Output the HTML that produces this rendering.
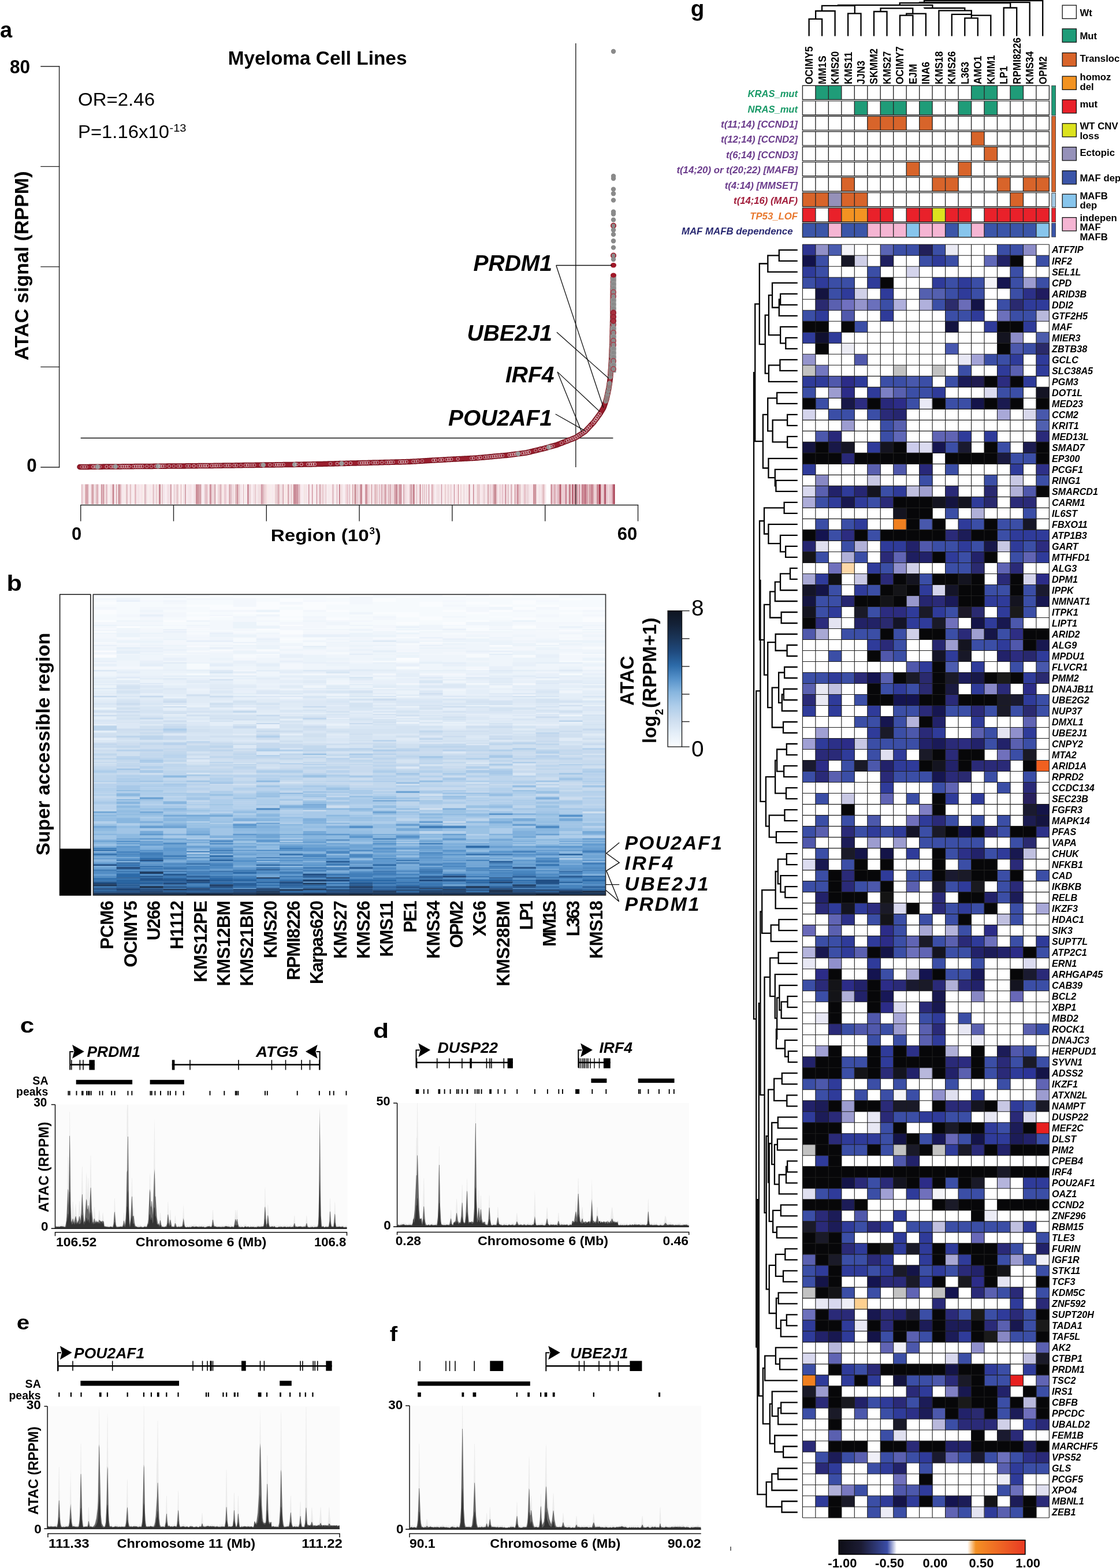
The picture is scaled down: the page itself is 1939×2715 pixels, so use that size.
<!DOCTYPE html>
<html><head><meta charset="utf-8"><title>Figure</title>
<style>html,body{margin:0;padding:0;background:#fff;}svg{display:block;}
text{font-family:"Liberation Sans",Arial,Helvetica,sans-serif;}</style></head>
<body><svg width="1939" height="2715" viewBox="0 0 1939 2715">
<rect width="1939" height="2715" fill="#fff"/>
<text x="0.0" y="64.5" font-size="38" font-weight="bold">a</text>
<text x="394.7" y="111.9" font-size="33" font-weight="bold" textLength="309.8" lengthAdjust="spacingAndGlyphs">Myeloma Cell Lines</text>
<line x1="102.6" y1="114.4" x2="102.6" y2="809.6" stroke="#222" stroke-width="1.4"/>
<line x1="70.3" y1="115.0" x2="103.3" y2="115.0" stroke="#222" stroke-width="1.4"/>
<line x1="70.3" y1="288.4" x2="103.3" y2="288.4" stroke="#222" stroke-width="1.4"/>
<line x1="70.3" y1="461.9" x2="103.3" y2="461.9" stroke="#222" stroke-width="1.4"/>
<line x1="70.3" y1="635.4" x2="103.3" y2="635.4" stroke="#222" stroke-width="1.4"/>
<line x1="70.3" y1="809.0" x2="103.3" y2="809.0" stroke="#222" stroke-width="1.4"/>
<text x="17.0" y="126.5" font-size="33" font-weight="bold" textLength="35.2" lengthAdjust="spacingAndGlyphs">80</text>
<text x="46.2" y="817.0" font-size="33" font-weight="bold" textLength="17.4" lengthAdjust="spacingAndGlyphs">0</text>
<text x="49.4" y="624.0" font-size="33.5" font-weight="bold" textLength="327.5" lengthAdjust="spacingAndGlyphs" transform="rotate(-90 49.4 624.0)">ATAC signal (RPPM)</text>
<text x="135.0" y="182.7" font-size="31" textLength="133.0" lengthAdjust="spacingAndGlyphs">OR=2.46</text>
<text x="135.0" y="238.9" font-size="31" textLength="158.0" lengthAdjust="spacingAndGlyphs">P=1.16x10</text>
<text x="293.5" y="227.5" font-size="19" textLength="29.0" lengthAdjust="spacingAndGlyphs">-13</text>
<line x1="139.7" y1="758.5" x2="1061.4" y2="758.5" stroke="#111" stroke-width="1.3"/>
<line x1="996.8" y1="75.0" x2="996.8" y2="809.0" stroke="#111" stroke-width="1.3"/>
<path fill="#f8e8ec" d="M140.0 838.5h1.0v34.5h-1.0zM170.0 838.5h2.5v34.5h-2.5zM186.0 838.5h1.5v34.5h-1.5zM190.5 838.5h1.0v34.5h-1.0zM193.0 838.5h1.0v34.5h-1.0zM200.0 838.5h1.0v34.5h-1.0zM202.0 838.5h1.5v34.5h-1.5zM212.5 838.5h2.5v34.5h-2.5zM220.5 838.5h1.5v34.5h-1.5zM222.0 838.5h3.0v34.5h-3.0zM241.0 838.5h2.5v34.5h-2.5zM259.0 838.5h3.0v34.5h-3.0zM287.5 838.5h3.0v34.5h-3.0zM303.5 838.5h1.5v34.5h-1.5zM316.5 838.5h1.5v34.5h-1.5zM324.0 838.5h2.0v34.5h-2.0zM331.0 838.5h2.5v34.5h-2.5zM392.0 838.5h3.0v34.5h-3.0zM395.0 838.5h1.0v34.5h-1.0zM405.0 838.5h2.0v34.5h-2.0zM426.5 838.5h1.5v34.5h-1.5zM434.5 838.5h1.5v34.5h-1.5zM440.5 838.5h1.0v34.5h-1.0zM464.5 838.5h3.0v34.5h-3.0zM470.5 838.5h3.0v34.5h-3.0zM486.5 838.5h1.0v34.5h-1.0zM491.0 838.5h1.0v34.5h-1.0zM500.5 838.5h3.0v34.5h-3.0zM519.5 838.5h3.0v34.5h-3.0zM531.0 838.5h3.0v34.5h-3.0zM536.5 838.5h1.0v34.5h-1.0zM537.5 838.5h2.5v34.5h-2.5zM570.5 838.5h1.0v34.5h-1.0zM572.5 838.5h2.5v34.5h-2.5zM581.5 838.5h1.0v34.5h-1.0zM592.5 838.5h1.0v34.5h-1.0zM628.0 838.5h1.0v34.5h-1.0zM629.0 838.5h3.0v34.5h-3.0zM658.5 838.5h1.0v34.5h-1.0zM669.5 838.5h2.0v34.5h-2.0zM722.0 838.5h1.0v34.5h-1.0zM746.0 838.5h1.0v34.5h-1.0zM773.0 838.5h1.5v34.5h-1.5zM787.0 838.5h3.0v34.5h-3.0zM805.5 838.5h1.0v34.5h-1.0zM820.5 838.5h1.0v34.5h-1.0zM830.5 838.5h2.0v34.5h-2.0zM832.5 838.5h2.0v34.5h-2.0zM859.5 838.5h1.5v34.5h-1.5zM862.0 838.5h3.0v34.5h-3.0zM871.5 838.5h2.5v34.5h-2.5zM878.5 838.5h1.0v34.5h-1.0zM917.0 838.5h3.0v34.5h-3.0zM920.0 838.5h3.0v34.5h-3.0zM936.5 838.5h1.0v34.5h-1.0zM943.0 838.5h2.5v34.5h-2.5z"/><path fill="#e4c0c8" d="M141.0 838.5h2.5v34.5h-2.5zM161.5 838.5h2.0v34.5h-2.0zM183.0 838.5h3.0v34.5h-3.0zM441.5 838.5h2.0v34.5h-2.0zM648.0 838.5h1.0v34.5h-1.0zM865.0 838.5h1.5v34.5h-1.5z"/><path fill="#f4e4e8" d="M143.5 838.5h2.5v34.5h-2.5zM156.0 838.5h1.0v34.5h-1.0zM210.0 838.5h2.5v34.5h-2.5zM239.0 838.5h2.0v34.5h-2.0zM255.5 838.5h1.0v34.5h-1.0zM282.5 838.5h3.0v34.5h-3.0zM291.5 838.5h2.0v34.5h-2.0zM326.0 838.5h3.0v34.5h-3.0zM375.5 838.5h2.5v34.5h-2.5zM415.0 838.5h3.0v34.5h-3.0zM444.5 838.5h2.0v34.5h-2.0zM446.5 838.5h1.5v34.5h-1.5zM528.5 838.5h2.5v34.5h-2.5zM560.0 838.5h3.0v34.5h-3.0zM568.5 838.5h2.0v34.5h-2.0zM578.5 838.5h2.0v34.5h-2.0zM584.0 838.5h3.0v34.5h-3.0zM644.0 838.5h3.0v34.5h-3.0zM647.0 838.5h1.0v34.5h-1.0zM654.0 838.5h2.5v34.5h-2.5zM657.5 838.5h1.0v34.5h-1.0zM723.0 838.5h2.5v34.5h-2.5zM754.5 838.5h3.0v34.5h-3.0zM760.5 838.5h1.5v34.5h-1.5zM784.0 838.5h2.0v34.5h-2.0zM801.5 838.5h1.0v34.5h-1.0zM803.5 838.5h2.0v34.5h-2.0zM806.5 838.5h1.5v34.5h-1.5zM808.0 838.5h1.0v34.5h-1.0zM821.5 838.5h2.0v34.5h-2.0zM838.5 838.5h1.0v34.5h-1.0zM841.5 838.5h2.5v34.5h-2.5zM886.5 838.5h1.0v34.5h-1.0zM904.0 838.5h2.5v34.5h-2.5zM910.5 838.5h1.0v34.5h-1.0zM915.5 838.5h1.5v34.5h-1.5zM931.5 838.5h2.5v34.5h-2.5zM934.0 838.5h2.5v34.5h-2.5z"/><path fill="#f8e8e8" d="M146.0 838.5h1.5v34.5h-1.5zM180.5 838.5h2.5v34.5h-2.5zM246.0 838.5h1.0v34.5h-1.0zM252.5 838.5h1.0v34.5h-1.0zM272.0 838.5h3.0v34.5h-3.0zM310.5 838.5h2.5v34.5h-2.5zM359.5 838.5h1.0v34.5h-1.0zM383.5 838.5h2.5v34.5h-2.5zM386.0 838.5h2.0v34.5h-2.0zM449.5 838.5h2.0v34.5h-2.0zM461.5 838.5h3.0v34.5h-3.0zM492.0 838.5h3.0v34.5h-3.0zM495.0 838.5h3.0v34.5h-3.0zM571.5 838.5h1.0v34.5h-1.0zM611.5 838.5h2.0v34.5h-2.0zM627.0 838.5h1.0v34.5h-1.0zM641.0 838.5h2.0v34.5h-2.0zM725.5 838.5h1.0v34.5h-1.0zM768.0 838.5h2.5v34.5h-2.5zM771.5 838.5h1.5v34.5h-1.5zM809.0 838.5h2.5v34.5h-2.5z"/><path fill="#d49ca4" d="M147.5 838.5h3.0v34.5h-3.0z"/><path fill="#d098a4" d="M150.5 838.5h2.0v34.5h-2.0zM251.5 838.5h1.0v34.5h-1.0zM354.5 838.5h1.0v34.5h-1.0zM490.0 838.5h1.0v34.5h-1.0zM741.5 838.5h2.0v34.5h-2.0zM763.5 838.5h2.0v34.5h-2.0z"/><path fill="#d098a0" d="M152.5 838.5h1.0v34.5h-1.0zM206.0 838.5h2.0v34.5h-2.0zM397.0 838.5h1.5v34.5h-1.5zM837.5 838.5h1.0v34.5h-1.0zM924.0 838.5h3.0v34.5h-3.0zM987.0 838.5h1.5v34.5h-1.5z"/><path fill="#f8ecf0" d="M153.5 838.5h2.5v34.5h-2.5zM157.0 838.5h1.0v34.5h-1.0zM197.5 838.5h2.5v34.5h-2.5zM228.0 838.5h2.0v34.5h-2.0zM236.0 838.5h1.5v34.5h-1.5zM254.5 838.5h1.0v34.5h-1.0zM267.5 838.5h2.0v34.5h-2.0zM281.5 838.5h1.0v34.5h-1.0zM285.5 838.5h2.0v34.5h-2.0zM297.0 838.5h1.5v34.5h-1.5zM299.5 838.5h1.0v34.5h-1.0zM308.5 838.5h1.0v34.5h-1.0zM319.0 838.5h1.0v34.5h-1.0zM322.0 838.5h2.0v34.5h-2.0zM333.5 838.5h2.0v34.5h-2.0zM348.5 838.5h3.0v34.5h-3.0zM351.5 838.5h2.0v34.5h-2.0zM418.0 838.5h3.0v34.5h-3.0zM425.0 838.5h1.5v34.5h-1.5zM431.0 838.5h1.5v34.5h-1.5zM436.0 838.5h3.0v34.5h-3.0zM522.5 838.5h3.0v34.5h-3.0zM544.5 838.5h2.5v34.5h-2.5zM551.0 838.5h1.5v34.5h-1.5zM565.5 838.5h2.0v34.5h-2.0zM577.5 838.5h1.0v34.5h-1.0zM593.5 838.5h1.0v34.5h-1.0zM594.5 838.5h1.0v34.5h-1.0zM595.5 838.5h2.5v34.5h-2.5zM603.0 838.5h1.5v34.5h-1.5zM695.5 838.5h1.5v34.5h-1.5zM697.0 838.5h1.0v34.5h-1.0zM700.5 838.5h1.0v34.5h-1.0zM728.5 838.5h1.5v34.5h-1.5zM736.5 838.5h1.5v34.5h-1.5zM739.0 838.5h2.5v34.5h-2.5zM743.5 838.5h2.5v34.5h-2.5zM751.5 838.5h3.0v34.5h-3.0zM762.0 838.5h1.5v34.5h-1.5zM765.5 838.5h2.5v34.5h-2.5zM782.0 838.5h2.0v34.5h-2.0zM813.5 838.5h1.5v34.5h-1.5zM816.5 838.5h2.5v34.5h-2.5zM880.5 838.5h3.0v34.5h-3.0zM887.5 838.5h1.0v34.5h-1.0zM888.5 838.5h1.0v34.5h-1.0z"/><path fill="#dcacb4" d="M158.0 838.5h1.5v34.5h-1.5zM738.0 838.5h1.0v34.5h-1.0zM747.0 838.5h2.0v34.5h-2.0zM959.0 838.5h2.0v34.5h-2.0z"/><path fill="#cc9098" d="M159.5 838.5h2.0v34.5h-2.0z"/><path fill="#f8ecec" d="M163.5 838.5h1.0v34.5h-1.0zM172.5 838.5h2.5v34.5h-2.5zM187.5 838.5h3.0v34.5h-3.0zM215.0 838.5h3.0v34.5h-3.0zM230.0 838.5h3.0v34.5h-3.0zM247.0 838.5h3.0v34.5h-3.0zM256.5 838.5h2.5v34.5h-2.5zM262.0 838.5h2.5v34.5h-2.5zM309.5 838.5h1.0v34.5h-1.0zM314.0 838.5h2.5v34.5h-2.5zM373.0 838.5h2.5v34.5h-2.5zM422.0 838.5h3.0v34.5h-3.0zM433.5 838.5h1.0v34.5h-1.0zM443.5 838.5h1.0v34.5h-1.0zM467.5 838.5h3.0v34.5h-3.0zM473.5 838.5h2.5v34.5h-2.5zM485.5 838.5h1.0v34.5h-1.0zM535.5 838.5h1.0v34.5h-1.0zM541.5 838.5h3.0v34.5h-3.0zM567.5 838.5h1.0v34.5h-1.0zM580.5 838.5h1.0v34.5h-1.0zM589.0 838.5h2.0v34.5h-2.0zM606.0 838.5h2.0v34.5h-2.0zM608.0 838.5h2.0v34.5h-2.0zM681.0 838.5h1.0v34.5h-1.0zM706.5 838.5h1.0v34.5h-1.0zM718.0 838.5h1.5v34.5h-1.5zM730.0 838.5h1.0v34.5h-1.0zM777.5 838.5h1.5v34.5h-1.5zM794.0 838.5h3.0v34.5h-3.0zM799.0 838.5h2.5v34.5h-2.5zM815.0 838.5h1.5v34.5h-1.5zM823.5 838.5h2.0v34.5h-2.0zM876.5 838.5h1.0v34.5h-1.0zM902.0 838.5h2.0v34.5h-2.0zM929.5 838.5h2.0v34.5h-2.0z"/><path fill="#f4e0e4" d="M164.5 838.5h1.0v34.5h-1.0zM226.5 838.5h1.5v34.5h-1.5zM237.5 838.5h1.5v34.5h-1.5zM293.5 838.5h1.0v34.5h-1.0zM329.0 838.5h2.0v34.5h-2.0zM336.5 838.5h2.5v34.5h-2.5zM360.5 838.5h2.5v34.5h-2.5zM366.5 838.5h1.0v34.5h-1.0zM404.0 838.5h1.0v34.5h-1.0zM549.0 838.5h2.0v34.5h-2.0zM555.5 838.5h2.5v34.5h-2.5zM707.5 838.5h2.0v34.5h-2.0zM834.5 838.5h3.0v34.5h-3.0zM839.5 838.5h2.0v34.5h-2.0zM866.5 838.5h2.5v34.5h-2.5z"/><path fill="#e0bcc0" d="M165.5 838.5h3.0v34.5h-3.0zM407.0 838.5h3.0v34.5h-3.0zM828.5 838.5h2.0v34.5h-2.0zM940.0 838.5h2.0v34.5h-2.0z"/><path fill="#d49ca8" d="M168.5 838.5h1.5v34.5h-1.5zM451.5 838.5h3.0v34.5h-3.0zM632.0 838.5h1.0v34.5h-1.0zM874.0 838.5h2.5v34.5h-2.5z"/><path fill="#c88490" d="M175.0 838.5h1.0v34.5h-1.0zM195.0 838.5h2.5v34.5h-2.5zM219.5 838.5h1.0v34.5h-1.0zM280.5 838.5h1.0v34.5h-1.0zM512.0 838.5h1.5v34.5h-1.5zM643.0 838.5h1.0v34.5h-1.0zM691.5 838.5h2.0v34.5h-2.0zM726.5 838.5h2.0v34.5h-2.0zM793.0 838.5h1.0v34.5h-1.0zM811.5 838.5h2.0v34.5h-2.0zM819.0 838.5h1.5v34.5h-1.5zM858.0 838.5h1.5v34.5h-1.5zM1033.0 838.5h2.0v34.5h-2.0z"/><path fill="#dcb0b8" d="M176.0 838.5h3.0v34.5h-3.0zM355.5 838.5h1.0v34.5h-1.0zM381.0 838.5h2.5v34.5h-2.5zM659.5 838.5h3.0v34.5h-3.0zM671.5 838.5h2.0v34.5h-2.0zM676.0 838.5h1.5v34.5h-1.5zM698.0 838.5h2.5v34.5h-2.5zM1041.0 838.5h1.5v34.5h-1.5z"/><path fill="#cc909c" d="M179.0 838.5h1.5v34.5h-1.5zM410.0 838.5h2.0v34.5h-2.0zM428.0 838.5h3.0v34.5h-3.0zM510.0 838.5h2.0v34.5h-2.0zM513.5 838.5h3.0v34.5h-3.0zM534.0 838.5h1.5v34.5h-1.5zM927.0 838.5h1.5v34.5h-1.5z"/><path fill="#ecd4d8" d="M191.5 838.5h1.5v34.5h-1.5zM266.0 838.5h1.5v34.5h-1.5zM300.5 838.5h3.0v34.5h-3.0zM318.0 838.5h1.0v34.5h-1.0zM335.5 838.5h1.0v34.5h-1.0zM353.5 838.5h1.0v34.5h-1.0zM368.5 838.5h3.0v34.5h-3.0zM402.5 838.5h1.5v34.5h-1.5zM439.0 838.5h1.5v34.5h-1.5zM448.0 838.5h1.5v34.5h-1.5zM547.0 838.5h1.0v34.5h-1.0zM563.0 838.5h1.0v34.5h-1.0zM564.0 838.5h1.5v34.5h-1.5zM591.0 838.5h1.5v34.5h-1.5zM616.5 838.5h1.5v34.5h-1.5zM662.5 838.5h3.0v34.5h-3.0zM701.5 838.5h2.0v34.5h-2.0zM774.5 838.5h3.0v34.5h-3.0zM781.0 838.5h1.0v34.5h-1.0zM912.5 838.5h3.0v34.5h-3.0zM981.0 838.5h2.5v34.5h-2.5z"/><path fill="#e4c0c4" d="M194.0 838.5h1.0v34.5h-1.0zM503.5 838.5h2.0v34.5h-2.0zM721.0 838.5h1.0v34.5h-1.0zM909.0 838.5h1.5v34.5h-1.5zM1018.5 838.5h2.0v34.5h-2.0z"/><path fill="#c88890" d="M201.0 838.5h1.0v34.5h-1.0z"/><path fill="#f0d8dc" d="M203.5 838.5h1.0v34.5h-1.0zM640.0 838.5h1.0v34.5h-1.0zM719.5 838.5h1.5v34.5h-1.5zM779.0 838.5h2.0v34.5h-2.0zM797.0 838.5h2.0v34.5h-2.0zM846.0 838.5h2.5v34.5h-2.5zM956.0 838.5h1.0v34.5h-1.0zM1004.0 838.5h3.0v34.5h-3.0zM1040.0 838.5h1.0v34.5h-1.0zM1052.0 838.5h3.0v34.5h-3.0z"/><path fill="#cc949c" d="M204.5 838.5h1.5v34.5h-1.5zM341.0 838.5h3.0v34.5h-3.0zM711.5 838.5h2.0v34.5h-2.0zM855.0 838.5h3.0v34.5h-3.0zM879.5 838.5h1.0v34.5h-1.0z"/><path fill="#e4bcc4" d="M208.0 838.5h2.0v34.5h-2.0zM233.0 838.5h3.0v34.5h-3.0zM356.5 838.5h3.0v34.5h-3.0z"/><path fill="#e4c4c8" d="M218.0 838.5h1.5v34.5h-1.5zM396.0 838.5h1.0v34.5h-1.0zM455.5 838.5h3.0v34.5h-3.0zM487.5 838.5h1.0v34.5h-1.0zM673.5 838.5h1.5v34.5h-1.5zM802.5 838.5h1.0v34.5h-1.0z"/><path fill="#dcb4b8" d="M225.0 838.5h1.5v34.5h-1.5z"/><path fill="#f8e4e8" d="M243.5 838.5h2.5v34.5h-2.5zM298.5 838.5h1.0v34.5h-1.0zM639.0 838.5h1.0v34.5h-1.0zM703.5 838.5h3.0v34.5h-3.0zM790.0 838.5h3.0v34.5h-3.0z"/><path fill="#dcb4bc" d="M250.0 838.5h1.5v34.5h-1.5zM421.0 838.5h1.0v34.5h-1.0zM604.5 838.5h1.5v34.5h-1.5z"/><path fill="#ecd0d4" d="M253.5 838.5h1.0v34.5h-1.0zM269.5 838.5h2.5v34.5h-2.5zM378.0 838.5h3.0v34.5h-3.0zM476.0 838.5h3.0v34.5h-3.0zM483.0 838.5h2.5v34.5h-2.5zM575.0 838.5h1.0v34.5h-1.0zM636.0 838.5h3.0v34.5h-3.0zM688.0 838.5h2.5v34.5h-2.5zM749.0 838.5h2.5v34.5h-2.5zM757.5 838.5h1.0v34.5h-1.0zM861.0 838.5h1.0v34.5h-1.0zM937.5 838.5h2.5v34.5h-2.5zM942.0 838.5h1.0v34.5h-1.0zM971.5 838.5h1.0v34.5h-1.0zM972.5 838.5h2.5v34.5h-2.5zM1028.0 838.5h3.0v34.5h-3.0zM1032.0 838.5h1.0v34.5h-1.0zM1042.5 838.5h3.0v34.5h-3.0z"/><path fill="#e0b8c0" d="M264.5 838.5h1.5v34.5h-1.5zM516.5 838.5h3.0v34.5h-3.0zM582.5 838.5h1.5v34.5h-1.5zM668.0 838.5h1.5v34.5h-1.5zM965.0 838.5h2.0v34.5h-2.0z"/><path fill="#c88894" d="M275.0 838.5h3.0v34.5h-3.0zM454.5 838.5h1.0v34.5h-1.0zM508.0 838.5h2.0v34.5h-2.0zM587.0 838.5h2.0v34.5h-2.0zM624.0 838.5h3.0v34.5h-3.0zM690.5 838.5h1.0v34.5h-1.0zM786.0 838.5h1.0v34.5h-1.0z"/><path fill="#f4e4e4" d="M278.0 838.5h2.5v34.5h-2.5zM505.5 838.5h1.0v34.5h-1.0zM525.5 838.5h3.0v34.5h-3.0z"/><path fill="#e8c4cc" d="M290.5 838.5h1.0v34.5h-1.0zM601.0 838.5h2.0v34.5h-2.0zM848.5 838.5h2.0v34.5h-2.0zM869.0 838.5h2.5v34.5h-2.5zM906.5 838.5h2.5v34.5h-2.5zM911.5 838.5h1.0v34.5h-1.0zM1058.0 838.5h1.5v34.5h-1.5z"/><path fill="#d4a4ac" d="M294.5 838.5h2.5v34.5h-2.5zM320.0 838.5h2.0v34.5h-2.0zM623.0 838.5h1.0v34.5h-1.0z"/><path fill="#e8ccd0" d="M305.0 838.5h2.5v34.5h-2.5zM367.5 838.5h1.0v34.5h-1.0zM479.0 838.5h1.5v34.5h-1.5zM488.5 838.5h1.5v34.5h-1.5zM733.5 838.5h3.0v34.5h-3.0zM899.5 838.5h2.5v34.5h-2.5zM983.5 838.5h1.5v34.5h-1.5zM988.5 838.5h2.0v34.5h-2.0z"/><path fill="#d8a4ac" d="M307.5 838.5h1.0v34.5h-1.0zM482.0 838.5h1.0v34.5h-1.0zM996.5 838.5h2.5v34.5h-2.5zM1016.0 838.5h2.5v34.5h-2.5z"/><path fill="#e0b4bc" d="M313.0 838.5h1.0v34.5h-1.0zM731.0 838.5h1.5v34.5h-1.5zM897.5 838.5h2.0v34.5h-2.0zM961.0 838.5h1.0v34.5h-1.0zM967.0 838.5h1.5v34.5h-1.5z"/><path fill="#cc8c98" d="M339.0 838.5h2.0v34.5h-2.0zM363.0 838.5h2.5v34.5h-2.5zM693.5 838.5h2.0v34.5h-2.0zM891.0 838.5h1.0v34.5h-1.0zM894.5 838.5h3.0v34.5h-3.0zM923.0 838.5h1.0v34.5h-1.0zM954.5 838.5h1.5v34.5h-1.5zM999.0 838.5h1.0v34.5h-1.0zM1025.0 838.5h1.0v34.5h-1.0zM1035.0 838.5h2.0v34.5h-2.0z"/><path fill="#d8a8b0" d="M344.0 838.5h2.0v34.5h-2.0zM432.5 838.5h1.0v34.5h-1.0zM498.0 838.5h2.5v34.5h-2.5zM682.0 838.5h3.0v34.5h-3.0zM709.5 838.5h2.0v34.5h-2.0zM770.5 838.5h1.0v34.5h-1.0zM844.0 838.5h2.0v34.5h-2.0zM853.5 838.5h1.5v34.5h-1.5zM885.0 838.5h1.5v34.5h-1.5zM1022.0 838.5h2.0v34.5h-2.0z"/><path fill="#d4a0a8" d="M346.0 838.5h2.5v34.5h-2.5zM610.0 838.5h1.5v34.5h-1.5zM665.5 838.5h2.5v34.5h-2.5zM1026.0 838.5h2.0v34.5h-2.0z"/><path fill="#d094a0" d="M365.5 838.5h1.0v34.5h-1.0zM540.0 838.5h1.5v34.5h-1.5zM548.0 838.5h1.0v34.5h-1.0zM634.0 838.5h2.0v34.5h-2.0zM656.5 838.5h1.0v34.5h-1.0zM717.0 838.5h1.0v34.5h-1.0zM1014.5 838.5h1.5v34.5h-1.5z"/><path fill="#c88c98" d="M371.5 838.5h1.5v34.5h-1.5zM685.0 838.5h3.0v34.5h-3.0z"/><path fill="#e8c8d0" d="M388.0 838.5h1.0v34.5h-1.0zM618.0 838.5h2.0v34.5h-2.0zM680.0 838.5h1.0v34.5h-1.0zM713.5 838.5h1.5v34.5h-1.5zM883.5 838.5h1.5v34.5h-1.5zM957.0 838.5h2.0v34.5h-2.0zM992.5 838.5h2.0v34.5h-2.0zM1000.0 838.5h2.5v34.5h-2.5zM1049.0 838.5h3.0v34.5h-3.0zM1055.0 838.5h2.0v34.5h-2.0z"/><path fill="#ecccd4" d="M389.0 838.5h3.0v34.5h-3.0zM851.5 838.5h2.0v34.5h-2.0zM877.5 838.5h1.0v34.5h-1.0zM892.0 838.5h2.5v34.5h-2.5zM975.0 838.5h1.0v34.5h-1.0zM976.0 838.5h2.5v34.5h-2.5zM1031.0 838.5h1.0v34.5h-1.0zM1057.0 838.5h1.0v34.5h-1.0z"/><path fill="#e0bcc4" d="M398.5 838.5h2.5v34.5h-2.5z"/><path fill="#f0dce0" d="M401.0 838.5h1.5v34.5h-1.5zM506.5 838.5h1.5v34.5h-1.5zM620.0 838.5h3.0v34.5h-3.0zM677.5 838.5h2.5v34.5h-2.5zM732.5 838.5h1.0v34.5h-1.0zM758.5 838.5h2.0v34.5h-2.0zM850.5 838.5h1.0v34.5h-1.0zM928.5 838.5h1.0v34.5h-1.0z"/><path fill="#e8c8cc" d="M412.0 838.5h3.0v34.5h-3.0zM558.0 838.5h2.0v34.5h-2.0zM651.5 838.5h2.5v34.5h-2.5zM825.5 838.5h3.0v34.5h-3.0z"/><path fill="#f0d4d8" d="M458.5 838.5h3.0v34.5h-3.0zM598.0 838.5h3.0v34.5h-3.0z"/><path fill="#d8acb4" d="M480.5 838.5h1.5v34.5h-1.5zM552.5 838.5h1.0v34.5h-1.0zM553.5 838.5h2.0v34.5h-2.0zM576.0 838.5h1.5v34.5h-1.5zM675.0 838.5h1.0v34.5h-1.0z"/><path fill="#c88c94" d="M613.5 838.5h3.0v34.5h-3.0z"/><path fill="#d0949c" d="M633.0 838.5h1.0v34.5h-1.0z"/><path fill="#e0b8bc" d="M649.0 838.5h2.5v34.5h-2.5z"/><path fill="#c4808c" d="M715.0 838.5h2.0v34.5h-2.0z"/><path fill="#f4e0e0" d="M889.5 838.5h1.5v34.5h-1.5z"/><path fill="#b86070" d="M953.5 838.5h1.0v34.5h-1.0z"/><path fill="#ecd0d8" d="M962.0 838.5h3.0v34.5h-3.0z"/><path fill="#b85c6c" d="M968.5 838.5h3.0v34.5h-3.0zM994.5 838.5h2.0v34.5h-2.0z"/><path fill="#c88090" d="M978.5 838.5h2.5v34.5h-2.5z"/><path fill="#c47c88" d="M985.0 838.5h2.0v34.5h-2.0zM1020.5 838.5h1.5v34.5h-1.5z"/><path fill="#a83c50" d="M990.5 838.5h2.0v34.5h-2.0zM1037.0 838.5h3.0v34.5h-3.0zM1061.5 838.5h3.0v34.5h-3.0z"/><path fill="#c47888" d="M1002.5 838.5h1.5v34.5h-1.5zM1007.0 838.5h2.5v34.5h-2.5z"/><path fill="#c8808c" d="M1009.5 838.5h3.0v34.5h-3.0z"/><path fill="#b4586c" d="M1012.5 838.5h2.0v34.5h-2.0z"/><path fill="#b85c70" d="M1024.0 838.5h1.0v34.5h-1.0z"/><path fill="#bc6878" d="M1045.5 838.5h2.5v34.5h-2.5z"/><path fill="#b05064" d="M1048.0 838.5h1.0v34.5h-1.0z"/><path fill="#c88494" d="M1059.5 838.5h2.0v34.5h-2.0z"/>
<rect x="996.30" y="838.50" width="1.30" height="35.00" fill="#333"/>
<line x1="139.7" y1="874.5" x2="1105.2" y2="874.5" stroke="#222" stroke-width="1.4"/>
<line x1="139.7" y1="874.0" x2="139.7" y2="902.5" stroke="#222" stroke-width="1.4"/>
<line x1="300.5" y1="874.0" x2="300.5" y2="902.5" stroke="#222" stroke-width="1.4"/>
<line x1="461.3" y1="874.0" x2="461.3" y2="902.5" stroke="#222" stroke-width="1.4"/>
<line x1="622.1" y1="874.0" x2="622.1" y2="902.5" stroke="#222" stroke-width="1.4"/>
<line x1="782.9" y1="874.0" x2="782.9" y2="902.5" stroke="#222" stroke-width="1.4"/>
<line x1="943.7" y1="874.0" x2="943.7" y2="902.5" stroke="#222" stroke-width="1.4"/>
<line x1="1104.5" y1="874.0" x2="1104.5" y2="902.5" stroke="#222" stroke-width="1.4"/>
<text x="124.0" y="935.0" font-size="31" font-weight="bold">0</text>
<text x="1068.8" y="934.6" font-size="31" font-weight="bold">60</text>
<text x="468.8" y="937.0" font-size="30" font-weight="bold" textLength="170.0" lengthAdjust="spacingAndGlyphs">Region (10</text>
<text x="639.5" y="925.0" font-size="17" font-weight="bold">3</text>
<text x="649.5" y="937.0" font-size="30" font-weight="bold">)</text>
<path d="M138.0,808.5 L139.9,808.5 L141.9,808.5 L143.8,808.4 L145.8,808.4 L147.7,808.4 L149.6,808.4 L151.6,808.4 L153.5,808.4 L155.4,808.3 L157.4,808.3 L159.3,808.3 L161.3,808.3 L163.2,808.3 L165.1,808.3 L167.1,808.2 L169.0,808.2 L170.9,808.2 L172.9,808.2 L174.8,808.2 L176.8,808.2 L178.7,808.1 L180.6,808.1 L182.6,808.1 L184.5,808.1 L186.4,808.1 L188.4,808.0 L190.3,808.0 L192.3,808.0 L194.2,808.0 L196.1,808.0 L198.1,808.0 L200.0,807.9 L201.9,807.9 L203.9,807.9 L205.8,807.9 L207.8,807.9 L209.7,807.9 L211.6,807.8 L213.6,807.8 L215.5,807.8 L217.5,807.8 L219.4,807.8 L221.3,807.7 L223.3,807.7 L225.2,807.7 L227.1,807.7 L229.1,807.7 L231.0,807.7 L233.0,807.6 L234.9,807.6 L236.8,807.6 L238.8,807.6 L240.7,807.6 L242.6,807.6 L244.6,807.5 L246.5,807.5 L248.5,807.5 L250.4,807.5 L252.3,807.5 L254.3,807.5 L256.2,807.4 L258.1,807.4 L260.1,807.4 L262.0,807.4 L264.0,807.4 L265.9,807.3 L267.8,807.3 L269.8,807.3 L271.7,807.3 L273.6,807.3 L275.6,807.3 L277.5,807.2 L279.5,807.2 L281.4,807.2 L283.3,807.2 L285.3,807.2 L287.2,807.2 L289.2,807.1 L291.1,807.1 L293.0,807.1 L295.0,807.1 L296.9,807.1 L298.8,807.1 L300.8,807.0 L302.7,807.0 L304.7,807.0 L306.6,807.0 L308.5,807.0 L310.5,806.9 L312.4,806.9 L314.3,806.9 L316.3,806.9 L318.2,806.9 L320.2,806.9 L322.1,806.8 L324.0,806.8 L326.0,806.8 L327.9,806.8 L329.8,806.8 L331.8,806.8 L333.7,806.7 L335.7,806.7 L337.6,806.7 L339.5,806.7 L341.5,806.7 L343.4,806.6 L345.3,806.6 L347.3,806.6 L349.2,806.6 L351.2,806.6 L353.1,806.6 L355.0,806.5 L357.0,806.5 L358.9,806.5 L360.9,806.5 L362.8,806.5 L364.7,806.4 L366.7,806.4 L368.6,806.4 L370.5,806.3 L372.5,806.3 L374.4,806.3 L376.4,806.3 L378.3,806.2 L380.2,806.2 L382.2,806.2 L384.1,806.2 L386.0,806.1 L388.0,806.1 L389.9,806.1 L391.9,806.0 L393.8,806.0 L395.7,806.0 L397.7,806.0 L399.6,805.9 L401.5,805.9 L403.5,805.9 L405.4,805.9 L407.4,805.8 L409.3,805.8 L411.2,805.8 L413.2,805.7 L415.1,805.7 L417.0,805.7 L419.0,805.7 L420.9,805.6 L422.9,805.6 L424.8,805.6 L426.7,805.5 L428.7,805.5 L430.6,805.5 L432.5,805.5 L434.5,805.4 L436.4,805.4 L438.4,805.4 L440.3,805.4 L442.2,805.3 L444.2,805.3 L446.1,805.3 L448.1,805.2 L450.0,805.2 L451.9,805.2 L453.9,805.2 L455.8,805.1 L457.7,805.1 L459.7,805.1 L461.6,805.0 L463.6,805.0 L465.5,805.0 L467.4,805.0 L469.4,804.9 L471.3,804.9 L473.2,804.9 L475.2,804.9 L477.1,804.8 L479.1,804.8 L481.0,804.8 L482.9,804.7 L484.9,804.7 L486.8,804.7 L488.7,804.7 L490.7,804.6 L492.6,804.6 L494.6,804.6 L496.5,804.6 L498.4,804.5 L500.4,804.5 L502.3,804.5 L504.2,804.4 L506.2,804.4 L508.1,804.4 L510.1,804.4 L512.0,804.3 L513.9,804.3 L515.9,804.3 L517.8,804.2 L519.7,804.2 L521.7,804.2 L523.6,804.2 L525.6,804.1 L527.5,804.1 L529.4,804.1 L531.4,804.1 L533.3,804.0 L535.2,804.0 L537.2,803.9 L539.1,803.9 L541.1,803.8 L543.0,803.8 L544.9,803.7 L546.9,803.7 L548.8,803.6 L550.7,803.6 L552.7,803.5 L554.6,803.5 L556.6,803.4 L558.5,803.4 L560.4,803.3 L562.4,803.3 L564.3,803.2 L566.2,803.2 L568.2,803.1 L570.1,803.1 L572.1,803.0 L574.0,803.0 L575.9,802.9 L577.9,802.9 L579.8,802.8 L581.7,802.8 L583.7,802.7 L585.6,802.7 L587.6,802.6 L589.5,802.6 L591.4,802.5 L593.4,802.5 L595.3,802.4 L597.2,802.4 L599.2,802.3 L601.1,802.3 L603.1,802.2 L605.0,802.2 L606.9,802.1 L608.9,802.1 L610.8,802.0 L612.7,802.0 L614.7,801.9 L616.6,801.9 L618.6,801.8 L620.5,801.8 L622.4,801.7 L624.4,801.7 L626.3,801.6 L628.2,801.6 L630.2,801.5 L632.1,801.5 L634.0,801.4 L636.0,801.4 L637.9,801.3 L639.9,801.3 L641.8,801.2 L643.7,801.2 L645.7,801.1 L647.6,801.1 L649.5,801.0 L651.5,801.0 L653.4,800.9 L655.4,800.9 L657.3,800.8 L659.2,800.8 L661.2,800.7 L663.1,800.7 L665.0,800.6 L667.0,800.6 L668.9,800.5 L670.9,800.5 L672.8,800.4 L674.7,800.4 L676.7,800.3 L678.6,800.3 L680.5,800.2 L682.5,800.2 L684.4,800.1 L686.4,800.1 L688.3,800.0 L690.2,800.0 L692.2,799.9 L694.1,799.9 L696.0,799.8 L698.0,799.8 L699.9,799.7 L701.9,799.7 L703.8,799.6 L705.7,799.6 L707.7,799.5 L709.6,799.5 L711.5,799.3 L713.5,799.2 L715.4,799.1 L717.3,799.0 L719.3,798.9 L721.2,798.8 L723.1,798.6 L725.1,798.5 L727.0,798.4 L728.9,798.3 L730.9,798.2 L732.8,798.0 L734.7,797.9 L736.7,797.8 L738.6,797.7 L740.6,797.6 L742.5,797.5 L744.4,797.3 L746.4,797.2 L748.3,797.1 L750.2,797.0 L752.2,796.9 L754.1,796.8 L756.0,796.7 L758.0,796.6 L759.9,796.5 L761.8,796.4 L763.8,796.3 L765.7,796.2 L767.6,796.1 L769.6,796.0 L771.5,795.9 L773.4,795.7 L775.4,795.6 L777.3,795.5 L779.3,795.4 L781.2,795.3 L783.1,795.2 L785.1,795.1 L787.0,795.0 L788.9,794.9 L790.9,794.8 L792.8,794.7 L794.7,794.6 L796.7,794.5 L798.6,794.4 L800.5,794.3 L802.5,794.2 L804.4,794.1 L806.3,794.0 L808.3,793.9 L810.2,793.8 L812.1,793.7 L814.1,793.6 L816.0,793.5 L818.0,793.4 L819.9,793.3 L821.8,793.2 L823.8,793.1 L825.7,792.9 L827.6,792.8 L829.6,792.6 L831.5,792.4 L833.4,792.2 L835.3,792.1 L837.3,791.9 L839.2,791.7 L841.1,791.5 L843.1,791.4 L845.0,791.2 L846.9,791.0 L848.9,790.8 L850.8,790.7 L852.7,790.5 L854.6,790.3 L856.6,790.1 L858.5,790.0 L860.4,789.8 L862.4,789.6 L864.3,789.4 L866.2,789.3 L868.2,789.1 L870.1,788.9 L872.0,788.7 L873.9,788.6 L875.9,788.4 L877.8,788.2 L879.7,788.0 L881.7,787.8 L883.6,787.5 L885.5,787.3 L887.4,787.0 L889.3,786.8 L891.3,786.5 L893.2,786.3 L895.1,786.1 L897.0,785.8 L899.0,785.6 L900.9,785.3 L902.8,785.1 L904.7,784.8 L906.6,784.6 L908.6,784.3 L910.5,784.1 L912.4,783.7 L914.3,783.2 L916.1,782.8 L918.0,782.3 L919.9,781.8 L921.8,781.4 L923.7,780.9 L925.6,780.5 L927.4,780.0 L929.3,779.6 L931.2,779.1 L933.1,778.7 L935.0,778.2 L936.9,777.7 L938.7,777.3 L940.6,776.8 L942.5,776.4 L944.4,775.8 L946.2,775.3 L948.1,774.8 L950.0,774.2 L951.8,773.7 L953.7,773.2 L955.6,772.7 L957.4,772.1 L959.3,771.6 L961.2,771.1 L963.0,770.6 L964.9,770.0 L966.7,769.3 L968.5,768.6 L970.3,767.9 L972.1,767.2 L973.9,766.5 L975.7,765.8 L977.5,765.1 L979.3,764.4 L981.1,763.7 L982.9,763.0 L984.7,762.3 L986.6,761.6 L988.4,760.9 L990.2,760.2 L992.0,759.5 L993.8,758.8 L995.6,758.1 L997.3,757.3 L999.0,756.2 L1000.6,755.1 L1002.2,754.1 L1003.8,753.0 L1005.4,752.0 L1007.1,750.9 L1008.7,749.8 L1010.3,748.8 L1011.9,747.7 L1013.4,746.5 L1014.8,745.1 L1016.1,743.7 L1017.4,742.3 L1018.7,740.9 L1020.1,739.5 L1021.4,738.0 L1022.7,736.6 L1024.1,735.2 L1025.4,733.8 L1026.7,732.4 L1028.0,731.0 L1029.2,729.4 L1030.3,727.8 L1031.5,726.3 L1032.6,724.7 L1033.8,723.2 L1034.9,721.6 L1036.0,720.0 L1037.2,718.5 L1038.3,716.9 L1039.4,715.3 L1040.4,713.6 L1041.4,712.0 L1042.4,710.3 L1043.4,708.7 L1044.4,707.0 L1045.2,705.3 L1045.9,703.4 L1046.5,701.6 L1047.1,699.7 L1047.7,697.9 L1048.3,696.1 L1048.9,694.2 L1049.5,692.4 L1050.1,690.5 L1050.5,688.6 L1050.9,686.7 L1051.3,684.8 L1051.7,682.9 L1052.1,681.1 L1052.5,679.2 L1052.9,677.3 L1053.3,675.4 L1053.7,673.5 L1054.1,671.6 L1054.3,669.6 L1054.6,667.7 L1054.9,665.8 L1055.2,663.9 L1055.5,662.0 L1055.8,660.1 L1056.0,658.1 L1056.3,656.2 L1056.5,654.3 L1056.7,652.4 L1056.8,650.4 L1056.9,648.5 L1057.1,646.6 L1057.2,644.6 L1057.3,642.7 L1057.4,640.8 L1057.6,638.8 L1057.7,636.9 L1057.8,635.0 L1058.0,633.0 L1058.1,631.1 L1058.2,629.2 L1058.4,627.2 L1058.5,625.3 L1058.6,623.4 L1058.7,621.4 L1058.7,619.5 L1058.8,617.6 L1058.9,615.6 L1059.0,613.7 L1059.1,611.7 L1059.2,609.8 L1059.2,607.9 L1059.3,605.9 L1059.4,604.0 L1059.5,602.1 L1059.6,600.1 L1059.6,598.2 L1059.7,596.3 L1059.8,594.3 L1059.9,592.4 L1060.0,590.4 L1060.0,588.5 L1060.1,586.6 L1060.1,584.6 L1060.1,582.7 L1060.2,580.8 L1060.2,578.8 L1060.3,576.9 L1060.3,574.9 L1060.3,573.0 L1060.4,571.1 L1060.4,569.1 L1060.5,567.2 L1060.5,565.3 L1060.5,563.3 L1060.6,561.4 L1060.6,559.4 L1060.6,557.5 L1060.7,555.6 L1060.7,553.6 L1060.8,551.7 L1060.8,549.8 L1060.8,547.8 L1060.9,545.9 L1060.9,543.9 L1061.0,542.0 L1061.0,540.1 L1061.0,538.1 L1061.0,536.2 L1061.0,534.3 L1061.1,532.3 L1061.1,530.4 L1061.1,528.4 L1061.1,526.5 L1061.1,524.6 L1061.1,522.6 L1061.2,520.7 L1061.2,518.8 L1061.2,516.8 L1061.2,514.9 L1061.2,512.9 L1061.2,511.0 L1061.3,509.1 L1061.3,507.1 L1061.3,505.2 L1061.3,503.3 L1061.3,501.3 L1061.3,499.4 L1061.4,497.4 L1061.4,495.5 L1061.4,493.6 L1061.4,491.6 L1061.4,489.7 L1061.4,487.8 L1061.5,485.8 L1061.5,483.9 L1061.5,481.9 L1061.5,480.0" fill="none" stroke="#7e1622" stroke-width="9.5" stroke-linecap="round" stroke-linejoin="round"/>
<path d="M138.0,808.5 L139.9,808.5 L141.9,808.5 L143.8,808.4 L145.8,808.4 L147.7,808.4 L149.6,808.4 L151.6,808.4 L153.5,808.4 L155.4,808.3 L157.4,808.3 L159.3,808.3 L161.3,808.3 L163.2,808.3 L165.1,808.3 L167.1,808.2 L169.0,808.2 L170.9,808.2 L172.9,808.2 L174.8,808.2 L176.8,808.2 L178.7,808.1 L180.6,808.1 L182.6,808.1 L184.5,808.1 L186.4,808.1 L188.4,808.0 L190.3,808.0 L192.3,808.0 L194.2,808.0 L196.1,808.0 L198.1,808.0 L200.0,807.9 L201.9,807.9 L203.9,807.9 L205.8,807.9 L207.8,807.9 L209.7,807.9 L211.6,807.8 L213.6,807.8 L215.5,807.8 L217.5,807.8 L219.4,807.8 L221.3,807.7 L223.3,807.7 L225.2,807.7 L227.1,807.7 L229.1,807.7 L231.0,807.7 L233.0,807.6 L234.9,807.6 L236.8,807.6 L238.8,807.6 L240.7,807.6 L242.6,807.6 L244.6,807.5 L246.5,807.5 L248.5,807.5 L250.4,807.5 L252.3,807.5 L254.3,807.5 L256.2,807.4 L258.1,807.4 L260.1,807.4 L262.0,807.4 L264.0,807.4 L265.9,807.3 L267.8,807.3 L269.8,807.3 L271.7,807.3 L273.6,807.3 L275.6,807.3 L277.5,807.2 L279.5,807.2 L281.4,807.2 L283.3,807.2 L285.3,807.2 L287.2,807.2 L289.2,807.1 L291.1,807.1 L293.0,807.1 L295.0,807.1 L296.9,807.1 L298.8,807.1 L300.8,807.0 L302.7,807.0 L304.7,807.0 L306.6,807.0 L308.5,807.0 L310.5,806.9 L312.4,806.9 L314.3,806.9 L316.3,806.9 L318.2,806.9 L320.2,806.9 L322.1,806.8 L324.0,806.8 L326.0,806.8 L327.9,806.8 L329.8,806.8 L331.8,806.8 L333.7,806.7 L335.7,806.7 L337.6,806.7 L339.5,806.7 L341.5,806.7 L343.4,806.6 L345.3,806.6 L347.3,806.6 L349.2,806.6 L351.2,806.6 L353.1,806.6 L355.0,806.5 L357.0,806.5 L358.9,806.5 L360.9,806.5 L362.8,806.5 L364.7,806.4 L366.7,806.4 L368.6,806.4 L370.5,806.3 L372.5,806.3 L374.4,806.3 L376.4,806.3 L378.3,806.2 L380.2,806.2 L382.2,806.2 L384.1,806.2 L386.0,806.1 L388.0,806.1 L389.9,806.1 L391.9,806.0 L393.8,806.0 L395.7,806.0 L397.7,806.0 L399.6,805.9 L401.5,805.9 L403.5,805.9 L405.4,805.9 L407.4,805.8 L409.3,805.8 L411.2,805.8 L413.2,805.7 L415.1,805.7 L417.0,805.7 L419.0,805.7 L420.9,805.6 L422.9,805.6 L424.8,805.6 L426.7,805.5 L428.7,805.5 L430.6,805.5 L432.5,805.5 L434.5,805.4 L436.4,805.4 L438.4,805.4 L440.3,805.4 L442.2,805.3 L444.2,805.3 L446.1,805.3 L448.1,805.2 L450.0,805.2 L451.9,805.2 L453.9,805.2 L455.8,805.1 L457.7,805.1 L459.7,805.1 L461.6,805.0 L463.6,805.0 L465.5,805.0 L467.4,805.0 L469.4,804.9 L471.3,804.9 L473.2,804.9 L475.2,804.9 L477.1,804.8 L479.1,804.8 L481.0,804.8 L482.9,804.7 L484.9,804.7 L486.8,804.7 L488.7,804.7 L490.7,804.6 L492.6,804.6 L494.6,804.6 L496.5,804.6 L498.4,804.5 L500.4,804.5 L502.3,804.5 L504.2,804.4 L506.2,804.4 L508.1,804.4 L510.1,804.4 L512.0,804.3 L513.9,804.3 L515.9,804.3 L517.8,804.2 L519.7,804.2 L521.7,804.2 L523.6,804.2 L525.6,804.1 L527.5,804.1 L529.4,804.1 L531.4,804.1 L533.3,804.0 L535.2,804.0 L537.2,803.9 L539.1,803.9 L541.1,803.8 L543.0,803.8 L544.9,803.7 L546.9,803.7 L548.8,803.6 L550.7,803.6 L552.7,803.5 L554.6,803.5 L556.6,803.4 L558.5,803.4 L560.4,803.3 L562.4,803.3 L564.3,803.2 L566.2,803.2 L568.2,803.1 L570.1,803.1 L572.1,803.0 L574.0,803.0 L575.9,802.9 L577.9,802.9 L579.8,802.8 L581.7,802.8 L583.7,802.7 L585.6,802.7 L587.6,802.6 L589.5,802.6 L591.4,802.5 L593.4,802.5 L595.3,802.4 L597.2,802.4 L599.2,802.3 L601.1,802.3 L603.1,802.2 L605.0,802.2 L606.9,802.1 L608.9,802.1 L610.8,802.0 L612.7,802.0 L614.7,801.9 L616.6,801.9 L618.6,801.8 L620.5,801.8 L622.4,801.7 L624.4,801.7 L626.3,801.6 L628.2,801.6 L630.2,801.5 L632.1,801.5 L634.0,801.4 L636.0,801.4 L637.9,801.3 L639.9,801.3 L641.8,801.2 L643.7,801.2 L645.7,801.1 L647.6,801.1 L649.5,801.0 L651.5,801.0 L653.4,800.9 L655.4,800.9 L657.3,800.8 L659.2,800.8 L661.2,800.7 L663.1,800.7 L665.0,800.6 L667.0,800.6 L668.9,800.5 L670.9,800.5 L672.8,800.4 L674.7,800.4 L676.7,800.3 L678.6,800.3 L680.5,800.2 L682.5,800.2 L684.4,800.1 L686.4,800.1 L688.3,800.0 L690.2,800.0 L692.2,799.9 L694.1,799.9 L696.0,799.8 L698.0,799.8 L699.9,799.7 L701.9,799.7 L703.8,799.6 L705.7,799.6 L707.7,799.5 L709.6,799.5 L711.5,799.3 L713.5,799.2 L715.4,799.1 L717.3,799.0 L719.3,798.9 L721.2,798.8 L723.1,798.6 L725.1,798.5 L727.0,798.4 L728.9,798.3 L730.9,798.2 L732.8,798.0 L734.7,797.9 L736.7,797.8 L738.6,797.7 L740.6,797.6 L742.5,797.5 L744.4,797.3 L746.4,797.2 L748.3,797.1 L750.2,797.0 L752.2,796.9 L754.1,796.8 L756.0,796.7 L758.0,796.6 L759.9,796.5 L761.8,796.4 L763.8,796.3 L765.7,796.2 L767.6,796.1 L769.6,796.0 L771.5,795.9 L773.4,795.7 L775.4,795.6 L777.3,795.5 L779.3,795.4 L781.2,795.3 L783.1,795.2 L785.1,795.1 L787.0,795.0 L788.9,794.9 L790.9,794.8 L792.8,794.7 L794.7,794.6 L796.7,794.5 L798.6,794.4 L800.5,794.3 L802.5,794.2 L804.4,794.1 L806.3,794.0 L808.3,793.9 L810.2,793.8 L812.1,793.7 L814.1,793.6 L816.0,793.5 L818.0,793.4 L819.9,793.3 L821.8,793.2 L823.8,793.1 L825.7,792.9 L827.6,792.8 L829.6,792.6 L831.5,792.4 L833.4,792.2 L835.3,792.1 L837.3,791.9 L839.2,791.7 L841.1,791.5 L843.1,791.4 L845.0,791.2 L846.9,791.0 L848.9,790.8 L850.8,790.7 L852.7,790.5 L854.6,790.3 L856.6,790.1 L858.5,790.0 L860.4,789.8 L862.4,789.6 L864.3,789.4 L866.2,789.3 L868.2,789.1 L870.1,788.9 L872.0,788.7 L873.9,788.6 L875.9,788.4 L877.8,788.2 L879.7,788.0 L881.7,787.8 L883.6,787.5 L885.5,787.3 L887.4,787.0 L889.3,786.8 L891.3,786.5 L893.2,786.3 L895.1,786.1 L897.0,785.8 L899.0,785.6 L900.9,785.3 L902.8,785.1 L904.7,784.8 L906.6,784.6 L908.6,784.3 L910.5,784.1 L912.4,783.7 L914.3,783.2 L916.1,782.8 L918.0,782.3 L919.9,781.8 L921.8,781.4 L923.7,780.9 L925.6,780.5 L927.4,780.0 L929.3,779.6 L931.2,779.1 L933.1,778.7 L935.0,778.2 L936.9,777.7 L938.7,777.3 L940.6,776.8 L942.5,776.4 L944.4,775.8 L946.2,775.3 L948.1,774.8 L950.0,774.2 L951.8,773.7 L953.7,773.2 L955.6,772.7 L957.4,772.1 L959.3,771.6 L961.2,771.1 L963.0,770.6 L964.9,770.0 L966.7,769.3 L968.5,768.6 L970.3,767.9 L972.1,767.2 L973.9,766.5 L975.7,765.8 L977.5,765.1 L979.3,764.4 L981.1,763.7 L982.9,763.0 L984.7,762.3 L986.6,761.6 L988.4,760.9 L990.2,760.2 L992.0,759.5 L993.8,758.8 L995.6,758.1 L997.3,757.3 L999.0,756.2 L1000.6,755.1 L1002.2,754.1 L1003.8,753.0 L1005.4,752.0 L1007.1,750.9 L1008.7,749.8 L1010.3,748.8 L1011.9,747.7 L1013.4,746.5 L1014.8,745.1 L1016.1,743.7 L1017.4,742.3 L1018.7,740.9 L1020.1,739.5 L1021.4,738.0 L1022.7,736.6 L1024.1,735.2 L1025.4,733.8 L1026.7,732.4 L1028.0,731.0 L1029.2,729.4 L1030.3,727.8 L1031.5,726.3 L1032.6,724.7 L1033.8,723.2 L1034.9,721.6 L1036.0,720.0 L1037.2,718.5 L1038.3,716.9 L1039.4,715.3 L1040.4,713.6 L1041.4,712.0 L1042.4,710.3 L1043.4,708.7 L1044.4,707.0 L1045.2,705.3 L1045.9,703.4 L1046.5,701.6 L1047.1,699.7 L1047.7,697.9 L1048.3,696.1 L1048.9,694.2 L1049.5,692.4 L1050.1,690.5 L1050.5,688.6 L1050.9,686.7 L1051.3,684.8 L1051.7,682.9 L1052.1,681.1 L1052.5,679.2 L1052.9,677.3 L1053.3,675.4 L1053.7,673.5 L1054.1,671.6 L1054.3,669.6 L1054.6,667.7 L1054.9,665.8 L1055.2,663.9 L1055.5,662.0 L1055.8,660.1 L1056.0,658.1 L1056.3,656.2 L1056.5,654.3 L1056.7,652.4 L1056.8,650.4 L1056.9,648.5 L1057.1,646.6 L1057.2,644.6 L1057.3,642.7 L1057.4,640.8 L1057.6,638.8 L1057.7,636.9 L1057.8,635.0 L1058.0,633.0 L1058.1,631.1 L1058.2,629.2 L1058.4,627.2 L1058.5,625.3 L1058.6,623.4 L1058.7,621.4 L1058.7,619.5 L1058.8,617.6 L1058.9,615.6 L1059.0,613.7 L1059.1,611.7 L1059.2,609.8 L1059.2,607.9 L1059.3,605.9 L1059.4,604.0 L1059.5,602.1 L1059.6,600.1 L1059.6,598.2 L1059.7,596.3 L1059.8,594.3 L1059.9,592.4 L1060.0,590.4 L1060.0,588.5 L1060.1,586.6 L1060.1,584.6 L1060.1,582.7 L1060.2,580.8 L1060.2,578.8 L1060.3,576.9 L1060.3,574.9 L1060.3,573.0 L1060.4,571.1 L1060.4,569.1 L1060.5,567.2 L1060.5,565.3 L1060.5,563.3 L1060.6,561.4 L1060.6,559.4 L1060.6,557.5 L1060.7,555.6 L1060.7,553.6 L1060.8,551.7 L1060.8,549.8 L1060.8,547.8 L1060.9,545.9 L1060.9,543.9 L1061.0,542.0 L1061.0,540.1 L1061.0,538.1 L1061.0,536.2 L1061.0,534.3 L1061.1,532.3 L1061.1,530.4 L1061.1,528.4 L1061.1,526.5 L1061.1,524.6 L1061.1,522.6 L1061.2,520.7 L1061.2,518.8 L1061.2,516.8 L1061.2,514.9 L1061.2,512.9 L1061.2,511.0 L1061.3,509.1 L1061.3,507.1 L1061.3,505.2 L1061.3,503.3 L1061.3,501.3 L1061.3,499.4 L1061.4,497.4 L1061.4,495.5 L1061.4,493.6 L1061.4,491.6 L1061.4,489.7 L1061.4,487.8 L1061.5,485.8 L1061.5,483.9 L1061.5,481.9 L1061.5,480.0" fill="none" stroke="#9a1e2e" stroke-width="6" stroke-linecap="round" stroke-linejoin="round"/>
<g><circle cx="141.9" cy="808.5" r="2.6" fill="none" stroke="#bfa2a8" stroke-width="0.9"/><circle cx="145.8" cy="808.4" r="2.6" fill="none" stroke="#cdb4b9" stroke-width="0.9"/><circle cx="149.6" cy="808.4" r="2.6" fill="none" stroke="#bfa2a8" stroke-width="0.9"/><circle cx="161.3" cy="808.3" r="2.6" fill="none" stroke="#e2d6d8" stroke-width="0.9"/><circle cx="165.1" cy="808.3" r="2.6" fill="none" stroke="#d9c4c8" stroke-width="0.9"/><circle cx="169.0" cy="808.2" r="4.2" fill="#9a9a9a"/><circle cx="172.9" cy="808.2" r="2.6" fill="none" stroke="#bfa2a8" stroke-width="0.9"/><circle cx="184.5" cy="808.1" r="2.6" fill="none" stroke="#d9c4c8" stroke-width="0.9"/><circle cx="192.3" cy="808.0" r="2.6" fill="none" stroke="#d9c4c8" stroke-width="0.9"/><circle cx="196.1" cy="808.0" r="2.6" fill="none" stroke="#cdb4b9" stroke-width="0.9"/><circle cx="200.0" cy="807.9" r="4.2" fill="#9a9a9a"/><circle cx="207.8" cy="807.9" r="2.6" fill="none" stroke="#cdb4b9" stroke-width="0.9"/><circle cx="211.6" cy="807.8" r="2.6" fill="none" stroke="#e2d6d8" stroke-width="0.9"/><circle cx="215.5" cy="807.8" r="2.6" fill="none" stroke="#d9c4c8" stroke-width="0.9"/><circle cx="219.4" cy="807.8" r="2.6" fill="none" stroke="#e2d6d8" stroke-width="0.9"/><circle cx="223.3" cy="807.7" r="2.6" fill="none" stroke="#d9c4c8" stroke-width="0.9"/><circle cx="231.0" cy="807.7" r="2.6" fill="none" stroke="#cdb4b9" stroke-width="0.9"/><circle cx="234.9" cy="807.6" r="2.6" fill="none" stroke="#d9c4c8" stroke-width="0.9"/><circle cx="238.8" cy="807.6" r="2.6" fill="none" stroke="#d9c4c8" stroke-width="0.9"/><circle cx="242.6" cy="807.6" r="2.6" fill="none" stroke="#e2d6d8" stroke-width="0.9"/><circle cx="246.5" cy="807.5" r="2.6" fill="none" stroke="#d9c4c8" stroke-width="0.9"/><circle cx="254.3" cy="807.5" r="2.6" fill="none" stroke="#cdb4b9" stroke-width="0.9"/><circle cx="262.0" cy="807.4" r="2.6" fill="none" stroke="#bfa2a8" stroke-width="0.9"/><circle cx="269.8" cy="807.3" r="2.6" fill="none" stroke="#d9c4c8" stroke-width="0.9"/><circle cx="273.6" cy="807.3" r="4.2" fill="#9a9a9a"/><circle cx="277.5" cy="807.2" r="2.6" fill="none" stroke="#e2d6d8" stroke-width="0.9"/><circle cx="281.4" cy="807.2" r="2.6" fill="none" stroke="#e2d6d8" stroke-width="0.9"/><circle cx="285.3" cy="807.2" r="2.6" fill="none" stroke="#bfa2a8" stroke-width="0.9"/><circle cx="293.0" cy="807.1" r="2.6" fill="none" stroke="#cdb4b9" stroke-width="0.9"/><circle cx="300.8" cy="807.0" r="2.6" fill="none" stroke="#bfa2a8" stroke-width="0.9"/><circle cx="308.5" cy="807.0" r="2.6" fill="none" stroke="#cdb4b9" stroke-width="0.9"/><circle cx="312.4" cy="806.9" r="2.6" fill="none" stroke="#cdb4b9" stroke-width="0.9"/><circle cx="324.0" cy="806.8" r="2.6" fill="none" stroke="#bfa2a8" stroke-width="0.9"/><circle cx="327.9" cy="806.8" r="2.6" fill="none" stroke="#bfa2a8" stroke-width="0.9"/><circle cx="335.7" cy="806.7" r="2.6" fill="none" stroke="#e2d6d8" stroke-width="0.9"/><circle cx="343.4" cy="806.6" r="2.6" fill="none" stroke="#cdb4b9" stroke-width="0.9"/><circle cx="347.3" cy="806.6" r="2.6" fill="none" stroke="#d9c4c8" stroke-width="0.9"/><circle cx="351.2" cy="806.6" r="2.6" fill="none" stroke="#cdb4b9" stroke-width="0.9"/><circle cx="355.0" cy="806.5" r="2.6" fill="none" stroke="#e2d6d8" stroke-width="0.9"/><circle cx="358.9" cy="806.5" r="2.6" fill="none" stroke="#e2d6d8" stroke-width="0.9"/><circle cx="366.7" cy="806.4" r="2.6" fill="none" stroke="#d9c4c8" stroke-width="0.9"/><circle cx="370.5" cy="806.3" r="2.6" fill="none" stroke="#cdb4b9" stroke-width="0.9"/><circle cx="374.4" cy="806.3" r="2.6" fill="none" stroke="#e2d6d8" stroke-width="0.9"/><circle cx="378.3" cy="806.2" r="2.6" fill="none" stroke="#bfa2a8" stroke-width="0.9"/><circle cx="382.2" cy="806.2" r="2.6" fill="none" stroke="#bfa2a8" stroke-width="0.9"/><circle cx="389.9" cy="806.1" r="2.6" fill="none" stroke="#bfa2a8" stroke-width="0.9"/><circle cx="393.8" cy="806.0" r="2.6" fill="none" stroke="#cdb4b9" stroke-width="0.9"/><circle cx="397.7" cy="806.0" r="2.6" fill="none" stroke="#cdb4b9" stroke-width="0.9"/><circle cx="405.4" cy="805.9" r="2.6" fill="none" stroke="#cdb4b9" stroke-width="0.9"/><circle cx="409.3" cy="805.8" r="2.6" fill="none" stroke="#cdb4b9" stroke-width="0.9"/><circle cx="417.0" cy="805.7" r="2.6" fill="none" stroke="#bfa2a8" stroke-width="0.9"/><circle cx="424.8" cy="805.6" r="2.6" fill="none" stroke="#d9c4c8" stroke-width="0.9"/><circle cx="428.7" cy="805.5" r="2.6" fill="none" stroke="#e2d6d8" stroke-width="0.9"/><circle cx="432.5" cy="805.5" r="2.6" fill="none" stroke="#bfa2a8" stroke-width="0.9"/><circle cx="436.4" cy="805.4" r="2.6" fill="none" stroke="#bfa2a8" stroke-width="0.9"/><circle cx="440.3" cy="805.4" r="2.6" fill="none" stroke="#cdb4b9" stroke-width="0.9"/><circle cx="451.9" cy="805.2" r="2.6" fill="none" stroke="#bfa2a8" stroke-width="0.9"/><circle cx="455.8" cy="805.1" r="4.2" fill="#9a9a9a"/><circle cx="467.4" cy="805.0" r="2.6" fill="none" stroke="#cdb4b9" stroke-width="0.9"/><circle cx="475.2" cy="804.9" r="2.6" fill="none" stroke="#bfa2a8" stroke-width="0.9"/><circle cx="479.1" cy="804.8" r="2.6" fill="none" stroke="#d9c4c8" stroke-width="0.9"/><circle cx="482.9" cy="804.7" r="2.6" fill="none" stroke="#e2d6d8" stroke-width="0.9"/><circle cx="486.8" cy="804.7" r="2.6" fill="none" stroke="#cdb4b9" stroke-width="0.9"/><circle cx="490.7" cy="804.6" r="2.6" fill="none" stroke="#cdb4b9" stroke-width="0.9"/><circle cx="510.1" cy="804.4" r="4.2" fill="#9a9a9a"/><circle cx="513.9" cy="804.3" r="2.6" fill="none" stroke="#d9c4c8" stroke-width="0.9"/><circle cx="521.7" cy="804.2" r="2.6" fill="none" stroke="#e2d6d8" stroke-width="0.9"/><circle cx="533.3" cy="804.0" r="2.6" fill="none" stroke="#d9c4c8" stroke-width="0.9"/><circle cx="537.2" cy="803.9" r="2.6" fill="none" stroke="#e2d6d8" stroke-width="0.9"/><circle cx="541.1" cy="803.8" r="2.6" fill="none" stroke="#d9c4c8" stroke-width="0.9"/><circle cx="544.9" cy="803.7" r="2.6" fill="none" stroke="#e2d6d8" stroke-width="0.9"/><circle cx="572.1" cy="803.0" r="2.6" fill="none" stroke="#bfa2a8" stroke-width="0.9"/><circle cx="583.7" cy="802.7" r="2.6" fill="none" stroke="#d9c4c8" stroke-width="0.9"/><circle cx="591.4" cy="802.5" r="4.2" fill="#9a9a9a"/><circle cx="599.2" cy="802.3" r="2.6" fill="none" stroke="#d9c4c8" stroke-width="0.9"/><circle cx="606.9" cy="802.1" r="2.6" fill="none" stroke="#d9c4c8" stroke-width="0.9"/><circle cx="622.4" cy="801.7" r="2.6" fill="none" stroke="#bfa2a8" stroke-width="0.9"/><circle cx="626.3" cy="801.6" r="2.6" fill="none" stroke="#d9c4c8" stroke-width="0.9"/><circle cx="630.2" cy="801.5" r="2.6" fill="none" stroke="#d9c4c8" stroke-width="0.9"/><circle cx="634.0" cy="801.4" r="2.6" fill="none" stroke="#d9c4c8" stroke-width="0.9"/><circle cx="637.9" cy="801.3" r="2.6" fill="none" stroke="#cdb4b9" stroke-width="0.9"/><circle cx="645.7" cy="801.1" r="2.6" fill="none" stroke="#bfa2a8" stroke-width="0.9"/><circle cx="649.5" cy="801.0" r="2.6" fill="none" stroke="#d9c4c8" stroke-width="0.9"/><circle cx="653.4" cy="800.9" r="2.6" fill="none" stroke="#cdb4b9" stroke-width="0.9"/><circle cx="661.2" cy="800.7" r="2.6" fill="none" stroke="#cdb4b9" stroke-width="0.9"/><circle cx="668.9" cy="800.5" r="2.6" fill="none" stroke="#bfa2a8" stroke-width="0.9"/><circle cx="672.8" cy="800.4" r="2.6" fill="none" stroke="#cdb4b9" stroke-width="0.9"/><circle cx="676.7" cy="800.3" r="2.6" fill="none" stroke="#e2d6d8" stroke-width="0.9"/><circle cx="680.5" cy="800.2" r="2.6" fill="none" stroke="#bfa2a8" stroke-width="0.9"/><circle cx="692.2" cy="799.9" r="2.6" fill="none" stroke="#cdb4b9" stroke-width="0.9"/><circle cx="696.0" cy="799.8" r="2.6" fill="none" stroke="#e2d6d8" stroke-width="0.9"/><circle cx="699.9" cy="799.7" r="2.6" fill="none" stroke="#cdb4b9" stroke-width="0.9"/><circle cx="703.8" cy="799.6" r="2.6" fill="none" stroke="#d9c4c8" stroke-width="0.9"/><circle cx="715.4" cy="799.1" r="2.6" fill="none" stroke="#cdb4b9" stroke-width="0.9"/><circle cx="719.3" cy="798.9" r="2.6" fill="none" stroke="#bfa2a8" stroke-width="0.9"/><circle cx="723.1" cy="798.6" r="2.6" fill="none" stroke="#cdb4b9" stroke-width="0.9"/><circle cx="730.9" cy="798.2" r="2.6" fill="none" stroke="#bfa2a8" stroke-width="0.9"/><circle cx="750.2" cy="797.0" r="2.6" fill="none" stroke="#d9c4c8" stroke-width="0.9"/><circle cx="754.1" cy="796.8" r="2.6" fill="none" stroke="#d9c4c8" stroke-width="0.9"/><circle cx="761.8" cy="796.4" r="2.6" fill="none" stroke="#e2d6d8" stroke-width="0.9"/><circle cx="765.7" cy="796.2" r="2.6" fill="none" stroke="#d9c4c8" stroke-width="0.9"/><circle cx="773.4" cy="795.7" r="2.6" fill="none" stroke="#cdb4b9" stroke-width="0.9"/><circle cx="777.3" cy="795.5" r="2.6" fill="none" stroke="#e2d6d8" stroke-width="0.9"/><circle cx="781.2" cy="795.3" r="2.6" fill="none" stroke="#cdb4b9" stroke-width="0.9"/><circle cx="792.8" cy="794.7" r="2.6" fill="none" stroke="#d9c4c8" stroke-width="0.9"/><circle cx="816.0" cy="793.5" r="2.6" fill="none" stroke="#bfa2a8" stroke-width="0.9"/><circle cx="819.9" cy="793.3" r="2.6" fill="none" stroke="#d9c4c8" stroke-width="0.9"/><circle cx="827.6" cy="792.8" r="2.6" fill="none" stroke="#d9c4c8" stroke-width="0.9"/><circle cx="831.5" cy="792.4" r="2.6" fill="none" stroke="#e2d6d8" stroke-width="0.9"/><circle cx="839.2" cy="791.7" r="2.6" fill="none" stroke="#cdb4b9" stroke-width="0.9"/><circle cx="843.1" cy="791.4" r="2.6" fill="none" stroke="#cdb4b9" stroke-width="0.9"/><circle cx="846.9" cy="791.0" r="2.6" fill="none" stroke="#bfa2a8" stroke-width="0.9"/><circle cx="850.8" cy="790.7" r="2.6" fill="none" stroke="#bfa2a8" stroke-width="0.9"/><circle cx="854.6" cy="790.3" r="2.6" fill="none" stroke="#d9c4c8" stroke-width="0.9"/><circle cx="858.5" cy="790.0" r="2.6" fill="none" stroke="#e2d6d8" stroke-width="0.9"/><circle cx="862.4" cy="789.6" r="2.6" fill="none" stroke="#cdb4b9" stroke-width="0.9"/><circle cx="866.2" cy="789.3" r="2.6" fill="none" stroke="#d9c4c8" stroke-width="0.9"/><circle cx="870.1" cy="788.9" r="2.6" fill="none" stroke="#bfa2a8" stroke-width="0.9"/><circle cx="881.7" cy="787.8" r="2.6" fill="none" stroke="#e2d6d8" stroke-width="0.9"/><circle cx="885.5" cy="787.3" r="2.6" fill="none" stroke="#d9c4c8" stroke-width="0.9"/><circle cx="889.3" cy="786.8" r="2.6" fill="none" stroke="#d9c4c8" stroke-width="0.9"/><circle cx="893.2" cy="786.3" r="2.6" fill="none" stroke="#e2d6d8" stroke-width="0.9"/><circle cx="897.0" cy="785.8" r="4.2" fill="#9a9a9a"/><circle cx="904.7" cy="784.8" r="2.6" fill="none" stroke="#d9c4c8" stroke-width="0.9"/><circle cx="908.6" cy="784.3" r="2.6" fill="none" stroke="#d9c4c8" stroke-width="0.9"/><circle cx="912.4" cy="783.7" r="2.6" fill="none" stroke="#d9c4c8" stroke-width="0.9"/><circle cx="916.1" cy="782.8" r="2.6" fill="none" stroke="#e2d6d8" stroke-width="0.9"/><circle cx="927.4" cy="780.0" r="2.6" fill="none" stroke="#bfa2a8" stroke-width="0.9"/><circle cx="935.0" cy="778.2" r="2.6" fill="none" stroke="#d9c4c8" stroke-width="0.9"/><circle cx="942.5" cy="776.4" r="2.6" fill="none" stroke="#e2d6d8" stroke-width="0.9"/><circle cx="950.0" cy="774.2" r="4.2" fill="#9a9a9a"/><circle cx="953.7" cy="773.2" r="2.6" fill="none" stroke="#e2d6d8" stroke-width="0.9"/><circle cx="957.4" cy="772.1" r="2.6" fill="none" stroke="#bfa2a8" stroke-width="0.9"/><circle cx="972.1" cy="767.2" r="2.6" fill="none" stroke="#cdb4b9" stroke-width="0.9"/><circle cx="979.3" cy="764.4" r="2.6" fill="none" stroke="#bfa2a8" stroke-width="0.9"/><circle cx="982.9" cy="763.0" r="2.6" fill="none" stroke="#d9c4c8" stroke-width="0.9"/><circle cx="986.6" cy="761.6" r="2.6" fill="none" stroke="#bfa2a8" stroke-width="0.9"/><circle cx="990.2" cy="760.2" r="2.6" fill="none" stroke="#d9c4c8" stroke-width="0.9"/><circle cx="993.8" cy="758.8" r="2.6" fill="none" stroke="#bfa2a8" stroke-width="0.9"/><circle cx="997.3" cy="757.3" r="2.6" fill="none" stroke="#d9c4c8" stroke-width="0.9"/><circle cx="1000.6" cy="755.1" r="2.6" fill="none" stroke="#cdb4b9" stroke-width="0.9"/><circle cx="1003.8" cy="753.0" r="2.6" fill="none" stroke="#bfa2a8" stroke-width="0.9"/><circle cx="1007.1" cy="750.9" r="2.6" fill="none" stroke="#bfa2a8" stroke-width="0.9"/><circle cx="1010.3" cy="748.8" r="2.6" fill="none" stroke="#bfa2a8" stroke-width="0.9"/><circle cx="1013.4" cy="746.5" r="2.6" fill="none" stroke="#e2d6d8" stroke-width="0.9"/><circle cx="1016.1" cy="743.7" r="2.6" fill="none" stroke="#bfa2a8" stroke-width="0.9"/><circle cx="1018.7" cy="740.9" r="2.6" fill="none" stroke="#d9c4c8" stroke-width="0.9"/><circle cx="1021.4" cy="738.0" r="2.6" fill="none" stroke="#d9c4c8" stroke-width="0.9"/><circle cx="1026.7" cy="732.4" r="2.6" fill="none" stroke="#d9c4c8" stroke-width="0.9"/><circle cx="1029.2" cy="729.4" r="2.6" fill="none" stroke="#cdb4b9" stroke-width="0.9"/><circle cx="1031.5" cy="726.3" r="2.6" fill="none" stroke="#e2d6d8" stroke-width="0.9"/><circle cx="1033.8" cy="723.2" r="2.6" fill="none" stroke="#e2d6d8" stroke-width="0.9"/><circle cx="1036.0" cy="720.0" r="2.6" fill="none" stroke="#bfa2a8" stroke-width="0.9"/><circle cx="1038.3" cy="716.9" r="2.6" fill="none" stroke="#d9c4c8" stroke-width="0.9"/><circle cx="1048.3" cy="696.1" r="2.6" fill="none" stroke="#bfa2a8" stroke-width="0.9"/><circle cx="1051.3" cy="684.8" r="2.6" fill="none" stroke="#cdb4b9" stroke-width="0.9"/><circle cx="1052.1" cy="681.1" r="2.6" fill="none" stroke="#cdb4b9" stroke-width="0.9"/><circle cx="1052.9" cy="677.3" r="2.6" fill="none" stroke="#e2d6d8" stroke-width="0.9"/><circle cx="1054.3" cy="669.6" r="2.6" fill="none" stroke="#e2d6d8" stroke-width="0.9"/><circle cx="1055.5" cy="662.0" r="2.6" fill="none" stroke="#cdb4b9" stroke-width="0.9"/><circle cx="1056.5" cy="654.3" r="2.6" fill="none" stroke="#cdb4b9" stroke-width="0.9"/><circle cx="1056.8" cy="650.4" r="2.6" fill="none" stroke="#d9c4c8" stroke-width="0.9"/><circle cx="1057.1" cy="646.6" r="2.6" fill="none" stroke="#d9c4c8" stroke-width="0.9"/><circle cx="1057.3" cy="642.7" r="2.6" fill="none" stroke="#bfa2a8" stroke-width="0.9"/><circle cx="1057.6" cy="638.8" r="2.6" fill="none" stroke="#cdb4b9" stroke-width="0.9"/><circle cx="1057.8" cy="635.0" r="2.6" fill="none" stroke="#d9c4c8" stroke-width="0.9"/><circle cx="1058.1" cy="631.1" r="2.6" fill="none" stroke="#e2d6d8" stroke-width="0.9"/><circle cx="1058.7" cy="619.5" r="2.6" fill="none" stroke="#e2d6d8" stroke-width="0.9"/><circle cx="1058.9" cy="615.6" r="2.6" fill="none" stroke="#cdb4b9" stroke-width="0.9"/><circle cx="1059.2" cy="607.9" r="2.6" fill="none" stroke="#d9c4c8" stroke-width="0.9"/><circle cx="1059.4" cy="604.0" r="2.6" fill="none" stroke="#bfa2a8" stroke-width="0.9"/><circle cx="1059.6" cy="600.1" r="2.6" fill="none" stroke="#cdb4b9" stroke-width="0.9"/><circle cx="1059.7" cy="596.3" r="2.6" fill="none" stroke="#cdb4b9" stroke-width="0.9"/><circle cx="1060.2" cy="580.8" r="2.6" fill="none" stroke="#d9c4c8" stroke-width="0.9"/><circle cx="1060.3" cy="576.9" r="2.6" fill="none" stroke="#bfa2a8" stroke-width="0.9"/><circle cx="1060.3" cy="573.0" r="2.6" fill="none" stroke="#d9c4c8" stroke-width="0.9"/><circle cx="1060.4" cy="569.1" r="2.6" fill="none" stroke="#bfa2a8" stroke-width="0.9"/><circle cx="1060.5" cy="565.3" r="2.6" fill="none" stroke="#e2d6d8" stroke-width="0.9"/><circle cx="1060.6" cy="561.4" r="2.6" fill="none" stroke="#e2d6d8" stroke-width="0.9"/><circle cx="1060.6" cy="557.5" r="2.6" fill="none" stroke="#d9c4c8" stroke-width="0.9"/><circle cx="1060.8" cy="549.8" r="2.6" fill="none" stroke="#bfa2a8" stroke-width="0.9"/><circle cx="1060.9" cy="545.9" r="2.6" fill="none" stroke="#e2d6d8" stroke-width="0.9"/><circle cx="1061.0" cy="542.0" r="2.6" fill="none" stroke="#cdb4b9" stroke-width="0.9"/><circle cx="1061.0" cy="534.3" r="2.6" fill="none" stroke="#d9c4c8" stroke-width="0.9"/><circle cx="1061.1" cy="530.4" r="2.6" fill="none" stroke="#d9c4c8" stroke-width="0.9"/><circle cx="1061.2" cy="511.0" r="2.6" fill="none" stroke="#cdb4b9" stroke-width="0.9"/><circle cx="1061.3" cy="507.1" r="2.6" fill="none" stroke="#e2d6d8" stroke-width="0.9"/><circle cx="1061.3" cy="499.4" r="2.6" fill="none" stroke="#d9c4c8" stroke-width="0.9"/><circle cx="1061.5" cy="483.9" r="2.6" fill="none" stroke="#e2d6d8" stroke-width="0.9"/><circle cx="1048.9" cy="694.2" r="4.3" fill="#8c8c8c" stroke="#a33" stroke-width="0.6" stroke-opacity="0.6"/><circle cx="1050.1" cy="690.5" r="4.3" fill="#8c8c8c" stroke="#a33" stroke-width="0.6" stroke-opacity="0.6"/><circle cx="1050.5" cy="688.6" r="4.3" fill="#8c8c8c" stroke="#a33" stroke-width="0.6" stroke-opacity="0.6"/><circle cx="1050.9" cy="686.7" r="4.3" fill="#8c8c8c" stroke="#a33" stroke-width="0.6" stroke-opacity="0.6"/><circle cx="1051.3" cy="684.8" r="4.3" fill="#8c8c8c" stroke="#a33" stroke-width="0.6" stroke-opacity="0.6"/><circle cx="1051.7" cy="682.9" r="4.3" fill="#8c8c8c" stroke="#a33" stroke-width="0.6" stroke-opacity="0.6"/><circle cx="1052.9" cy="677.3" r="4.3" fill="#8c8c8c" stroke="#a33" stroke-width="0.6" stroke-opacity="0.6"/><circle cx="1054.1" cy="671.6" r="4.3" fill="#8c8c8c" stroke="#a33" stroke-width="0.6" stroke-opacity="0.6"/><circle cx="1054.6" cy="667.7" r="4.3" fill="#8c8c8c" stroke="#a33" stroke-width="0.6" stroke-opacity="0.6"/><circle cx="1054.9" cy="665.8" r="4.3" fill="#8c8c8c" stroke="#a33" stroke-width="0.6" stroke-opacity="0.6"/><circle cx="1055.2" cy="663.9" r="4.3" fill="#8c8c8c" stroke="#a33" stroke-width="0.6" stroke-opacity="0.6"/><circle cx="1056.7" cy="652.4" r="4.3" fill="#8c8c8c" stroke="#a33" stroke-width="0.6" stroke-opacity="0.6"/><circle cx="1057.1" cy="646.6" r="4.3" fill="#8c8c8c" stroke="#a33" stroke-width="0.6" stroke-opacity="0.6"/><circle cx="1057.2" cy="644.6" r="4.3" fill="#8c8c8c" stroke="#a33" stroke-width="0.6" stroke-opacity="0.6"/><circle cx="1057.3" cy="642.7" r="4.3" fill="#8c8c8c" stroke="#a33" stroke-width="0.6" stroke-opacity="0.6"/><circle cx="1057.4" cy="640.8" r="4.3" fill="#8c8c8c" stroke="#a33" stroke-width="0.6" stroke-opacity="0.6"/><circle cx="1057.6" cy="638.8" r="4.3" fill="#8c8c8c" stroke="#a33" stroke-width="0.6" stroke-opacity="0.6"/><circle cx="1057.7" cy="636.9" r="4.3" fill="#8c8c8c" stroke="#a33" stroke-width="0.6" stroke-opacity="0.6"/><circle cx="1057.8" cy="635.0" r="4.3" fill="#8c8c8c" stroke="#a33" stroke-width="0.6" stroke-opacity="0.6"/><circle cx="1058.1" cy="631.1" r="4.3" fill="#8c8c8c" stroke="#a33" stroke-width="0.6" stroke-opacity="0.6"/><circle cx="1058.2" cy="629.2" r="4.3" fill="#8c8c8c" stroke="#a33" stroke-width="0.6" stroke-opacity="0.6"/><circle cx="1058.5" cy="625.3" r="4.3" fill="#8c8c8c" stroke="#a33" stroke-width="0.6" stroke-opacity="0.6"/><circle cx="1058.8" cy="617.6" r="4.3" fill="#8c8c8c" stroke="#a33" stroke-width="0.6" stroke-opacity="0.6"/><circle cx="1058.9" cy="615.6" r="4.3" fill="#8c8c8c" stroke="#a33" stroke-width="0.6" stroke-opacity="0.6"/><circle cx="1059.1" cy="611.7" r="4.3" fill="#8c8c8c" stroke="#a33" stroke-width="0.6" stroke-opacity="0.6"/><circle cx="1059.2" cy="607.9" r="4.3" fill="#8c8c8c" stroke="#a33" stroke-width="0.6" stroke-opacity="0.6"/><circle cx="1059.3" cy="605.9" r="4.3" fill="#8c8c8c" stroke="#a33" stroke-width="0.6" stroke-opacity="0.6"/><circle cx="1059.4" cy="604.0" r="4.3" fill="#8c8c8c" stroke="#a33" stroke-width="0.6" stroke-opacity="0.6"/><circle cx="1059.5" cy="602.1" r="4.3" fill="#8c8c8c" stroke="#a33" stroke-width="0.6" stroke-opacity="0.6"/><circle cx="1059.6" cy="598.2" r="4.3" fill="#8c8c8c" stroke="#a33" stroke-width="0.6" stroke-opacity="0.6"/><circle cx="1059.8" cy="594.3" r="4.3" fill="#8c8c8c" stroke="#a33" stroke-width="0.6" stroke-opacity="0.6"/><circle cx="1059.9" cy="592.4" r="4.3" fill="#8c8c8c" stroke="#a33" stroke-width="0.6" stroke-opacity="0.6"/><circle cx="1060.0" cy="590.4" r="4.3" fill="#8c8c8c" stroke="#a33" stroke-width="0.6" stroke-opacity="0.6"/><circle cx="1060.0" cy="588.5" r="4.3" fill="#8c8c8c" stroke="#a33" stroke-width="0.6" stroke-opacity="0.6"/><circle cx="1060.1" cy="586.6" r="4.3" fill="#8c8c8c" stroke="#a33" stroke-width="0.6" stroke-opacity="0.6"/><circle cx="1060.1" cy="582.7" r="4.3" fill="#8c8c8c" stroke="#a33" stroke-width="0.6" stroke-opacity="0.6"/><circle cx="1060.2" cy="580.8" r="4.3" fill="#8c8c8c" stroke="#a33" stroke-width="0.6" stroke-opacity="0.6"/><circle cx="1060.3" cy="576.9" r="4.3" fill="#8c8c8c" stroke="#a33" stroke-width="0.6" stroke-opacity="0.6"/><circle cx="1060.3" cy="574.9" r="4.3" fill="#8c8c8c" stroke="#a33" stroke-width="0.6" stroke-opacity="0.6"/><circle cx="1060.3" cy="573.0" r="4.3" fill="#8c8c8c" stroke="#a33" stroke-width="0.6" stroke-opacity="0.6"/><circle cx="1060.4" cy="571.1" r="4.3" fill="#8c8c8c" stroke="#a33" stroke-width="0.6" stroke-opacity="0.6"/><circle cx="1060.4" cy="569.1" r="4.3" fill="#8c8c8c" stroke="#a33" stroke-width="0.6" stroke-opacity="0.6"/><circle cx="1060.5" cy="565.3" r="4.3" fill="#8c8c8c" stroke="#a33" stroke-width="0.6" stroke-opacity="0.6"/><circle cx="1060.6" cy="559.4" r="4.3" fill="#8c8c8c" stroke="#a33" stroke-width="0.6" stroke-opacity="0.6"/><circle cx="1060.7" cy="553.6" r="4.3" fill="#8c8c8c" stroke="#a33" stroke-width="0.6" stroke-opacity="0.6"/><circle cx="1060.8" cy="549.8" r="4.3" fill="#8c8c8c" stroke="#a33" stroke-width="0.6" stroke-opacity="0.6"/><circle cx="1060.8" cy="547.8" r="4.3" fill="#8c8c8c" stroke="#a33" stroke-width="0.6" stroke-opacity="0.6"/><circle cx="1060.9" cy="543.9" r="4.3" fill="#8c8c8c" stroke="#a33" stroke-width="0.6" stroke-opacity="0.6"/><circle cx="1061.0" cy="542.0" r="4.3" fill="#8c8c8c" stroke="#a33" stroke-width="0.6" stroke-opacity="0.6"/><circle cx="1061.0" cy="536.2" r="4.3" fill="#8c8c8c" stroke="#a33" stroke-width="0.6" stroke-opacity="0.6"/><circle cx="1061.1" cy="528.4" r="4.3" fill="#8c8c8c" stroke="#a33" stroke-width="0.6" stroke-opacity="0.6"/><circle cx="1061.1" cy="524.6" r="4.3" fill="#8c8c8c" stroke="#a33" stroke-width="0.6" stroke-opacity="0.6"/><circle cx="1061.1" cy="522.6" r="4.3" fill="#8c8c8c" stroke="#a33" stroke-width="0.6" stroke-opacity="0.6"/><circle cx="1061.2" cy="520.7" r="4.3" fill="#8c8c8c" stroke="#a33" stroke-width="0.6" stroke-opacity="0.6"/><circle cx="1061.2" cy="518.8" r="4.3" fill="#8c8c8c" stroke="#a33" stroke-width="0.6" stroke-opacity="0.6"/><circle cx="1061.2" cy="516.8" r="4.3" fill="#8c8c8c" stroke="#a33" stroke-width="0.6" stroke-opacity="0.6"/><circle cx="1061.2" cy="514.9" r="4.3" fill="#8c8c8c" stroke="#a33" stroke-width="0.6" stroke-opacity="0.6"/><circle cx="1061.2" cy="511.0" r="4.3" fill="#8c8c8c" stroke="#a33" stroke-width="0.6" stroke-opacity="0.6"/><circle cx="1061.3" cy="509.1" r="4.3" fill="#8c8c8c" stroke="#a33" stroke-width="0.6" stroke-opacity="0.6"/><circle cx="1061.3" cy="507.1" r="4.3" fill="#8c8c8c" stroke="#a33" stroke-width="0.6" stroke-opacity="0.6"/><circle cx="1061.3" cy="505.2" r="4.3" fill="#8c8c8c" stroke="#a33" stroke-width="0.6" stroke-opacity="0.6"/><circle cx="1061.3" cy="501.3" r="4.3" fill="#8c8c8c" stroke="#a33" stroke-width="0.6" stroke-opacity="0.6"/><circle cx="1061.4" cy="493.6" r="4.3" fill="#8c8c8c" stroke="#a33" stroke-width="0.6" stroke-opacity="0.6"/><circle cx="1061.4" cy="491.6" r="4.3" fill="#8c8c8c" stroke="#a33" stroke-width="0.6" stroke-opacity="0.6"/><circle cx="1061.5" cy="483.9" r="4.3" fill="#8c8c8c" stroke="#a33" stroke-width="0.6" stroke-opacity="0.6"/><circle cx="1061.5" cy="481.9" r="4.3" fill="#8c8c8c" stroke="#a33" stroke-width="0.6" stroke-opacity="0.6"/></g>
<rect x="1057.50" y="475.00" width="9.00" height="170.00" fill="#888888"/>
<circle cx="1062" cy="478" r="4.3" fill="#8a8a8a" stroke="#9a9a9a" stroke-width="1.2"/>
<circle cx="1062" cy="485" r="4.3" fill="#8a8a8a" stroke="#9a9a9a" stroke-width="1.2"/>
<circle cx="1062" cy="492" r="4.3" fill="#8a8a8a" stroke="#9a9a9a" stroke-width="1.2"/>
<circle cx="1062" cy="499" r="4.3" fill="#8a8a8a" stroke="#9a9a9a" stroke-width="1.2"/>
<circle cx="1062" cy="506" r="4.3" fill="#8a8a8a" stroke="#b03040" stroke-width="1.2"/>
<circle cx="1062" cy="513" r="4.3" fill="#8a8a8a" stroke="#b03040" stroke-width="1.2"/>
<circle cx="1062" cy="520" r="4.3" fill="#8a8a8a" stroke="#9a9a9a" stroke-width="1.2"/>
<circle cx="1062" cy="527" r="4.3" fill="#8a8a8a" stroke="#9a9a9a" stroke-width="1.2"/>
<circle cx="1062" cy="534" r="4.3" fill="#8a8a8a" stroke="#9a9a9a" stroke-width="1.2"/>
<circle cx="1062" cy="541" r="4.3" fill="#8a8a8a" stroke="#b03040" stroke-width="1.2"/>
<circle cx="1062" cy="548" r="4.3" fill="#8a8a8a" stroke="#b03040" stroke-width="1.2"/>
<circle cx="1062" cy="555" r="4.3" fill="#8a8a8a" stroke="#b03040" stroke-width="1.2"/>
<circle cx="1062" cy="562" r="4.3" fill="#8a8a8a" stroke="#b03040" stroke-width="1.2"/>
<circle cx="1062" cy="569" r="4.3" fill="#8a8a8a" stroke="#9a9a9a" stroke-width="1.2"/>
<circle cx="1062" cy="576" r="4.3" fill="#8a8a8a" stroke="#b03040" stroke-width="1.2"/>
<circle cx="1062" cy="583" r="4.3" fill="#8a8a8a" stroke="#9a9a9a" stroke-width="1.2"/>
<circle cx="1062" cy="590" r="4.3" fill="#8a8a8a" stroke="#b03040" stroke-width="1.2"/>
<circle cx="1062" cy="597" r="4.3" fill="#8a8a8a" stroke="#b03040" stroke-width="1.2"/>
<circle cx="1062" cy="604" r="4.3" fill="#8a8a8a" stroke="#9a9a9a" stroke-width="1.2"/>
<circle cx="1062" cy="611" r="4.3" fill="#8a8a8a" stroke="#9a9a9a" stroke-width="1.2"/>
<circle cx="1062" cy="618" r="4.3" fill="#8a8a8a" stroke="#9a9a9a" stroke-width="1.2"/>
<circle cx="1062" cy="625" r="4.3" fill="#8a8a8a" stroke="#b03040" stroke-width="1.2"/>
<circle cx="1062" cy="632" r="4.3" fill="#8a8a8a" stroke="#9a9a9a" stroke-width="1.2"/>
<circle cx="1062" cy="639" r="4.3" fill="#8a8a8a" stroke="#b03040" stroke-width="1.2"/>
<circle cx="1062" cy="542" r="4.4" fill="#a8303e" stroke="#7a1020" stroke-width="0.8"/>
<circle cx="1062" cy="549" r="4.4" fill="#a8303e" stroke="#7a1020" stroke-width="0.8"/>
<circle cx="1062" cy="556" r="4.4" fill="#a8303e" stroke="#7a1020" stroke-width="0.8"/>
<circle cx="1062" cy="89" r="4.2" fill="#8a8a8a"/>
<circle cx="1062" cy="304.9" r="4.2" fill="#8a8a8a"/>
<circle cx="1062" cy="309" r="4.2" fill="#8a8a8a"/>
<circle cx="1062" cy="327.6" r="4.2" fill="#8a8a8a"/>
<circle cx="1062" cy="335.2" r="4.2" fill="#8a8a8a"/>
<circle cx="1062" cy="346.6" r="4.2" fill="#8a8a8a"/>
<circle cx="1062" cy="366.7" r="4.2" fill="#8a8a8a"/>
<circle cx="1062" cy="370.5" r="4.2" fill="#8a8a8a"/>
<circle cx="1062" cy="380.6" r="4.2" fill="#8a8a8a"/>
<circle cx="1062" cy="390.7" r="4.2" fill="#8a8a8a" stroke="#a01828" stroke-width="1.6"/>
<circle cx="1062" cy="398.3" r="4.2" fill="#8a8a8a"/>
<circle cx="1062" cy="405.9" r="4.2" fill="#8a8a8a"/>
<circle cx="1062" cy="417.2" r="4.2" fill="#8a8a8a"/>
<circle cx="1062" cy="428.6" r="4.2" fill="#8a8a8a"/>
<circle cx="1062" cy="442.5" r="4.2" fill="#8a8a8a" stroke="#a01828" stroke-width="1.6"/>
<circle cx="1062" cy="449" r="4.2" fill="#8a8a8a"/>
<ellipse cx="1062" cy="459.2" rx="5" ry="4.2" fill="#a01828"/>
<ellipse cx="1062" cy="476.6" rx="5" ry="4.2" fill="#a01828"/>
<text x="956.0" y="468.8" font-size="39" font-weight="bold" font-style="italic" text-anchor="end">PRDM1</text>
<text x="956.0" y="589.6" font-size="39" font-weight="bold" font-style="italic" text-anchor="end">UBE2J1</text>
<text x="959.5" y="661.6" font-size="39" font-weight="bold" font-style="italic" text-anchor="end">IRF4</text>
<text x="956.0" y="737.0" font-size="39" font-weight="bold" font-style="italic" text-anchor="end">POU2AF1</text>
<line x1="962.8" y1="459.5" x2="1059.2" y2="459.5" stroke="#111" stroke-width="1.3"/>
<line x1="962.8" y1="459.5" x2="1044.8" y2="706.0" stroke="#111" stroke-width="1.3"/>
<line x1="963.9" y1="575.2" x2="1053.7" y2="655.0" stroke="#111" stroke-width="1.3"/>
<line x1="965.0" y1="643.9" x2="1038.2" y2="712.6" stroke="#111" stroke-width="1.3"/>
<line x1="965.0" y1="643.9" x2="1007.1" y2="748.0" stroke="#111" stroke-width="1.3"/>
<line x1="961.7" y1="717.0" x2="1012.7" y2="745.9" stroke="#111" stroke-width="1.3"/>
<text x="11.4" y="1023.0" font-size="38" font-weight="bold" textLength="26.5" lengthAdjust="spacingAndGlyphs">b</text>
<path fill="#f3f7fc" d="M161.4 1029.3h40.7v3.6h-40.7zM161.4 1035.3h40.7v4.2h-40.7zM161.4 1050.8h40.7v5.2h-40.7zM161.4 1076.8h40.7v5.2h-40.7zM161.4 1083.8h40.7v4.2h-40.7zM161.4 1089.3h40.7v2.1h-40.7zM161.4 1098.3h40.7v7.2h-40.7zM161.4 1113.3h40.7v3.6h-40.7zM161.4 1118.8h40.7v1.6h-40.7zM161.4 1131.8h40.7v2.1h-40.7zM161.4 1146.8h40.7v2.1h-40.7zM161.4 1153.8h40.7v5.2h-40.7zM201.7 1063.8h40.7v5.2h-40.7zM201.7 1076.8h40.7v5.2h-40.7zM201.7 1105.3h40.7v3.1h-40.7zM201.7 1113.3h40.7v3.6h-40.7zM201.7 1118.8h40.7v1.6h-40.7zM201.7 1153.8h40.7v5.2h-40.7zM242.0 1039.3h40.7v2.6h-40.7zM242.0 1050.8h40.7v5.2h-40.7zM242.0 1059.8h40.7v4.2h-40.7zM242.0 1068.8h40.7v5.2h-40.7zM242.0 1076.8h40.7v5.2h-40.7zM242.0 1087.8h40.7v7.7h-40.7zM242.0 1103.3h40.7v2.1h-40.7zM242.0 1118.8h40.7v1.6h-40.7zM242.0 1153.8h40.7v5.2h-40.7zM282.4 1032.8h40.7v2.6h-40.7zM282.4 1041.8h40.7v5.2h-40.7zM282.4 1050.8h40.7v5.2h-40.7zM282.4 1059.8h40.7v9.2h-40.7zM282.4 1081.8h40.7v2.1h-40.7zM282.4 1091.3h40.7v1.6h-40.7zM282.4 1108.3h40.7v8.7h-40.7zM322.7 1029.3h40.7v3.6h-40.7zM322.7 1035.3h40.7v4.2h-40.7zM322.7 1083.8h40.7v4.2h-40.7zM322.7 1089.3h40.7v2.1h-40.7zM322.7 1092.8h40.7v2.6h-40.7zM322.7 1098.3h40.7v5.2h-40.7zM322.7 1105.3h40.7v3.1h-40.7zM322.7 1113.3h40.7v5.7h-40.7zM322.7 1131.8h40.7v2.1h-40.7zM363.0 1035.3h40.7v4.2h-40.7zM363.0 1055.8h40.7v4.2h-40.7zM363.0 1063.8h40.7v3.6h-40.7zM363.0 1073.8h40.7v17.6h-40.7zM363.0 1092.8h40.7v2.6h-40.7zM363.0 1113.3h40.7v3.6h-40.7zM363.0 1126.3h40.7v3.1h-40.7zM403.3 1035.3h40.7v15.7h-40.7zM403.3 1055.8h40.7v4.2h-40.7zM403.3 1068.8h40.7v8.2h-40.7zM403.3 1087.8h40.7v5.2h-40.7zM403.3 1095.3h40.7v3.1h-40.7zM403.3 1103.3h40.7v2.1h-40.7zM403.3 1124.3h40.7v2.1h-40.7zM403.3 1131.8h40.7v2.1h-40.7zM403.3 1138.8h40.7v5.2h-40.7zM403.3 1160.3h40.7v2.1h-40.7zM403.3 1165.8h40.7v3.6h-40.7zM443.7 1067.3h40.7v1.6h-40.7zM443.7 1073.8h40.7v3.1h-40.7zM443.7 1081.8h40.7v2.1h-40.7zM443.7 1087.8h40.7v1.6h-40.7zM443.7 1098.3h40.7v5.2h-40.7zM443.7 1126.3h40.7v3.1h-40.7zM443.7 1133.8h40.7v5.2h-40.7zM484.0 1041.8h40.7v5.2h-40.7zM484.0 1076.8h40.7v5.2h-40.7zM484.0 1083.8h40.7v7.7h-40.7zM484.0 1098.3h40.7v5.2h-40.7zM484.0 1120.3h40.7v4.2h-40.7zM484.0 1126.3h40.7v5.7h-40.7zM484.0 1148.8h40.7v10.2h-40.7zM484.0 1207.3h40.7v2.1h-40.7zM524.3 1039.3h40.7v2.6h-40.7zM524.3 1055.8h40.7v4.2h-40.7zM524.3 1068.8h40.7v5.2h-40.7zM524.3 1076.8h40.7v11.2h-40.7zM524.3 1092.8h40.7v5.7h-40.7zM524.3 1116.8h40.7v2.1h-40.7zM524.3 1126.3h40.7v7.7h-40.7zM524.3 1165.8h40.7v3.6h-40.7zM564.6 1073.8h40.7v3.1h-40.7zM564.6 1081.8h40.7v2.1h-40.7zM564.6 1092.8h40.7v5.7h-40.7zM564.6 1108.3h40.7v3.6h-40.7zM564.6 1120.3h40.7v4.2h-40.7zM564.6 1131.8h40.7v2.1h-40.7zM564.6 1182.8h40.7v1.6h-40.7zM604.9 1032.8h40.7v14.2h-40.7zM604.9 1067.3h40.7v1.6h-40.7zM604.9 1073.8h40.7v3.1h-40.7zM604.9 1087.8h40.7v1.6h-40.7zM604.9 1111.8h40.7v1.6h-40.7zM604.9 1143.8h40.7v3.1h-40.7zM645.3 1029.3h40.7v3.6h-40.7zM645.3 1068.8h40.7v5.2h-40.7zM645.3 1081.8h40.7v6.2h-40.7zM645.3 1089.3h40.7v2.1h-40.7zM645.3 1105.3h40.7v3.1h-40.7zM645.3 1118.8h40.7v1.6h-40.7zM645.3 1165.8h40.7v3.6h-40.7zM645.3 1191.3h40.7v2.1h-40.7zM685.6 1029.3h40.7v3.6h-40.7zM685.6 1098.3h40.7v5.2h-40.7zM685.6 1116.8h40.7v7.7h-40.7zM685.6 1126.3h40.7v3.1h-40.7zM685.6 1182.8h40.7v1.6h-40.7zM725.9 1029.3h40.7v3.6h-40.7zM725.9 1095.3h40.7v8.2h-40.7zM725.9 1105.3h40.7v3.1h-40.7zM725.9 1113.3h40.7v3.6h-40.7zM725.9 1118.8h40.7v1.6h-40.7zM725.9 1131.8h40.7v2.1h-40.7zM725.9 1165.8h40.7v3.6h-40.7zM766.2 1039.3h40.7v2.6h-40.7zM766.2 1046.8h40.7v4.2h-40.7zM766.2 1081.8h40.7v2.1h-40.7zM766.2 1098.3h40.7v7.2h-40.7zM766.2 1129.3h40.7v4.7h-40.7zM766.2 1165.8h40.7v3.6h-40.7zM806.6 1029.3h40.7v3.6h-40.7zM806.6 1050.8h40.7v9.2h-40.7zM806.6 1081.8h40.7v2.1h-40.7zM806.6 1095.3h40.7v3.1h-40.7zM806.6 1111.8h40.7v1.6h-40.7zM806.6 1153.8h40.7v5.2h-40.7zM846.9 1073.8h40.7v3.1h-40.7zM846.9 1083.8h40.7v5.7h-40.7zM846.9 1095.3h40.7v8.2h-40.7zM887.2 1055.8h40.7v4.2h-40.7zM887.2 1067.3h40.7v1.6h-40.7zM887.2 1076.8h40.7v5.2h-40.7zM887.2 1091.3h40.7v7.2h-40.7zM887.2 1103.3h40.7v5.2h-40.7zM887.2 1111.8h40.7v1.6h-40.7zM887.2 1118.8h40.7v7.7h-40.7zM887.2 1182.8h40.7v3.6h-40.7zM887.2 1202.3h40.7v2.6h-40.7zM927.5 1039.3h40.7v2.6h-40.7zM927.5 1050.8h40.7v5.2h-40.7zM927.5 1063.8h40.7v5.2h-40.7zM927.5 1076.8h40.7v11.2h-40.7zM927.5 1092.8h40.7v12.7h-40.7zM967.9 1029.3h40.7v3.6h-40.7zM967.9 1076.8h40.7v5.2h-40.7zM967.9 1089.3h40.7v2.1h-40.7zM967.9 1092.8h40.7v2.6h-40.7zM967.9 1103.3h40.7v2.1h-40.7zM967.9 1111.8h40.7v1.6h-40.7zM967.9 1118.8h40.7v5.7h-40.7zM967.9 1129.3h40.7v2.6h-40.7zM967.9 1133.8h40.7v10.2h-40.7zM1008.2 1055.8h40.7v4.2h-40.7zM1008.2 1063.8h40.7v3.6h-40.7zM1008.2 1076.8h40.7v5.2h-40.7zM1008.2 1083.8h40.7v4.2h-40.7zM1008.2 1095.3h40.7v3.1h-40.7zM1008.2 1103.3h40.7v5.2h-40.7zM1008.2 1118.8h40.7v1.6h-40.7zM1008.2 1133.8h40.7v5.2h-40.7zM1008.2 1153.8h40.7v5.2h-40.7z"/><path fill="#fafcfe" d="M161.4 1032.8h40.7v2.6h-40.7zM161.4 1041.8h40.7v5.2h-40.7zM161.4 1055.8h40.7v8.2h-40.7zM161.4 1073.8h40.7v3.1h-40.7zM161.4 1092.8h40.7v2.6h-40.7zM161.4 1126.3h40.7v3.1h-40.7zM161.4 1133.8h40.7v5.2h-40.7zM201.7 1083.8h40.7v4.2h-40.7zM282.4 1073.8h40.7v3.1h-40.7zM322.7 1032.8h40.7v2.6h-40.7zM322.7 1046.8h40.7v4.2h-40.7zM322.7 1059.8h40.7v4.2h-40.7zM322.7 1067.3h40.7v6.7h-40.7zM322.7 1118.8h40.7v1.6h-40.7zM363.0 1029.3h40.7v3.6h-40.7zM363.0 1046.8h40.7v9.2h-40.7zM363.0 1067.3h40.7v1.6h-40.7zM363.0 1124.3h40.7v2.1h-40.7zM403.3 1032.8h40.7v2.6h-40.7zM403.3 1050.8h40.7v5.2h-40.7zM403.3 1059.8h40.7v4.2h-40.7zM443.7 1032.8h40.7v2.6h-40.7zM443.7 1041.8h40.7v14.2h-40.7zM443.7 1059.8h40.7v4.2h-40.7zM443.7 1089.3h40.7v2.1h-40.7zM443.7 1124.3h40.7v2.1h-40.7zM484.0 1035.3h40.7v6.7h-40.7zM484.0 1046.8h40.7v4.2h-40.7zM484.0 1055.8h40.7v11.7h-40.7zM484.0 1068.8h40.7v5.2h-40.7zM484.0 1081.8h40.7v2.1h-40.7zM484.0 1091.3h40.7v7.2h-40.7zM484.0 1105.3h40.7v3.1h-40.7zM524.3 1041.8h40.7v14.2h-40.7zM564.6 1032.8h40.7v2.6h-40.7zM564.6 1041.8h40.7v5.2h-40.7zM564.6 1055.8h40.7v4.2h-40.7zM564.6 1068.8h40.7v5.2h-40.7zM604.9 1029.3h40.7v3.6h-40.7zM645.3 1035.3h40.7v6.7h-40.7zM645.3 1059.8h40.7v4.2h-40.7zM685.6 1032.8h40.7v2.6h-40.7zM685.6 1059.8h40.7v9.2h-40.7zM685.6 1076.8h40.7v5.2h-40.7zM685.6 1091.3h40.7v1.6h-40.7zM685.6 1138.8h40.7v5.2h-40.7zM725.9 1041.8h40.7v9.2h-40.7zM725.9 1067.3h40.7v6.7h-40.7zM725.9 1091.3h40.7v1.6h-40.7zM725.9 1111.8h40.7v1.6h-40.7zM766.2 1029.3h40.7v3.6h-40.7zM766.2 1055.8h40.7v4.2h-40.7zM766.2 1076.8h40.7v5.2h-40.7zM806.6 1032.8h40.7v2.6h-40.7zM806.6 1041.8h40.7v5.2h-40.7zM806.6 1059.8h40.7v4.2h-40.7zM806.6 1073.8h40.7v3.1h-40.7zM806.6 1087.8h40.7v1.6h-40.7zM806.6 1091.3h40.7v1.6h-40.7zM846.9 1029.3h40.7v6.2h-40.7zM846.9 1046.8h40.7v4.2h-40.7zM846.9 1055.8h40.7v4.2h-40.7zM846.9 1067.3h40.7v1.6h-40.7zM846.9 1091.3h40.7v1.6h-40.7zM846.9 1116.8h40.7v2.1h-40.7zM887.2 1032.8h40.7v2.6h-40.7zM887.2 1039.3h40.7v7.7h-40.7zM887.2 1050.8h40.7v5.2h-40.7zM887.2 1068.8h40.7v5.2h-40.7zM887.2 1083.8h40.7v4.2h-40.7zM927.5 1029.3h40.7v6.2h-40.7zM927.5 1046.8h40.7v4.2h-40.7zM967.9 1035.3h40.7v4.2h-40.7zM967.9 1050.8h40.7v5.2h-40.7zM967.9 1059.8h40.7v4.2h-40.7zM967.9 1091.3h40.7v1.6h-40.7zM1008.2 1050.8h40.7v5.2h-40.7zM1008.2 1068.8h40.7v8.2h-40.7zM1008.2 1091.3h40.7v1.6h-40.7z"/><path fill="#f6fafd" d="M161.4 1039.3h40.7v2.6h-40.7zM161.4 1046.8h40.7v4.2h-40.7zM161.4 1063.8h40.7v10.2h-40.7zM161.4 1087.8h40.7v1.6h-40.7zM161.4 1111.8h40.7v1.6h-40.7zM201.7 1029.3h40.7v6.2h-40.7zM201.7 1041.8h40.7v22.1h-40.7zM201.7 1068.8h40.7v5.2h-40.7zM201.7 1103.3h40.7v2.1h-40.7zM242.0 1029.3h40.7v10.2h-40.7zM242.0 1041.8h40.7v9.2h-40.7zM242.0 1083.8h40.7v4.2h-40.7zM282.4 1029.3h40.7v3.6h-40.7zM282.4 1035.3h40.7v4.2h-40.7zM282.4 1046.8h40.7v4.2h-40.7zM282.4 1055.8h40.7v4.2h-40.7zM282.4 1068.8h40.7v5.2h-40.7zM282.4 1076.8h40.7v5.2h-40.7zM282.4 1083.8h40.7v5.7h-40.7zM282.4 1131.8h40.7v2.1h-40.7zM322.7 1039.3h40.7v7.7h-40.7zM322.7 1050.8h40.7v9.2h-40.7zM322.7 1063.8h40.7v3.6h-40.7zM322.7 1076.8h40.7v5.2h-40.7zM322.7 1087.8h40.7v1.6h-40.7zM322.7 1091.3h40.7v1.6h-40.7zM322.7 1095.3h40.7v3.1h-40.7zM322.7 1111.8h40.7v1.6h-40.7zM322.7 1126.3h40.7v3.1h-40.7zM322.7 1148.8h40.7v10.2h-40.7zM322.7 1165.8h40.7v3.6h-40.7zM363.0 1032.8h40.7v2.6h-40.7zM363.0 1039.3h40.7v7.7h-40.7zM363.0 1059.8h40.7v4.2h-40.7zM363.0 1068.8h40.7v5.2h-40.7zM363.0 1091.3h40.7v1.6h-40.7zM363.0 1111.8h40.7v1.6h-40.7zM363.0 1118.8h40.7v1.6h-40.7zM403.3 1029.3h40.7v3.6h-40.7zM403.3 1063.8h40.7v3.6h-40.7zM403.3 1092.8h40.7v2.6h-40.7zM403.3 1105.3h40.7v6.7h-40.7zM403.3 1113.3h40.7v3.6h-40.7zM403.3 1133.8h40.7v5.2h-40.7zM443.7 1029.3h40.7v3.6h-40.7zM443.7 1035.3h40.7v6.7h-40.7zM443.7 1068.8h40.7v5.2h-40.7zM443.7 1076.8h40.7v5.2h-40.7zM443.7 1091.3h40.7v4.2h-40.7zM443.7 1131.8h40.7v2.1h-40.7zM484.0 1029.3h40.7v6.2h-40.7zM484.0 1050.8h40.7v5.2h-40.7zM484.0 1067.3h40.7v1.6h-40.7zM484.0 1073.8h40.7v3.1h-40.7zM484.0 1103.3h40.7v2.1h-40.7zM484.0 1108.3h40.7v5.2h-40.7zM484.0 1118.8h40.7v1.6h-40.7zM524.3 1029.3h40.7v10.2h-40.7zM524.3 1059.8h40.7v7.7h-40.7zM524.3 1087.8h40.7v1.6h-40.7zM524.3 1091.3h40.7v1.6h-40.7zM524.3 1103.3h40.7v5.2h-40.7zM524.3 1111.8h40.7v5.2h-40.7zM564.6 1029.3h40.7v3.6h-40.7zM564.6 1035.3h40.7v6.7h-40.7zM564.6 1046.8h40.7v9.2h-40.7zM564.6 1059.8h40.7v9.2h-40.7zM564.6 1083.8h40.7v5.7h-40.7zM564.6 1091.3h40.7v1.6h-40.7zM564.6 1103.3h40.7v2.1h-40.7zM564.6 1129.3h40.7v2.6h-40.7zM604.9 1046.8h40.7v13.2h-40.7zM604.9 1063.8h40.7v3.6h-40.7zM604.9 1068.8h40.7v5.2h-40.7zM604.9 1076.8h40.7v5.2h-40.7zM604.9 1083.8h40.7v4.2h-40.7zM604.9 1092.8h40.7v2.6h-40.7zM645.3 1032.8h40.7v2.6h-40.7zM645.3 1041.8h40.7v18.1h-40.7zM645.3 1063.8h40.7v3.6h-40.7zM645.3 1073.8h40.7v8.2h-40.7zM645.3 1087.8h40.7v1.6h-40.7zM645.3 1091.3h40.7v1.6h-40.7zM645.3 1103.3h40.7v2.1h-40.7zM645.3 1111.8h40.7v1.6h-40.7zM645.3 1143.8h40.7v3.1h-40.7zM685.6 1035.3h40.7v24.6h-40.7zM685.6 1068.8h40.7v8.2h-40.7zM685.6 1081.8h40.7v2.1h-40.7zM685.6 1087.8h40.7v1.6h-40.7zM685.6 1092.8h40.7v2.6h-40.7zM685.6 1103.3h40.7v2.1h-40.7zM685.6 1113.3h40.7v3.6h-40.7zM685.6 1143.8h40.7v3.1h-40.7zM685.6 1153.8h40.7v5.2h-40.7zM725.9 1032.8h40.7v9.2h-40.7zM725.9 1050.8h40.7v16.6h-40.7zM725.9 1073.8h40.7v8.2h-40.7zM766.2 1032.8h40.7v6.7h-40.7zM766.2 1041.8h40.7v5.2h-40.7zM766.2 1050.8h40.7v5.2h-40.7zM766.2 1059.8h40.7v7.7h-40.7zM766.2 1068.8h40.7v8.2h-40.7zM766.2 1083.8h40.7v4.2h-40.7zM766.2 1091.3h40.7v1.6h-40.7zM766.2 1095.3h40.7v3.1h-40.7zM766.2 1111.8h40.7v1.6h-40.7zM806.6 1035.3h40.7v6.7h-40.7zM806.6 1046.8h40.7v4.2h-40.7zM806.6 1063.8h40.7v10.2h-40.7zM806.6 1083.8h40.7v4.2h-40.7zM806.6 1089.3h40.7v2.1h-40.7zM806.6 1103.3h40.7v2.1h-40.7zM806.6 1131.8h40.7v7.2h-40.7zM806.6 1158.8h40.7v1.6h-40.7zM806.6 1182.8h40.7v1.6h-40.7zM846.9 1035.3h40.7v11.7h-40.7zM846.9 1059.8h40.7v7.7h-40.7zM846.9 1068.8h40.7v5.2h-40.7zM846.9 1118.8h40.7v1.6h-40.7zM846.9 1124.3h40.7v2.1h-40.7zM846.9 1129.3h40.7v2.6h-40.7zM887.2 1029.3h40.7v3.6h-40.7zM887.2 1035.3h40.7v4.2h-40.7zM887.2 1046.8h40.7v4.2h-40.7zM887.2 1059.8h40.7v7.7h-40.7zM887.2 1081.8h40.7v2.1h-40.7zM887.2 1087.8h40.7v1.6h-40.7zM887.2 1133.8h40.7v5.2h-40.7zM927.5 1035.3h40.7v4.2h-40.7zM927.5 1041.8h40.7v5.2h-40.7zM927.5 1055.8h40.7v8.2h-40.7zM927.5 1068.8h40.7v8.2h-40.7zM927.5 1087.8h40.7v1.6h-40.7zM927.5 1091.3h40.7v1.6h-40.7zM927.5 1113.3h40.7v3.6h-40.7zM927.5 1118.8h40.7v1.6h-40.7zM967.9 1032.8h40.7v2.6h-40.7zM967.9 1039.3h40.7v11.7h-40.7zM967.9 1055.8h40.7v4.2h-40.7zM967.9 1063.8h40.7v13.2h-40.7zM967.9 1081.8h40.7v2.1h-40.7zM967.9 1087.8h40.7v1.6h-40.7zM967.9 1098.3h40.7v5.2h-40.7zM967.9 1105.3h40.7v3.1h-40.7zM967.9 1131.8h40.7v2.1h-40.7zM967.9 1143.8h40.7v3.1h-40.7zM967.9 1165.8h40.7v3.6h-40.7zM1008.2 1029.3h40.7v21.6h-40.7zM1008.2 1059.8h40.7v4.2h-40.7zM1008.2 1067.3h40.7v1.6h-40.7zM1008.2 1087.8h40.7v1.6h-40.7zM1008.2 1120.3h40.7v4.2h-40.7zM1008.2 1131.8h40.7v2.1h-40.7zM1008.2 1143.8h40.7v3.1h-40.7z"/><path fill="#ebf3fa" d="M161.4 1081.8h40.7v2.1h-40.7zM161.4 1138.8h40.7v5.2h-40.7zM161.4 1169.3h40.7v3.1h-40.7zM161.4 1176.3h40.7v1.6h-40.7zM161.4 1182.8h40.7v1.6h-40.7zM161.4 1186.3h40.7v5.2h-40.7zM161.4 1193.3h40.7v2.1h-40.7zM161.4 1207.3h40.7v2.1h-40.7zM161.4 1224.8h40.7v4.2h-40.7zM201.7 1087.8h40.7v1.6h-40.7zM201.7 1095.3h40.7v8.2h-40.7zM201.7 1108.3h40.7v5.2h-40.7zM201.7 1124.3h40.7v2.1h-40.7zM201.7 1133.8h40.7v10.2h-40.7zM201.7 1158.8h40.7v1.6h-40.7zM201.7 1165.8h40.7v3.6h-40.7zM201.7 1176.3h40.7v1.6h-40.7zM201.7 1182.8h40.7v1.6h-40.7zM242.0 1095.3h40.7v3.1h-40.7zM242.0 1108.3h40.7v5.2h-40.7zM242.0 1116.8h40.7v2.1h-40.7zM242.0 1124.3h40.7v2.1h-40.7zM242.0 1131.8h40.7v2.1h-40.7zM242.0 1158.8h40.7v1.6h-40.7zM242.0 1162.3h40.7v7.2h-40.7zM242.0 1176.3h40.7v6.7h-40.7zM282.4 1105.3h40.7v3.1h-40.7zM282.4 1116.8h40.7v2.1h-40.7zM282.4 1148.8h40.7v10.2h-40.7zM282.4 1162.3h40.7v3.6h-40.7zM282.4 1172.3h40.7v2.1h-40.7zM282.4 1182.8h40.7v3.6h-40.7zM282.4 1207.3h40.7v2.1h-40.7zM322.7 1146.8h40.7v2.1h-40.7zM322.7 1158.8h40.7v1.6h-40.7zM322.7 1162.3h40.7v3.6h-40.7zM322.7 1172.3h40.7v2.1h-40.7zM322.7 1182.8h40.7v1.6h-40.7zM322.7 1193.3h40.7v2.1h-40.7zM363.0 1098.3h40.7v5.2h-40.7zM363.0 1138.8h40.7v5.2h-40.7zM363.0 1146.8h40.7v2.1h-40.7zM363.0 1158.8h40.7v1.6h-40.7zM363.0 1165.8h40.7v3.6h-40.7zM403.3 1076.8h40.7v11.2h-40.7zM403.3 1098.3h40.7v5.2h-40.7zM403.3 1116.8h40.7v2.1h-40.7zM403.3 1126.3h40.7v5.7h-40.7zM403.3 1148.8h40.7v5.2h-40.7zM403.3 1172.3h40.7v2.1h-40.7zM403.3 1177.8h40.7v6.7h-40.7zM403.3 1202.3h40.7v2.6h-40.7zM403.3 1224.8h40.7v4.2h-40.7zM443.7 1055.8h40.7v4.2h-40.7zM443.7 1083.8h40.7v4.2h-40.7zM443.7 1108.3h40.7v3.6h-40.7zM443.7 1116.8h40.7v7.7h-40.7zM443.7 1129.3h40.7v2.6h-40.7zM443.7 1146.8h40.7v2.1h-40.7zM443.7 1153.8h40.7v6.7h-40.7zM443.7 1169.3h40.7v3.1h-40.7zM443.7 1182.8h40.7v3.6h-40.7zM443.7 1191.3h40.7v2.1h-40.7zM443.7 1249.8h40.7v1.6h-40.7zM484.0 1124.3h40.7v2.1h-40.7zM484.0 1131.8h40.7v2.1h-40.7zM484.0 1158.8h40.7v1.6h-40.7zM484.0 1174.3h40.7v2.1h-40.7zM484.0 1182.8h40.7v1.6h-40.7zM484.0 1202.3h40.7v2.6h-40.7zM484.0 1245.3h40.7v2.1h-40.7zM524.3 1120.3h40.7v4.2h-40.7zM524.3 1133.8h40.7v13.2h-40.7zM524.3 1158.8h40.7v1.6h-40.7zM564.6 1111.8h40.7v1.6h-40.7zM564.6 1138.8h40.7v5.2h-40.7zM564.6 1148.8h40.7v5.2h-40.7zM564.6 1174.3h40.7v3.6h-40.7zM564.6 1184.3h40.7v2.1h-40.7zM564.6 1207.3h40.7v2.1h-40.7zM564.6 1253.8h40.7v2.6h-40.7zM604.9 1089.3h40.7v2.1h-40.7zM604.9 1095.3h40.7v8.2h-40.7zM604.9 1108.3h40.7v3.6h-40.7zM604.9 1116.8h40.7v3.6h-40.7zM604.9 1148.8h40.7v10.2h-40.7zM604.9 1169.3h40.7v3.1h-40.7zM604.9 1186.3h40.7v5.2h-40.7zM604.9 1207.3h40.7v2.1h-40.7zM645.3 1098.3h40.7v5.2h-40.7zM645.3 1116.8h40.7v2.1h-40.7zM645.3 1124.3h40.7v2.1h-40.7zM645.3 1131.8h40.7v2.1h-40.7zM645.3 1138.8h40.7v5.2h-40.7zM645.3 1148.8h40.7v10.2h-40.7zM645.3 1174.3h40.7v3.6h-40.7zM645.3 1207.3h40.7v2.1h-40.7zM685.6 1083.8h40.7v4.2h-40.7zM685.6 1089.3h40.7v2.1h-40.7zM685.6 1095.3h40.7v3.1h-40.7zM685.6 1108.3h40.7v3.6h-40.7zM685.6 1129.3h40.7v2.6h-40.7zM685.6 1133.8h40.7v5.2h-40.7zM685.6 1158.8h40.7v1.6h-40.7zM685.6 1172.3h40.7v2.1h-40.7zM685.6 1195.3h40.7v7.2h-40.7zM685.6 1249.8h40.7v1.6h-40.7zM725.9 1120.3h40.7v4.2h-40.7zM725.9 1143.8h40.7v3.1h-40.7zM725.9 1162.3h40.7v3.6h-40.7zM725.9 1247.3h40.7v2.6h-40.7zM766.2 1108.3h40.7v3.6h-40.7zM766.2 1113.3h40.7v3.6h-40.7zM766.2 1120.3h40.7v4.2h-40.7zM766.2 1158.8h40.7v1.6h-40.7zM766.2 1162.3h40.7v3.6h-40.7zM766.2 1195.3h40.7v7.2h-40.7zM766.2 1249.8h40.7v1.6h-40.7zM806.6 1105.3h40.7v6.7h-40.7zM806.6 1138.8h40.7v5.2h-40.7zM806.6 1146.8h40.7v7.2h-40.7zM806.6 1162.3h40.7v3.6h-40.7zM806.6 1220.8h40.7v2.1h-40.7zM846.9 1103.3h40.7v2.1h-40.7zM846.9 1108.3h40.7v8.7h-40.7zM846.9 1165.8h40.7v3.6h-40.7zM846.9 1195.3h40.7v5.2h-40.7zM846.9 1220.8h40.7v2.1h-40.7zM887.2 1073.8h40.7v3.1h-40.7zM887.2 1113.3h40.7v5.7h-40.7zM887.2 1126.3h40.7v7.7h-40.7zM887.2 1138.8h40.7v8.2h-40.7zM887.2 1158.8h40.7v1.6h-40.7zM887.2 1162.3h40.7v7.2h-40.7zM887.2 1176.3h40.7v1.6h-40.7zM927.5 1108.3h40.7v3.6h-40.7zM927.5 1116.8h40.7v2.1h-40.7zM927.5 1120.3h40.7v6.2h-40.7zM927.5 1131.8h40.7v2.1h-40.7zM927.5 1138.8h40.7v8.2h-40.7zM927.5 1158.8h40.7v1.6h-40.7zM927.5 1207.3h40.7v2.1h-40.7zM967.9 1083.8h40.7v4.2h-40.7zM967.9 1108.3h40.7v3.6h-40.7zM967.9 1113.3h40.7v3.6h-40.7zM967.9 1124.3h40.7v2.1h-40.7zM967.9 1153.8h40.7v5.2h-40.7zM967.9 1162.3h40.7v3.6h-40.7zM967.9 1182.8h40.7v1.6h-40.7zM967.9 1191.3h40.7v2.1h-40.7zM967.9 1249.8h40.7v1.6h-40.7zM1008.2 1089.3h40.7v2.1h-40.7zM1008.2 1108.3h40.7v5.2h-40.7zM1008.2 1129.3h40.7v2.6h-40.7zM1008.2 1138.8h40.7v5.2h-40.7zM1008.2 1148.8h40.7v5.2h-40.7zM1008.2 1169.3h40.7v3.1h-40.7zM1008.2 1191.3h40.7v4.2h-40.7zM1008.2 1209.3h40.7v3.6h-40.7zM1008.2 1220.8h40.7v2.1h-40.7z"/><path fill="#eff5fb" d="M161.4 1091.3h40.7v1.6h-40.7zM161.4 1095.3h40.7v3.1h-40.7zM161.4 1105.3h40.7v6.7h-40.7zM161.4 1120.3h40.7v6.2h-40.7zM161.4 1129.3h40.7v2.6h-40.7zM161.4 1158.8h40.7v1.6h-40.7zM161.4 1162.3h40.7v7.2h-40.7zM201.7 1035.3h40.7v4.2h-40.7zM201.7 1073.8h40.7v3.1h-40.7zM201.7 1081.8h40.7v2.1h-40.7zM201.7 1089.3h40.7v6.2h-40.7zM201.7 1116.8h40.7v2.1h-40.7zM201.7 1131.8h40.7v2.1h-40.7zM201.7 1143.8h40.7v10.2h-40.7zM201.7 1174.3h40.7v2.1h-40.7zM242.0 1055.8h40.7v4.2h-40.7zM242.0 1067.3h40.7v1.6h-40.7zM242.0 1073.8h40.7v3.1h-40.7zM242.0 1081.8h40.7v2.1h-40.7zM242.0 1098.3h40.7v5.2h-40.7zM242.0 1105.3h40.7v3.1h-40.7zM242.0 1113.3h40.7v3.6h-40.7zM242.0 1129.3h40.7v2.6h-40.7zM242.0 1133.8h40.7v10.2h-40.7zM282.4 1039.3h40.7v2.6h-40.7zM282.4 1095.3h40.7v10.2h-40.7zM282.4 1118.8h40.7v5.7h-40.7zM282.4 1126.3h40.7v5.7h-40.7zM282.4 1133.8h40.7v5.2h-40.7zM282.4 1143.8h40.7v3.1h-40.7zM282.4 1165.8h40.7v3.6h-40.7zM282.4 1220.8h40.7v2.1h-40.7zM322.7 1073.8h40.7v3.1h-40.7zM322.7 1081.8h40.7v2.1h-40.7zM322.7 1103.3h40.7v2.1h-40.7zM322.7 1120.3h40.7v6.2h-40.7zM322.7 1129.3h40.7v2.6h-40.7zM322.7 1133.8h40.7v13.2h-40.7zM363.0 1103.3h40.7v5.2h-40.7zM363.0 1116.8h40.7v2.1h-40.7zM363.0 1129.3h40.7v9.7h-40.7zM363.0 1143.8h40.7v3.1h-40.7zM363.0 1153.8h40.7v5.2h-40.7zM363.0 1172.3h40.7v2.1h-40.7zM403.3 1067.3h40.7v1.6h-40.7zM403.3 1118.8h40.7v5.7h-40.7zM403.3 1153.8h40.7v6.7h-40.7zM403.3 1176.3h40.7v1.6h-40.7zM443.7 1063.8h40.7v3.6h-40.7zM443.7 1095.3h40.7v3.1h-40.7zM443.7 1103.3h40.7v2.1h-40.7zM443.7 1111.8h40.7v5.2h-40.7zM443.7 1138.8h40.7v8.2h-40.7zM443.7 1162.3h40.7v7.2h-40.7zM443.7 1202.3h40.7v2.6h-40.7zM484.0 1113.3h40.7v5.7h-40.7zM484.0 1138.8h40.7v5.2h-40.7zM484.0 1146.8h40.7v2.1h-40.7zM484.0 1165.8h40.7v3.6h-40.7zM484.0 1193.3h40.7v2.1h-40.7zM524.3 1067.3h40.7v1.6h-40.7zM524.3 1073.8h40.7v3.1h-40.7zM524.3 1089.3h40.7v2.1h-40.7zM524.3 1108.3h40.7v3.6h-40.7zM524.3 1124.3h40.7v2.1h-40.7zM524.3 1148.8h40.7v10.2h-40.7zM524.3 1186.3h40.7v5.2h-40.7zM564.6 1076.8h40.7v5.2h-40.7zM564.6 1089.3h40.7v2.1h-40.7zM564.6 1105.3h40.7v3.1h-40.7zM564.6 1113.3h40.7v7.2h-40.7zM564.6 1124.3h40.7v5.2h-40.7zM564.6 1133.8h40.7v5.2h-40.7zM564.6 1143.8h40.7v3.1h-40.7zM564.6 1153.8h40.7v5.2h-40.7zM564.6 1165.8h40.7v3.6h-40.7zM564.6 1177.8h40.7v5.2h-40.7zM564.6 1202.3h40.7v2.6h-40.7zM604.9 1059.8h40.7v4.2h-40.7zM604.9 1081.8h40.7v2.1h-40.7zM604.9 1091.3h40.7v1.6h-40.7zM604.9 1103.3h40.7v5.2h-40.7zM604.9 1113.3h40.7v3.6h-40.7zM604.9 1120.3h40.7v4.2h-40.7zM604.9 1126.3h40.7v5.7h-40.7zM604.9 1133.8h40.7v10.2h-40.7zM604.9 1146.8h40.7v2.1h-40.7zM604.9 1182.8h40.7v1.6h-40.7zM645.3 1067.3h40.7v1.6h-40.7zM645.3 1092.8h40.7v5.7h-40.7zM645.3 1113.3h40.7v3.6h-40.7zM645.3 1120.3h40.7v4.2h-40.7zM645.3 1129.3h40.7v2.6h-40.7zM645.3 1133.8h40.7v5.2h-40.7zM645.3 1172.3h40.7v2.1h-40.7zM645.3 1202.3h40.7v2.6h-40.7zM685.6 1105.3h40.7v3.1h-40.7zM685.6 1124.3h40.7v2.1h-40.7zM685.6 1131.8h40.7v2.1h-40.7zM685.6 1146.8h40.7v2.1h-40.7zM685.6 1184.3h40.7v2.1h-40.7zM685.6 1204.8h40.7v2.6h-40.7zM685.6 1222.8h40.7v2.1h-40.7zM725.9 1081.8h40.7v9.7h-40.7zM725.9 1092.8h40.7v2.6h-40.7zM725.9 1108.3h40.7v3.6h-40.7zM725.9 1124.3h40.7v7.7h-40.7zM725.9 1133.8h40.7v10.2h-40.7zM725.9 1148.8h40.7v11.7h-40.7zM766.2 1067.3h40.7v1.6h-40.7zM766.2 1087.8h40.7v1.6h-40.7zM766.2 1092.8h40.7v2.6h-40.7zM766.2 1116.8h40.7v3.6h-40.7zM766.2 1124.3h40.7v5.2h-40.7zM766.2 1133.8h40.7v13.2h-40.7zM766.2 1153.8h40.7v5.2h-40.7zM766.2 1169.3h40.7v3.1h-40.7zM766.2 1174.3h40.7v2.1h-40.7zM766.2 1177.8h40.7v5.2h-40.7zM766.2 1193.3h40.7v2.1h-40.7zM766.2 1207.3h40.7v2.1h-40.7zM806.6 1076.8h40.7v5.2h-40.7zM806.6 1092.8h40.7v2.6h-40.7zM806.6 1098.3h40.7v5.2h-40.7zM806.6 1113.3h40.7v13.2h-40.7zM806.6 1129.3h40.7v2.6h-40.7zM806.6 1143.8h40.7v3.1h-40.7zM806.6 1169.3h40.7v3.1h-40.7zM806.6 1184.3h40.7v2.1h-40.7zM846.9 1050.8h40.7v5.2h-40.7zM846.9 1076.8h40.7v7.2h-40.7zM846.9 1089.3h40.7v2.1h-40.7zM846.9 1092.8h40.7v2.6h-40.7zM846.9 1105.3h40.7v3.1h-40.7zM846.9 1120.3h40.7v4.2h-40.7zM846.9 1133.8h40.7v20.1h-40.7zM846.9 1186.3h40.7v5.2h-40.7zM887.2 1089.3h40.7v2.1h-40.7zM887.2 1098.3h40.7v5.2h-40.7zM887.2 1108.3h40.7v3.6h-40.7zM887.2 1153.8h40.7v5.2h-40.7zM927.5 1089.3h40.7v2.1h-40.7zM927.5 1105.3h40.7v3.1h-40.7zM927.5 1111.8h40.7v1.6h-40.7zM927.5 1126.3h40.7v5.7h-40.7zM927.5 1148.8h40.7v10.2h-40.7zM927.5 1162.3h40.7v3.6h-40.7zM927.5 1174.3h40.7v3.6h-40.7zM967.9 1095.3h40.7v3.1h-40.7zM967.9 1116.8h40.7v2.1h-40.7zM967.9 1126.3h40.7v3.1h-40.7zM967.9 1148.8h40.7v5.2h-40.7zM967.9 1195.3h40.7v5.2h-40.7zM967.9 1237.8h40.7v2.6h-40.7zM1008.2 1081.8h40.7v2.1h-40.7zM1008.2 1092.8h40.7v2.6h-40.7zM1008.2 1098.3h40.7v5.2h-40.7zM1008.2 1113.3h40.7v5.7h-40.7zM1008.2 1124.3h40.7v5.2h-40.7zM1008.2 1146.8h40.7v2.1h-40.7zM1008.2 1158.8h40.7v1.6h-40.7zM1008.2 1162.3h40.7v3.6h-40.7zM1008.2 1184.3h40.7v2.1h-40.7z"/><path fill="#e8f0f9" d="M161.4 1116.8h40.7v2.1h-40.7zM161.4 1143.8h40.7v3.1h-40.7zM161.4 1148.8h40.7v5.2h-40.7zM161.4 1202.3h40.7v2.6h-40.7zM161.4 1253.8h40.7v2.6h-40.7zM201.7 1039.3h40.7v2.6h-40.7zM201.7 1160.3h40.7v2.1h-40.7zM201.7 1169.3h40.7v3.1h-40.7zM242.0 1063.8h40.7v3.6h-40.7zM242.0 1120.3h40.7v4.2h-40.7zM242.0 1126.3h40.7v3.1h-40.7zM242.0 1143.8h40.7v5.2h-40.7zM242.0 1160.3h40.7v2.1h-40.7zM242.0 1169.3h40.7v5.2h-40.7zM242.0 1184.3h40.7v2.1h-40.7zM242.0 1200.3h40.7v2.1h-40.7zM282.4 1089.3h40.7v2.1h-40.7zM282.4 1092.8h40.7v2.6h-40.7zM282.4 1124.3h40.7v2.1h-40.7zM282.4 1138.8h40.7v5.2h-40.7zM282.4 1158.8h40.7v3.6h-40.7zM282.4 1177.8h40.7v5.2h-40.7zM282.4 1236.3h40.7v1.6h-40.7zM322.7 1108.3h40.7v3.6h-40.7zM322.7 1176.3h40.7v1.6h-40.7zM322.7 1191.3h40.7v2.1h-40.7zM322.7 1195.3h40.7v5.2h-40.7zM322.7 1220.8h40.7v4.2h-40.7zM363.0 1095.3h40.7v3.1h-40.7zM363.0 1108.3h40.7v3.6h-40.7zM363.0 1120.3h40.7v4.2h-40.7zM363.0 1174.3h40.7v2.1h-40.7zM403.3 1111.8h40.7v1.6h-40.7zM403.3 1143.8h40.7v5.2h-40.7zM403.3 1191.3h40.7v2.1h-40.7zM403.3 1195.3h40.7v5.2h-40.7zM403.3 1207.3h40.7v2.1h-40.7zM443.7 1105.3h40.7v3.1h-40.7zM443.7 1176.3h40.7v6.7h-40.7zM443.7 1186.3h40.7v5.2h-40.7zM443.7 1207.3h40.7v2.1h-40.7zM443.7 1253.8h40.7v7.7h-40.7zM484.0 1133.8h40.7v5.2h-40.7zM484.0 1143.8h40.7v3.1h-40.7zM484.0 1172.3h40.7v2.1h-40.7zM484.0 1176.3h40.7v1.6h-40.7zM484.0 1184.3h40.7v2.1h-40.7zM484.0 1191.3h40.7v2.1h-40.7zM524.3 1098.3h40.7v5.2h-40.7zM524.3 1146.8h40.7v2.1h-40.7zM524.3 1162.3h40.7v3.6h-40.7zM524.3 1176.3h40.7v1.6h-40.7zM524.3 1182.8h40.7v1.6h-40.7zM524.3 1193.3h40.7v2.1h-40.7zM524.3 1200.3h40.7v4.7h-40.7zM564.6 1098.3h40.7v5.2h-40.7zM564.6 1146.8h40.7v2.1h-40.7zM564.6 1158.8h40.7v1.6h-40.7zM564.6 1200.3h40.7v2.1h-40.7zM564.6 1243.3h40.7v2.1h-40.7zM604.9 1124.3h40.7v2.1h-40.7zM604.9 1162.3h40.7v7.2h-40.7zM604.9 1177.8h40.7v5.2h-40.7zM604.9 1193.3h40.7v2.1h-40.7zM604.9 1249.8h40.7v1.6h-40.7zM645.3 1146.8h40.7v2.1h-40.7zM645.3 1162.3h40.7v3.6h-40.7zM645.3 1169.3h40.7v3.1h-40.7zM645.3 1177.8h40.7v6.7h-40.7zM645.3 1195.3h40.7v5.2h-40.7zM645.3 1233.8h40.7v2.6h-40.7zM685.6 1111.8h40.7v1.6h-40.7zM685.6 1148.8h40.7v5.2h-40.7zM685.6 1160.3h40.7v5.7h-40.7zM685.6 1176.3h40.7v6.7h-40.7zM685.6 1191.3h40.7v2.1h-40.7zM685.6 1240.3h40.7v3.1h-40.7zM685.6 1251.3h40.7v2.6h-40.7zM725.9 1103.3h40.7v2.1h-40.7zM725.9 1116.8h40.7v2.1h-40.7zM725.9 1169.3h40.7v3.1h-40.7zM725.9 1176.3h40.7v1.6h-40.7zM725.9 1182.8h40.7v3.6h-40.7zM725.9 1191.3h40.7v4.2h-40.7zM725.9 1253.8h40.7v2.6h-40.7zM766.2 1089.3h40.7v2.1h-40.7zM766.2 1105.3h40.7v3.1h-40.7zM766.2 1148.8h40.7v5.2h-40.7zM766.2 1172.3h40.7v2.1h-40.7zM766.2 1191.3h40.7v2.1h-40.7zM766.2 1202.3h40.7v2.6h-40.7zM766.2 1253.8h40.7v2.6h-40.7zM806.6 1126.3h40.7v3.1h-40.7zM806.6 1160.3h40.7v2.1h-40.7zM806.6 1165.8h40.7v3.6h-40.7zM806.6 1177.8h40.7v5.2h-40.7zM806.6 1191.3h40.7v2.1h-40.7zM806.6 1202.3h40.7v2.6h-40.7zM806.6 1236.3h40.7v1.6h-40.7zM806.6 1253.8h40.7v2.6h-40.7zM846.9 1126.3h40.7v3.1h-40.7zM846.9 1153.8h40.7v6.7h-40.7zM846.9 1182.8h40.7v1.6h-40.7zM846.9 1191.3h40.7v4.2h-40.7zM887.2 1146.8h40.7v7.2h-40.7zM887.2 1172.3h40.7v4.2h-40.7zM887.2 1177.8h40.7v5.2h-40.7zM887.2 1191.3h40.7v2.1h-40.7zM887.2 1195.3h40.7v5.2h-40.7zM887.2 1253.8h40.7v2.6h-40.7zM927.5 1133.8h40.7v5.2h-40.7zM927.5 1165.8h40.7v6.7h-40.7zM927.5 1233.8h40.7v2.6h-40.7zM927.5 1253.8h40.7v2.6h-40.7zM967.9 1172.3h40.7v5.7h-40.7zM967.9 1184.3h40.7v2.1h-40.7zM1008.2 1160.3h40.7v2.1h-40.7zM1008.2 1165.8h40.7v3.6h-40.7zM1008.2 1176.3h40.7v1.6h-40.7zM1008.2 1202.3h40.7v2.6h-40.7z"/><path fill="#d8e6f4" d="M161.4 1160.3h40.7v2.1h-40.7zM161.4 1191.3h40.7v2.1h-40.7zM161.4 1216.8h40.7v4.2h-40.7zM161.4 1228.8h40.7v2.1h-40.7zM161.4 1245.3h40.7v4.7h-40.7zM161.4 1281.3h40.7v2.6h-40.7zM201.7 1200.3h40.7v2.1h-40.7zM201.7 1204.8h40.7v2.6h-40.7zM201.7 1209.3h40.7v3.6h-40.7zM201.7 1220.8h40.7v2.1h-40.7zM201.7 1233.8h40.7v2.6h-40.7zM242.0 1216.8h40.7v4.2h-40.7zM242.0 1222.8h40.7v6.2h-40.7zM242.0 1233.8h40.7v2.6h-40.7zM242.0 1237.8h40.7v2.6h-40.7zM242.0 1247.3h40.7v2.6h-40.7zM282.4 1191.3h40.7v2.1h-40.7zM282.4 1240.3h40.7v5.2h-40.7zM282.4 1251.3h40.7v2.6h-40.7zM282.4 1281.3h40.7v2.6h-40.7zM322.7 1224.8h40.7v4.2h-40.7zM322.7 1236.3h40.7v1.6h-40.7zM322.7 1243.3h40.7v2.1h-40.7zM322.7 1249.8h40.7v1.6h-40.7zM322.7 1269.8h40.7v3.6h-40.7zM322.7 1281.3h40.7v2.6h-40.7zM322.7 1309.3h40.7v3.1h-40.7zM363.0 1162.3h40.7v3.6h-40.7zM363.0 1220.8h40.7v2.1h-40.7zM363.0 1245.3h40.7v2.1h-40.7zM363.0 1256.3h40.7v5.2h-40.7zM363.0 1269.8h40.7v3.6h-40.7zM363.0 1277.3h40.7v6.7h-40.7zM403.3 1204.8h40.7v2.6h-40.7zM403.3 1216.8h40.7v4.2h-40.7zM403.3 1261.3h40.7v7.2h-40.7zM403.3 1277.3h40.7v4.2h-40.7zM403.3 1283.8h40.7v1.6h-40.7zM443.7 1222.8h40.7v2.1h-40.7zM443.7 1240.3h40.7v3.1h-40.7zM443.7 1247.3h40.7v2.6h-40.7zM443.7 1268.3h40.7v1.6h-40.7zM443.7 1300.8h40.7v4.2h-40.7zM484.0 1200.3h40.7v2.1h-40.7zM484.0 1228.8h40.7v5.2h-40.7zM484.0 1243.3h40.7v2.1h-40.7zM484.0 1261.3h40.7v3.6h-40.7zM484.0 1277.3h40.7v4.2h-40.7zM484.0 1295.3h40.7v2.6h-40.7zM484.0 1300.8h40.7v4.2h-40.7zM524.3 1160.3h40.7v2.1h-40.7zM524.3 1204.8h40.7v4.7h-40.7zM524.3 1236.3h40.7v4.2h-40.7zM524.3 1264.8h40.7v5.2h-40.7zM524.3 1325.3h40.7v1.6h-40.7zM564.6 1162.3h40.7v3.6h-40.7zM564.6 1191.3h40.7v2.1h-40.7zM564.6 1195.3h40.7v5.2h-40.7zM564.6 1212.8h40.7v4.2h-40.7zM564.6 1245.3h40.7v2.1h-40.7zM564.6 1277.3h40.7v6.7h-40.7zM564.6 1285.3h40.7v2.6h-40.7zM564.6 1290.3h40.7v5.2h-40.7zM604.9 1204.8h40.7v2.6h-40.7zM604.9 1224.8h40.7v6.2h-40.7zM604.9 1247.3h40.7v2.6h-40.7zM604.9 1256.3h40.7v5.2h-40.7zM645.3 1204.8h40.7v2.6h-40.7zM645.3 1224.8h40.7v4.2h-40.7zM645.3 1230.8h40.7v3.1h-40.7zM645.3 1251.3h40.7v2.6h-40.7zM645.3 1256.3h40.7v5.2h-40.7zM645.3 1273.3h40.7v8.2h-40.7zM645.3 1283.8h40.7v1.6h-40.7zM685.6 1212.8h40.7v4.2h-40.7zM685.6 1243.3h40.7v2.1h-40.7zM685.6 1247.3h40.7v2.6h-40.7zM685.6 1253.8h40.7v2.6h-40.7zM685.6 1283.8h40.7v4.2h-40.7zM725.9 1177.8h40.7v5.2h-40.7zM725.9 1212.8h40.7v4.2h-40.7zM725.9 1237.8h40.7v2.6h-40.7zM725.9 1245.3h40.7v2.1h-40.7zM725.9 1261.3h40.7v3.6h-40.7zM725.9 1281.3h40.7v2.6h-40.7zM766.2 1209.3h40.7v3.6h-40.7zM766.2 1216.8h40.7v4.2h-40.7zM766.2 1236.3h40.7v1.6h-40.7zM766.2 1285.3h40.7v2.6h-40.7zM806.6 1209.3h40.7v3.6h-40.7zM806.6 1216.8h40.7v4.2h-40.7zM806.6 1230.8h40.7v3.1h-40.7zM806.6 1243.3h40.7v2.1h-40.7zM806.6 1249.8h40.7v1.6h-40.7zM806.6 1261.3h40.7v3.6h-40.7zM806.6 1277.3h40.7v4.2h-40.7zM806.6 1283.8h40.7v1.6h-40.7zM846.9 1230.8h40.7v3.1h-40.7zM846.9 1253.8h40.7v2.6h-40.7zM846.9 1269.8h40.7v3.6h-40.7zM887.2 1200.3h40.7v2.1h-40.7zM887.2 1243.3h40.7v2.1h-40.7zM887.2 1281.3h40.7v2.6h-40.7zM887.2 1322.8h40.7v2.6h-40.7zM887.2 1338.3h40.7v4.7h-40.7zM927.5 1195.3h40.7v5.2h-40.7zM927.5 1204.8h40.7v2.6h-40.7zM927.5 1230.8h40.7v3.1h-40.7zM927.5 1236.3h40.7v1.6h-40.7zM927.5 1245.3h40.7v2.1h-40.7zM967.9 1228.8h40.7v2.1h-40.7zM967.9 1240.3h40.7v3.1h-40.7zM967.9 1245.3h40.7v2.1h-40.7zM967.9 1268.3h40.7v1.6h-40.7zM967.9 1287.8h40.7v2.6h-40.7zM1008.2 1204.8h40.7v2.6h-40.7zM1008.2 1212.8h40.7v4.2h-40.7zM1008.2 1222.8h40.7v2.1h-40.7zM1008.2 1228.8h40.7v2.1h-40.7zM1008.2 1240.3h40.7v5.2h-40.7zM1008.2 1249.8h40.7v4.2h-40.7zM1008.2 1256.3h40.7v5.2h-40.7zM1008.2 1273.3h40.7v4.2h-40.7zM1008.2 1290.3h40.7v5.2h-40.7z"/><path fill="#e4eef8" d="M161.4 1172.3h40.7v2.1h-40.7zM161.4 1177.8h40.7v5.2h-40.7zM161.4 1195.3h40.7v5.2h-40.7zM161.4 1209.3h40.7v3.6h-40.7zM161.4 1236.3h40.7v1.6h-40.7zM161.4 1240.3h40.7v5.2h-40.7zM161.4 1264.8h40.7v3.6h-40.7zM161.4 1277.3h40.7v4.2h-40.7zM201.7 1120.3h40.7v4.2h-40.7zM201.7 1126.3h40.7v5.7h-40.7zM201.7 1162.3h40.7v3.6h-40.7zM242.0 1148.8h40.7v5.2h-40.7zM242.0 1202.3h40.7v2.6h-40.7zM282.4 1169.3h40.7v3.1h-40.7zM282.4 1176.3h40.7v1.6h-40.7zM282.4 1186.3h40.7v5.2h-40.7zM282.4 1202.3h40.7v5.2h-40.7zM282.4 1224.8h40.7v6.2h-40.7zM322.7 1160.3h40.7v2.1h-40.7zM322.7 1169.3h40.7v3.1h-40.7zM322.7 1174.3h40.7v2.1h-40.7zM322.7 1184.3h40.7v7.2h-40.7zM322.7 1200.3h40.7v2.1h-40.7zM322.7 1216.8h40.7v4.2h-40.7zM322.7 1247.3h40.7v2.6h-40.7zM363.0 1148.8h40.7v5.2h-40.7zM363.0 1169.3h40.7v3.1h-40.7zM363.0 1177.8h40.7v6.7h-40.7zM363.0 1193.3h40.7v2.1h-40.7zM363.0 1202.3h40.7v2.6h-40.7zM363.0 1212.8h40.7v4.2h-40.7zM363.0 1224.8h40.7v4.2h-40.7zM363.0 1249.8h40.7v6.7h-40.7zM403.3 1162.3h40.7v3.6h-40.7zM403.3 1169.3h40.7v3.1h-40.7zM403.3 1174.3h40.7v2.1h-40.7zM403.3 1184.3h40.7v2.1h-40.7zM403.3 1193.3h40.7v2.1h-40.7zM403.3 1209.3h40.7v3.6h-40.7zM403.3 1220.8h40.7v2.1h-40.7zM403.3 1247.3h40.7v2.6h-40.7zM403.3 1251.3h40.7v2.6h-40.7zM443.7 1148.8h40.7v5.2h-40.7zM443.7 1172.3h40.7v2.1h-40.7zM443.7 1193.3h40.7v2.1h-40.7zM443.7 1233.8h40.7v2.6h-40.7zM484.0 1160.3h40.7v5.7h-40.7zM484.0 1169.3h40.7v3.1h-40.7zM484.0 1177.8h40.7v5.2h-40.7zM484.0 1209.3h40.7v3.6h-40.7zM484.0 1224.8h40.7v4.2h-40.7zM484.0 1233.8h40.7v2.6h-40.7zM484.0 1269.8h40.7v3.6h-40.7zM524.3 1169.3h40.7v7.2h-40.7zM524.3 1184.3h40.7v2.1h-40.7zM524.3 1233.8h40.7v2.6h-40.7zM524.3 1251.3h40.7v2.6h-40.7zM564.6 1169.3h40.7v5.2h-40.7zM564.6 1193.3h40.7v2.1h-40.7zM564.6 1220.8h40.7v2.1h-40.7zM564.6 1251.3h40.7v2.6h-40.7zM604.9 1131.8h40.7v2.1h-40.7zM604.9 1212.8h40.7v4.2h-40.7zM604.9 1230.8h40.7v3.1h-40.7zM645.3 1126.3h40.7v3.1h-40.7zM645.3 1158.8h40.7v1.6h-40.7zM645.3 1184.3h40.7v2.1h-40.7zM645.3 1216.8h40.7v4.2h-40.7zM645.3 1222.8h40.7v2.1h-40.7zM645.3 1228.8h40.7v2.1h-40.7zM645.3 1243.3h40.7v2.1h-40.7zM685.6 1165.8h40.7v6.7h-40.7zM685.6 1174.3h40.7v2.1h-40.7zM685.6 1186.3h40.7v5.2h-40.7zM685.6 1207.3h40.7v2.1h-40.7zM725.9 1146.8h40.7v2.1h-40.7zM725.9 1160.3h40.7v2.1h-40.7zM725.9 1174.3h40.7v2.1h-40.7zM725.9 1204.8h40.7v4.7h-40.7zM725.9 1228.8h40.7v2.1h-40.7zM766.2 1146.8h40.7v2.1h-40.7zM766.2 1160.3h40.7v2.1h-40.7zM766.2 1182.8h40.7v1.6h-40.7zM766.2 1224.8h40.7v6.2h-40.7zM766.2 1251.3h40.7v2.6h-40.7zM806.6 1176.3h40.7v1.6h-40.7zM806.6 1186.3h40.7v5.2h-40.7zM806.6 1193.3h40.7v9.2h-40.7zM806.6 1207.3h40.7v2.1h-40.7zM806.6 1247.3h40.7v2.6h-40.7zM846.9 1131.8h40.7v2.1h-40.7zM846.9 1162.3h40.7v3.6h-40.7zM846.9 1169.3h40.7v5.2h-40.7zM846.9 1176.3h40.7v1.6h-40.7zM846.9 1202.3h40.7v2.6h-40.7zM846.9 1207.3h40.7v5.7h-40.7zM846.9 1237.8h40.7v5.7h-40.7zM846.9 1249.8h40.7v1.6h-40.7zM887.2 1186.3h40.7v5.2h-40.7zM887.2 1207.3h40.7v2.1h-40.7zM887.2 1220.8h40.7v4.2h-40.7zM887.2 1236.3h40.7v1.6h-40.7zM887.2 1240.3h40.7v3.1h-40.7zM927.5 1146.8h40.7v2.1h-40.7zM927.5 1160.3h40.7v2.1h-40.7zM927.5 1184.3h40.7v9.2h-40.7zM967.9 1146.8h40.7v2.1h-40.7zM967.9 1158.8h40.7v1.6h-40.7zM967.9 1169.3h40.7v3.1h-40.7zM967.9 1186.3h40.7v5.2h-40.7zM967.9 1193.3h40.7v2.1h-40.7zM967.9 1200.3h40.7v9.2h-40.7zM967.9 1216.8h40.7v4.2h-40.7zM967.9 1222.8h40.7v6.2h-40.7zM967.9 1236.3h40.7v1.6h-40.7zM967.9 1251.3h40.7v2.6h-40.7zM1008.2 1172.3h40.7v4.2h-40.7zM1008.2 1177.8h40.7v5.2h-40.7zM1008.2 1195.3h40.7v5.2h-40.7zM1008.2 1233.8h40.7v2.6h-40.7z"/><path fill="#e0ebf6" d="M161.4 1174.3h40.7v2.1h-40.7zM161.4 1184.3h40.7v2.1h-40.7zM161.4 1200.3h40.7v2.1h-40.7zM161.4 1212.8h40.7v4.2h-40.7zM161.4 1220.8h40.7v2.1h-40.7zM161.4 1233.8h40.7v2.6h-40.7zM161.4 1283.8h40.7v1.6h-40.7zM201.7 1177.8h40.7v5.2h-40.7zM201.7 1202.3h40.7v2.6h-40.7zM201.7 1207.3h40.7v2.1h-40.7zM242.0 1174.3h40.7v2.1h-40.7zM242.0 1191.3h40.7v2.1h-40.7zM242.0 1207.3h40.7v5.7h-40.7zM242.0 1220.8h40.7v2.1h-40.7zM242.0 1253.8h40.7v2.6h-40.7zM282.4 1146.8h40.7v2.1h-40.7zM282.4 1195.3h40.7v7.2h-40.7zM282.4 1237.8h40.7v2.6h-40.7zM322.7 1177.8h40.7v5.2h-40.7zM322.7 1207.3h40.7v9.7h-40.7zM322.7 1233.8h40.7v2.6h-40.7zM322.7 1240.3h40.7v3.1h-40.7zM363.0 1184.3h40.7v7.2h-40.7zM363.0 1200.3h40.7v2.1h-40.7zM363.0 1209.3h40.7v3.6h-40.7zM403.3 1186.3h40.7v5.2h-40.7zM403.3 1200.3h40.7v2.1h-40.7zM403.3 1233.8h40.7v4.2h-40.7zM403.3 1249.8h40.7v1.6h-40.7zM403.3 1269.8h40.7v3.6h-40.7zM443.7 1160.3h40.7v2.1h-40.7zM443.7 1174.3h40.7v2.1h-40.7zM443.7 1209.3h40.7v7.7h-40.7zM443.7 1220.8h40.7v2.1h-40.7zM443.7 1228.8h40.7v5.2h-40.7zM443.7 1236.3h40.7v1.6h-40.7zM484.0 1186.3h40.7v5.2h-40.7zM484.0 1195.3h40.7v5.2h-40.7zM484.0 1216.8h40.7v8.2h-40.7zM484.0 1237.8h40.7v2.6h-40.7zM524.3 1118.8h40.7v1.6h-40.7zM524.3 1177.8h40.7v5.2h-40.7zM524.3 1191.3h40.7v2.1h-40.7zM524.3 1209.3h40.7v3.6h-40.7zM524.3 1224.8h40.7v4.2h-40.7zM524.3 1247.3h40.7v4.2h-40.7zM564.6 1186.3h40.7v5.2h-40.7zM564.6 1204.8h40.7v2.6h-40.7zM564.6 1228.8h40.7v2.1h-40.7zM564.6 1233.8h40.7v2.6h-40.7zM564.6 1247.3h40.7v2.6h-40.7zM564.6 1256.3h40.7v5.2h-40.7zM564.6 1269.8h40.7v3.6h-40.7zM604.9 1158.8h40.7v3.6h-40.7zM604.9 1174.3h40.7v3.6h-40.7zM604.9 1184.3h40.7v2.1h-40.7zM604.9 1191.3h40.7v2.1h-40.7zM604.9 1200.3h40.7v4.7h-40.7zM604.9 1236.3h40.7v4.2h-40.7zM604.9 1283.8h40.7v1.6h-40.7zM645.3 1108.3h40.7v3.6h-40.7zM645.3 1160.3h40.7v2.1h-40.7zM645.3 1186.3h40.7v5.2h-40.7zM645.3 1193.3h40.7v2.1h-40.7zM645.3 1200.3h40.7v2.1h-40.7zM645.3 1237.8h40.7v2.6h-40.7zM685.6 1193.3h40.7v2.1h-40.7zM685.6 1202.3h40.7v2.6h-40.7zM685.6 1224.8h40.7v4.2h-40.7zM685.6 1245.3h40.7v2.1h-40.7zM685.6 1277.3h40.7v4.2h-40.7zM725.9 1236.3h40.7v1.6h-40.7zM725.9 1251.3h40.7v2.6h-40.7zM766.2 1176.3h40.7v1.6h-40.7zM766.2 1212.8h40.7v4.2h-40.7zM766.2 1220.8h40.7v2.1h-40.7zM766.2 1233.8h40.7v2.6h-40.7zM766.2 1256.3h40.7v5.2h-40.7zM806.6 1174.3h40.7v2.1h-40.7zM806.6 1204.8h40.7v2.6h-40.7zM806.6 1237.8h40.7v2.6h-40.7zM806.6 1251.3h40.7v2.6h-40.7zM806.6 1321.3h40.7v1.6h-40.7zM846.9 1177.8h40.7v5.2h-40.7zM846.9 1184.3h40.7v2.1h-40.7zM846.9 1222.8h40.7v2.1h-40.7zM846.9 1236.3h40.7v1.6h-40.7zM846.9 1245.3h40.7v2.1h-40.7zM887.2 1160.3h40.7v2.1h-40.7zM887.2 1169.3h40.7v3.1h-40.7zM887.2 1193.3h40.7v2.1h-40.7zM887.2 1216.8h40.7v4.2h-40.7zM887.2 1228.8h40.7v2.1h-40.7zM887.2 1247.3h40.7v6.7h-40.7zM887.2 1261.3h40.7v3.6h-40.7zM887.2 1268.3h40.7v1.6h-40.7zM927.5 1177.8h40.7v5.2h-40.7zM927.5 1202.3h40.7v2.6h-40.7zM927.5 1220.8h40.7v2.1h-40.7zM927.5 1224.8h40.7v4.2h-40.7zM927.5 1251.3h40.7v2.6h-40.7zM967.9 1177.8h40.7v5.2h-40.7zM967.9 1209.3h40.7v3.6h-40.7zM967.9 1253.8h40.7v2.6h-40.7zM967.9 1277.3h40.7v4.2h-40.7zM1008.2 1182.8h40.7v1.6h-40.7zM1008.2 1186.3h40.7v5.2h-40.7zM1008.2 1200.3h40.7v2.1h-40.7zM1008.2 1207.3h40.7v2.1h-40.7zM1008.2 1216.8h40.7v4.2h-40.7zM1008.2 1230.8h40.7v3.1h-40.7zM1008.2 1269.8h40.7v3.6h-40.7z"/><path fill="#c7daee" d="M161.4 1204.8h40.7v2.6h-40.7zM161.4 1290.3h40.7v5.2h-40.7zM201.7 1319.3h40.7v2.1h-40.7zM201.7 1326.8h40.7v4.2h-40.7zM201.7 1338.3h40.7v3.1h-40.7zM242.0 1204.8h40.7v2.6h-40.7zM242.0 1261.3h40.7v3.6h-40.7zM242.0 1295.3h40.7v2.6h-40.7zM242.0 1300.8h40.7v4.2h-40.7zM242.0 1330.8h40.7v2.6h-40.7zM282.4 1256.3h40.7v5.2h-40.7zM282.4 1273.3h40.7v8.2h-40.7zM282.4 1297.8h40.7v3.1h-40.7zM282.4 1321.3h40.7v1.6h-40.7zM322.7 1285.3h40.7v2.6h-40.7zM322.7 1304.8h40.7v2.6h-40.7zM322.7 1312.3h40.7v3.1h-40.7zM322.7 1326.8h40.7v6.7h-40.7zM322.7 1346.3h40.7v5.2h-40.7zM322.7 1369.8h40.7v3.1h-40.7zM363.0 1285.3h40.7v5.2h-40.7zM363.0 1307.3h40.7v2.1h-40.7zM363.0 1356.8h40.7v3.1h-40.7zM403.3 1256.3h40.7v5.2h-40.7zM403.3 1287.8h40.7v2.6h-40.7zM403.3 1295.3h40.7v2.6h-40.7zM403.3 1300.8h40.7v4.2h-40.7zM403.3 1319.3h40.7v2.1h-40.7zM403.3 1325.3h40.7v1.6h-40.7zM403.3 1333.3h40.7v5.2h-40.7zM403.3 1346.3h40.7v5.2h-40.7zM403.3 1369.8h40.7v3.1h-40.7zM443.7 1237.8h40.7v2.6h-40.7zM443.7 1251.3h40.7v2.6h-40.7zM443.7 1264.8h40.7v3.6h-40.7zM443.7 1285.3h40.7v10.2h-40.7zM443.7 1312.3h40.7v3.1h-40.7zM443.7 1330.8h40.7v2.6h-40.7zM443.7 1338.3h40.7v3.1h-40.7zM443.7 1354.3h40.7v2.6h-40.7zM484.0 1287.8h40.7v7.7h-40.7zM484.0 1309.3h40.7v3.1h-40.7zM484.0 1322.8h40.7v2.6h-40.7zM484.0 1351.3h40.7v3.1h-40.7zM484.0 1369.8h40.7v3.1h-40.7zM524.3 1222.8h40.7v2.1h-40.7zM524.3 1333.3h40.7v5.2h-40.7zM524.3 1346.3h40.7v5.2h-40.7zM524.3 1383.8h40.7v2.1h-40.7zM564.6 1304.8h40.7v2.6h-40.7zM564.6 1319.3h40.7v2.1h-40.7zM564.6 1322.8h40.7v2.6h-40.7zM564.6 1338.3h40.7v3.1h-40.7zM564.6 1354.3h40.7v2.6h-40.7zM564.6 1378.3h40.7v2.1h-40.7zM564.6 1385.8h40.7v1.6h-40.7zM604.9 1326.8h40.7v11.7h-40.7zM604.9 1341.3h40.7v1.6h-40.7zM604.9 1354.3h40.7v2.6h-40.7zM645.3 1287.8h40.7v2.6h-40.7zM645.3 1300.8h40.7v4.2h-40.7zM645.3 1315.3h40.7v4.2h-40.7zM645.3 1321.3h40.7v1.6h-40.7zM645.3 1326.8h40.7v4.2h-40.7zM645.3 1368.3h40.7v1.6h-40.7zM685.6 1304.8h40.7v2.6h-40.7zM685.6 1312.3h40.7v3.1h-40.7zM685.6 1321.3h40.7v1.6h-40.7zM685.6 1330.8h40.7v2.6h-40.7zM725.9 1283.8h40.7v1.6h-40.7zM725.9 1287.8h40.7v2.6h-40.7zM725.9 1295.3h40.7v5.7h-40.7zM725.9 1304.8h40.7v2.6h-40.7zM725.9 1338.3h40.7v4.7h-40.7zM725.9 1346.3h40.7v5.2h-40.7zM725.9 1363.3h40.7v5.2h-40.7zM766.2 1295.3h40.7v2.6h-40.7zM766.2 1325.3h40.7v1.6h-40.7zM766.2 1354.3h40.7v2.6h-40.7zM766.2 1363.3h40.7v5.2h-40.7zM766.2 1421.8h40.7v3.1h-40.7zM806.6 1307.3h40.7v5.2h-40.7zM806.6 1322.8h40.7v2.6h-40.7zM806.6 1346.3h40.7v5.2h-40.7zM806.6 1359.8h40.7v3.6h-40.7zM806.6 1369.8h40.7v3.1h-40.7zM846.9 1277.3h40.7v4.2h-40.7zM846.9 1300.8h40.7v4.2h-40.7zM846.9 1312.3h40.7v3.1h-40.7zM846.9 1356.8h40.7v3.1h-40.7zM887.2 1287.8h40.7v2.6h-40.7zM887.2 1307.3h40.7v5.2h-40.7zM887.2 1325.3h40.7v1.6h-40.7zM887.2 1333.3h40.7v5.2h-40.7zM887.2 1356.8h40.7v3.1h-40.7zM887.2 1363.3h40.7v5.2h-40.7zM927.5 1269.8h40.7v7.7h-40.7zM927.5 1281.3h40.7v4.2h-40.7zM927.5 1322.8h40.7v2.6h-40.7zM927.5 1326.8h40.7v4.2h-40.7zM927.5 1333.3h40.7v5.2h-40.7zM927.5 1374.3h40.7v4.2h-40.7zM967.9 1283.8h40.7v1.6h-40.7zM967.9 1300.8h40.7v4.2h-40.7zM967.9 1309.3h40.7v3.1h-40.7zM967.9 1315.3h40.7v4.2h-40.7zM967.9 1326.8h40.7v4.2h-40.7zM967.9 1333.3h40.7v5.2h-40.7zM967.9 1341.3h40.7v1.6h-40.7zM967.9 1354.3h40.7v2.6h-40.7zM967.9 1383.8h40.7v2.1h-40.7zM1008.2 1261.3h40.7v3.6h-40.7zM1008.2 1287.8h40.7v2.6h-40.7zM1008.2 1297.8h40.7v7.2h-40.7zM1008.2 1309.3h40.7v3.1h-40.7zM1008.2 1315.3h40.7v6.2h-40.7zM1008.2 1356.8h40.7v3.1h-40.7zM1008.2 1363.3h40.7v5.2h-40.7z"/><path fill="#dce8f5" d="M161.4 1222.8h40.7v2.1h-40.7zM161.4 1249.8h40.7v4.2h-40.7zM201.7 1172.3h40.7v2.1h-40.7zM201.7 1184.3h40.7v2.1h-40.7zM201.7 1193.3h40.7v2.1h-40.7zM201.7 1222.8h40.7v2.1h-40.7zM201.7 1228.8h40.7v2.1h-40.7zM201.7 1247.3h40.7v2.6h-40.7zM201.7 1251.3h40.7v10.2h-40.7zM242.0 1182.8h40.7v1.6h-40.7zM242.0 1186.3h40.7v5.2h-40.7zM242.0 1193.3h40.7v7.2h-40.7zM242.0 1212.8h40.7v4.2h-40.7zM242.0 1236.3h40.7v1.6h-40.7zM242.0 1245.3h40.7v2.1h-40.7zM282.4 1174.3h40.7v2.1h-40.7zM282.4 1193.3h40.7v2.1h-40.7zM282.4 1216.8h40.7v4.2h-40.7zM282.4 1245.3h40.7v2.1h-40.7zM282.4 1269.8h40.7v3.6h-40.7zM322.7 1204.8h40.7v2.6h-40.7zM322.7 1228.8h40.7v2.1h-40.7zM322.7 1245.3h40.7v2.1h-40.7zM322.7 1251.3h40.7v5.2h-40.7zM322.7 1315.3h40.7v4.2h-40.7zM363.0 1160.3h40.7v2.1h-40.7zM363.0 1191.3h40.7v2.1h-40.7zM363.0 1195.3h40.7v5.2h-40.7zM363.0 1207.3h40.7v2.1h-40.7zM363.0 1228.8h40.7v2.1h-40.7zM363.0 1233.8h40.7v4.2h-40.7zM403.3 1222.8h40.7v2.1h-40.7zM403.3 1228.8h40.7v2.1h-40.7zM403.3 1281.3h40.7v2.6h-40.7zM403.3 1290.3h40.7v5.2h-40.7zM443.7 1195.3h40.7v7.2h-40.7zM443.7 1204.8h40.7v2.6h-40.7zM443.7 1224.8h40.7v4.2h-40.7zM443.7 1281.3h40.7v4.2h-40.7zM443.7 1304.8h40.7v2.6h-40.7zM484.0 1204.8h40.7v2.6h-40.7zM484.0 1212.8h40.7v4.2h-40.7zM484.0 1236.3h40.7v1.6h-40.7zM484.0 1251.3h40.7v2.6h-40.7zM524.3 1195.3h40.7v5.2h-40.7zM524.3 1212.8h40.7v10.2h-40.7zM524.3 1230.8h40.7v3.1h-40.7zM524.3 1253.8h40.7v2.6h-40.7zM524.3 1283.8h40.7v1.6h-40.7zM564.6 1160.3h40.7v2.1h-40.7zM564.6 1209.3h40.7v3.6h-40.7zM564.6 1216.8h40.7v4.2h-40.7zM564.6 1222.8h40.7v6.2h-40.7zM564.6 1237.8h40.7v5.7h-40.7zM564.6 1249.8h40.7v1.6h-40.7zM564.6 1273.3h40.7v4.2h-40.7zM564.6 1283.8h40.7v1.6h-40.7zM604.9 1233.8h40.7v2.6h-40.7zM604.9 1240.3h40.7v3.1h-40.7zM604.9 1253.8h40.7v2.6h-40.7zM645.3 1212.8h40.7v4.2h-40.7zM645.3 1220.8h40.7v2.1h-40.7zM645.3 1240.3h40.7v3.1h-40.7zM645.3 1269.8h40.7v3.6h-40.7zM685.6 1209.3h40.7v3.6h-40.7zM685.6 1216.8h40.7v6.2h-40.7zM685.6 1228.8h40.7v2.1h-40.7zM685.6 1233.8h40.7v4.2h-40.7zM685.6 1269.8h40.7v3.6h-40.7zM685.6 1281.3h40.7v2.6h-40.7zM685.6 1326.8h40.7v4.2h-40.7zM725.9 1172.3h40.7v2.1h-40.7zM725.9 1186.3h40.7v5.2h-40.7zM725.9 1195.3h40.7v5.2h-40.7zM725.9 1202.3h40.7v2.6h-40.7zM725.9 1209.3h40.7v3.6h-40.7zM725.9 1216.8h40.7v4.2h-40.7zM725.9 1222.8h40.7v2.1h-40.7zM725.9 1230.8h40.7v5.7h-40.7zM725.9 1240.3h40.7v3.1h-40.7zM725.9 1273.3h40.7v4.2h-40.7zM725.9 1285.3h40.7v2.6h-40.7zM766.2 1184.3h40.7v7.2h-40.7zM766.2 1204.8h40.7v2.6h-40.7zM766.2 1237.8h40.7v2.6h-40.7zM766.2 1247.3h40.7v2.6h-40.7zM766.2 1261.3h40.7v3.6h-40.7zM766.2 1300.8h40.7v4.2h-40.7zM806.6 1172.3h40.7v2.1h-40.7zM806.6 1224.8h40.7v6.2h-40.7zM806.6 1233.8h40.7v2.6h-40.7zM806.6 1240.3h40.7v3.1h-40.7zM806.6 1245.3h40.7v2.1h-40.7zM806.6 1273.3h40.7v4.2h-40.7zM806.6 1287.8h40.7v2.6h-40.7zM846.9 1160.3h40.7v2.1h-40.7zM846.9 1174.3h40.7v2.1h-40.7zM846.9 1200.3h40.7v2.1h-40.7zM846.9 1204.8h40.7v2.6h-40.7zM846.9 1233.8h40.7v2.6h-40.7zM846.9 1243.3h40.7v2.1h-40.7zM846.9 1247.3h40.7v2.6h-40.7zM846.9 1281.3h40.7v2.6h-40.7zM887.2 1209.3h40.7v7.7h-40.7zM887.2 1230.8h40.7v5.7h-40.7zM887.2 1237.8h40.7v2.6h-40.7zM927.5 1172.3h40.7v2.1h-40.7zM927.5 1182.8h40.7v1.6h-40.7zM927.5 1193.3h40.7v2.1h-40.7zM927.5 1200.3h40.7v2.1h-40.7zM927.5 1216.8h40.7v4.2h-40.7zM927.5 1237.8h40.7v2.6h-40.7zM927.5 1243.3h40.7v2.1h-40.7zM927.5 1247.3h40.7v4.2h-40.7zM927.5 1256.3h40.7v5.2h-40.7zM967.9 1160.3h40.7v2.1h-40.7zM967.9 1233.8h40.7v2.6h-40.7zM967.9 1243.3h40.7v2.1h-40.7zM967.9 1281.3h40.7v2.6h-40.7zM1008.2 1224.8h40.7v4.2h-40.7zM1008.2 1236.3h40.7v1.6h-40.7zM1008.2 1247.3h40.7v2.6h-40.7zM1008.2 1281.3h40.7v2.6h-40.7z"/><path fill="#d0e0f0" d="M161.4 1230.8h40.7v3.1h-40.7zM161.4 1269.8h40.7v3.6h-40.7zM161.4 1300.8h40.7v4.2h-40.7zM161.4 1309.3h40.7v3.1h-40.7zM161.4 1315.3h40.7v4.2h-40.7zM201.7 1224.8h40.7v4.2h-40.7zM201.7 1237.8h40.7v2.6h-40.7zM201.7 1264.8h40.7v5.2h-40.7zM201.7 1277.3h40.7v4.2h-40.7zM201.7 1283.8h40.7v1.6h-40.7zM201.7 1295.3h40.7v2.6h-40.7zM201.7 1300.8h40.7v8.7h-40.7zM242.0 1240.3h40.7v3.1h-40.7zM242.0 1249.8h40.7v1.6h-40.7zM242.0 1256.3h40.7v5.2h-40.7zM242.0 1264.8h40.7v3.6h-40.7zM242.0 1269.8h40.7v3.6h-40.7zM242.0 1338.3h40.7v3.1h-40.7zM282.4 1233.8h40.7v2.6h-40.7zM282.4 1319.3h40.7v2.1h-40.7zM322.7 1202.3h40.7v2.6h-40.7zM322.7 1237.8h40.7v2.6h-40.7zM322.7 1261.3h40.7v7.2h-40.7zM322.7 1287.8h40.7v2.6h-40.7zM322.7 1319.3h40.7v2.1h-40.7zM322.7 1322.8h40.7v2.6h-40.7zM363.0 1176.3h40.7v1.6h-40.7zM363.0 1216.8h40.7v4.2h-40.7zM363.0 1273.3h40.7v4.2h-40.7zM363.0 1283.8h40.7v1.6h-40.7zM363.0 1315.3h40.7v4.2h-40.7zM363.0 1321.3h40.7v1.6h-40.7zM403.3 1243.3h40.7v2.1h-40.7zM403.3 1273.3h40.7v4.2h-40.7zM403.3 1285.3h40.7v2.6h-40.7zM403.3 1297.8h40.7v3.1h-40.7zM403.3 1338.3h40.7v3.1h-40.7zM403.3 1356.8h40.7v3.1h-40.7zM443.7 1261.3h40.7v3.6h-40.7zM443.7 1315.3h40.7v4.2h-40.7zM443.7 1322.8h40.7v2.6h-40.7zM484.0 1240.3h40.7v3.1h-40.7zM484.0 1281.3h40.7v2.6h-40.7zM484.0 1315.3h40.7v4.2h-40.7zM524.3 1240.3h40.7v3.1h-40.7zM524.3 1261.3h40.7v3.6h-40.7zM524.3 1269.8h40.7v7.7h-40.7zM524.3 1287.8h40.7v2.6h-40.7zM524.3 1315.3h40.7v4.2h-40.7zM564.6 1264.8h40.7v3.6h-40.7zM604.9 1269.8h40.7v3.6h-40.7zM604.9 1281.3h40.7v2.6h-40.7zM604.9 1287.8h40.7v2.6h-40.7zM604.9 1312.3h40.7v3.1h-40.7zM604.9 1321.3h40.7v1.6h-40.7zM645.3 1236.3h40.7v1.6h-40.7zM645.3 1245.3h40.7v2.1h-40.7zM645.3 1268.3h40.7v1.6h-40.7zM645.3 1295.3h40.7v2.6h-40.7zM685.6 1237.8h40.7v2.6h-40.7zM685.6 1273.3h40.7v4.2h-40.7zM685.6 1287.8h40.7v7.7h-40.7zM685.6 1319.3h40.7v2.1h-40.7zM685.6 1356.8h40.7v3.1h-40.7zM725.9 1269.8h40.7v3.6h-40.7zM725.9 1325.3h40.7v1.6h-40.7zM725.9 1374.3h40.7v4.2h-40.7zM725.9 1399.3h40.7v3.1h-40.7zM766.2 1240.3h40.7v3.1h-40.7zM766.2 1264.8h40.7v3.6h-40.7zM766.2 1281.3h40.7v2.6h-40.7zM766.2 1315.3h40.7v4.2h-40.7zM766.2 1322.8h40.7v2.6h-40.7zM806.6 1256.3h40.7v5.2h-40.7zM806.6 1264.8h40.7v3.6h-40.7zM806.6 1281.3h40.7v2.6h-40.7zM806.6 1285.3h40.7v2.6h-40.7zM806.6 1315.3h40.7v4.2h-40.7zM846.9 1290.3h40.7v7.7h-40.7zM846.9 1326.8h40.7v4.2h-40.7zM887.2 1273.3h40.7v8.2h-40.7zM887.2 1290.3h40.7v5.2h-40.7zM887.2 1330.8h40.7v2.6h-40.7zM927.5 1261.3h40.7v3.6h-40.7zM927.5 1295.3h40.7v2.6h-40.7zM927.5 1304.8h40.7v2.6h-40.7zM927.5 1359.8h40.7v3.6h-40.7zM967.9 1220.8h40.7v2.1h-40.7zM967.9 1230.8h40.7v3.1h-40.7zM967.9 1269.8h40.7v7.7h-40.7zM967.9 1307.3h40.7v2.1h-40.7zM1008.2 1277.3h40.7v4.2h-40.7zM1008.2 1326.8h40.7v4.2h-40.7zM1008.2 1404.8h40.7v3.6h-40.7z"/><path fill="#ccddef" d="M161.4 1237.8h40.7v2.6h-40.7zM161.4 1273.3h40.7v4.2h-40.7zM161.4 1285.3h40.7v2.6h-40.7zM161.4 1297.8h40.7v3.1h-40.7zM161.4 1322.8h40.7v4.2h-40.7zM161.4 1354.3h40.7v2.6h-40.7zM201.7 1216.8h40.7v4.2h-40.7zM201.7 1230.8h40.7v3.1h-40.7zM201.7 1243.3h40.7v2.1h-40.7zM201.7 1261.3h40.7v3.6h-40.7zM201.7 1285.3h40.7v5.2h-40.7zM242.0 1290.3h40.7v5.2h-40.7zM282.4 1212.8h40.7v4.2h-40.7zM282.4 1222.8h40.7v2.1h-40.7zM282.4 1247.3h40.7v2.6h-40.7zM282.4 1253.8h40.7v2.6h-40.7zM282.4 1268.3h40.7v1.6h-40.7zM282.4 1290.3h40.7v5.2h-40.7zM322.7 1307.3h40.7v2.1h-40.7zM322.7 1385.8h40.7v1.6h-40.7zM363.0 1204.8h40.7v2.6h-40.7zM363.0 1243.3h40.7v2.1h-40.7zM363.0 1295.3h40.7v2.6h-40.7zM363.0 1300.8h40.7v6.7h-40.7zM363.0 1312.3h40.7v3.1h-40.7zM363.0 1326.8h40.7v4.2h-40.7zM363.0 1338.3h40.7v3.1h-40.7zM403.3 1245.3h40.7v2.1h-40.7zM403.3 1315.3h40.7v4.2h-40.7zM443.7 1269.8h40.7v3.6h-40.7zM443.7 1277.3h40.7v4.2h-40.7zM443.7 1325.3h40.7v1.6h-40.7zM484.0 1264.8h40.7v3.6h-40.7zM484.0 1283.8h40.7v1.6h-40.7zM484.0 1325.3h40.7v5.7h-40.7zM524.3 1256.3h40.7v5.2h-40.7zM524.3 1300.8h40.7v4.2h-40.7zM524.3 1312.3h40.7v3.1h-40.7zM524.3 1321.3h40.7v1.6h-40.7zM524.3 1402.3h40.7v2.6h-40.7zM564.6 1287.8h40.7v2.6h-40.7zM564.6 1321.3h40.7v1.6h-40.7zM564.6 1330.8h40.7v2.6h-40.7zM564.6 1394.3h40.7v5.2h-40.7zM604.9 1251.3h40.7v2.6h-40.7zM604.9 1285.3h40.7v2.6h-40.7zM604.9 1325.3h40.7v1.6h-40.7zM604.9 1338.3h40.7v3.1h-40.7zM604.9 1346.3h40.7v5.2h-40.7zM604.9 1356.8h40.7v3.1h-40.7zM645.3 1209.3h40.7v3.6h-40.7zM645.3 1249.8h40.7v1.6h-40.7zM645.3 1285.3h40.7v2.6h-40.7zM645.3 1307.3h40.7v2.1h-40.7zM685.6 1300.8h40.7v4.2h-40.7zM725.9 1200.3h40.7v2.1h-40.7zM725.9 1268.3h40.7v1.6h-40.7zM725.9 1300.8h40.7v4.2h-40.7zM766.2 1222.8h40.7v2.1h-40.7zM766.2 1273.3h40.7v4.2h-40.7zM766.2 1304.8h40.7v2.6h-40.7zM766.2 1321.3h40.7v1.6h-40.7zM766.2 1326.8h40.7v4.2h-40.7zM766.2 1342.8h40.7v3.6h-40.7zM806.6 1300.8h40.7v4.2h-40.7zM806.6 1325.3h40.7v1.6h-40.7zM806.6 1330.8h40.7v2.6h-40.7zM846.9 1256.3h40.7v5.2h-40.7zM846.9 1268.3h40.7v1.6h-40.7zM846.9 1273.3h40.7v4.2h-40.7zM846.9 1319.3h40.7v2.1h-40.7zM887.2 1283.8h40.7v1.6h-40.7zM887.2 1300.8h40.7v6.7h-40.7zM887.2 1315.3h40.7v4.2h-40.7zM887.2 1326.8h40.7v4.2h-40.7zM927.5 1240.3h40.7v3.1h-40.7zM927.5 1277.3h40.7v4.2h-40.7zM927.5 1285.3h40.7v2.6h-40.7zM927.5 1290.3h40.7v5.2h-40.7zM927.5 1315.3h40.7v4.2h-40.7zM927.5 1321.3h40.7v1.6h-40.7zM927.5 1346.3h40.7v5.2h-40.7zM967.9 1264.8h40.7v3.6h-40.7zM967.9 1290.3h40.7v7.7h-40.7zM967.9 1356.8h40.7v3.1h-40.7zM967.9 1368.3h40.7v1.6h-40.7zM967.9 1380.3h40.7v3.6h-40.7zM1008.2 1285.3h40.7v2.6h-40.7zM1008.2 1312.3h40.7v3.1h-40.7zM1008.2 1325.3h40.7v1.6h-40.7z"/><path fill="#bdd5ec" d="M161.4 1256.3h40.7v8.7h-40.7zM161.4 1304.8h40.7v2.6h-40.7zM161.4 1312.3h40.7v3.1h-40.7zM161.4 1330.8h40.7v2.6h-40.7zM161.4 1341.3h40.7v10.2h-40.7zM161.4 1372.8h40.7v1.6h-40.7zM161.4 1380.3h40.7v3.6h-40.7zM201.7 1273.3h40.7v4.2h-40.7zM201.7 1321.3h40.7v1.6h-40.7zM201.7 1333.3h40.7v5.2h-40.7zM201.7 1380.3h40.7v3.6h-40.7zM242.0 1243.3h40.7v2.1h-40.7zM242.0 1273.3h40.7v8.2h-40.7zM242.0 1307.3h40.7v2.1h-40.7zM242.0 1325.3h40.7v1.6h-40.7zM282.4 1264.8h40.7v3.6h-40.7zM282.4 1304.8h40.7v2.6h-40.7zM282.4 1315.3h40.7v4.2h-40.7zM282.4 1322.8h40.7v2.6h-40.7zM282.4 1333.3h40.7v8.2h-40.7zM282.4 1354.3h40.7v2.6h-40.7zM282.4 1369.8h40.7v3.1h-40.7zM282.4 1378.3h40.7v2.1h-40.7zM322.7 1325.3h40.7v1.6h-40.7zM322.7 1333.3h40.7v5.2h-40.7zM322.7 1342.8h40.7v3.6h-40.7zM322.7 1368.3h40.7v1.6h-40.7zM322.7 1394.3h40.7v5.2h-40.7zM363.0 1290.3h40.7v5.2h-40.7zM363.0 1297.8h40.7v3.1h-40.7zM363.0 1309.3h40.7v3.1h-40.7zM363.0 1333.3h40.7v5.2h-40.7zM363.0 1342.8h40.7v3.6h-40.7zM403.3 1304.8h40.7v2.6h-40.7zM403.3 1322.8h40.7v2.6h-40.7zM403.3 1326.8h40.7v4.2h-40.7zM403.3 1351.3h40.7v5.7h-40.7zM443.7 1309.3h40.7v3.1h-40.7zM484.0 1304.8h40.7v2.6h-40.7zM484.0 1312.3h40.7v3.1h-40.7zM484.0 1341.3h40.7v1.6h-40.7zM484.0 1346.3h40.7v5.2h-40.7zM484.0 1387.3h40.7v5.2h-40.7zM484.0 1424.8h40.7v1.6h-40.7zM524.3 1297.8h40.7v3.1h-40.7zM524.3 1309.3h40.7v3.1h-40.7zM524.3 1319.3h40.7v2.1h-40.7zM524.3 1326.8h40.7v4.2h-40.7zM524.3 1351.3h40.7v3.1h-40.7zM524.3 1356.8h40.7v3.1h-40.7zM564.6 1295.3h40.7v5.7h-40.7zM564.6 1307.3h40.7v2.1h-40.7zM564.6 1326.8h40.7v4.2h-40.7zM564.6 1372.8h40.7v1.6h-40.7zM604.9 1307.3h40.7v2.1h-40.7zM604.9 1315.3h40.7v4.2h-40.7zM645.3 1330.8h40.7v2.6h-40.7zM645.3 1372.8h40.7v1.6h-40.7zM685.6 1295.3h40.7v2.6h-40.7zM685.6 1307.3h40.7v5.2h-40.7zM685.6 1333.3h40.7v5.2h-40.7zM685.6 1351.3h40.7v3.1h-40.7zM685.6 1363.3h40.7v5.2h-40.7zM685.6 1372.8h40.7v7.7h-40.7zM685.6 1387.3h40.7v7.2h-40.7zM685.6 1402.3h40.7v2.6h-40.7zM685.6 1416.8h40.7v5.2h-40.7zM685.6 1458.3h40.7v1.6h-40.7zM725.9 1290.3h40.7v5.2h-40.7zM725.9 1319.3h40.7v2.1h-40.7zM725.9 1326.8h40.7v4.2h-40.7zM725.9 1356.8h40.7v3.1h-40.7zM725.9 1380.3h40.7v3.6h-40.7zM725.9 1394.3h40.7v5.2h-40.7zM725.9 1438.8h40.7v5.2h-40.7zM766.2 1290.3h40.7v5.2h-40.7zM766.2 1312.3h40.7v3.1h-40.7zM766.2 1319.3h40.7v2.1h-40.7zM766.2 1333.3h40.7v5.2h-40.7zM766.2 1385.8h40.7v1.6h-40.7zM806.6 1297.8h40.7v3.1h-40.7zM806.6 1341.3h40.7v1.6h-40.7zM806.6 1356.8h40.7v3.1h-40.7zM806.6 1363.3h40.7v5.2h-40.7zM806.6 1399.3h40.7v3.1h-40.7zM806.6 1416.8h40.7v5.2h-40.7zM846.9 1287.8h40.7v2.6h-40.7zM846.9 1315.3h40.7v4.2h-40.7zM846.9 1342.8h40.7v8.7h-40.7zM846.9 1359.8h40.7v3.6h-40.7zM887.2 1378.3h40.7v2.1h-40.7zM887.2 1394.3h40.7v5.2h-40.7zM927.5 1287.8h40.7v2.6h-40.7zM927.5 1297.8h40.7v3.1h-40.7zM927.5 1312.3h40.7v3.1h-40.7zM927.5 1330.8h40.7v2.6h-40.7zM927.5 1338.3h40.7v4.7h-40.7zM927.5 1356.8h40.7v3.1h-40.7zM967.9 1247.3h40.7v2.6h-40.7zM967.9 1342.8h40.7v3.6h-40.7zM967.9 1351.3h40.7v3.1h-40.7zM967.9 1363.3h40.7v5.2h-40.7zM967.9 1369.8h40.7v3.1h-40.7zM967.9 1378.3h40.7v2.1h-40.7zM967.9 1394.3h40.7v5.2h-40.7zM1008.2 1307.3h40.7v2.1h-40.7zM1008.2 1322.8h40.7v2.6h-40.7zM1008.2 1342.8h40.7v3.6h-40.7zM1008.2 1368.3h40.7v1.6h-40.7zM1008.2 1383.8h40.7v2.1h-40.7zM1008.2 1392.3h40.7v2.1h-40.7z"/><path fill="#d4e3f2" d="M161.4 1268.3h40.7v1.6h-40.7zM161.4 1295.3h40.7v2.6h-40.7zM161.4 1321.3h40.7v1.6h-40.7zM201.7 1186.3h40.7v7.2h-40.7zM201.7 1195.3h40.7v5.2h-40.7zM201.7 1212.8h40.7v4.2h-40.7zM201.7 1236.3h40.7v1.6h-40.7zM201.7 1240.3h40.7v3.1h-40.7zM201.7 1245.3h40.7v2.1h-40.7zM201.7 1249.8h40.7v1.6h-40.7zM201.7 1269.8h40.7v3.6h-40.7zM201.7 1281.3h40.7v2.6h-40.7zM242.0 1228.8h40.7v5.2h-40.7zM242.0 1251.3h40.7v2.6h-40.7zM242.0 1281.3h40.7v4.2h-40.7zM242.0 1321.3h40.7v1.6h-40.7zM282.4 1209.3h40.7v3.6h-40.7zM282.4 1230.8h40.7v3.1h-40.7zM282.4 1249.8h40.7v1.6h-40.7zM282.4 1283.8h40.7v1.6h-40.7zM322.7 1230.8h40.7v3.1h-40.7zM322.7 1256.3h40.7v5.2h-40.7zM322.7 1268.3h40.7v1.6h-40.7zM322.7 1273.3h40.7v8.2h-40.7zM322.7 1300.8h40.7v4.2h-40.7zM322.7 1321.3h40.7v1.6h-40.7zM322.7 1338.3h40.7v3.1h-40.7zM363.0 1222.8h40.7v2.1h-40.7zM363.0 1230.8h40.7v3.1h-40.7zM363.0 1237.8h40.7v5.7h-40.7zM363.0 1247.3h40.7v2.6h-40.7zM363.0 1261.3h40.7v8.7h-40.7zM403.3 1212.8h40.7v4.2h-40.7zM403.3 1237.8h40.7v5.7h-40.7zM403.3 1253.8h40.7v2.6h-40.7zM403.3 1268.3h40.7v1.6h-40.7zM403.3 1321.3h40.7v1.6h-40.7zM443.7 1216.8h40.7v4.2h-40.7zM443.7 1243.3h40.7v4.2h-40.7zM443.7 1326.8h40.7v4.2h-40.7zM484.0 1247.3h40.7v4.2h-40.7zM484.0 1253.8h40.7v7.7h-40.7zM484.0 1268.3h40.7v1.6h-40.7zM484.0 1273.3h40.7v4.2h-40.7zM484.0 1285.3h40.7v2.6h-40.7zM484.0 1319.3h40.7v2.1h-40.7zM484.0 1354.3h40.7v2.6h-40.7zM524.3 1228.8h40.7v2.1h-40.7zM524.3 1245.3h40.7v2.1h-40.7zM524.3 1277.3h40.7v6.7h-40.7zM524.3 1285.3h40.7v2.6h-40.7zM524.3 1307.3h40.7v2.1h-40.7zM564.6 1230.8h40.7v3.1h-40.7zM564.6 1236.3h40.7v1.6h-40.7zM564.6 1261.3h40.7v3.6h-40.7zM564.6 1268.3h40.7v1.6h-40.7zM564.6 1300.8h40.7v4.2h-40.7zM564.6 1309.3h40.7v3.1h-40.7zM604.9 1172.3h40.7v2.1h-40.7zM604.9 1195.3h40.7v5.2h-40.7zM604.9 1209.3h40.7v3.6h-40.7zM604.9 1216.8h40.7v8.2h-40.7zM604.9 1243.3h40.7v4.2h-40.7zM604.9 1261.3h40.7v8.7h-40.7zM604.9 1273.3h40.7v8.2h-40.7zM604.9 1290.3h40.7v5.2h-40.7zM604.9 1300.8h40.7v4.2h-40.7zM645.3 1247.3h40.7v2.6h-40.7zM645.3 1253.8h40.7v2.6h-40.7zM645.3 1261.3h40.7v7.2h-40.7zM685.6 1230.8h40.7v3.1h-40.7zM685.6 1256.3h40.7v13.7h-40.7zM685.6 1315.3h40.7v4.2h-40.7zM725.9 1220.8h40.7v2.1h-40.7zM725.9 1224.8h40.7v4.2h-40.7zM725.9 1243.3h40.7v2.1h-40.7zM725.9 1249.8h40.7v1.6h-40.7zM725.9 1256.3h40.7v5.2h-40.7zM725.9 1322.8h40.7v2.6h-40.7zM766.2 1230.8h40.7v3.1h-40.7zM766.2 1243.3h40.7v4.2h-40.7zM766.2 1268.3h40.7v5.2h-40.7zM766.2 1277.3h40.7v4.2h-40.7zM766.2 1283.8h40.7v1.6h-40.7zM806.6 1212.8h40.7v4.2h-40.7zM806.6 1222.8h40.7v2.1h-40.7zM806.6 1268.3h40.7v5.2h-40.7zM806.6 1319.3h40.7v2.1h-40.7zM806.6 1354.3h40.7v2.6h-40.7zM846.9 1212.8h40.7v8.2h-40.7zM846.9 1224.8h40.7v6.2h-40.7zM846.9 1251.3h40.7v2.6h-40.7zM846.9 1261.3h40.7v7.2h-40.7zM846.9 1283.8h40.7v1.6h-40.7zM887.2 1204.8h40.7v2.6h-40.7zM887.2 1224.8h40.7v4.2h-40.7zM887.2 1245.3h40.7v2.1h-40.7zM887.2 1256.3h40.7v5.2h-40.7zM887.2 1264.8h40.7v3.6h-40.7zM887.2 1269.8h40.7v3.6h-40.7zM887.2 1321.3h40.7v1.6h-40.7zM927.5 1209.3h40.7v7.7h-40.7zM927.5 1222.8h40.7v2.1h-40.7zM927.5 1228.8h40.7v2.1h-40.7zM927.5 1264.8h40.7v3.6h-40.7zM927.5 1354.3h40.7v2.6h-40.7zM967.9 1212.8h40.7v4.2h-40.7zM967.9 1256.3h40.7v8.7h-40.7zM967.9 1285.3h40.7v2.6h-40.7zM967.9 1321.3h40.7v1.6h-40.7zM1008.2 1237.8h40.7v2.6h-40.7zM1008.2 1245.3h40.7v2.1h-40.7zM1008.2 1253.8h40.7v2.6h-40.7zM1008.2 1264.8h40.7v5.2h-40.7zM1008.2 1283.8h40.7v1.6h-40.7zM1008.2 1304.8h40.7v2.6h-40.7z"/><path fill="#c2d8ed" d="M161.4 1287.8h40.7v2.6h-40.7zM161.4 1307.3h40.7v2.1h-40.7zM161.4 1319.3h40.7v2.1h-40.7zM161.4 1326.8h40.7v4.2h-40.7zM161.4 1338.3h40.7v3.1h-40.7zM161.4 1378.3h40.7v2.1h-40.7zM161.4 1402.3h40.7v2.6h-40.7zM201.7 1290.3h40.7v5.2h-40.7zM201.7 1315.3h40.7v4.2h-40.7zM201.7 1322.8h40.7v2.6h-40.7zM242.0 1268.3h40.7v1.6h-40.7zM242.0 1285.3h40.7v5.2h-40.7zM242.0 1304.8h40.7v2.6h-40.7zM242.0 1309.3h40.7v3.1h-40.7zM242.0 1322.8h40.7v2.6h-40.7zM242.0 1354.3h40.7v2.6h-40.7zM282.4 1295.3h40.7v2.6h-40.7zM282.4 1300.8h40.7v4.2h-40.7zM282.4 1312.3h40.7v3.1h-40.7zM282.4 1326.8h40.7v6.7h-40.7zM282.4 1346.3h40.7v5.2h-40.7zM322.7 1290.3h40.7v10.7h-40.7zM322.7 1354.3h40.7v2.6h-40.7zM322.7 1359.8h40.7v3.6h-40.7zM363.0 1322.8h40.7v4.2h-40.7zM363.0 1330.8h40.7v2.6h-40.7zM363.0 1359.8h40.7v8.7h-40.7zM403.3 1230.8h40.7v3.1h-40.7zM403.3 1307.3h40.7v8.2h-40.7zM403.3 1330.8h40.7v2.6h-40.7zM403.3 1359.8h40.7v3.6h-40.7zM443.7 1319.3h40.7v3.6h-40.7zM443.7 1356.8h40.7v3.1h-40.7zM484.0 1307.3h40.7v2.1h-40.7zM484.0 1330.8h40.7v2.6h-40.7zM484.0 1338.3h40.7v3.1h-40.7zM484.0 1356.8h40.7v3.1h-40.7zM524.3 1290.3h40.7v7.7h-40.7zM524.3 1330.8h40.7v2.6h-40.7zM524.3 1354.3h40.7v2.6h-40.7zM564.6 1315.3h40.7v4.2h-40.7zM564.6 1325.3h40.7v1.6h-40.7zM564.6 1346.3h40.7v5.2h-40.7zM564.6 1356.8h40.7v3.1h-40.7zM604.9 1297.8h40.7v3.1h-40.7zM604.9 1319.3h40.7v2.1h-40.7zM604.9 1322.8h40.7v2.6h-40.7zM604.9 1359.8h40.7v3.6h-40.7zM645.3 1290.3h40.7v5.2h-40.7zM645.3 1309.3h40.7v3.1h-40.7zM645.3 1322.8h40.7v2.6h-40.7zM645.3 1338.3h40.7v3.1h-40.7zM645.3 1354.3h40.7v9.2h-40.7zM685.6 1322.8h40.7v2.6h-40.7zM685.6 1342.8h40.7v3.6h-40.7zM725.9 1264.8h40.7v3.6h-40.7zM725.9 1277.3h40.7v4.2h-40.7zM725.9 1307.3h40.7v2.1h-40.7zM725.9 1315.3h40.7v4.2h-40.7zM725.9 1330.8h40.7v2.6h-40.7zM725.9 1354.3h40.7v2.6h-40.7zM725.9 1383.8h40.7v2.1h-40.7zM766.2 1287.8h40.7v2.6h-40.7zM766.2 1307.3h40.7v5.2h-40.7zM766.2 1330.8h40.7v2.6h-40.7zM766.2 1356.8h40.7v3.1h-40.7zM766.2 1392.3h40.7v7.2h-40.7zM806.6 1290.3h40.7v7.7h-40.7zM806.6 1304.8h40.7v2.6h-40.7zM806.6 1338.3h40.7v3.1h-40.7zM806.6 1378.3h40.7v2.1h-40.7zM846.9 1285.3h40.7v2.6h-40.7zM846.9 1304.8h40.7v2.6h-40.7zM846.9 1321.3h40.7v1.6h-40.7zM846.9 1325.3h40.7v1.6h-40.7zM887.2 1297.8h40.7v3.1h-40.7zM887.2 1346.3h40.7v5.2h-40.7zM927.5 1319.3h40.7v2.1h-40.7zM927.5 1342.8h40.7v3.6h-40.7zM927.5 1385.8h40.7v1.6h-40.7zM967.9 1297.8h40.7v3.1h-40.7zM967.9 1304.8h40.7v2.6h-40.7zM967.9 1319.3h40.7v2.1h-40.7zM967.9 1325.3h40.7v1.6h-40.7zM967.9 1330.8h40.7v2.6h-40.7zM967.9 1359.8h40.7v3.6h-40.7zM1008.2 1321.3h40.7v1.6h-40.7zM1008.2 1378.3h40.7v2.1h-40.7z"/><path fill="#aecdea" d="M161.4 1333.3h40.7v5.2h-40.7zM161.4 1424.8h40.7v1.6h-40.7zM201.7 1346.3h40.7v5.2h-40.7zM201.7 1392.3h40.7v2.1h-40.7zM201.7 1426.3h40.7v3.6h-40.7zM242.0 1319.3h40.7v2.1h-40.7zM242.0 1359.8h40.7v3.6h-40.7zM242.0 1369.8h40.7v8.7h-40.7zM242.0 1387.3h40.7v5.2h-40.7zM242.0 1414.3h40.7v2.6h-40.7zM242.0 1453.8h40.7v1.6h-40.7zM282.4 1261.3h40.7v3.6h-40.7zM282.4 1359.8h40.7v3.6h-40.7zM282.4 1368.3h40.7v1.6h-40.7zM282.4 1374.3h40.7v4.2h-40.7zM322.7 1378.3h40.7v2.1h-40.7zM322.7 1404.8h40.7v3.6h-40.7zM363.0 1351.3h40.7v3.1h-40.7zM363.0 1369.8h40.7v3.1h-40.7zM363.0 1383.8h40.7v8.7h-40.7zM363.0 1394.3h40.7v8.2h-40.7zM403.3 1374.3h40.7v6.2h-40.7zM403.3 1385.8h40.7v1.6h-40.7zM403.3 1392.3h40.7v2.1h-40.7zM403.3 1399.3h40.7v3.1h-40.7zM403.3 1424.8h40.7v1.6h-40.7zM443.7 1297.8h40.7v3.1h-40.7zM443.7 1307.3h40.7v2.1h-40.7zM443.7 1333.3h40.7v5.2h-40.7zM443.7 1368.3h40.7v4.7h-40.7zM443.7 1383.8h40.7v8.7h-40.7zM443.7 1421.8h40.7v3.1h-40.7zM484.0 1333.3h40.7v5.2h-40.7zM484.0 1363.3h40.7v5.2h-40.7zM484.0 1374.3h40.7v4.2h-40.7zM484.0 1410.8h40.7v3.6h-40.7zM564.6 1402.3h40.7v8.7h-40.7zM604.9 1369.8h40.7v3.1h-40.7zM604.9 1380.3h40.7v3.6h-40.7zM604.9 1392.3h40.7v2.1h-40.7zM604.9 1421.8h40.7v3.1h-40.7zM645.3 1297.8h40.7v3.1h-40.7zM645.3 1333.3h40.7v5.2h-40.7zM645.3 1351.3h40.7v3.1h-40.7zM645.3 1392.3h40.7v2.1h-40.7zM645.3 1410.8h40.7v3.6h-40.7zM645.3 1421.8h40.7v4.7h-40.7zM685.6 1341.3h40.7v1.6h-40.7zM685.6 1410.8h40.7v6.2h-40.7zM725.9 1368.3h40.7v1.6h-40.7zM725.9 1372.8h40.7v1.6h-40.7zM725.9 1378.3h40.7v2.1h-40.7zM766.2 1387.3h40.7v5.2h-40.7zM806.6 1312.3h40.7v3.1h-40.7zM806.6 1351.3h40.7v3.1h-40.7zM806.6 1374.3h40.7v4.2h-40.7zM806.6 1404.8h40.7v3.6h-40.7zM846.9 1341.3h40.7v1.6h-40.7zM846.9 1383.8h40.7v2.1h-40.7zM846.9 1433.8h40.7v10.2h-40.7zM887.2 1295.3h40.7v2.6h-40.7zM887.2 1369.8h40.7v3.1h-40.7zM887.2 1387.3h40.7v5.2h-40.7zM887.2 1402.3h40.7v2.6h-40.7zM927.5 1368.3h40.7v1.6h-40.7zM927.5 1378.3h40.7v2.1h-40.7zM927.5 1392.3h40.7v2.1h-40.7zM967.9 1372.8h40.7v1.6h-40.7zM967.9 1392.3h40.7v2.1h-40.7zM967.9 1402.3h40.7v6.2h-40.7zM967.9 1438.8h40.7v5.2h-40.7zM967.9 1446.3h40.7v5.2h-40.7zM967.9 1458.3h40.7v1.6h-40.7zM1008.2 1333.3h40.7v5.2h-40.7zM1008.2 1351.3h40.7v3.1h-40.7zM1008.2 1410.8h40.7v6.2h-40.7z"/><path fill="#b3d0eb" d="M161.4 1351.3h40.7v3.1h-40.7zM161.4 1363.3h40.7v6.7h-40.7zM161.4 1374.3h40.7v4.2h-40.7zM161.4 1385.8h40.7v1.6h-40.7zM161.4 1392.3h40.7v2.1h-40.7zM161.4 1421.8h40.7v3.1h-40.7zM201.7 1312.3h40.7v3.1h-40.7zM201.7 1341.3h40.7v5.2h-40.7zM242.0 1326.8h40.7v4.2h-40.7zM242.0 1342.8h40.7v8.7h-40.7zM242.0 1356.8h40.7v3.1h-40.7zM242.0 1363.3h40.7v5.2h-40.7zM242.0 1378.3h40.7v2.1h-40.7zM242.0 1392.3h40.7v2.1h-40.7zM282.4 1307.3h40.7v2.1h-40.7zM282.4 1341.3h40.7v1.6h-40.7zM282.4 1351.3h40.7v3.1h-40.7zM282.4 1363.3h40.7v5.2h-40.7zM282.4 1380.3h40.7v3.6h-40.7zM282.4 1392.3h40.7v2.1h-40.7zM322.7 1283.8h40.7v1.6h-40.7zM322.7 1408.3h40.7v2.6h-40.7zM322.7 1421.8h40.7v3.1h-40.7zM363.0 1341.3h40.7v1.6h-40.7zM363.0 1346.3h40.7v5.2h-40.7zM363.0 1372.8h40.7v1.6h-40.7zM363.0 1451.3h40.7v2.6h-40.7zM403.3 1363.3h40.7v5.2h-40.7zM403.3 1372.8h40.7v1.6h-40.7zM403.3 1394.3h40.7v5.2h-40.7zM403.3 1408.3h40.7v2.6h-40.7zM443.7 1273.3h40.7v4.2h-40.7zM443.7 1295.3h40.7v2.6h-40.7zM443.7 1341.3h40.7v1.6h-40.7zM443.7 1346.3h40.7v5.2h-40.7zM443.7 1380.3h40.7v3.6h-40.7zM484.0 1297.8h40.7v3.1h-40.7zM484.0 1321.3h40.7v1.6h-40.7zM484.0 1342.8h40.7v3.6h-40.7zM484.0 1378.3h40.7v2.1h-40.7zM484.0 1404.8h40.7v3.6h-40.7zM524.3 1363.3h40.7v5.2h-40.7zM564.6 1342.8h40.7v3.6h-40.7zM564.6 1359.8h40.7v3.6h-40.7zM564.6 1374.3h40.7v4.2h-40.7zM564.6 1421.8h40.7v3.1h-40.7zM604.9 1351.3h40.7v3.1h-40.7zM604.9 1394.3h40.7v5.2h-40.7zM604.9 1404.8h40.7v6.2h-40.7zM645.3 1325.3h40.7v1.6h-40.7zM645.3 1342.8h40.7v3.6h-40.7zM645.3 1369.8h40.7v3.1h-40.7zM645.3 1374.3h40.7v4.2h-40.7zM645.3 1383.8h40.7v2.1h-40.7zM645.3 1399.3h40.7v3.1h-40.7zM685.6 1359.8h40.7v3.6h-40.7zM685.6 1383.8h40.7v2.1h-40.7zM685.6 1394.3h40.7v5.2h-40.7zM725.9 1333.3h40.7v5.2h-40.7zM725.9 1342.8h40.7v3.6h-40.7zM725.9 1392.3h40.7v2.1h-40.7zM725.9 1404.8h40.7v3.6h-40.7zM725.9 1424.8h40.7v1.6h-40.7zM766.2 1351.3h40.7v3.1h-40.7zM766.2 1426.3h40.7v3.6h-40.7zM766.2 1438.8h40.7v5.2h-40.7zM806.6 1326.8h40.7v4.2h-40.7zM806.6 1342.8h40.7v3.6h-40.7zM806.6 1380.3h40.7v3.6h-40.7zM806.6 1392.3h40.7v2.1h-40.7zM806.6 1443.8h40.7v2.6h-40.7zM846.9 1297.8h40.7v3.1h-40.7zM846.9 1330.8h40.7v2.6h-40.7zM846.9 1351.3h40.7v3.1h-40.7zM846.9 1363.3h40.7v6.7h-40.7zM846.9 1378.3h40.7v2.1h-40.7zM846.9 1387.3h40.7v5.2h-40.7zM846.9 1399.3h40.7v3.1h-40.7zM846.9 1414.3h40.7v2.6h-40.7zM887.2 1351.3h40.7v5.7h-40.7zM887.2 1374.3h40.7v4.2h-40.7zM887.2 1383.8h40.7v2.1h-40.7zM887.2 1404.8h40.7v3.6h-40.7zM887.2 1414.3h40.7v2.6h-40.7zM927.5 1300.8h40.7v4.2h-40.7zM927.5 1325.3h40.7v1.6h-40.7zM927.5 1363.3h40.7v5.2h-40.7zM967.9 1322.8h40.7v2.6h-40.7zM1008.2 1295.3h40.7v2.6h-40.7zM1008.2 1330.8h40.7v2.6h-40.7zM1008.2 1369.8h40.7v3.1h-40.7zM1008.2 1380.3h40.7v3.6h-40.7zM1008.2 1421.8h40.7v3.1h-40.7zM1008.2 1446.3h40.7v5.2h-40.7z"/><path fill="#b8d2ec" d="M161.4 1356.8h40.7v6.7h-40.7zM161.4 1369.8h40.7v3.1h-40.7zM161.4 1383.8h40.7v2.1h-40.7zM161.4 1394.3h40.7v8.2h-40.7zM201.7 1297.8h40.7v3.1h-40.7zM201.7 1309.3h40.7v3.1h-40.7zM201.7 1325.3h40.7v1.6h-40.7zM201.7 1354.3h40.7v5.7h-40.7zM201.7 1369.8h40.7v3.1h-40.7zM201.7 1385.8h40.7v1.6h-40.7zM242.0 1297.8h40.7v3.1h-40.7zM242.0 1312.3h40.7v3.1h-40.7zM242.0 1341.3h40.7v1.6h-40.7zM282.4 1285.3h40.7v5.2h-40.7zM282.4 1309.3h40.7v3.1h-40.7zM282.4 1325.3h40.7v1.6h-40.7zM282.4 1383.8h40.7v3.6h-40.7zM322.7 1356.8h40.7v3.1h-40.7zM322.7 1363.3h40.7v5.2h-40.7zM322.7 1387.3h40.7v5.2h-40.7zM322.7 1475.8h40.7v2.6h-40.7zM363.0 1319.3h40.7v2.1h-40.7zM363.0 1368.3h40.7v1.6h-40.7zM363.0 1378.3h40.7v5.7h-40.7zM363.0 1404.8h40.7v3.6h-40.7zM363.0 1424.8h40.7v1.6h-40.7zM403.3 1341.3h40.7v5.2h-40.7zM403.3 1368.3h40.7v1.6h-40.7zM403.3 1383.8h40.7v2.1h-40.7zM403.3 1387.3h40.7v5.2h-40.7zM403.3 1421.8h40.7v3.1h-40.7zM443.7 1342.8h40.7v3.6h-40.7zM443.7 1363.3h40.7v5.2h-40.7zM443.7 1394.3h40.7v5.2h-40.7zM484.0 1359.8h40.7v3.6h-40.7zM484.0 1368.3h40.7v1.6h-40.7zM484.0 1380.3h40.7v3.6h-40.7zM484.0 1385.8h40.7v1.6h-40.7zM484.0 1402.3h40.7v2.6h-40.7zM524.3 1243.3h40.7v2.1h-40.7zM524.3 1322.8h40.7v2.6h-40.7zM524.3 1338.3h40.7v3.1h-40.7zM524.3 1368.3h40.7v1.6h-40.7zM524.3 1372.8h40.7v1.6h-40.7zM524.3 1380.3h40.7v3.6h-40.7zM564.6 1312.3h40.7v3.1h-40.7zM564.6 1333.3h40.7v5.2h-40.7zM564.6 1351.3h40.7v3.1h-40.7zM564.6 1368.3h40.7v1.6h-40.7zM604.9 1295.3h40.7v2.6h-40.7zM604.9 1309.3h40.7v3.1h-40.7zM604.9 1363.3h40.7v5.2h-40.7zM604.9 1374.3h40.7v4.2h-40.7zM645.3 1281.3h40.7v2.6h-40.7zM645.3 1304.8h40.7v2.6h-40.7zM645.3 1312.3h40.7v3.1h-40.7zM645.3 1319.3h40.7v2.1h-40.7zM645.3 1341.3h40.7v1.6h-40.7zM645.3 1346.3h40.7v5.2h-40.7zM645.3 1363.3h40.7v5.2h-40.7zM685.6 1297.8h40.7v3.1h-40.7zM685.6 1325.3h40.7v1.6h-40.7zM685.6 1346.3h40.7v5.2h-40.7zM685.6 1368.3h40.7v1.6h-40.7zM725.9 1312.3h40.7v3.1h-40.7zM725.9 1321.3h40.7v1.6h-40.7zM725.9 1359.8h40.7v3.6h-40.7zM766.2 1297.8h40.7v3.1h-40.7zM766.2 1341.3h40.7v1.6h-40.7zM766.2 1359.8h40.7v3.6h-40.7zM766.2 1369.8h40.7v3.1h-40.7zM766.2 1374.3h40.7v4.2h-40.7zM766.2 1383.8h40.7v2.1h-40.7zM806.6 1368.3h40.7v1.6h-40.7zM806.6 1383.8h40.7v2.1h-40.7zM806.6 1387.3h40.7v5.2h-40.7zM846.9 1354.3h40.7v2.6h-40.7zM846.9 1369.8h40.7v3.1h-40.7zM846.9 1380.3h40.7v3.6h-40.7zM846.9 1385.8h40.7v1.6h-40.7zM846.9 1402.3h40.7v2.6h-40.7zM887.2 1285.3h40.7v2.6h-40.7zM887.2 1312.3h40.7v3.1h-40.7zM887.2 1342.8h40.7v3.6h-40.7zM887.2 1380.3h40.7v3.6h-40.7zM927.5 1268.3h40.7v1.6h-40.7zM927.5 1307.3h40.7v5.2h-40.7zM967.9 1312.3h40.7v3.1h-40.7zM967.9 1374.3h40.7v4.2h-40.7zM967.9 1485.8h40.7v2.6h-40.7zM1008.2 1338.3h40.7v4.7h-40.7zM1008.2 1346.3h40.7v5.2h-40.7zM1008.2 1354.3h40.7v2.6h-40.7zM1008.2 1372.8h40.7v5.7h-40.7zM1008.2 1385.8h40.7v6.7h-40.7zM1008.2 1394.3h40.7v5.2h-40.7zM1008.2 1429.8h40.7v4.2h-40.7z"/><path fill="#a8c9e8" d="M161.4 1387.3h40.7v5.2h-40.7zM201.7 1351.3h40.7v3.1h-40.7zM201.7 1359.8h40.7v8.7h-40.7zM201.7 1378.3h40.7v2.1h-40.7zM242.0 1315.3h40.7v4.2h-40.7zM242.0 1333.3h40.7v5.2h-40.7zM242.0 1383.8h40.7v2.1h-40.7zM242.0 1394.3h40.7v5.2h-40.7zM242.0 1433.8h40.7v5.2h-40.7zM282.4 1356.8h40.7v3.1h-40.7zM282.4 1394.3h40.7v5.2h-40.7zM282.4 1404.8h40.7v3.6h-40.7zM282.4 1433.8h40.7v10.2h-40.7zM282.4 1446.3h40.7v5.2h-40.7zM322.7 1372.8h40.7v5.7h-40.7zM322.7 1383.8h40.7v2.1h-40.7zM322.7 1392.3h40.7v2.1h-40.7zM322.7 1399.3h40.7v3.1h-40.7zM322.7 1451.3h40.7v2.6h-40.7zM363.0 1402.3h40.7v2.6h-40.7zM363.0 1414.3h40.7v2.6h-40.7zM443.7 1404.8h40.7v3.6h-40.7zM484.0 1392.3h40.7v2.1h-40.7zM484.0 1408.3h40.7v2.6h-40.7zM484.0 1421.8h40.7v3.1h-40.7zM484.0 1451.3h40.7v2.6h-40.7zM484.0 1455.3h40.7v3.1h-40.7zM524.3 1359.8h40.7v3.6h-40.7zM524.3 1404.8h40.7v12.2h-40.7zM564.6 1341.3h40.7v1.6h-40.7zM564.6 1369.8h40.7v3.1h-40.7zM564.6 1383.8h40.7v2.1h-40.7zM564.6 1392.3h40.7v2.1h-40.7zM564.6 1426.3h40.7v3.6h-40.7zM604.9 1304.8h40.7v2.6h-40.7zM604.9 1342.8h40.7v3.6h-40.7zM604.9 1383.8h40.7v8.7h-40.7zM645.3 1387.3h40.7v5.2h-40.7zM725.9 1369.8h40.7v3.1h-40.7zM725.9 1387.3h40.7v5.2h-40.7zM725.9 1402.3h40.7v2.6h-40.7zM725.9 1416.8h40.7v5.2h-40.7zM766.2 1338.3h40.7v3.1h-40.7zM766.2 1346.3h40.7v5.2h-40.7zM766.2 1414.3h40.7v7.7h-40.7zM806.6 1333.3h40.7v5.2h-40.7zM806.6 1385.8h40.7v1.6h-40.7zM806.6 1414.3h40.7v2.6h-40.7zM806.6 1426.3h40.7v3.6h-40.7zM806.6 1458.3h40.7v1.6h-40.7zM846.9 1307.3h40.7v5.2h-40.7zM846.9 1322.8h40.7v2.6h-40.7zM846.9 1333.3h40.7v8.2h-40.7zM846.9 1410.8h40.7v3.6h-40.7zM887.2 1319.3h40.7v2.1h-40.7zM887.2 1372.8h40.7v1.6h-40.7zM887.2 1385.8h40.7v1.6h-40.7zM887.2 1392.3h40.7v2.1h-40.7zM887.2 1410.8h40.7v3.6h-40.7zM887.2 1424.8h40.7v1.6h-40.7zM887.2 1429.8h40.7v4.2h-40.7zM887.2 1461.8h40.7v2.6h-40.7zM927.5 1383.8h40.7v2.1h-40.7zM927.5 1399.3h40.7v5.7h-40.7zM927.5 1446.3h40.7v5.2h-40.7zM967.9 1385.8h40.7v6.7h-40.7zM967.9 1414.3h40.7v2.6h-40.7zM1008.2 1399.3h40.7v5.7h-40.7zM1008.2 1408.3h40.7v2.6h-40.7zM1008.2 1416.8h40.7v5.2h-40.7z"/><path fill="#77aad8" d="M161.4 1404.8h40.7v3.6h-40.7zM161.4 1429.8h40.7v4.2h-40.7zM161.4 1484.3h40.7v1.6h-40.7zM161.4 1498.8h40.7v2.6h-40.7zM242.0 1404.8h40.7v3.6h-40.7zM242.0 1438.8h40.7v5.2h-40.7zM282.4 1410.8h40.7v3.6h-40.7zM282.4 1451.3h40.7v4.2h-40.7zM282.4 1488.3h40.7v2.6h-40.7zM322.7 1410.8h40.7v3.6h-40.7zM363.0 1410.8h40.7v3.6h-40.7zM363.0 1464.3h40.7v3.6h-40.7zM363.0 1484.3h40.7v1.6h-40.7zM403.3 1459.8h40.7v2.1h-40.7zM443.7 1461.8h40.7v2.6h-40.7zM443.7 1478.3h40.7v2.6h-40.7zM484.0 1443.8h40.7v2.6h-40.7zM484.0 1475.8h40.7v2.6h-40.7zM524.3 1438.8h40.7v5.2h-40.7zM524.3 1453.8h40.7v1.6h-40.7zM604.9 1443.8h40.7v2.6h-40.7zM604.9 1453.8h40.7v1.6h-40.7zM604.9 1467.8h40.7v3.6h-40.7zM604.9 1488.3h40.7v2.6h-40.7zM604.9 1495.3h40.7v1.6h-40.7zM645.3 1443.8h40.7v2.6h-40.7zM645.3 1458.3h40.7v1.6h-40.7zM645.3 1475.8h40.7v2.6h-40.7zM685.6 1433.8h40.7v5.2h-40.7zM685.6 1451.3h40.7v2.6h-40.7zM685.6 1459.8h40.7v2.1h-40.7zM685.6 1473.8h40.7v2.1h-40.7zM685.6 1490.8h40.7v2.6h-40.7zM685.6 1498.8h40.7v5.7h-40.7zM725.9 1453.8h40.7v1.6h-40.7zM725.9 1498.8h40.7v2.6h-40.7zM766.2 1464.3h40.7v3.6h-40.7zM766.2 1475.8h40.7v2.6h-40.7zM766.2 1480.8h40.7v3.6h-40.7zM766.2 1490.8h40.7v2.6h-40.7zM766.2 1507.8h40.7v1.6h-40.7zM806.6 1459.8h40.7v2.1h-40.7zM806.6 1467.8h40.7v3.6h-40.7zM806.6 1485.8h40.7v2.6h-40.7zM806.6 1490.8h40.7v2.6h-40.7zM806.6 1495.3h40.7v1.6h-40.7zM806.6 1498.8h40.7v2.6h-40.7zM846.9 1421.8h40.7v3.1h-40.7zM846.9 1471.3h40.7v2.6h-40.7zM846.9 1480.8h40.7v3.6h-40.7zM887.2 1416.8h40.7v5.2h-40.7zM887.2 1446.3h40.7v5.2h-40.7zM927.5 1453.8h40.7v1.6h-40.7zM927.5 1504.3h40.7v2.1h-40.7zM967.9 1416.8h40.7v5.2h-40.7zM967.9 1455.3h40.7v3.1h-40.7zM967.9 1459.8h40.7v2.1h-40.7zM967.9 1467.8h40.7v3.6h-40.7zM967.9 1488.3h40.7v2.6h-40.7zM967.9 1506.3h40.7v1.6h-40.7zM1008.2 1438.8h40.7v5.2h-40.7zM1008.2 1478.3h40.7v2.6h-40.7z"/><path fill="#a1c5e6" d="M161.4 1408.3h40.7v2.6h-40.7zM161.4 1446.3h40.7v7.7h-40.7zM161.4 1461.8h40.7v2.6h-40.7zM201.7 1330.8h40.7v2.6h-40.7zM201.7 1424.8h40.7v1.6h-40.7zM201.7 1433.8h40.7v10.2h-40.7zM242.0 1351.3h40.7v3.1h-40.7zM242.0 1402.3h40.7v2.6h-40.7zM242.0 1416.8h40.7v5.2h-40.7zM282.4 1372.8h40.7v1.6h-40.7zM322.7 1351.3h40.7v3.1h-40.7zM322.7 1380.3h40.7v3.6h-40.7zM322.7 1446.3h40.7v5.2h-40.7zM363.0 1354.3h40.7v2.6h-40.7zM363.0 1416.8h40.7v5.2h-40.7zM363.0 1433.8h40.7v12.7h-40.7zM403.3 1380.3h40.7v3.6h-40.7zM403.3 1402.3h40.7v2.6h-40.7zM403.3 1410.8h40.7v6.2h-40.7zM443.7 1359.8h40.7v3.6h-40.7zM443.7 1392.3h40.7v2.1h-40.7zM443.7 1402.3h40.7v2.6h-40.7zM484.0 1383.8h40.7v2.1h-40.7zM484.0 1399.3h40.7v3.1h-40.7zM484.0 1416.8h40.7v5.2h-40.7zM524.3 1341.3h40.7v1.6h-40.7zM524.3 1369.8h40.7v3.1h-40.7zM524.3 1374.3h40.7v4.2h-40.7zM524.3 1433.8h40.7v5.2h-40.7zM564.6 1380.3h40.7v3.6h-40.7zM564.6 1387.3h40.7v5.2h-40.7zM564.6 1416.8h40.7v5.2h-40.7zM604.9 1368.3h40.7v1.6h-40.7zM604.9 1372.8h40.7v1.6h-40.7zM604.9 1410.8h40.7v3.6h-40.7zM604.9 1424.8h40.7v1.6h-40.7zM604.9 1458.3h40.7v1.6h-40.7zM645.3 1402.3h40.7v2.6h-40.7zM645.3 1416.8h40.7v5.2h-40.7zM645.3 1433.8h40.7v10.2h-40.7zM685.6 1338.3h40.7v3.1h-40.7zM685.6 1380.3h40.7v3.6h-40.7zM685.6 1408.3h40.7v2.6h-40.7zM685.6 1421.8h40.7v4.7h-40.7zM685.6 1438.8h40.7v5.2h-40.7zM685.6 1453.8h40.7v1.6h-40.7zM725.9 1309.3h40.7v3.1h-40.7zM766.2 1368.3h40.7v1.6h-40.7zM766.2 1380.3h40.7v3.6h-40.7zM766.2 1410.8h40.7v3.6h-40.7zM806.6 1402.3h40.7v2.6h-40.7zM806.6 1424.8h40.7v1.6h-40.7zM806.6 1446.3h40.7v5.2h-40.7zM846.9 1372.8h40.7v1.6h-40.7zM846.9 1392.3h40.7v2.1h-40.7zM846.9 1404.8h40.7v3.6h-40.7zM887.2 1399.3h40.7v3.1h-40.7zM927.5 1351.3h40.7v3.1h-40.7zM927.5 1387.3h40.7v5.2h-40.7zM927.5 1404.8h40.7v3.6h-40.7zM927.5 1414.3h40.7v2.6h-40.7zM927.5 1459.8h40.7v2.1h-40.7zM967.9 1338.3h40.7v3.1h-40.7zM967.9 1346.3h40.7v5.2h-40.7zM967.9 1399.3h40.7v3.1h-40.7zM967.9 1408.3h40.7v2.6h-40.7zM967.9 1421.8h40.7v3.1h-40.7zM967.9 1426.3h40.7v7.7h-40.7zM1008.2 1359.8h40.7v3.6h-40.7zM1008.2 1433.8h40.7v5.2h-40.7z"/><path fill="#8ebae1" d="M161.4 1410.8h40.7v3.6h-40.7zM161.4 1433.8h40.7v5.2h-40.7zM161.4 1459.8h40.7v2.1h-40.7zM161.4 1488.3h40.7v2.6h-40.7zM201.7 1394.3h40.7v5.2h-40.7zM201.7 1402.3h40.7v2.6h-40.7zM201.7 1408.3h40.7v2.6h-40.7zM201.7 1443.8h40.7v7.7h-40.7zM201.7 1461.8h40.7v2.6h-40.7zM242.0 1408.3h40.7v2.6h-40.7zM282.4 1342.8h40.7v3.6h-40.7zM322.7 1416.8h40.7v5.2h-40.7zM322.7 1424.8h40.7v1.6h-40.7zM363.0 1458.3h40.7v1.6h-40.7zM363.0 1478.3h40.7v2.6h-40.7zM403.3 1433.8h40.7v5.2h-40.7zM403.3 1461.8h40.7v2.6h-40.7zM403.3 1473.8h40.7v2.1h-40.7zM443.7 1351.3h40.7v3.1h-40.7zM443.7 1378.3h40.7v2.1h-40.7zM443.7 1408.3h40.7v2.6h-40.7zM443.7 1426.3h40.7v3.6h-40.7zM443.7 1438.8h40.7v5.2h-40.7zM443.7 1464.3h40.7v3.6h-40.7zM443.7 1473.8h40.7v2.1h-40.7zM484.0 1426.3h40.7v3.6h-40.7zM484.0 1446.3h40.7v5.2h-40.7zM484.0 1473.8h40.7v2.1h-40.7zM484.0 1498.8h40.7v2.6h-40.7zM524.3 1399.3h40.7v3.1h-40.7zM564.6 1399.3h40.7v3.1h-40.7zM564.6 1410.8h40.7v3.6h-40.7zM564.6 1446.3h40.7v7.7h-40.7zM564.6 1455.3h40.7v3.1h-40.7zM604.9 1378.3h40.7v2.1h-40.7zM604.9 1451.3h40.7v2.6h-40.7zM604.9 1455.3h40.7v3.1h-40.7zM645.3 1453.8h40.7v1.6h-40.7zM685.6 1455.3h40.7v3.1h-40.7zM725.9 1414.3h40.7v2.6h-40.7zM725.9 1446.3h40.7v5.2h-40.7zM725.9 1458.3h40.7v1.6h-40.7zM766.2 1372.8h40.7v1.6h-40.7zM766.2 1378.3h40.7v2.1h-40.7zM766.2 1408.3h40.7v2.6h-40.7zM806.6 1372.8h40.7v1.6h-40.7zM806.6 1408.3h40.7v2.6h-40.7zM806.6 1421.8h40.7v3.1h-40.7zM806.6 1455.3h40.7v3.1h-40.7zM806.6 1471.3h40.7v4.7h-40.7zM806.6 1480.8h40.7v3.6h-40.7zM846.9 1416.8h40.7v5.2h-40.7zM887.2 1368.3h40.7v1.6h-40.7zM887.2 1433.8h40.7v5.2h-40.7zM887.2 1485.8h40.7v2.6h-40.7zM927.5 1408.3h40.7v2.6h-40.7zM927.5 1426.3h40.7v3.6h-40.7zM927.5 1438.8h40.7v5.2h-40.7zM967.9 1480.8h40.7v3.6h-40.7zM967.9 1495.3h40.7v1.6h-40.7zM1008.2 1458.3h40.7v1.6h-40.7z"/><path fill="#95bee3" d="M161.4 1414.3h40.7v7.7h-40.7zM201.7 1372.8h40.7v1.6h-40.7zM201.7 1404.8h40.7v3.6h-40.7zM201.7 1414.3h40.7v2.6h-40.7zM201.7 1429.8h40.7v4.2h-40.7zM201.7 1453.8h40.7v1.6h-40.7zM242.0 1399.3h40.7v3.1h-40.7zM242.0 1424.8h40.7v1.6h-40.7zM242.0 1446.3h40.7v5.2h-40.7zM282.4 1402.3h40.7v2.6h-40.7zM282.4 1414.3h40.7v2.6h-40.7zM322.7 1461.8h40.7v2.6h-40.7zM363.0 1408.3h40.7v2.6h-40.7zM363.0 1429.8h40.7v4.2h-40.7zM403.3 1404.8h40.7v3.6h-40.7zM403.3 1438.8h40.7v5.2h-40.7zM443.7 1372.8h40.7v1.6h-40.7zM443.7 1458.3h40.7v3.6h-40.7zM443.7 1467.8h40.7v3.6h-40.7zM443.7 1490.8h40.7v2.6h-40.7zM484.0 1414.3h40.7v2.6h-40.7zM484.0 1433.8h40.7v5.2h-40.7zM524.3 1378.3h40.7v2.1h-40.7zM524.3 1387.3h40.7v5.2h-40.7zM524.3 1429.8h40.7v4.2h-40.7zM524.3 1459.8h40.7v2.1h-40.7zM564.6 1433.8h40.7v10.2h-40.7zM564.6 1478.3h40.7v2.6h-40.7zM564.6 1498.8h40.7v2.6h-40.7zM604.9 1402.3h40.7v2.6h-40.7zM604.9 1414.3h40.7v2.6h-40.7zM604.9 1438.8h40.7v5.2h-40.7zM604.9 1459.8h40.7v2.1h-40.7zM604.9 1475.8h40.7v2.6h-40.7zM604.9 1485.8h40.7v2.6h-40.7zM645.3 1380.3h40.7v3.6h-40.7zM645.3 1394.3h40.7v5.2h-40.7zM645.3 1408.3h40.7v2.6h-40.7zM645.3 1426.3h40.7v7.7h-40.7zM685.6 1354.3h40.7v2.6h-40.7zM685.6 1399.3h40.7v3.1h-40.7zM685.6 1480.8h40.7v3.6h-40.7zM725.9 1351.3h40.7v3.1h-40.7zM766.2 1433.8h40.7v5.2h-40.7zM766.2 1455.3h40.7v4.7h-40.7zM806.6 1410.8h40.7v3.6h-40.7zM806.6 1429.8h40.7v4.2h-40.7zM846.9 1374.3h40.7v4.2h-40.7zM846.9 1394.3h40.7v5.2h-40.7zM846.9 1426.3h40.7v3.6h-40.7zM887.2 1359.8h40.7v3.6h-40.7zM887.2 1451.3h40.7v2.6h-40.7zM927.5 1421.8h40.7v3.1h-40.7zM967.9 1433.8h40.7v5.2h-40.7zM967.9 1473.8h40.7v2.1h-40.7zM1008.2 1490.8h40.7v2.6h-40.7z"/><path fill="#9bc2e4" d="M161.4 1426.3h40.7v3.6h-40.7zM161.4 1438.8h40.7v5.2h-40.7zM161.4 1473.8h40.7v2.1h-40.7zM201.7 1399.3h40.7v3.1h-40.7zM201.7 1410.8h40.7v3.6h-40.7zM242.0 1368.3h40.7v1.6h-40.7zM242.0 1385.8h40.7v1.6h-40.7zM242.0 1410.8h40.7v3.6h-40.7zM242.0 1426.3h40.7v3.6h-40.7zM282.4 1408.3h40.7v2.6h-40.7zM282.4 1421.8h40.7v3.1h-40.7zM322.7 1341.3h40.7v1.6h-40.7zM322.7 1402.3h40.7v2.6h-40.7zM322.7 1426.3h40.7v7.7h-40.7zM322.7 1459.8h40.7v2.1h-40.7zM322.7 1471.3h40.7v2.6h-40.7zM363.0 1374.3h40.7v4.2h-40.7zM363.0 1392.3h40.7v2.1h-40.7zM363.0 1421.8h40.7v3.1h-40.7zM363.0 1426.3h40.7v3.6h-40.7zM403.3 1455.3h40.7v4.7h-40.7zM443.7 1374.3h40.7v4.2h-40.7zM443.7 1414.3h40.7v2.6h-40.7zM484.0 1429.8h40.7v4.2h-40.7zM484.0 1438.8h40.7v5.2h-40.7zM484.0 1459.8h40.7v2.1h-40.7zM524.3 1304.8h40.7v2.6h-40.7zM524.3 1342.8h40.7v3.6h-40.7zM524.3 1385.8h40.7v1.6h-40.7zM524.3 1426.3h40.7v3.6h-40.7zM564.6 1363.3h40.7v5.2h-40.7zM564.6 1414.3h40.7v2.6h-40.7zM564.6 1458.3h40.7v1.6h-40.7zM604.9 1416.8h40.7v5.2h-40.7zM604.9 1426.3h40.7v3.6h-40.7zM604.9 1433.8h40.7v5.2h-40.7zM645.3 1378.3h40.7v2.1h-40.7zM645.3 1414.3h40.7v2.6h-40.7zM685.6 1404.8h40.7v3.6h-40.7zM685.6 1429.8h40.7v4.2h-40.7zM685.6 1461.8h40.7v2.6h-40.7zM685.6 1471.3h40.7v2.6h-40.7zM725.9 1385.8h40.7v1.6h-40.7zM725.9 1410.8h40.7v3.6h-40.7zM725.9 1451.3h40.7v2.6h-40.7zM766.2 1402.3h40.7v6.2h-40.7zM766.2 1424.8h40.7v1.6h-40.7zM806.6 1394.3h40.7v5.2h-40.7zM806.6 1433.8h40.7v10.2h-40.7zM806.6 1451.3h40.7v2.6h-40.7zM846.9 1429.8h40.7v4.2h-40.7zM846.9 1446.3h40.7v5.2h-40.7zM887.2 1421.8h40.7v3.1h-40.7zM887.2 1458.3h40.7v1.6h-40.7zM927.5 1369.8h40.7v4.7h-40.7zM927.5 1394.3h40.7v5.2h-40.7zM927.5 1410.8h40.7v3.6h-40.7zM927.5 1416.8h40.7v5.2h-40.7zM927.5 1424.8h40.7v1.6h-40.7zM927.5 1451.3h40.7v2.6h-40.7zM927.5 1455.3h40.7v4.7h-40.7zM967.9 1424.8h40.7v1.6h-40.7zM967.9 1443.8h40.7v2.6h-40.7zM967.9 1461.8h40.7v2.6h-40.7zM1008.2 1424.8h40.7v5.2h-40.7z"/><path fill="#88b6df" d="M161.4 1443.8h40.7v2.6h-40.7zM161.4 1458.3h40.7v1.6h-40.7zM201.7 1368.3h40.7v1.6h-40.7zM201.7 1374.3h40.7v4.2h-40.7zM201.7 1383.8h40.7v2.1h-40.7zM201.7 1387.3h40.7v5.2h-40.7zM201.7 1416.8h40.7v8.2h-40.7zM201.7 1458.3h40.7v1.6h-40.7zM201.7 1484.3h40.7v1.6h-40.7zM201.7 1490.8h40.7v2.6h-40.7zM242.0 1464.3h40.7v3.6h-40.7zM282.4 1387.3h40.7v5.2h-40.7zM282.4 1399.3h40.7v3.1h-40.7zM282.4 1416.8h40.7v5.2h-40.7zM282.4 1424.8h40.7v1.6h-40.7zM282.4 1455.3h40.7v3.1h-40.7zM322.7 1414.3h40.7v2.6h-40.7zM322.7 1433.8h40.7v5.2h-40.7zM322.7 1455.3h40.7v3.1h-40.7zM322.7 1480.8h40.7v3.6h-40.7zM322.7 1485.8h40.7v2.6h-40.7zM403.3 1451.3h40.7v2.6h-40.7zM403.3 1467.8h40.7v3.6h-40.7zM403.3 1480.8h40.7v3.6h-40.7zM443.7 1410.8h40.7v3.6h-40.7zM443.7 1416.8h40.7v5.2h-40.7zM443.7 1433.8h40.7v5.2h-40.7zM443.7 1451.3h40.7v2.6h-40.7zM524.3 1421.8h40.7v3.1h-40.7zM524.3 1446.3h40.7v5.2h-40.7zM524.3 1475.8h40.7v2.6h-40.7zM524.3 1490.8h40.7v2.6h-40.7zM604.9 1399.3h40.7v3.1h-40.7zM604.9 1473.8h40.7v2.1h-40.7zM645.3 1446.3h40.7v5.2h-40.7zM725.9 1408.3h40.7v2.6h-40.7zM725.9 1426.3h40.7v3.6h-40.7zM725.9 1433.8h40.7v5.2h-40.7zM725.9 1443.8h40.7v2.6h-40.7zM766.2 1446.3h40.7v5.2h-40.7zM766.2 1506.3h40.7v1.6h-40.7zM846.9 1455.3h40.7v3.1h-40.7zM846.9 1459.8h40.7v2.1h-40.7zM846.9 1488.3h40.7v2.6h-40.7zM887.2 1453.8h40.7v1.6h-40.7zM887.2 1459.8h40.7v2.1h-40.7zM887.2 1484.3h40.7v1.6h-40.7zM927.5 1433.8h40.7v5.2h-40.7zM927.5 1461.8h40.7v2.6h-40.7zM967.9 1451.3h40.7v4.2h-40.7zM967.9 1475.8h40.7v2.6h-40.7zM1008.2 1443.8h40.7v2.6h-40.7zM1008.2 1453.8h40.7v1.6h-40.7z"/><path fill="#80b0dc" d="M161.4 1453.8h40.7v1.6h-40.7zM161.4 1464.3h40.7v3.6h-40.7zM161.4 1490.8h40.7v2.6h-40.7zM242.0 1421.8h40.7v3.1h-40.7zM242.0 1467.8h40.7v3.6h-40.7zM282.4 1426.3h40.7v3.6h-40.7zM282.4 1443.8h40.7v2.6h-40.7zM282.4 1490.8h40.7v2.6h-40.7zM282.4 1506.3h40.7v1.6h-40.7zM322.7 1438.8h40.7v5.2h-40.7zM322.7 1467.8h40.7v3.6h-40.7zM363.0 1446.3h40.7v5.2h-40.7zM363.0 1461.8h40.7v2.6h-40.7zM403.3 1416.8h40.7v5.2h-40.7zM403.3 1446.3h40.7v5.2h-40.7zM403.3 1498.8h40.7v2.6h-40.7zM443.7 1429.8h40.7v4.2h-40.7zM443.7 1480.8h40.7v3.6h-40.7zM443.7 1485.8h40.7v2.6h-40.7zM443.7 1498.8h40.7v2.6h-40.7zM484.0 1372.8h40.7v1.6h-40.7zM484.0 1394.3h40.7v5.2h-40.7zM484.0 1480.8h40.7v3.6h-40.7zM484.0 1495.3h40.7v1.6h-40.7zM524.3 1394.3h40.7v5.2h-40.7zM524.3 1416.8h40.7v5.2h-40.7zM524.3 1424.8h40.7v1.6h-40.7zM524.3 1451.3h40.7v2.6h-40.7zM524.3 1473.8h40.7v2.1h-40.7zM564.6 1424.8h40.7v1.6h-40.7zM564.6 1429.8h40.7v4.2h-40.7zM564.6 1461.8h40.7v2.6h-40.7zM564.6 1507.8h40.7v1.6h-40.7zM604.9 1506.3h40.7v1.6h-40.7zM645.3 1464.3h40.7v3.6h-40.7zM685.6 1385.8h40.7v1.6h-40.7zM685.6 1443.8h40.7v2.6h-40.7zM685.6 1464.3h40.7v3.6h-40.7zM685.6 1475.8h40.7v2.6h-40.7zM685.6 1496.8h40.7v2.1h-40.7zM725.9 1461.8h40.7v2.6h-40.7zM725.9 1473.8h40.7v2.1h-40.7zM766.2 1399.3h40.7v3.1h-40.7zM766.2 1459.8h40.7v4.7h-40.7zM766.2 1467.8h40.7v3.6h-40.7zM806.6 1453.8h40.7v1.6h-40.7zM806.6 1461.8h40.7v2.6h-40.7zM846.9 1424.8h40.7v1.6h-40.7zM846.9 1443.8h40.7v2.6h-40.7zM846.9 1451.3h40.7v2.6h-40.7zM846.9 1458.3h40.7v1.6h-40.7zM846.9 1461.8h40.7v2.6h-40.7zM846.9 1467.8h40.7v3.6h-40.7zM846.9 1484.3h40.7v1.6h-40.7zM887.2 1408.3h40.7v2.6h-40.7zM887.2 1438.8h40.7v7.7h-40.7zM887.2 1455.3h40.7v3.1h-40.7zM887.2 1467.8h40.7v3.6h-40.7zM927.5 1380.3h40.7v3.6h-40.7zM927.5 1467.8h40.7v3.6h-40.7zM927.5 1473.8h40.7v2.1h-40.7zM927.5 1480.8h40.7v3.6h-40.7zM1008.2 1485.8h40.7v2.6h-40.7zM1008.2 1512.8h40.7v3.6h-40.7z"/><path fill="#6fa4d4" d="M161.4 1455.3h40.7v3.1h-40.7zM161.4 1480.8h40.7v3.6h-40.7zM201.7 1451.3h40.7v2.6h-40.7zM242.0 1380.3h40.7v3.6h-40.7zM242.0 1455.3h40.7v6.7h-40.7zM242.0 1493.3h40.7v2.1h-40.7zM282.4 1429.8h40.7v4.2h-40.7zM282.4 1461.8h40.7v6.2h-40.7zM322.7 1458.3h40.7v1.6h-40.7zM322.7 1478.3h40.7v2.6h-40.7zM322.7 1488.3h40.7v2.6h-40.7zM363.0 1473.8h40.7v2.1h-40.7zM363.0 1490.8h40.7v2.6h-40.7zM363.0 1506.3h40.7v1.6h-40.7zM403.3 1429.8h40.7v4.2h-40.7zM403.3 1464.3h40.7v3.6h-40.7zM403.3 1475.8h40.7v2.6h-40.7zM403.3 1496.8h40.7v2.1h-40.7zM443.7 1443.8h40.7v7.7h-40.7zM443.7 1475.8h40.7v2.6h-40.7zM443.7 1495.3h40.7v1.6h-40.7zM443.7 1516.3h40.7v3.1h-40.7zM484.0 1458.3h40.7v1.6h-40.7zM484.0 1461.8h40.7v2.6h-40.7zM484.0 1485.8h40.7v2.6h-40.7zM484.0 1490.8h40.7v2.6h-40.7zM524.3 1392.3h40.7v2.1h-40.7zM524.3 1455.3h40.7v3.1h-40.7zM524.3 1461.8h40.7v6.2h-40.7zM524.3 1484.3h40.7v1.6h-40.7zM524.3 1495.3h40.7v1.6h-40.7zM524.3 1498.8h40.7v2.6h-40.7zM524.3 1509.3h40.7v3.6h-40.7zM564.6 1459.8h40.7v2.1h-40.7zM564.6 1464.3h40.7v3.6h-40.7zM564.6 1471.3h40.7v2.6h-40.7zM564.6 1480.8h40.7v3.6h-40.7zM564.6 1506.3h40.7v1.6h-40.7zM564.6 1509.3h40.7v3.6h-40.7zM604.9 1461.8h40.7v6.2h-40.7zM604.9 1496.8h40.7v2.1h-40.7zM645.3 1404.8h40.7v3.6h-40.7zM645.3 1455.3h40.7v3.1h-40.7zM645.3 1461.8h40.7v2.6h-40.7zM645.3 1478.3h40.7v2.6h-40.7zM645.3 1484.3h40.7v1.6h-40.7zM685.6 1369.8h40.7v3.1h-40.7zM685.6 1478.3h40.7v2.6h-40.7zM685.6 1484.3h40.7v1.6h-40.7zM685.6 1495.3h40.7v1.6h-40.7zM725.9 1455.3h40.7v3.1h-40.7zM725.9 1471.3h40.7v2.6h-40.7zM725.9 1490.8h40.7v2.6h-40.7zM766.2 1484.3h40.7v4.2h-40.7zM766.2 1531.3h40.7v3.1h-40.7zM806.6 1496.8h40.7v2.1h-40.7zM806.6 1519.3h40.7v1.6h-40.7zM846.9 1485.8h40.7v2.6h-40.7zM846.9 1504.3h40.7v2.1h-40.7zM887.2 1464.3h40.7v3.6h-40.7zM887.2 1475.8h40.7v2.6h-40.7zM887.2 1490.8h40.7v4.7h-40.7zM887.2 1496.8h40.7v2.1h-40.7zM967.9 1484.3h40.7v1.6h-40.7zM967.9 1490.8h40.7v2.6h-40.7zM1008.2 1455.3h40.7v3.1h-40.7zM1008.2 1459.8h40.7v2.1h-40.7zM1008.2 1464.3h40.7v3.6h-40.7zM1008.2 1480.8h40.7v5.2h-40.7z"/><path fill="#4885bf" d="M161.4 1467.8h40.7v3.6h-40.7zM161.4 1504.3h40.7v2.1h-40.7zM161.4 1507.8h40.7v1.6h-40.7zM201.7 1473.8h40.7v2.1h-40.7zM201.7 1478.3h40.7v2.6h-40.7zM201.7 1509.3h40.7v3.6h-40.7zM242.0 1480.8h40.7v5.2h-40.7zM242.0 1490.8h40.7v2.6h-40.7zM242.0 1495.3h40.7v1.6h-40.7zM322.7 1473.8h40.7v2.1h-40.7zM322.7 1484.3h40.7v1.6h-40.7zM322.7 1493.3h40.7v2.1h-40.7zM322.7 1498.8h40.7v7.7h-40.7zM322.7 1512.8h40.7v3.6h-40.7zM322.7 1520.8h40.7v2.1h-40.7zM363.0 1509.3h40.7v3.6h-40.7zM403.3 1507.8h40.7v1.6h-40.7zM403.3 1526.3h40.7v2.6h-40.7zM443.7 1509.3h40.7v3.6h-40.7zM443.7 1528.8h40.7v2.6h-40.7zM443.7 1534.3h40.7v3.1h-40.7zM484.0 1467.8h40.7v3.6h-40.7zM484.0 1484.3h40.7v1.6h-40.7zM524.3 1480.8h40.7v3.6h-40.7zM524.3 1507.8h40.7v1.6h-40.7zM564.6 1473.8h40.7v2.1h-40.7zM564.6 1485.8h40.7v2.6h-40.7zM564.6 1501.3h40.7v3.1h-40.7zM564.6 1516.3h40.7v3.1h-40.7zM604.9 1480.8h40.7v3.6h-40.7zM604.9 1493.3h40.7v2.1h-40.7zM604.9 1509.3h40.7v3.6h-40.7zM604.9 1520.8h40.7v2.1h-40.7zM645.3 1451.3h40.7v2.6h-40.7zM685.6 1512.8h40.7v3.6h-40.7zM685.6 1520.8h40.7v5.7h-40.7zM725.9 1475.8h40.7v2.6h-40.7zM725.9 1496.8h40.7v2.1h-40.7zM766.2 1429.8h40.7v4.2h-40.7zM766.2 1498.8h40.7v2.6h-40.7zM766.2 1528.8h40.7v2.6h-40.7zM806.6 1488.3h40.7v2.6h-40.7zM806.6 1531.3h40.7v3.1h-40.7zM846.9 1495.3h40.7v1.6h-40.7zM846.9 1509.3h40.7v3.6h-40.7zM887.2 1507.8h40.7v5.2h-40.7zM887.2 1537.3h40.7v2.1h-40.7zM927.5 1488.3h40.7v2.6h-40.7zM927.5 1516.3h40.7v3.1h-40.7zM927.5 1531.3h40.7v3.1h-40.7zM967.9 1504.3h40.7v2.1h-40.7zM967.9 1531.3h40.7v6.2h-40.7zM1008.2 1501.3h40.7v3.1h-40.7zM1008.2 1526.3h40.7v5.2h-40.7z"/><path fill="#3a77b3" d="M161.4 1471.3h40.7v2.6h-40.7zM161.4 1506.3h40.7v1.6h-40.7zM161.4 1519.3h40.7v1.6h-40.7zM161.4 1522.8h40.7v3.6h-40.7zM161.4 1534.3h40.7v3.1h-40.7zM282.4 1504.3h40.7v2.1h-40.7zM282.4 1516.3h40.7v4.7h-40.7zM282.4 1531.3h40.7v3.1h-40.7zM322.7 1507.8h40.7v1.6h-40.7zM322.7 1519.3h40.7v1.6h-40.7zM322.7 1528.8h40.7v2.6h-40.7zM443.7 1484.3h40.7v1.6h-40.7zM443.7 1506.3h40.7v1.6h-40.7zM484.0 1496.8h40.7v2.1h-40.7zM484.0 1504.3h40.7v2.1h-40.7zM484.0 1509.3h40.7v3.6h-40.7zM484.0 1516.3h40.7v3.1h-40.7zM524.3 1501.3h40.7v3.1h-40.7zM524.3 1519.3h40.7v1.6h-40.7zM564.6 1504.3h40.7v2.1h-40.7zM564.6 1512.8h40.7v3.6h-40.7zM564.6 1537.3h40.7v2.1h-40.7zM645.3 1526.3h40.7v2.6h-40.7zM685.6 1488.3h40.7v2.6h-40.7zM685.6 1493.3h40.7v2.1h-40.7zM725.9 1509.3h40.7v3.6h-40.7zM725.9 1528.8h40.7v5.7h-40.7zM766.2 1512.8h40.7v3.6h-40.7zM806.6 1506.3h40.7v1.6h-40.7zM806.6 1516.3h40.7v3.1h-40.7zM846.9 1493.3h40.7v2.1h-40.7zM846.9 1498.8h40.7v2.6h-40.7zM887.2 1519.3h40.7v1.6h-40.7zM887.2 1526.3h40.7v2.6h-40.7zM927.5 1537.3h40.7v2.1h-40.7zM1008.2 1537.3h40.7v2.1h-40.7z"/><path fill="#5e98ce" d="M161.4 1475.8h40.7v2.6h-40.7zM161.4 1493.3h40.7v2.1h-40.7zM201.7 1464.3h40.7v3.6h-40.7zM242.0 1443.8h40.7v2.6h-40.7zM242.0 1451.3h40.7v2.6h-40.7zM242.0 1461.8h40.7v2.6h-40.7zM242.0 1506.3h40.7v1.6h-40.7zM282.4 1467.8h40.7v6.2h-40.7zM282.4 1496.8h40.7v2.1h-40.7zM322.7 1490.8h40.7v2.6h-40.7zM322.7 1506.3h40.7v1.6h-40.7zM363.0 1467.8h40.7v3.6h-40.7zM363.0 1504.3h40.7v2.1h-40.7zM403.3 1426.3h40.7v3.6h-40.7zM403.3 1443.8h40.7v2.6h-40.7zM403.3 1501.3h40.7v3.1h-40.7zM403.3 1512.8h40.7v3.6h-40.7zM403.3 1537.3h40.7v2.1h-40.7zM443.7 1424.8h40.7v1.6h-40.7zM443.7 1453.8h40.7v4.7h-40.7zM484.0 1464.3h40.7v3.6h-40.7zM484.0 1501.3h40.7v3.1h-40.7zM484.0 1512.8h40.7v3.6h-40.7zM524.3 1458.3h40.7v1.6h-40.7zM524.3 1467.8h40.7v6.2h-40.7zM524.3 1520.8h40.7v2.1h-40.7zM524.3 1526.3h40.7v2.6h-40.7zM564.6 1443.8h40.7v2.6h-40.7zM564.6 1467.8h40.7v3.6h-40.7zM564.6 1484.3h40.7v1.6h-40.7zM564.6 1526.3h40.7v2.6h-40.7zM604.9 1446.3h40.7v5.2h-40.7zM604.9 1490.8h40.7v2.6h-40.7zM645.3 1385.8h40.7v1.6h-40.7zM645.3 1473.8h40.7v2.1h-40.7zM645.3 1488.3h40.7v5.2h-40.7zM645.3 1498.8h40.7v2.6h-40.7zM685.6 1506.3h40.7v1.6h-40.7zM725.9 1493.3h40.7v2.1h-40.7zM766.2 1451.3h40.7v2.6h-40.7zM766.2 1488.3h40.7v2.6h-40.7zM766.2 1496.8h40.7v2.1h-40.7zM766.2 1504.3h40.7v2.1h-40.7zM766.2 1519.3h40.7v1.6h-40.7zM806.6 1475.8h40.7v2.6h-40.7zM846.9 1496.8h40.7v2.1h-40.7zM887.2 1488.3h40.7v2.6h-40.7zM927.5 1464.3h40.7v3.6h-40.7zM927.5 1475.8h40.7v2.6h-40.7zM927.5 1484.3h40.7v1.6h-40.7zM927.5 1493.3h40.7v2.1h-40.7zM927.5 1501.3h40.7v3.1h-40.7zM927.5 1520.8h40.7v2.1h-40.7zM967.9 1464.3h40.7v3.6h-40.7zM967.9 1493.3h40.7v2.1h-40.7zM967.9 1498.8h40.7v2.6h-40.7zM967.9 1512.8h40.7v3.6h-40.7zM967.9 1528.8h40.7v2.6h-40.7zM1008.2 1461.8h40.7v2.6h-40.7zM1008.2 1488.3h40.7v2.6h-40.7zM1008.2 1496.8h40.7v2.1h-40.7zM1008.2 1507.8h40.7v5.2h-40.7z"/><path fill="#3371ae" d="M161.4 1478.3h40.7v2.6h-40.7zM161.4 1520.8h40.7v2.1h-40.7zM201.7 1496.8h40.7v2.1h-40.7zM242.0 1498.8h40.7v2.6h-40.7zM242.0 1507.8h40.7v1.6h-40.7zM282.4 1501.3h40.7v3.1h-40.7zM282.4 1537.3h40.7v2.1h-40.7zM363.0 1480.8h40.7v3.6h-40.7zM363.0 1516.3h40.7v3.1h-40.7zM363.0 1526.3h40.7v2.6h-40.7zM403.3 1506.3h40.7v1.6h-40.7zM403.3 1520.8h40.7v2.1h-40.7zM443.7 1520.8h40.7v2.1h-40.7zM443.7 1531.3h40.7v3.1h-40.7zM484.0 1478.3h40.7v2.6h-40.7zM484.0 1522.8h40.7v3.6h-40.7zM524.3 1534.3h40.7v3.1h-40.7zM564.6 1495.3h40.7v1.6h-40.7zM564.6 1528.8h40.7v2.6h-40.7zM685.6 1526.3h40.7v2.6h-40.7zM725.9 1504.3h40.7v2.1h-40.7zM806.6 1478.3h40.7v2.6h-40.7zM806.6 1542.3h40.7v3.1h-40.7zM846.9 1528.8h40.7v2.6h-40.7zM887.2 1522.8h40.7v3.6h-40.7zM967.9 1537.3h40.7v2.1h-40.7z"/><path fill="#679ed1" d="M161.4 1485.8h40.7v2.6h-40.7zM161.4 1501.3h40.7v3.1h-40.7zM161.4 1512.8h40.7v3.6h-40.7zM201.7 1459.8h40.7v2.1h-40.7zM201.7 1467.8h40.7v6.2h-40.7zM242.0 1429.8h40.7v4.2h-40.7zM242.0 1473.8h40.7v2.1h-40.7zM242.0 1496.8h40.7v2.1h-40.7zM282.4 1458.3h40.7v1.6h-40.7zM282.4 1473.8h40.7v7.2h-40.7zM282.4 1484.3h40.7v1.6h-40.7zM322.7 1443.8h40.7v2.6h-40.7zM322.7 1453.8h40.7v1.6h-40.7zM322.7 1464.3h40.7v3.6h-40.7zM322.7 1496.8h40.7v2.1h-40.7zM363.0 1453.8h40.7v1.6h-40.7zM403.3 1453.8h40.7v1.6h-40.7zM403.3 1471.3h40.7v2.6h-40.7zM403.3 1478.3h40.7v2.6h-40.7zM403.3 1484.3h40.7v4.2h-40.7zM403.3 1493.3h40.7v3.6h-40.7zM443.7 1512.8h40.7v3.6h-40.7zM484.0 1453.8h40.7v1.6h-40.7zM484.0 1493.3h40.7v2.1h-40.7zM484.0 1506.3h40.7v1.6h-40.7zM524.3 1443.8h40.7v2.6h-40.7zM524.3 1488.3h40.7v2.6h-40.7zM604.9 1498.8h40.7v2.6h-40.7zM604.9 1504.3h40.7v2.1h-40.7zM645.3 1471.3h40.7v2.6h-40.7zM645.3 1480.8h40.7v3.6h-40.7zM645.3 1506.3h40.7v1.6h-40.7zM685.6 1426.3h40.7v3.6h-40.7zM685.6 1467.8h40.7v3.6h-40.7zM685.6 1485.8h40.7v2.6h-40.7zM685.6 1504.3h40.7v2.1h-40.7zM685.6 1509.3h40.7v3.6h-40.7zM725.9 1421.8h40.7v3.1h-40.7zM725.9 1464.3h40.7v7.2h-40.7zM725.9 1480.8h40.7v3.6h-40.7zM725.9 1485.8h40.7v5.2h-40.7zM766.2 1443.8h40.7v2.6h-40.7zM766.2 1453.8h40.7v1.6h-40.7zM766.2 1473.8h40.7v2.1h-40.7zM766.2 1509.3h40.7v3.6h-40.7zM806.6 1484.3h40.7v1.6h-40.7zM806.6 1493.3h40.7v2.1h-40.7zM806.6 1507.8h40.7v5.2h-40.7zM806.6 1520.8h40.7v2.1h-40.7zM846.9 1453.8h40.7v1.6h-40.7zM846.9 1464.3h40.7v3.6h-40.7zM846.9 1475.8h40.7v2.6h-40.7zM887.2 1426.3h40.7v3.6h-40.7zM887.2 1471.3h40.7v2.6h-40.7zM887.2 1480.8h40.7v3.6h-40.7zM887.2 1498.8h40.7v2.6h-40.7zM887.2 1520.8h40.7v2.1h-40.7zM927.5 1443.8h40.7v2.6h-40.7zM927.5 1471.3h40.7v2.6h-40.7zM927.5 1509.3h40.7v3.6h-40.7zM967.9 1471.3h40.7v2.6h-40.7zM967.9 1496.8h40.7v2.1h-40.7zM1008.2 1451.3h40.7v2.6h-40.7zM1008.2 1467.8h40.7v3.6h-40.7zM1008.2 1475.8h40.7v2.6h-40.7z"/><path fill="#4f8bc4" d="M161.4 1495.3h40.7v1.6h-40.7zM161.4 1509.3h40.7v3.6h-40.7zM161.4 1516.3h40.7v3.1h-40.7zM201.7 1475.8h40.7v2.6h-40.7zM242.0 1512.8h40.7v3.6h-40.7zM282.4 1459.8h40.7v2.1h-40.7zM282.4 1485.8h40.7v2.6h-40.7zM282.4 1498.8h40.7v2.6h-40.7zM363.0 1455.3h40.7v3.1h-40.7zM363.0 1459.8h40.7v2.1h-40.7zM363.0 1475.8h40.7v2.6h-40.7zM363.0 1485.8h40.7v2.6h-40.7zM363.0 1493.3h40.7v3.6h-40.7zM363.0 1498.8h40.7v5.7h-40.7zM363.0 1512.8h40.7v3.6h-40.7zM403.3 1504.3h40.7v2.1h-40.7zM443.7 1399.3h40.7v3.1h-40.7zM443.7 1507.8h40.7v1.6h-40.7zM484.0 1507.8h40.7v1.6h-40.7zM484.0 1519.3h40.7v3.6h-40.7zM524.3 1478.3h40.7v2.6h-40.7zM524.3 1504.3h40.7v2.1h-40.7zM564.6 1475.8h40.7v2.6h-40.7zM564.6 1493.3h40.7v2.1h-40.7zM564.6 1531.3h40.7v3.1h-40.7zM604.9 1471.3h40.7v2.6h-40.7zM604.9 1478.3h40.7v2.6h-40.7zM645.3 1485.8h40.7v2.6h-40.7zM645.3 1495.3h40.7v1.6h-40.7zM645.3 1501.3h40.7v5.2h-40.7zM725.9 1484.3h40.7v1.6h-40.7zM725.9 1501.3h40.7v3.1h-40.7zM725.9 1520.8h40.7v2.1h-40.7zM766.2 1493.3h40.7v3.6h-40.7zM766.2 1520.8h40.7v2.1h-40.7zM766.2 1526.3h40.7v2.6h-40.7zM806.6 1501.3h40.7v5.2h-40.7zM846.9 1507.8h40.7v1.6h-40.7zM846.9 1512.8h40.7v6.7h-40.7zM927.5 1429.8h40.7v4.2h-40.7zM927.5 1478.3h40.7v2.6h-40.7zM927.5 1485.8h40.7v2.6h-40.7zM927.5 1495.3h40.7v1.6h-40.7zM927.5 1506.3h40.7v1.6h-40.7zM927.5 1512.8h40.7v3.6h-40.7zM967.9 1522.8h40.7v3.6h-40.7zM1008.2 1471.3h40.7v2.6h-40.7zM1008.2 1504.3h40.7v2.1h-40.7zM1008.2 1531.3h40.7v3.1h-40.7z"/><path fill="#1f4a7e" d="M161.4 1496.8h40.7v2.1h-40.7zM161.4 1539.3h40.7v1.6h-40.7zM242.0 1540.8h40.7v1.6h-40.7zM322.7 1539.3h40.7v3.1h-40.7zM363.0 1534.3h40.7v3.1h-40.7zM363.0 1540.8h40.7v1.6h-40.7zM403.3 1542.3h40.7v3.1h-40.7zM443.7 1537.3h40.7v2.1h-40.7zM443.7 1540.8h40.7v1.6h-40.7zM484.0 1526.3h40.7v2.6h-40.7zM645.3 1540.8h40.7v1.6h-40.7zM685.6 1534.3h40.7v3.1h-40.7zM725.9 1522.8h40.7v3.6h-40.7zM806.6 1540.8h40.7v1.6h-40.7zM887.2 1542.3h40.7v3.1h-40.7z"/><path fill="#255a93" d="M161.4 1526.3h40.7v2.6h-40.7zM201.7 1531.3h40.7v3.1h-40.7zM242.0 1516.3h40.7v3.1h-40.7zM242.0 1522.8h40.7v3.6h-40.7zM242.0 1537.3h40.7v2.1h-40.7zM282.4 1512.8h40.7v3.6h-40.7zM282.4 1520.8h40.7v5.7h-40.7zM282.4 1542.3h40.7v3.1h-40.7zM443.7 1504.3h40.7v2.1h-40.7zM484.0 1528.8h40.7v2.6h-40.7zM524.3 1540.8h40.7v1.6h-40.7zM564.6 1490.8h40.7v2.6h-40.7zM604.9 1501.3h40.7v3.1h-40.7zM604.9 1531.3h40.7v3.1h-40.7zM685.6 1537.3h40.7v2.1h-40.7zM766.2 1522.8h40.7v3.6h-40.7zM806.6 1537.3h40.7v2.1h-40.7zM927.5 1542.3h40.7v3.1h-40.7zM967.9 1516.3h40.7v3.1h-40.7z"/><path fill="#1d4371" d="M161.4 1528.8h40.7v2.6h-40.7zM201.7 1540.8h40.7v1.6h-40.7zM242.0 1542.3h40.7v3.1h-40.7zM403.3 1539.3h40.7v1.6h-40.7zM524.3 1522.8h40.7v3.6h-40.7zM604.9 1540.8h40.7v1.6h-40.7zM725.9 1540.8h40.7v1.6h-40.7zM766.2 1542.3h40.7v3.1h-40.7zM846.9 1526.3h40.7v2.6h-40.7zM846.9 1537.3h40.7v2.1h-40.7z"/><path fill="#1a3558" d="M161.4 1531.3h40.7v3.1h-40.7zM161.4 1545.3h40.7v4.9h-40.7zM201.7 1545.3h40.7v4.9h-40.7zM242.0 1545.3h40.7v4.9h-40.7zM282.4 1545.3h40.7v4.9h-40.7zM322.7 1545.3h40.7v2.6h-40.7zM322.7 1549.8h40.7v0.4h-40.7zM363.0 1545.3h40.7v2.6h-40.7zM363.0 1549.8h40.7v0.4h-40.7zM403.3 1545.3h40.7v4.9h-40.7zM443.7 1519.3h40.7v1.6h-40.7zM443.7 1549.8h40.7v0.4h-40.7zM484.0 1545.3h40.7v4.9h-40.7zM524.3 1545.3h40.7v2.6h-40.7zM564.6 1545.3h40.7v4.9h-40.7zM604.9 1545.3h40.7v2.6h-40.7zM604.9 1549.8h40.7v0.4h-40.7zM645.3 1545.3h40.7v4.9h-40.7zM685.6 1545.3h40.7v4.9h-40.7zM725.9 1547.8h40.7v2.1h-40.7zM766.2 1545.3h40.7v2.6h-40.7zM806.6 1547.8h40.7v2.4h-40.7zM846.9 1545.3h40.7v4.9h-40.7zM887.2 1545.3h40.7v4.7h-40.7zM927.5 1545.3h40.7v2.6h-40.7zM927.5 1549.8h40.7v0.4h-40.7zM967.9 1542.3h40.7v7.9h-40.7zM1008.2 1545.3h40.7v4.9h-40.7z"/><path fill="#214f85" d="M161.4 1537.3h40.7v2.1h-40.7zM201.7 1519.3h40.7v1.6h-40.7zM201.7 1542.3h40.7v3.1h-40.7zM242.0 1488.3h40.7v2.6h-40.7zM242.0 1520.8h40.7v2.1h-40.7zM282.4 1540.8h40.7v1.6h-40.7zM322.7 1526.3h40.7v2.6h-40.7zM524.3 1512.8h40.7v3.6h-40.7zM564.6 1522.8h40.7v3.6h-40.7zM564.6 1542.3h40.7v3.1h-40.7zM604.9 1537.3h40.7v2.1h-40.7zM846.9 1519.3h40.7v1.6h-40.7zM846.9 1539.3h40.7v1.6h-40.7zM887.2 1501.3h40.7v3.1h-40.7zM887.2 1534.3h40.7v3.1h-40.7zM887.2 1539.3h40.7v1.6h-40.7zM927.5 1522.8h40.7v6.2h-40.7z"/><path fill="#2c6aa8" d="M161.4 1540.8h40.7v1.6h-40.7zM201.7 1504.3h40.7v2.1h-40.7zM201.7 1507.8h40.7v1.6h-40.7zM201.7 1512.8h40.7v6.7h-40.7zM242.0 1485.8h40.7v2.6h-40.7zM322.7 1534.3h40.7v3.1h-40.7zM363.0 1519.3h40.7v3.6h-40.7zM363.0 1528.8h40.7v2.6h-40.7zM403.3 1509.3h40.7v3.6h-40.7zM403.3 1534.3h40.7v3.1h-40.7zM484.0 1542.3h40.7v3.1h-40.7zM524.3 1542.3h40.7v3.1h-40.7zM604.9 1522.8h40.7v3.6h-40.7zM645.3 1507.8h40.7v1.6h-40.7zM645.3 1519.3h40.7v1.6h-40.7zM645.3 1522.8h40.7v3.6h-40.7zM645.3 1528.8h40.7v2.6h-40.7zM685.6 1531.3h40.7v3.1h-40.7zM725.9 1507.8h40.7v1.6h-40.7zM806.6 1464.3h40.7v3.6h-40.7zM806.6 1522.8h40.7v3.6h-40.7zM927.5 1496.8h40.7v2.1h-40.7zM967.9 1519.3h40.7v1.6h-40.7zM1008.2 1516.3h40.7v3.1h-40.7zM1008.2 1522.8h40.7v3.6h-40.7z"/><path fill="#23558c" d="M161.4 1542.3h40.7v3.1h-40.7zM282.4 1534.3h40.7v3.1h-40.7zM363.0 1542.3h40.7v3.1h-40.7zM524.3 1537.3h40.7v2.1h-40.7zM564.6 1534.3h40.7v3.1h-40.7zM564.6 1539.3h40.7v1.6h-40.7zM604.9 1528.8h40.7v2.6h-40.7zM725.9 1519.3h40.7v1.6h-40.7zM766.2 1534.3h40.7v5.2h-40.7zM927.5 1528.8h40.7v2.6h-40.7z"/><path fill="#5692ca" d="M201.7 1455.3h40.7v3.1h-40.7zM201.7 1480.8h40.7v3.6h-40.7zM201.7 1485.8h40.7v2.6h-40.7zM201.7 1506.3h40.7v1.6h-40.7zM242.0 1471.3h40.7v2.6h-40.7zM282.4 1493.3h40.7v2.1h-40.7zM282.4 1509.3h40.7v3.6h-40.7zM403.3 1488.3h40.7v5.2h-40.7zM443.7 1471.3h40.7v2.6h-40.7zM443.7 1488.3h40.7v2.6h-40.7zM443.7 1493.3h40.7v2.1h-40.7zM484.0 1471.3h40.7v2.6h-40.7zM484.0 1488.3h40.7v2.6h-40.7zM484.0 1537.3h40.7v2.1h-40.7zM524.3 1485.8h40.7v2.6h-40.7zM524.3 1493.3h40.7v2.1h-40.7zM524.3 1496.8h40.7v2.1h-40.7zM564.6 1488.3h40.7v2.6h-40.7zM604.9 1429.8h40.7v4.2h-40.7zM604.9 1484.3h40.7v1.6h-40.7zM604.9 1507.8h40.7v1.6h-40.7zM604.9 1519.3h40.7v1.6h-40.7zM645.3 1459.8h40.7v2.1h-40.7zM645.3 1467.8h40.7v3.6h-40.7zM645.3 1493.3h40.7v2.1h-40.7zM645.3 1516.3h40.7v3.1h-40.7zM685.6 1446.3h40.7v5.2h-40.7zM685.6 1516.3h40.7v3.1h-40.7zM725.9 1478.3h40.7v2.6h-40.7zM725.9 1512.8h40.7v3.6h-40.7zM766.2 1471.3h40.7v2.6h-40.7zM766.2 1478.3h40.7v2.6h-40.7zM766.2 1501.3h40.7v3.1h-40.7zM806.6 1512.8h40.7v3.6h-40.7zM846.9 1408.3h40.7v2.6h-40.7zM846.9 1473.8h40.7v2.1h-40.7zM887.2 1478.3h40.7v2.6h-40.7zM887.2 1495.3h40.7v1.6h-40.7zM887.2 1504.3h40.7v3.6h-40.7zM927.5 1498.8h40.7v2.6h-40.7zM927.5 1507.8h40.7v1.6h-40.7zM967.9 1410.8h40.7v3.6h-40.7zM967.9 1501.3h40.7v3.1h-40.7zM967.9 1520.8h40.7v2.1h-40.7zM1008.2 1498.8h40.7v2.6h-40.7z"/><path fill="#417eb9" d="M201.7 1488.3h40.7v2.6h-40.7zM201.7 1495.3h40.7v1.6h-40.7zM201.7 1498.8h40.7v2.6h-40.7zM201.7 1520.8h40.7v2.1h-40.7zM242.0 1475.8h40.7v5.2h-40.7zM242.0 1501.3h40.7v5.2h-40.7zM242.0 1531.3h40.7v3.1h-40.7zM282.4 1480.8h40.7v3.6h-40.7zM282.4 1495.3h40.7v1.6h-40.7zM322.7 1509.3h40.7v3.6h-40.7zM322.7 1531.3h40.7v3.1h-40.7zM363.0 1471.3h40.7v2.6h-40.7zM363.0 1496.8h40.7v2.1h-40.7zM403.3 1516.3h40.7v4.7h-40.7zM443.7 1501.3h40.7v3.1h-40.7zM443.7 1522.8h40.7v3.6h-40.7zM524.3 1506.3h40.7v1.6h-40.7zM564.6 1453.8h40.7v1.6h-40.7zM564.6 1496.8h40.7v2.1h-40.7zM564.6 1520.8h40.7v2.1h-40.7zM604.9 1512.8h40.7v6.7h-40.7zM645.3 1509.3h40.7v7.2h-40.7zM645.3 1520.8h40.7v2.1h-40.7zM645.3 1531.3h40.7v3.1h-40.7zM685.6 1507.8h40.7v1.6h-40.7zM685.6 1528.8h40.7v2.6h-40.7zM725.9 1429.8h40.7v4.2h-40.7zM725.9 1459.8h40.7v2.1h-40.7zM725.9 1495.3h40.7v1.6h-40.7zM725.9 1506.3h40.7v1.6h-40.7zM725.9 1526.3h40.7v2.6h-40.7zM806.6 1528.8h40.7v2.6h-40.7zM846.9 1478.3h40.7v2.6h-40.7zM846.9 1501.3h40.7v3.1h-40.7zM846.9 1506.3h40.7v1.6h-40.7zM846.9 1520.8h40.7v2.1h-40.7zM846.9 1531.3h40.7v3.1h-40.7zM887.2 1473.8h40.7v2.1h-40.7zM887.2 1512.8h40.7v3.6h-40.7zM887.2 1528.8h40.7v2.6h-40.7zM927.5 1490.8h40.7v2.6h-40.7zM967.9 1509.3h40.7v3.6h-40.7zM1008.2 1473.8h40.7v2.1h-40.7zM1008.2 1493.3h40.7v3.6h-40.7zM1008.2 1506.3h40.7v1.6h-40.7zM1008.2 1519.3h40.7v3.6h-40.7z"/><path fill="#2a65a1" d="M201.7 1493.3h40.7v2.1h-40.7zM201.7 1522.8h40.7v6.2h-40.7zM242.0 1519.3h40.7v1.6h-40.7zM242.0 1526.3h40.7v2.6h-40.7zM282.4 1507.8h40.7v1.6h-40.7zM322.7 1495.3h40.7v1.6h-40.7zM363.0 1488.3h40.7v2.6h-40.7zM363.0 1507.8h40.7v1.6h-40.7zM363.0 1537.3h40.7v2.1h-40.7zM403.3 1522.8h40.7v3.6h-40.7zM443.7 1496.8h40.7v2.1h-40.7zM443.7 1526.3h40.7v2.6h-40.7zM484.0 1534.3h40.7v3.1h-40.7zM524.3 1531.3h40.7v3.1h-40.7zM604.9 1526.3h40.7v2.6h-40.7zM645.3 1496.8h40.7v2.1h-40.7zM645.3 1537.3h40.7v2.1h-40.7zM685.6 1519.3h40.7v1.6h-40.7zM685.6 1542.3h40.7v3.1h-40.7zM725.9 1539.3h40.7v1.6h-40.7zM806.6 1526.3h40.7v2.6h-40.7zM927.5 1519.3h40.7v1.6h-40.7zM927.5 1534.3h40.7v3.1h-40.7zM967.9 1478.3h40.7v2.6h-40.7zM967.9 1507.8h40.7v1.6h-40.7zM967.9 1526.3h40.7v2.6h-40.7zM1008.2 1539.3h40.7v3.1h-40.7z"/><path fill="#1e4678" d="M201.7 1501.3h40.7v3.1h-40.7zM201.7 1537.3h40.7v3.6h-40.7zM242.0 1539.3h40.7v1.6h-40.7zM282.4 1528.8h40.7v2.6h-40.7zM322.7 1522.8h40.7v3.6h-40.7zM322.7 1537.3h40.7v2.1h-40.7zM403.3 1540.8h40.7v1.6h-40.7zM604.9 1539.3h40.7v1.6h-40.7zM604.9 1542.3h40.7v3.1h-40.7zM766.2 1516.3h40.7v3.1h-40.7zM887.2 1540.8h40.7v1.6h-40.7zM967.9 1540.8h40.7v1.6h-40.7z"/><path fill="#285f9a" d="M201.7 1528.8h40.7v2.6h-40.7zM201.7 1534.3h40.7v3.1h-40.7zM242.0 1528.8h40.7v2.6h-40.7zM282.4 1526.3h40.7v2.6h-40.7zM322.7 1516.3h40.7v3.1h-40.7zM322.7 1542.3h40.7v3.1h-40.7zM363.0 1522.8h40.7v3.6h-40.7zM363.0 1539.3h40.7v1.6h-40.7zM403.3 1528.8h40.7v5.7h-40.7zM484.0 1531.3h40.7v3.1h-40.7zM524.3 1516.3h40.7v3.1h-40.7zM645.3 1534.3h40.7v3.1h-40.7zM645.3 1539.3h40.7v1.6h-40.7zM685.6 1539.3h40.7v1.6h-40.7zM725.9 1516.3h40.7v3.1h-40.7zM725.9 1534.3h40.7v3.1h-40.7zM806.6 1539.3h40.7v1.6h-40.7zM846.9 1490.8h40.7v2.6h-40.7zM846.9 1522.8h40.7v3.6h-40.7zM846.9 1534.3h40.7v3.1h-40.7zM887.2 1516.3h40.7v3.1h-40.7zM927.5 1539.3h40.7v1.6h-40.7zM967.9 1539.3h40.7v1.6h-40.7zM1008.2 1534.3h40.7v3.1h-40.7z"/><path fill="#1b395e" d="M242.0 1509.3h40.7v3.6h-40.7zM443.7 1542.3h40.7v3.1h-40.7zM524.3 1528.8h40.7v2.6h-40.7zM645.3 1542.3h40.7v3.1h-40.7zM766.2 1539.3h40.7v1.6h-40.7z"/><path fill="#172c48" d="M242.0 1534.3h40.7v3.1h-40.7zM524.3 1549.8h40.7v0.4h-40.7zM604.9 1547.8h40.7v2.1h-40.7zM725.9 1549.8h40.7v0.4h-40.7zM1008.2 1542.3h40.7v3.1h-40.7z"/><path fill="#182f4d" d="M282.4 1539.3h40.7v1.6h-40.7zM443.7 1545.3h40.7v2.6h-40.7zM484.0 1540.8h40.7v1.6h-40.7zM806.6 1545.3h40.7v2.6h-40.7zM846.9 1542.3h40.7v3.1h-40.7z"/><path fill="#132034" d="M322.7 1547.8h40.7v2.1h-40.7zM927.5 1547.8h40.7v2.1h-40.7z"/><path fill="#1c3c65" d="M363.0 1531.3h40.7v3.1h-40.7zM564.6 1519.3h40.7v1.6h-40.7zM604.9 1534.3h40.7v3.1h-40.7zM725.9 1537.3h40.7v2.1h-40.7zM927.5 1540.8h40.7v1.6h-40.7z"/><path fill="#162843" d="M363.0 1547.8h40.7v2.1h-40.7zM443.7 1547.8h40.7v2.1h-40.7zM846.9 1540.8h40.7v1.6h-40.7z"/><path fill="#1c406b" d="M443.7 1539.3h40.7v1.6h-40.7zM484.0 1539.3h40.7v1.6h-40.7zM564.6 1540.8h40.7v1.6h-40.7zM685.6 1540.8h40.7v1.6h-40.7zM725.9 1542.3h40.7v3.1h-40.7zM766.2 1540.8h40.7v1.6h-40.7zM887.2 1531.3h40.7v3.1h-40.7z"/><path fill="#193253" d="M524.3 1539.3h40.7v1.6h-40.7zM725.9 1545.3h40.7v2.6h-40.7zM766.2 1547.8h40.7v2.4h-40.7zM806.6 1534.3h40.7v3.1h-40.7zM887.2 1549.8h40.7v0.4h-40.7z"/><path fill="#15253d" d="M524.3 1547.8h40.7v2.1h-40.7z"/>
<rect x="161.40" y="1029.30" width="887.10" height="520.70" fill="none" stroke="#2a2a2a" stroke-width="1.6"/>
<rect x="103.60" y="1029.30" width="53.20" height="520.70" fill="#fff" stroke="#111" stroke-width="1.5"/>
<rect x="103.60" y="1470.20" width="53.20" height="79.80" fill="#050505" stroke="#111" stroke-width="1.5"/>
<text x="86.5" y="1481.3" font-size="34" font-weight="bold" textLength="385.5" lengthAdjust="spacingAndGlyphs" transform="rotate(-90 86.5 1481.3)">Super accessible region</text>
<text x="196.4" y="1559.3" font-size="31" font-weight="bold" text-anchor="end" textLength="84.5" lengthAdjust="spacing" transform="rotate(-90 196.4 1559.3)">PCM6</text>
<text x="236.7" y="1559.3" font-size="31" font-weight="bold" text-anchor="end" textLength="115.5" lengthAdjust="spacing" transform="rotate(-90 236.7 1559.3)">OCIMY5</text>
<text x="277.0" y="1559.3" font-size="31" font-weight="bold" text-anchor="end" textLength="69.0" lengthAdjust="spacing" transform="rotate(-90 277.0 1559.3)">U266</text>
<text x="317.3" y="1559.3" font-size="31" font-weight="bold" text-anchor="end" textLength="84.5" lengthAdjust="spacing" transform="rotate(-90 317.3 1559.3)">H1112</text>
<text x="357.7" y="1559.3" font-size="31" font-weight="bold" text-anchor="end" textLength="141.4" lengthAdjust="spacing" transform="rotate(-90 357.7 1559.3)">KMS12PE</text>
<text x="398.0" y="1559.3" font-size="31" font-weight="bold" text-anchor="end" textLength="148.3" lengthAdjust="spacing" transform="rotate(-90 398.0 1559.3)">KMS12BM</text>
<text x="438.3" y="1559.3" font-size="31" font-weight="bold" text-anchor="end" textLength="148.3" lengthAdjust="spacing" transform="rotate(-90 438.3 1559.3)">KMS21BM</text>
<text x="478.6" y="1559.3" font-size="31" font-weight="bold" text-anchor="end" textLength="100.0" lengthAdjust="spacing" transform="rotate(-90 478.6 1559.3)">KMS20</text>
<text x="518.9" y="1559.3" font-size="31" font-weight="bold" text-anchor="end" textLength="138.0" lengthAdjust="spacing" transform="rotate(-90 518.9 1559.3)">RPMI8226</text>
<text x="559.3" y="1559.3" font-size="31" font-weight="bold" text-anchor="end" textLength="144.8" lengthAdjust="spacing" transform="rotate(-90 559.3 1559.3)">Karpas620</text>
<text x="599.6" y="1559.3" font-size="31" font-weight="bold" text-anchor="end" textLength="100.6" lengthAdjust="spacing" transform="rotate(-90 599.6 1559.3)">KMS27</text>
<text x="639.9" y="1559.3" font-size="31" font-weight="bold" text-anchor="end" textLength="100.6" lengthAdjust="spacing" transform="rotate(-90 639.9 1559.3)">KMS26</text>
<text x="680.2" y="1559.3" font-size="31" font-weight="bold" text-anchor="end" textLength="97.5" lengthAdjust="spacing" transform="rotate(-90 680.2 1559.3)">KMS11</text>
<text x="720.6" y="1559.3" font-size="31" font-weight="bold" text-anchor="end" textLength="55.4" lengthAdjust="spacing" transform="rotate(-90 720.6 1559.3)">PE1</text>
<text x="760.9" y="1559.3" font-size="31" font-weight="bold" text-anchor="end" textLength="100.6" lengthAdjust="spacing" transform="rotate(-90 760.9 1559.3)">KMS34</text>
<text x="801.2" y="1559.3" font-size="31" font-weight="bold" text-anchor="end" textLength="82.0" lengthAdjust="spacing" transform="rotate(-90 801.2 1559.3)">OPM2</text>
<text x="841.5" y="1559.3" font-size="31" font-weight="bold" text-anchor="end" transform="rotate(-90 841.5 1559.3)">XG6</text>
<text x="881.8" y="1559.3" font-size="31" font-weight="bold" text-anchor="end" textLength="148.5" lengthAdjust="spacing" transform="rotate(-90 881.8 1559.3)">KMS28BM</text>
<text x="922.2" y="1559.3" font-size="31" font-weight="bold" text-anchor="end" textLength="51.0" lengthAdjust="spacing" transform="rotate(-90 922.2 1559.3)">LP1</text>
<text x="962.5" y="1559.3" font-size="31" font-weight="bold" text-anchor="end" textLength="79.8" lengthAdjust="spacing" transform="rotate(-90 962.5 1559.3)">MM1S</text>
<text x="1002.8" y="1559.3" font-size="31" font-weight="bold" text-anchor="end" textLength="62.0" lengthAdjust="spacing" transform="rotate(-90 1002.8 1559.3)">L363</text>
<text x="1043.1" y="1559.3" font-size="31" font-weight="bold" text-anchor="end" textLength="100.6" lengthAdjust="spacing" transform="rotate(-90 1043.1 1559.3)">KMS18</text>
<defs><linearGradient id="bcb" x1="0" x2="0" y1="1" y2="0"><stop offset="0.00" stop-color="#fafcfe"/><stop offset="0.10" stop-color="#e4eef8"/><stop offset="0.20" stop-color="#ccddef"/><stop offset="0.30" stop-color="#aecdea"/><stop offset="0.40" stop-color="#88b6df"/><stop offset="0.50" stop-color="#5692ca"/><stop offset="0.60" stop-color="#2c6aa8"/><stop offset="0.70" stop-color="#1f4a7e"/><stop offset="0.80" stop-color="#1a3558"/><stop offset="0.90" stop-color="#142238"/><stop offset="1.00" stop-color="#0e1420"/></linearGradient></defs>
<rect x="1156.10" y="1057.60" width="24.40" height="235.50" fill="url(#bcb)" stroke="#111" stroke-width="1.3"/>
<line x1="1180.5" y1="1057.6" x2="1193.7" y2="1057.6" stroke="#222" stroke-width="1.4"/>
<line x1="1180.5" y1="1105.8" x2="1193.7" y2="1105.8" stroke="#222" stroke-width="1.4"/>
<line x1="1180.5" y1="1153.9" x2="1193.7" y2="1153.9" stroke="#222" stroke-width="1.4"/>
<line x1="1180.5" y1="1202.0" x2="1193.7" y2="1202.0" stroke="#222" stroke-width="1.4"/>
<line x1="1180.5" y1="1249.5" x2="1193.7" y2="1249.5" stroke="#222" stroke-width="1.4"/>
<line x1="1180.5" y1="1293.1" x2="1193.7" y2="1293.1" stroke="#222" stroke-width="1.4"/>
<text x="1197.0" y="1066.2" font-size="38.7">8</text>
<text x="1197.0" y="1309.6" font-size="38.7">0</text>
<text x="1096.7" y="1178.6" font-size="34" font-weight="bold" text-anchor="middle" textLength="86.4" lengthAdjust="spacingAndGlyphs" transform="rotate(-90 1096.7 1178.6)">ATAC</text>
<text x="1135.9" y="1287.0" font-size="33" font-weight="bold" textLength="48.0" lengthAdjust="spacingAndGlyphs" transform="rotate(-90 1135.9 1287.0)">log</text>
<text x="1147.8" y="1238.2" font-size="19.5" font-weight="bold" transform="rotate(-90 1147.8 1238.2)">2</text>
<text x="1135.9" y="1226.0" font-size="33" font-weight="bold" textLength="156.5" lengthAdjust="spacingAndGlyphs" transform="rotate(-90 1135.9 1226.0)">(RPPM+1)</text>
<text x="1081.5" y="1470.9" font-size="34" font-weight="bold" font-style="italic" textLength="168.5" lengthAdjust="spacing">POU2AF1</text>
<text x="1081.5" y="1506.4" font-size="34" font-weight="bold" font-style="italic" textLength="83.6" lengthAdjust="spacing">IRF4</text>
<text x="1081.5" y="1541.8" font-size="34" font-weight="bold" font-style="italic" textLength="144.8" lengthAdjust="spacing">UBE2J1</text>
<text x="1081.5" y="1577.3" font-size="34" font-weight="bold" font-style="italic" textLength="128.8" lengthAdjust="spacing">PRDM1</text>
<path d="M1072.2,1459L1049.8,1477.5L1072.2,1493.7L1049.8,1507.8L1071.6,1561L1049,1541.5M1049,1531.6H1072.2" fill="none" stroke="#111" stroke-width="1.4"/>
<text x="34.7" y="1787.7" font-size="37" font-weight="bold" textLength="24.5" lengthAdjust="spacingAndGlyphs">c</text>
<path d="M121.2,1852.5V1820.9H127.2" fill="none" stroke="#000" stroke-width="2"/><path d="M145.8,1820.7L125.1,1809.1L128.5,1820.7L125.1,1832.8Z" fill="#000"/>
<text x="150.5" y="1830.2" font-size="26.5" font-weight="bold" font-style="italic" textLength="92.3" lengthAdjust="spacingAndGlyphs">PRDM1</text>
<line x1="121.2" y1="1843.5" x2="164.0" y2="1843.5" stroke="#000" stroke-width="2.6"/><line x1="123.8" y1="1835.3" x2="123.8" y2="1852.6" stroke="#000" stroke-width="1.6"/><line x1="138.4" y1="1835.3" x2="138.4" y2="1852.6" stroke="#000" stroke-width="1.6"/><line x1="144.0" y1="1835.3" x2="144.0" y2="1852.6" stroke="#000" stroke-width="1.6"/><rect x="154.40" y="1835.30" width="9.50" height="17.30" fill="#000"/>
<path d="M553.6,1852.5V1820.9H547.6" fill="none" stroke="#000" stroke-width="2"/><path d="M529.0,1820.7L549.7,1809.1L546.3,1820.7L549.7,1832.8Z" fill="#000"/>
<text x="443.0" y="1830.2" font-size="26.5" font-weight="bold" font-style="italic" textLength="72.5" lengthAdjust="spacingAndGlyphs">ATG5</text>
<line x1="297.8" y1="1843.5" x2="553.6" y2="1843.5" stroke="#000" stroke-width="2.6"/><line x1="329.0" y1="1835.3" x2="329.0" y2="1852.6" stroke="#000" stroke-width="1.6"/><line x1="413.0" y1="1835.3" x2="413.0" y2="1852.6" stroke="#000" stroke-width="1.6"/><line x1="470.4" y1="1835.3" x2="470.4" y2="1852.6" stroke="#000" stroke-width="1.6"/><line x1="494.5" y1="1835.3" x2="494.5" y2="1852.6" stroke="#000" stroke-width="1.6"/><line x1="522.0" y1="1835.3" x2="522.0" y2="1852.6" stroke="#000" stroke-width="1.6"/><line x1="536.5" y1="1835.3" x2="536.5" y2="1852.6" stroke="#000" stroke-width="1.6"/><line x1="552.9" y1="1835.3" x2="552.9" y2="1852.6" stroke="#000" stroke-width="1.6"/><rect x="297.80" y="1835.30" width="4.60" height="17.30" fill="#000"/>
<text x="83.6" y="1877.9" font-size="19.6" font-weight="bold" text-anchor="end">SA</text>
<text x="83.2" y="1897.1" font-size="19.6" font-weight="bold" text-anchor="end" textLength="55.1" lengthAdjust="spacingAndGlyphs">peaks</text>
<rect x="131.70" y="1869.80" width="97.40" height="7.70" fill="#000"/>
<rect x="259.60" y="1869.80" width="59.20" height="7.70" fill="#000"/>
<rect x="117.42" y="1888.90" width="1.90" height="7.60" fill="#000"/><rect x="119.71" y="1888.90" width="1.90" height="7.60" fill="#000"/><rect x="131.54" y="1888.90" width="1.90" height="7.60" fill="#000"/><rect x="141.09" y="1888.90" width="1.90" height="7.60" fill="#000"/><rect x="142.62" y="1888.90" width="1.90" height="7.60" fill="#000"/><rect x="149.11" y="1888.90" width="1.90" height="7.60" fill="#000"/><rect x="151.78" y="1888.90" width="1.90" height="7.60" fill="#000"/><rect x="153.69" y="1888.90" width="1.90" height="7.60" fill="#000"/><rect x="156.74" y="1888.90" width="1.90" height="7.60" fill="#000"/><rect x="171.63" y="1888.90" width="1.90" height="7.60" fill="#000"/><rect x="176.60" y="1888.90" width="1.90" height="7.60" fill="#000"/><rect x="192.25" y="1888.90" width="1.90" height="7.60" fill="#000"/><rect x="197.60" y="1888.90" width="1.90" height="7.60" fill="#000"/><rect x="220.51" y="1888.90" width="1.90" height="7.60" fill="#000"/><rect x="227.38" y="1888.90" width="1.90" height="7.60" fill="#000"/><rect x="259.45" y="1888.90" width="1.90" height="7.60" fill="#000"/><rect x="261.75" y="1888.90" width="1.90" height="7.60" fill="#000"/><rect x="267.47" y="1888.90" width="1.90" height="7.60" fill="#000"/><rect x="277.02" y="1888.90" width="1.90" height="7.60" fill="#000"/><rect x="290.00" y="1888.90" width="1.90" height="7.60" fill="#000"/><rect x="293.82" y="1888.90" width="1.90" height="7.60" fill="#000"/><rect x="303.36" y="1888.90" width="1.90" height="7.60" fill="#000"/><rect x="316.73" y="1888.90" width="1.90" height="7.60" fill="#000"/><rect x="362.55" y="1888.90" width="1.90" height="7.60" fill="#000"/><rect x="387.37" y="1888.90" width="1.90" height="7.60" fill="#000"/><rect x="406.84" y="1888.90" width="1.90" height="7.60" fill="#000"/><rect x="408.75" y="1888.90" width="1.90" height="7.60" fill="#000"/><rect x="411.42" y="1888.90" width="1.90" height="7.60" fill="#000"/><rect x="458.00" y="1888.90" width="1.90" height="7.60" fill="#000"/><rect x="461.82" y="1888.90" width="1.90" height="7.60" fill="#000"/><rect x="513.75" y="1888.90" width="1.90" height="7.60" fill="#000"/><rect x="551.93" y="1888.90" width="1.90" height="7.60" fill="#000"/><rect x="569.88" y="1888.90" width="1.90" height="7.60" fill="#000"/><rect x="576.75" y="1888.90" width="1.90" height="7.60" fill="#000"/><rect x="598.52" y="1888.90" width="1.90" height="7.60" fill="#000"/>
<rect x="95.50" y="1912.60" width="506.00" height="215.00" fill="#fbfbfb"/>
<path d="M96.5 2126.8l0-5.6l.7-.9l.7 1.8l1.4 .4l.7 1.2l.7-3.1l.7 1.9l1.4-1.5l2.8 1.1l.7-2.3l1.4 2.2l.7-2.6l.7 2.6l1.4-2.4l.7 2l.7 .3l2.1-2.3l1.4-19.7l2.1-99.9l.7 5.8l.7 58.3l.7-25.6l.7-113.5l.7 0l1.4 166l.7 21.4l2.8-32.4l.7 1.2l2.1 28.2l2.1-24.4l.7 0l1.4 20.6l1.4 8.8l1.4-12.6l1.4-21.8l.7 0l2.1 25.9l2.1-85.9l.7 0l1.4 65.9l1.4 28.2l.7-.2l1.4-20.7l1.4-53.8l.7-9.4l.7 9.4l.7 33.3l1.4-32.7l.7 0l1.4 48.3l.7-14.5l1.4-72.8l.7 0l1.4 76.7l.7 20.1l1.4 17.6l2.1-25.4l.7 0l2.1 24.7l1.4 6.9l1.4-1.3l.7-2.2l2.1-22.2l.7-.9l2.8 24.1l.7 1l2.1-20.1l.7 0l2.1 19.8l.7 2.2l.7-2.2l.7 2.2l.7 .8l.7-1.4l.7 1.7l.7-1.3l1.4-.8l.7 1.5l.7-.4l.7 1.7l.7-2l.7 1.4l.7-2.1l.7 1.5l.7-1.3l1.4 1.4l1.4-1.3l.7 0l1.4-19l.7-27.4l.7 0l2.1 45l1.4 3.2l1.4-2.5l.7 2.4l.7-.7l.7 .8l.7-1.9l1.4 1.4l1.4-2.2l1.4 1.3l.7-.9l.7 1.4l1.4-9.5l.7-12.8l.7 0l1.4 17.4l.7-.6l1.4-35l1.4-157.6l.7-11.2l1.4 0l1.4 182.5l.7 21.6l.7 5.2l1.4-12.3l.7-15.6l1.4-54.4l.7 0l1.4 56.3l.7-6.3l.7 1.4l1.4 23l1.4 8.1l1.4-.9l.7 .9l.7-1.7l.7 0l.7 2.4l.7-2.7l.7 2.6l.7-2.5l.7 2.1l.7-1.4l1.4-.9l.7 1.6l.7-.6l1.4 2.3l.7 .2l.7-1.6l1.4-.1l1.4-2l.7 1.7l.7-1.6l.7 2.5l.7-2.4l1.4 2l.7-.2l1.4-10.2l.7-11.7l1.4-58.9l.7-11.4l.7 11.4l.7 37.8l.7 0l.7-19.2l.7 0l1.4 40.7l.7-18.4l2.1-146.3l.7 25.1l.7 78.9l.7 0l2.1 63.5l.7 9.5l1.4 9l.7-1.3l1.4-.8l1.4-19.9l.7 0l2.1 21.2l1.4 1.3l.7-1.5l.7-.3l.7 1.8l.7 .5l.7-1l.7 .9l.7-3.1l.7 1.3l.7-.9l.7 1.9l1.4-16.2l.7-23.5l.7-2.4l1.4 29.9l.7 5.8l1.4-20.7l.7 0l.7 15.2l1.4 12.5l1.4-2.3l.7 1.4l.7-2l.7 2.3l.7-.9l1.4-16.2l.7 0l1.4 14.2l1.4 1.2l.7 2.4l.7 0l.7-2.6l.7-.2l1.4 2.6l.7-1.1l.7 1.1l1.4-2.7l.7 2.7l.7-3.1l.7 .3l2.1-34.8l1.4 26.2l.7 8.6l.7 2.1l1.4 .6l.7-1.8l.7 1l.7-1.1l.7 3.2l.7-1.1l1.4 .7l.7-2.5l.7 1.6l.7-.1l1.4-1.5l.7 .6l.7-.2l.7-1.4l.7 2.5l.7-.2l1.4-1.9l.7-.2l.7 .7l.7-.6l.7 1.9l.7-1.6l.7 .6l.7-.4l1.4 3.1l.7-2.2l.7 .3l.7-1.1l.7 2.5l1.4-3.6l.7 2.9l.7 .2l.7-1.7l.7 .7l2.1-1.7l1.4 3.6l.7-3.6l.7 .1l.7 3.3l.7-2.4l.7 1l.7-.3l.7 1.2l.7-1.8l.7 1.8l.7-3.4l1.4 3.6l.7-2.7l.7 0l.7-1l1.4 2.5l.7-.7l.7 1.6l.7-.9l.7-2.7l1.4-24.3l.7 0l1.4 23.4l.7 3l.7-1.9l.7 2.5l.7-.3l.7-1.6l.7 2l1.4-1.7l1.4 2.8l.7-.7l.7 .2l.7-1.2l.7 .9l1.4-.5l.7 .3l1.4-1.3l.7 1.8l1.4-2.8l.7 3.3l.7-2.1l1.4 1.3l.7-1.4l.7 1.2l1.4-1.5l.7-2.1l.7 4.6l.7-1.8l.7 0l.7-1.3l1.4 .5l.7 2.6l.7-2.1l.7 1.6l.7-2.1l1.4 1.5l.7-1.4l2.1 2.6l.7-.7l.7 1l1.4-7.1l1.4-21.5l.7 0l1.4 11.7l.7-11.7l.7 0l1.4 19.6l1.4 8.4l.7-.9l1.4 1.3l1.4-2.9l2.1 2.7l.7-1.4l.7 2.2l1.4-3l.7-.6l.7 1.3l.7-2l.7-.1l.7 1.2l1.4 .1l.7 2.1l1.4-.2l.7-.9l.7 .1l.7 2.1l.7-.2l.7-2.1l.7-.9l.7 0l.7 2.1l.7-1.1l.7 1.7l.7 .3l.7-3.6l2.1 3.5l.7-2.8l.7 .1l.7 2.5l.7 .4l.7-1l.7 .1l1.4-2.7l.7 2.4l.7-2.6l1.4 2.1l.7-1.4l.7 1.1l.7 .1l.7-2.1l.7 2.1l.7-.3l1.4-1.9l1.4 2.7l.7-3.3l.7 2.6l1.4-23.2l.7-39.3l.7-4.4l1.4 50l.7 12.7l.7 1.3l1.4-31.7l.7-2.3l2.1 35.3l.7 1.4l.7-1l.7 2l.7-2.9l.7 .1l.7 2.9l.7-2l.7 1.4l1.4-1.5l2.1 1.7l.7-1.5l1.4 2.2l2.8-1.9l.7 2.4l.7-2.1l1.4 .2l.7-1.6l1.4 3.9l.7-4l2.8 3.7l.7-2.9l2.1 1.7l1.4-2.7l.7 2.9l.7-1.4l.7 .7l.7-.4l.7 .5l1.4-2l.7 3.4l1.4-3l.7 2.9l.7-.6l.7-3.1l1.4 1.9l.7-.2l.7 .7l1.4-1.3l1.4 1.6l2.1-17.4l.7 0l.7 10.4l.7 5.8l.7 1.7l.7-2.2l.7 2l2.8-1.6l.7 2.3l1.4-1.1l.7-1.4l1.4 1.2l2.1 .7l.7-1.9l1.4 2.8l1.4-3.2l.7 .7l.7-.4l.7 .7l.7-2.3l1.4-14.2l.7 0l1.4 16.2l.7-.9l1.4 3.6l.7 .4l1.4-2.3l.7 1l.7-1.6l.7 .7l.7-1.1l1.4 2.3l.7-1.8l.7-.2l.7 .8l1.4-.8l2.8 1.7l.7-1.4l.7 .5l1.4-2.4l.7 3.8l.7-8.3l.7-31.7l1.4-170.5l1.4 170.5l.7 31.7l.7 6l1.4 1.7l1.4-.3l.7-1.2l.7 .4l.7 2.3l.7-.8l1.4 .2l.7-1.9l.7 0l.7 1.6l.7-2.9l.7 3l.7 .2l.7-2.2l.7 .7l.7-2l1.4-45l.7 0l1.4 41.1l.7 4.4l2.1 2.6l.7-.6l.7 .3l2.1-42.8l.7 3.4l1.4 38.1l.7-1.1l1.4 1.1l2.1-1.4l.7 2.2l.7-1.9l.7 .2l.7 1.9l1.4 .7l1.4-2.5l.7 1.8l.7-1.4l.7 1.3l.7-2l.7 2.4l2.1 .2l.7 .7l.7-2.4l.7 1l.7-.1l.7-1.1L600.5 2126.8Z" fill="#ebebeb"/><path d="M96.5 2126.8l0-3.4l1.4 0l.7 1l.7-.6l.7 .5l.7-1l.7 .9l.7-.6l.7 .7l2.1-1.1l1.4-.3l.7 .6l1.4-.4l.7 .8l.7-.6l2.1 1.3l.7-.4l.7-1.8l1.4-7.9l.7-8.1l2.1-47.9l.7 2.5l.7 26.3l1.4-120.5l.7 0l1.4 118.3l.7 23.3l.7 6.8l.7 0l1.4-5.2l.7 .3l1.4 7l2.8-11.3l.7 0l2.1 11.4l.7-.9l.7-3l.7 .5l1.4-8l.7 0l1.4 7.5l1.4-12.8l1.4-32.7l.7 0l1.4 30.9l1.4 16.7l.7 .5l.7-4.8l2.1-31.8l.7-3.9l.7 3.9l.7 14.7l.7-1.2l.7-6l.7 0l1.4 16l2.1-46.5l.7 0l1.4 36.5l2.1 23.4l.7 .2l1.4-6.6l.7 0l1.4 7l1.4-4.2l.7 2.8l.7 .2l.7-1.3l1.4 3.6l1.4-5.8l.7-.3l.7 1.6l.7-.2l1.4 1.6l.7-1.1l.7 2.7l.7-2.9l1.4 .3l.7 2l.7-1.9l.7 8.6l2.1 1.1l.7-.5l1.4 .9l1.4-.4l1.4 .6l2.1 0l1.4-1l.7 .6l1.4-.2l.7 .7l1.4-.1l1.4-6l1.4-19.9l.7 0l2.1 22.4l1.4 3.7l.7-.7l.7 .4l1.4-.5l.7 .6l2.8-.8l.7 .5l2.1-.5l.7 .4l1.4-5l.7-5.2l.7 0l1.4 7.3l1.4-11l.7-13.3l1.4-66.7l.7-4.1l.7-58l.7 0l1.4 123.2l1.4 29.8l1.4-9.5l2.1-39.7l.7 0l1.4 34.5l.7-1.3l.7 .6l1.4 11.9l1.4 5.2l3.5 1.8l4.2 .1l1.4-.8l4.2 1.3l3.5-1.8l1.4 1.2l.7-.7l.7 .4l2.1-7.4l.7-5.8l2.1-46.2l.7-6.3l.7 6.3l.7 22.7l.7 3.3l.7-10.8l.7 0l1.4 24.3l2.8-80.3l.7 10.7l.7 36.9l.7 .2l2.1 35.2l2.1 13.4l.7-2.3l.7 .2l.7 3.7l1.4-9l.7 0l1.4 7.7l1.4 3.6l.7-.6l2.8 .7l2.8-1.1l.7 .5l1.4-4.3l1.4-16.1l.7-1l2.1 17.9l1.4-8.3l.7 0l2.1 11.8l2.8-.1l.7 .6l.7-.6l1.4-5.7l.7 0l2.1 5.9l2.1 .4l2.1-.9l1.4 1.3l.7-.9l2.8-.4l.7-1l2.1-13.2l2.1 13.2l.7 1.4l1.4 1.1l3.5-.6l1.4 .6l1.4-1l1.4 .9l4.2-1.6l1.4 .8l.7-.4l.7 .7l3.5-.9l1.4 .9l1.4-.4l1.4 .4l1.4-.7l1.4 .6l1.4-.7l1.4 .7l1.4-.3l.7 .5l.7-.8l1.4 1.7l.7-.8l.7 .5l.7-.6l2.1-.2l.7-.9l1.4 .5l.7-.7l.7 .3l.7-.4l2.1 1l1.4-.1l.7-1.9l1.4-10l.7 0l2.1 11.6l1.4-.5l.7 .6l.7-.3l.7 .8l2.1 .2l1.4-.4l2.8 .3l.7-.4l.7 .7l3.5-.8l.7 .6l1.4-.7l.7 .8l1.4-1.4l1.4 .3l.7-.9l.7 1.3l2.1-.4l.7 .7l1.4-.3l1.4 .7l2.8-.3l.7-1l1.4 1.5l1.4-.5l.7-1.6l2.1-11.6l.7 0l1.4 4.7l.7-4.7l.7 0l1.4 8.3l1.4 4.5l4.2 1l1.4-1.1l1.4 1.2l1.4-.2l2.8-1.4l2.8 1.4l2.1-1.5l1.4 1.7l1.4-.9l2.1 .6l.7-1l.7 .9l2.8-.4l1.4 .7l.7-.6l1.4 .5l.7-.8l.7 1.1l2.1-1.6l.7 .6l1.4-.7l.7 .6l2.8 .1l.7-.9l.7 1l2.8-.9l.7-1l.7-4.6l1.4-26.8l.7-1.8l2.1 30.2l.7 1.4l1.4-15.6l.7-1l2.1 17.6l.7 2l.7 .5l.7 .2l3.5-1l1.4 1l1.4-1l1.4 .2l.7 1.1l1.4 .3l.7-.5l.7 .8l4.9-1.4l.7 1.3l.7-1.4l.7-.2l.7 .7l1.4 .3l4.9-.8l2.8 1.1l1.4-.8l.7 .5l.7-.5l1.4 .6l2.1-1.2l.7 1.4l2.8-.9l1.4 .7l2.1-6.6l.7 0l1.4 5.7l1.4-.1l2.1 .9l1.4-.8l4.9-.3l.7 .8l1.4-.4l1.4 .6l1.4-1.1l1.4 1l1.4-1.4l1.4-4.9l.7 0l1.4 5.7l2.8 1.6l.7-.7l2.8 .2l1.4-.8l1.4 .8l2.8-.1l.7-.8l1.4 .8l3.5-1.2l.7-4.5l.7-13.8l.7-38.6l1.4-148.3l1.4 148.3l.7 38.6l1.4 18.8l2.8-.7l1.4 1.5l1.4 0l1.4-1.2l1.4 .9l2.1-.3l.7-.8l.7 .5l1.4-10.7l.7-15.4l.7 0l1.4 20.5l.7 4.8l.7 .7l.7-.6l1.4 1l.7-1.1l2.1-21.5l.7 1.4l.7 13.3l.7 5.9l.7 1.8l4.2-.1l1.4-.5l.7 .9l1.4 0l3.5-.9l1.4 1.5l.7-.4l.7 .4l.7-.5l.7 .7l1.4-1.2l.7 1.4l.7-.9L600.5 2126.8Z" fill="#666"/><path d="M96.5 2126.8l0-2.6l6.3 .6l1.4-.8l1.4 .3l.7-.4l6.3 1.2l1.4-.6l.7-1.9l.7-7.9l.7-.3l1.4-12.8l.7 .6l.7 9.8l1.4-47.6l.7-1.3l1.4 50.9l.7 3.5l.7-.4l.7 3.9l.7-1.9l.7 .6l.7-5.4l1.4 6.3l.7-2.5l.7 3l.7-4.1l.7-.8l1.4 4.1l.7-4.6l.7 3.5l.7 .5l.7-4.3l.7 1.2l.7 3.9l.7-2.1l1.4 1.3l2.1-3.7l1.4-12.2l.7 .1l1.4 12.6l1.4 4.5l.7-5.9l.7-.6l.7 4.2l2.1-10.8l.7 1l.7 6.7l1.4-4.7l.7 .7l1.4 7l2.1-20l.7 1.4l2.1 19.4l1.4-3.7l.7 4.2l.7-1.3l.7 1.2l.7-4.1l.7 3.1l.7-.1l.7-3l.7 1.8l.7-1.6l.7 3.5l.7-4l.7-.2l.7 4.7l.7-5l.7 3.9l1.4-1.8l.7 3.3l.7-5.8l.7 1.7l.7-1.2l1.4 5.1l.7-5.7l.7 3.8l.7-.4l1.4 6.7l1.4-.2l.7 .7l.7-.7l2.1 1l2.1-.5l2.1 .2l2.1-.6l4.2 .9l1.4-4.1l.7-5.1l.7 .2l1.4 6.4l.7 1.9l.7 .4l2.1 .4l4.2-.9l4.9 .2l1.4-3.2l.7 .2l1.4 2.7l.7-.5l1.4-7.2l1.4-28.5l.7 2.5l.7-30.3l.7 4.8l1.4 49.7l.7 7.4l.7 2l.7-.6l.7-2.2l1.4-11l1.4-5.9l1.4 14.7l1.4-1.3l.7 3.7l1.4 2.9l1.4-.4l4.9 1.4l1.4-.6l4.2 .5l5.6-1l1.4 .4l2.1-.4l1.4-6l.7 2.7l.7-2.4l1.4-14.7l.7-2.7l1.4 10.8l.7 .2l.7-5l.7 1.6l1.4 9.8l.7-3.3l1.4-23.6l.7-1.9l.7 2.5l.7 14.6l.7-2.3l2.1 15l1.4-.2l.7 2.5l.7-2.7l.7 1.2l.7 4l1.4-3.2l.7-.4l2.1 4.3l2.1-.6l2.1 .6l4.9-1.1l1.4-6.5l.7-.1l2.1 6.4l.7-1.8l1.4-1.4l1.4 3.7l4.9 .4l.7-.2l.7-1.6l.7 0l1.4 1.9l2.8 .3l2.8-.9l.7 .9l2.1-1l2.1 .6l2.1-4.7l.7 .4l.7 3.1l.7 .9l2.1 .6l5.6-.3l2.1 .6l4.2-1.2l2.8 .6l2.8-.8l4.9 1.1l4.2-.7l3.5 .6l.7-.5l1.4 1.1l7-1.9l3.5 1.1l.7-.5l1.4 .3l1.4-3.2l.7-.2l1.4 3.2l1.4-.5l2.8 .8l1.4-.3l1.4 .5l2.1-.3l4.2 .5l4.9-.3l3.5-1.3l2.1 1l2.8-.1l1.4 .7l4.2-1l.7 .9l2.1 .2l2.1-5.1l.7 .3l.7 1.8l.7 .1l1.4-1.9l2.1 4.5l2.8 .4l4.2-.6l1.4 .6l4.2-1.4l1.4 1.1l2.8-.9l2.1 1.3l.7-.4l6.3-.4l1.4 .7l1.4-.4l2.1 .4l2.8-1l4.9 .5l.7-.7l2.1 .3l.7-.5l1.4 .4l.7-.8l.7-3.6l.7-8.2l.7-.7l1.4 10.9l.7 2.2l.7 .4l1.4-6.6l.7 0l2.1 7l5.6-.7l1.4 .6l2.1-.5l2.1 1.1l2.1 .1l3.5-.8l1.4 0l.7 .7l1.4-1l3.5 .8l3.5-.7l1.4 .7l4.2-.5l.7 .5l2.1-.8l1.4 .8l2.8-.6l1.4 .6l.7-.1l1.4-2.1l.7 0l.7 1.6l.7 .3l4.9-.4l1.4-.5l3.5 .3l.7 .7l2.8 0l1.4-.6l2.8 .4l1.4-1.8l.7 0l1.4 2.6l1.4-.7l1.4 .7l4.2-.4l.7-.9l1.4 1l4.2-.6l1.4 .5l3.5-.7l.7-3.6l.7-12.6l1.4-64.5l1.4 61.4l.7 15.6l.7 3.4l3.5 .1l2.1 1.1l2.1-.9l.7 .5l4.9-.4l1.4-10l2.1 9l.7 .7l3.5 .7l2.1-8l.7 .6l1.4 7.5l6.3-1l2.8 .8l2.8-.6l2.1 1.3l1.4-.5l.7 .5l1.4-.6l1.4 .4L600.5 2126.8Z" fill="#333"/>
<line x1="88.7" y1="2127.2" x2="600.5" y2="2127.2" stroke="#222" stroke-width="1.8"/>
<line x1="95.5" y1="1912.6" x2="95.5" y2="2127.6" stroke="#111" stroke-width="1.5"/>
<line x1="88.7" y1="1912.6" x2="95.5" y2="1912.6" stroke="#111" stroke-width="1.5"/>
<text x="58.2" y="1916.4" font-size="22.5" font-weight="bold" textLength="23.1" lengthAdjust="spacingAndGlyphs">30</text>
<text x="71.1" y="2130.9" font-size="22.5" font-weight="bold">0</text>
<text x="83.8" y="2020.7" font-size="23.5" font-weight="bold" text-anchor="middle" textLength="156.6" lengthAdjust="spacingAndGlyphs" transform="rotate(-90 83.8 2020.7)">ATAC (RPPM)</text>
<path d="M95.5,2140.2V2133.7H600.5V2139.4" fill="none" stroke="#111" stroke-width="1.5"/>
<text x="97.0" y="2157.8" font-size="22.5" font-weight="bold" textLength="70.2" lengthAdjust="spacingAndGlyphs">106.52</text>
<text x="234.8" y="2157.9" font-size="22.5" font-weight="bold" textLength="226.6" lengthAdjust="spacingAndGlyphs">Chromosome 6 (Mb)</text>
<text x="543.9" y="2157.9" font-size="22.5" font-weight="bold" textLength="55.4" lengthAdjust="spacingAndGlyphs">106.8</text>
<text x="646.0" y="1797.3" font-size="35" font-weight="bold" textLength="27.1" lengthAdjust="spacingAndGlyphs">d</text>
<path d="M720.5,1848.8V1818.3H726.5" fill="none" stroke="#000" stroke-width="2"/><path d="M745.1,1818.1L724.4,1806.5L727.8,1818.1L724.4,1830.2Z" fill="#000"/>
<text x="757.4" y="1823.1" font-size="26.5" font-weight="bold" font-style="italic" textLength="104.6" lengthAdjust="spacingAndGlyphs">DUSP22</text>
<line x1="720.5" y1="1839.8" x2="887.9" y2="1839.8" stroke="#000" stroke-width="2.6"/><line x1="721.6" y1="1832.4" x2="721.6" y2="1849.7" stroke="#000" stroke-width="1.6"/><line x1="756.7" y1="1832.4" x2="756.7" y2="1849.7" stroke="#000" stroke-width="1.6"/><line x1="777.8" y1="1832.4" x2="777.8" y2="1849.7" stroke="#000" stroke-width="1.6"/><line x1="799.9" y1="1832.4" x2="799.9" y2="1849.7" stroke="#000" stroke-width="1.6"/><line x1="842.4" y1="1832.4" x2="842.4" y2="1849.7" stroke="#000" stroke-width="1.6"/><line x1="848.0" y1="1832.4" x2="848.0" y2="1849.7" stroke="#000" stroke-width="1.6"/><line x1="850.9" y1="1832.4" x2="850.9" y2="1849.7" stroke="#000" stroke-width="1.6"/><line x1="872.3" y1="1832.4" x2="872.3" y2="1849.7" stroke="#000" stroke-width="1.6"/><rect x="813.30" y="1832.40" width="3.50" height="17.30" fill="#000"/><rect x="878.60" y="1832.40" width="9.30" height="17.30" fill="#000"/>
<path d="M1001.3,1848.8V1818.3H1007.3" fill="none" stroke="#000" stroke-width="2"/><path d="M1025.9,1818.1L1005.2,1806.5L1008.6,1818.1L1005.2,1830.2Z" fill="#000"/>
<text x="1037.5" y="1823.1" font-size="26.5" font-weight="bold" font-style="italic">IRF4</text>
<line x1="1001.3" y1="1839.8" x2="1056.7" y2="1839.8" stroke="#000" stroke-width="2.6"/><line x1="1002.4" y1="1832.4" x2="1002.4" y2="1849.7" stroke="#000" stroke-width="1.4"/><line x1="1005.0" y1="1832.4" x2="1005.0" y2="1849.7" stroke="#000" stroke-width="1.4"/><line x1="1008.0" y1="1832.4" x2="1008.0" y2="1849.7" stroke="#000" stroke-width="1.4"/><line x1="1010.5" y1="1832.4" x2="1010.5" y2="1849.7" stroke="#000" stroke-width="1.4"/><line x1="1012.7" y1="1832.4" x2="1012.7" y2="1849.7" stroke="#000" stroke-width="1.4"/><line x1="1015.7" y1="1832.4" x2="1015.7" y2="1849.7" stroke="#000" stroke-width="1.4"/><line x1="1018.2" y1="1832.4" x2="1018.2" y2="1849.7" stroke="#000" stroke-width="1.4"/><line x1="1022.0" y1="1832.4" x2="1022.0" y2="1849.7" stroke="#000" stroke-width="1.4"/><line x1="1029.0" y1="1832.4" x2="1029.0" y2="1849.7" stroke="#000" stroke-width="1.4"/><line x1="1037.5" y1="1832.4" x2="1037.5" y2="1849.7" stroke="#000" stroke-width="1.4"/><rect x="1044.90" y="1832.40" width="11.80" height="17.30" fill="#000"/>
<rect x="1023.40" y="1867.50" width="27.00" height="7.40" fill="#000"/>
<rect x="1104.70" y="1867.50" width="62.80" height="7.40" fill="#000"/>
<rect x="719.75" y="1885.90" width="5.54" height="8.10" fill="#000"/><rect x="732.84" y="1885.90" width="1.90" height="8.10" fill="#000"/><rect x="739.86" y="1885.90" width="1.90" height="8.10" fill="#000"/><rect x="758.55" y="1885.90" width="3.69" height="8.10" fill="#000"/><rect x="768.68" y="1885.90" width="1.90" height="8.10" fill="#000"/><rect x="778.65" y="1885.90" width="1.90" height="8.10" fill="#000"/><rect x="789.95" y="1885.90" width="1.85" height="8.10" fill="#000"/><rect x="792.69" y="1885.90" width="1.90" height="8.10" fill="#000"/><rect x="799.18" y="1885.90" width="1.85" height="8.10" fill="#000"/><rect x="807.68" y="1885.90" width="2.59" height="8.10" fill="#000"/><rect x="821.51" y="1885.90" width="1.90" height="8.10" fill="#000"/><rect x="825.21" y="1885.90" width="1.90" height="8.10" fill="#000"/><rect x="828.16" y="1885.90" width="1.90" height="8.10" fill="#000"/><rect x="832.59" y="1885.90" width="1.90" height="8.10" fill="#000"/><rect x="847.21" y="1885.90" width="3.69" height="8.10" fill="#000"/><rect x="861.41" y="1885.90" width="1.90" height="8.10" fill="#000"/><rect x="873.23" y="1885.90" width="1.90" height="8.10" fill="#000"/><rect x="894.29" y="1885.90" width="1.90" height="8.10" fill="#000"/><rect x="924.96" y="1885.90" width="1.90" height="8.10" fill="#000"/><rect x="946.97" y="1885.90" width="1.85" height="8.10" fill="#000"/><rect x="966.34" y="1885.90" width="1.90" height="8.10" fill="#000"/><rect x="972.99" y="1885.90" width="1.90" height="8.10" fill="#000"/><rect x="996.10" y="1885.90" width="7.02" height="8.10" fill="#000"/><rect x="1024.34" y="1885.90" width="1.90" height="8.10" fill="#000"/><rect x="1048.36" y="1885.90" width="1.90" height="8.10" fill="#000"/><rect x="1104.88" y="1885.90" width="1.90" height="8.10" fill="#000"/><rect x="1107.47" y="1885.90" width="1.90" height="8.10" fill="#000"/><rect x="1121.51" y="1885.90" width="1.90" height="8.10" fill="#000"/><rect x="1139.98" y="1885.90" width="1.90" height="8.10" fill="#000"/><rect x="1157.71" y="1885.90" width="1.90" height="8.10" fill="#000"/><rect x="1165.84" y="1885.90" width="1.90" height="8.10" fill="#000"/>
<rect x="687.60" y="1910.00" width="505.00" height="214.00" fill="#fbfbfb"/>
<path d="M688.6 2123.6l0-6.8l.7 3.1l1.4-.9l.7-1.4l.7 3.2l1.4-2.4l.7-.6l1.4 .1l.7-.8l.7 1.7l1.4-1.5l.7-.2l2.1 1.2l.7-1l.7 .1l1.4 2l.7-.4l.7 1.6l.7-3.2l.7 2.6l.7-2.3l1.4 .6l.7-.9l.7 1.3l.7-2l.7 2.6l.7-.7l.7 1.3l1.4-1.2l1.4-6.2l1.4-13.7l1.4-31l2.1-97.8l.7 0l.7-60l.7 0l2.1 156.3l1.4 37.3l1.4 13l1.4 2.8l.7-1.5l.7-.2l.7-5.9l2.1-71.8l.7 0l1.4 57.2l1.4 19.9l.7 1.2l.7-1.1l.7 2.7l.7-2.1l.7 2.6l.7-1.1l1.4-.6l.7 .2l.7-1.1l.7 2.5l.7 .1l1.4-3.5l.7 1.9l.7-1.1l.7 .8l.7-.7l.7 2.9l1.4-2.6l.7 2.2l1.4-3.4l.7 2.9l.7-2.7l1.4 2.7l.7-1.2l1.4-23.9l1.4-109.7l.7 0l1.4 105.8l.7 19.2l.7 7.6l.7 1.8l1.4-.8l1.4 1.1l.7-2.1l.7 .1l.7-.8l2.1 1.9l1.4-1.4l.7 2.4l.7-1.3l1.4-.4l.7 1.4l1.4-2.2l.7 1.4l2.1-23.7l.7 0l1.4 21.2l1.4 1.9l.7 2.3l2.1-.7l1.4-5.8l.7-6.6l1.4-30.5l.7-1.8l2.8 40.3l.7 2l.7-.6l1.4 2.6l.7-1.6l1.4-20.6l1.4-47.1l.7 3.8l1.4 54.3l1.4 11.9l.7-1.6l.7 .4l1.4-12.9l2.1-65.9l.7 3.8l1.4 58.4l1.4 15.7l.7-.8l.7 .1l1.4 2.1l.7-1.7l.7 1.1l.7-.3l.7 1.5l2.1-.4l1.4-19.7l.7-33.5l1.4-156.3l.7 0l.7 119l1.4 78.2l.7-2l2.1-45.2l.7 2.3l1.4 39.9l1.4-32.2l.7 0l1.4 34.7l1.4 13l.7 .8l1.4-1.4l1.4 1.7l1.4-1.7l1.4 .8l.7-1l.7 2.6l.7 .4l.7-1.9l1.4-22.8l.7-25.2l.7 0l1.4 39.4l.7 7.9l.7 1.6l.7-.6l.7 .8l1.4-2l1.4 1.3l.7-.2l.7 1.8l.7-1.2l.7 .9l.7-1.6l1.4 1.2l1.4-13.2l.7-16.1l.7 0l2.1 27.8l.7-.2l1.4 2.3l1.4-2.6l1.4 3.3l.7-2.1l.7 .9l1.4-2.1l.7 2.5l.7-2.6l1.4 2.5l.7-2.2l.7 .7l.7-.8l2.8 3l.7-3.5l.7 2l.7-1.1l1.4 1.5l1.4-.4l.7 1.5l.7-3.3l1.4 1.1l.7-.1l.7-.9l.7 1.4l.7-.5l.7 2.2l1.4-1.4l.7-3.2l1.4-14.8l.7-.9l2.1 16.8l1.4 3.2l1.4-3.6l2.1 3.3l.7-.9l1.4 1.1l.7-.9l.7 1.1l.7-2.6l.7 .5l.7-.9l.7 2.4l.7-2.4l.7 1.8l.7 .2l1.4-.4l.7 .4l.7-1.3l1.4-.6l.7 1.5l.7-1.4l.7 2.2l.7-.1l.7-2.3l.7 2.6l.7-2.2l.7 1.7l.7-1.7l.7 .1l.7-.9l1.4 .7l2.1-57.4l2.1 57.3l1.4 2.8l.7-2.3l.7 2.7l1.4-3.1l1.4 2.7l.7-2.8l.7 1.2l1.4 .7l1.4-2l.7-.1l1.4 1.4l.7 2.2l.7 .2l.7-2.1l1.4-1l.7 1.3l.7-2l2.1-27.1l.7 1.6l1.4 24.1l.7 3.4l.7 .8l.7-.6l.7 1l1.4-3.7l.7-.2l1.4 3.6l.7-2.3l.7 1.6l.7-1.6l.7 .2l.7 2l.7-1.3l.7 1.4l.7-2.1l.7 0l.7 1.9l.7-1.5l.7 1.1l1.4-1.9l1.4-17.5l.7 0l1.4 15.4l.7 1.9l1.4 1.3l.7-1.8l.7 0l2.1 2.6l.7-1.1l.7 .3l.7-1.8l.7 .7l.7 2.4l1.4-.2l1.4-1.6l1.4 .6l.7-1.1l.7 3.3l.7-2.5l.7 1.9l1.4-2.3l1.4 .5l.7-.9l.7 2.6l1.4-.1l.7-2.4l1.4 1.6l2.1-10.9l2.1-28.4l.7 0l1.4 24.2l.7-7.7l1.4-56.5l.7 0l2.1 64.2l1.4 11.7l2.8-25.9l.7 0l1.4 18.7l2.1 10.7l.7-.4l.7-1.8l.7 .1l.7 3l.7-2l.7 1.6l.7-2.7l.7 2l.7 .4l.7-1.4l.7 1.8l2.1-1.4l1.4-23.8l1.4-54.8l2.1 71.6l.7 6.5l1.4 .6l.7 1.8l2.1-7.9l2.1-22.6l.7 0l2.1 23.2l.7 3.6l1.4 2.8l.7-1.7l1.4 1.6l.7-1.3l1.4-.8l1.4 2.6l1.4-1.3l1.4 1.2l.7-1.8l.7 .5l.7-1.1l.7 1.3l.7-1.2l.7 3.1l.7-2.3l.7 2.5l.7-3.2l1.4 .7l2.1-7.6l2.1-18.7l.7-2.1l.7 2.1l2.1 18.7l1.4 5.8l.7 .3l.7 2.1l.7-1.8l.7-.1l1.4 1.9l.7-2.3l.7 2.7l.7-3.2l1.4 3.2l1.4 1.1l.7-2.8l.7 1.3l1.4-1.2l1.4 2.4l.7-2.4l1.4 2.3l1.4-2.9l1.4 2.6l.7-.5l.7-1.9l.7 2.3l1.4-2.9l1.4 3.5l.7-.4l1.4 .4l.7-3l1.4 2.5l.7-1.7l.7 1.6l.7-1.6l.7 1.8l.7-1.3l2.1 1.5l1.4-3.5l.7 1l.7-1.7l.7 2.6l.7-1.8l2.1 2.6l.7 .1l2.1-1.4l.7 1.5l.7 .1l.7-2.4l.7-.4l1.4 2.1l1.4-1.7l1.4 2.9l.7-3.2l.7 2.5l.7-1l.7 .9l.7-1.7l1.4 3l.7-2.3l.7 .7l1.4-1.3l1.4-39.2l.7-3.5l1.4 37l1.4 8.1l1.4-3.1l.7 1.3l1.4 .3l.7-1l.7 3.2l.7-2l.7-.1l.7-1.6l1.4 .9l.7 1.9l1.4-3l.7-.3l.7 2.2l.7-.3l.7 1.8l.7 .3l.7-.4l.7 .5l.7-.7l.7-2.5l1.4 2.3l.7-1.8l2.1 2.4l.7-1.9l.7 2.1l2.1-5.6l1.4-8.7l.7-1.3l.7 1.3l2.1 10.8l2.1 2.3l.7-2.3l.7-.5l.7 3.1l.7-2.7l1.4-.6l2.1 3.1l.7-1.8l.7 1.3l.7-1.7l.7 2.4l.7 .5l.7-1.3l.7 1.4l.7-3.5l.7 2.8l.7 .7l.7-.3l.7-2.8l1.4 2.9l.7-2l.7 0l.7-1l.7 3l.7-3l2.1 1l.7 2l.7 .4l1.4-2.3l.7-.2l.7 1.2l.7-.9l.7 1.8l1.4 0l.7-2.2l1.4 1l.7-2.4l1.4 3.7l.7-2.1l.7 .7l.7-.3l.7 1L1192.6 2123.6Z" fill="#ebebeb"/><path d="M688.6 2123.6l0-2.8l1.4-.4l2.1 1.1l2.1-1.2l1.4 .8l.7-1.3l1.4 .5l.7-.7l3.5 1.6l1.4-.8l2.1 .8l.7-.5l1.4 .4l.7-.7l.7 .5l2.1-.4l.7 1.1l1.4-1.2l1.4-2.9l.7-6.6l.7-.5l.7-2.5l1.4-13.7l2.8-59.2l.7 0l.7-34.5l.7 0l2.8 93.7l1.4 16.4l.7-.7l1.4 .5l.7-2.6l.7 11.4l1.4-8.7l1.4-21.5l.7 0l1.4 20.5l.7 5.9l1.4 5.5l.7-.4l1.4 1l2.8-1.3l1.4 1.4l.7 0l.7-.3l.7-1.3l1.4 .6l.7-.4l.7 1.2l.7-.8l.7 .9l3.5-.8l1.4 .1l.7 .6l.7-1.9l1.4-11.8l.7-15.6l1.4-75.1l.7 0l1.4 71.8l1.4 25.9l.7 4.4l.7 1.3l2.8 .7l1.4-.4l1.4 .6l1.4 0l.7-1l.7 .5l.7-.5l.7 .7l1.4-.4l.7 .7l1.4-1.2l2.1-10.1l.7 0l1.4 8.9l.7 1.9l.7-.5l.7 1.2l.7-4.6l.7 1l.7-2.5l1.4-.4l.7-1.5l1.4-12.8l.7-.7l2.1 14.6l.7 .5l.7 2.5l.7-.7l2.1-.7l1.4-11.5l1.4-23l.7 1.7l1.4 27.7l.7 5l.7 1.3l.7-1l.7 .5l1.4-11.9l2.1-43.6l.7 2.2l1.4 38.4l1.4 13.9l.7 .7l.7-1.5l.7 .8l1.4 .1l1.4-1.2l2.1 1.5l.7-1l1.4-24.1l2.1-146.2l.7 0l1.4 130.7l1.4 35.5l2.1-20.2l.7 .9l1.4 17.7l1.4-15.6l.7 0l1.4 16.5l1.4 6.5l1.4-2l.7 1.9l1.4-2l.7 .8l.7 4.5l3.5 .4l1.4-7.6l1.4-22l.7 0l1.4 21l1.4 8.3l.7 .9l1.4 .2l.7-.8l.7 .5l2.1-.5l.7 .5l1.4-.4l.7 .4l.7-.7l2.1-12.4l.7 0l2.1 11.6l.7 .5l.7-.2l.7 .9l1.4-.3l2.1 1.2l3.5-1.4l.7 .6l2.8 .1l.7 .6l2.1-.1l1.4-1.5l2.1 1.2l4.9-1l1.4 1.2l1.4-.1l2.1-1.4l1.4-4.7l.7-.2l2.8 6l4.2-.8l2.1 .9l1.4 0l1.4-1l1.4 .1l2.1 1.4l2.8-1.4l2.1 .7l3.5-.2l.7 .5l3.5-1.3l.7 .6l2.1-14.7l2.1 14.9l2.1 .9l2.8-.6l2.1 .3l.7-.6l2.1 .5l.7-.6l2.1 .8l2.8 0l1.4-1.6l2.1-9.8l.7 .5l1.4 8.7l2.8 2.6l.7-1.4l1.4-.2l2.8 .6l1.4-.6l2.8 .9l1.4-.5l1.4 .2l.7 .9l2.1-7.7l.7 0l1.4 5.4l1.4 1.5l2.8-.8l2.1 .9l.7-.5l2.1-.1l1.4 .7l1.4-.9l.7 .4l1.4-.3l.7 1.1l1.4 .1l1.4-1.1l.7 .8l.7-1.1l2.1 1.2l.7-6l1.4-1.5l.7 0l.7 2.1l.7-.4l2.8-17.5l.7 0l1.4 10.7l2.1-41.7l.7 0l2.1 38.4l1.4 10.9l.7 .3l2.1-6.6l.7 0l1.4 6.1l.7-.9l.7 2.1l.7-1.7l2.1-.6l.7 .1l.7 2.5l3.5-2.6l.7 .1l.7-1.2l.7 2.6l1.4-3.4l2.1-37.1l2.1 37.1l.7 1l.7-.5l1.4 2.7l.7-1.9l.7 2.2l1.4-3.9l1.4-7.7l.7 0l2.1 10.5l.7-1.3l.7 .5l.7-.8l.7 .3l.7 3l.7 .2l.7-3.5l.7 2.8l1.4 .1l.7-1.4l.7 .4l.7-1.6l1.4 1.9l.7-.6l.7 1.1l.7-1.6l.7 .2l.7-.5l.7 2.6l.7-3l.7-.7l.7 2.9l.7-1.2l.7 2.1l.7 0l.7-3.4l.7 .1l.7 1.4l1.4-4.8l.7-.7l.7 .7l.7 2.7l1.4 1.3l.7 2.4l1.4-3.4l.7 3.5l.7 .3l1.4-2.7l.7 2.6l1.4-3.3l.7 5.9l.7 1.2l.7-.2l1.4 .6l1.4-1.1l.7 .9l2.8-.7l1.4 .7l1.4-.6l1.4 .7l3.5-1.1l.7 1.1l1.4-.5l1.4 .6l1.4-1.4l2.1 .8l2.1-.4l.7-.9l.7 1l1.4 .2l.7-1l1.4-.1l.7 1.1l.7-.9l.7 .7l.7-.6l1.4 .8l1.4-.8l3.5 .6l.7 .5l2.8-.9l.7 .5l2.8-.3l1.4 1l2.8-1.2l.7-1.5l1.4-19.7l.7-1.5l1.4 17.4l.7 4.8l.7 1l3.5-.4l1.4 1l2.1-1l.7 .7l3.5-.5l2.1 .8l1.4-.1l.7 .7l1.4-1l.7 .4l.7-.8l1.4 1.2l.7-.7l.7 .7l2.8-.9l2.8-3.9l3.5 4.1l3.5-.8l1.4 .4l1.4-.8l.7 1.1l2.1-.7l3.5 1.1l1.4-1l.7 .8l.7-.5l1.4 .6l1.4-.5l3.5 0l.7 .8l1.4-.6l1.4 .3l.7-.6l.7 .7l1.4-.9l3.5 .3l1.4-.6l3.5 1.8l.7-1.1L1192.6 2123.6Z" fill="#666"/><path d="M688.6 2123.6l0-2.5l3.5 1.3l2.1-.9l1.4 .2l2.8-1.3l4.2 1.4l6.3-.2l.7-.4l3.5 .8l1.4-.8l.7-8.3l.7-1.3l.7 5l.7 0l.7-5.1l.7-1.6l2.1-22.5l.7-.5l.7-11.7l.7-1.3l2.8 40l.7-4.1l.7 1.3l.7-1.6l.7 6.9l.7-6.8l.7 2.4l.7 10l1.4-3.3l1.4-8l.7 .5l.7 2.7l.7 5.1l1.4 3l.7 .5l.7-.9l1.4 .3l2.8-.6l.7 .6l1.4 .1l2.1-1.1l2.1 .9l4.2-.4l3.5 .6l.7-.8l1.4-7.6l1.4-29.2l.7-2.5l1.4 29.3l1.4 9.7l.7 .3l.7-.4l2.1 1l5.6-.4l.7 .2l.7-.6l2.8 .7l2.1-.4l.7-1.9l1.4-.8l1.4 2.7l2.1 .5l.7-4.7l.7-.7l.7 2.2l.7-2.7l.7 .3l.7 1.6l.7 0l.7-3.7l1.4 2.3l.7-.4l1.4 3.5l1.4 .4l.7-3.9l.7 3.6l.7-2.4l.7 2.1l2.1-12.6l1.4 8.2l.7 1.9l.7-.5l.7 3.4l.7-1.3l.7 .3l.7-2.1l.7 1.2l2.1-19.8l.7 2.7l1.4 15.7l.7 .4l.7 2.9l.7-2l1.4-1.7l1.4 2.1l1.4-.8l.7 2.1l1.4-1.1l.7-1.9l.7 2.2l1.4-16.4l1.4-46.6l.7 3.1l1.4 48.2l.7 8.8l.7 .8l.7-.9l1.4-3.8l.7 .1l.7 4l.7 .3l1.4-4.8l.7 .8l1.4 5.9l.7-.9l.7 1.7l1.4-1.3l1.4 2l.7-.3l1.4 1.8l3.5 .8l.7-.2l.7-2l1.4-8.6l.7 0l2.1 10.2l2.8 1l.7-.6l2.1-.4l1.4 .6l1.4-.5l1.4 .8l.7-.6l1.4-4.4l.7 .1l1.4 3.5l1.4-.2l1.4 .8l3.5 .7l2.1-.7l.7 .5l.7-.5l.7 .6l2.1-.6l2.8 .5l2.8-1.2l.7 .9l4.9-.4l2.1 .8l.7-.3l.7 .6l1.4-.8l.7 .3l1.4-1.7l.7-.1l2.1 1.4l1.4 .2l2.8-.6l2.8 1l4.2-.8l2.1 .7l4.9-.7l4.9 .9l2.8-1.2l1.4 .1l.7-3.5l.7-.6l2.1 5.1l6.3-.4l.7 .4l1.4-.8l4.2 .6l2.8 .4l2.1-1.1l1.4-3l.7 .5l.7 2l3.5 1.5l1.4-.9l4.9-.1l1.4 .8l.7-.5l2.8-.3l2.1 1.3l1.4-2.8l.7 0l1.4 2.4l.7-.6l1.4 .6l2.1-.8l1.4 .6l1.4-.5l6.3-.2l2.1 1.5l2.1-1.2l2.1-.3l1.4 .6l.7-3l.7-1.3l.7 1.1l.7-2.7l.7-.2l.7 2.2l.7-2.3l.7 .6l2.1-2.8l.7 3.3l1.4-.8l1.4-13.5l.7 .8l2.1 12.7l.7-.6l.7 .6l.7 3.4l.7-2l.7 1.2l2.1-.2l2.1-1.9l1.4 3.3l.7-1.5l.7 1l2.1-3.8l.7 3.4l.7-2.3l1.4-1.8l.7 3.3l.7-.6l.7 2.3l1.4-4.7l.7 1.3l1.4-12.2l1.4 11.9l.7 2l.7-1.6l.7 2.4l.7-2.2l1.4 .4l1.4 2.2l.7-2.9l.7-.9l.7 .9l.7-.4l.7 2.4l.7-1l.7 2.2l.7-4.6l.7 .7l.7-.8l.7 2.8l.7 .2l1.4-2.5l.7 1.1l.7-.7l.7 3.5l.7-4.3l.7 2.3l1.4-.3l1.4 2.1l.7-.1l.7-1.5l.7 .4l.7-2l.7 3.7l1.4-1.5l.7 1.5l.7-2.8l.7-.7l1.4 3.5l.7-3.6l.7 .7l.7-.3l.7 1.7l.7 .4l1.4-3.2l.7 1.4l1.4-.9l.7 3.2l.7-3.3l.7 1.5l.7-1.5l.7 1.9l.7-1.4l1.4 2l.7-1.8l.7 5l.7 .6l2.8 .1l.7-.5l1.4 .7l2.1-.4l.7 .5l7-.6l1.4 .8l.7-.9l1.4 .6l1.4-1l3.5 .7l1.4-.9l1.4 .5l2.8-.6l2.1 .7l.7-.4l3.5-.1l.7 .5l.7-.5l1.4 .4l1.4 .4l2.1-.5l.7 .5l2.1-.6l3.5 .7l2.1-.9l.7-1.5l.7-4.8l.7-1.1l1.4 6.9l2.1 1l.7-.3l3.5 .6l7-.4l3.5 1l2.8-.8l1.4 .7l1.4-.2l.7 .5l4.9-1.8l1.4 .9l1.4-.5l2.8 .6l1.4-.8l8.4 1l2.1-.6l11.2 .6l.7-.4l1.4 .3l.7-.8l6.3 .4l2.1 1.1l.7-.6L1192.6 2123.6Z" fill="#333"/>
<line x1="681.0" y1="2124.2" x2="1192.7" y2="2124.2" stroke="#222" stroke-width="1.8"/>
<line x1="687.6" y1="1910.0" x2="687.6" y2="2124.6" stroke="#111" stroke-width="1.5"/>
<line x1="681.0" y1="1910.0" x2="687.6" y2="1910.0" stroke="#111" stroke-width="1.5"/>
<text x="651.4" y="1914.4" font-size="22.5" font-weight="bold" textLength="24.0" lengthAdjust="spacingAndGlyphs">50</text>
<text x="664.3" y="2128.6" font-size="22.5" font-weight="bold">0</text>
<path d="M687.6,2138.3V2133.5H1192.7V2138.3" fill="none" stroke="#111" stroke-width="1.5"/>
<text x="684.7" y="2155.6" font-size="22.5" font-weight="bold" textLength="44.3" lengthAdjust="spacingAndGlyphs">0.28</text>
<text x="826.9" y="2155.6" font-size="22.5" font-weight="bold" textLength="226.1" lengthAdjust="spacingAndGlyphs">Chromosome 6 (Mb)</text>
<text x="1147.6" y="2155.6" font-size="22.5" font-weight="bold" textLength="44.3" lengthAdjust="spacingAndGlyphs">0.46</text>
<text x="28.8" y="2302.2" font-size="35.5" font-weight="bold" textLength="22.4" lengthAdjust="spacingAndGlyphs">e</text>
<path d="M100.0,2374.2V2342.3H106.0" fill="none" stroke="#000" stroke-width="2"/><path d="M124.6,2342.1L103.9,2330.5L107.3,2342.1L103.9,2354.2Z" fill="#000"/>
<text x="128.0" y="2351.8" font-size="26.5" font-weight="bold" font-style="italic">POU2AF1</text>
<line x1="100.0" y1="2365.2" x2="574.6" y2="2365.2" stroke="#000" stroke-width="2.6"/><line x1="100.8" y1="2356.4" x2="100.8" y2="2373.6" stroke="#000" stroke-width="1.6"/><line x1="126.0" y1="2356.4" x2="126.0" y2="2373.6" stroke="#000" stroke-width="1.6"/><line x1="194.7" y1="2356.4" x2="194.7" y2="2373.6" stroke="#000" stroke-width="1.6"/><line x1="334.0" y1="2356.4" x2="334.0" y2="2373.6" stroke="#000" stroke-width="1.6"/><line x1="350.5" y1="2356.4" x2="350.5" y2="2373.6" stroke="#000" stroke-width="1.6"/><line x1="359.0" y1="2356.4" x2="359.0" y2="2373.6" stroke="#000" stroke-width="1.6"/><line x1="364.6" y1="2356.4" x2="364.6" y2="2373.6" stroke="#000" stroke-width="1.6"/><line x1="368.5" y1="2356.4" x2="368.5" y2="2373.6" stroke="#000" stroke-width="1.6"/><line x1="450.5" y1="2356.4" x2="450.5" y2="2373.6" stroke="#000" stroke-width="1.6"/><line x1="457.4" y1="2356.4" x2="457.4" y2="2373.6" stroke="#000" stroke-width="1.6"/><line x1="520.0" y1="2356.4" x2="520.0" y2="2373.6" stroke="#000" stroke-width="1.6"/><line x1="523.9" y1="2356.4" x2="523.9" y2="2373.6" stroke="#000" stroke-width="1.6"/><line x1="542.2" y1="2356.4" x2="542.2" y2="2373.6" stroke="#000" stroke-width="1.6"/><line x1="545.2" y1="2356.4" x2="545.2" y2="2373.6" stroke="#000" stroke-width="1.6"/><line x1="549.8" y1="2356.4" x2="549.8" y2="2373.6" stroke="#000" stroke-width="1.6"/><rect x="418.00" y="2356.40" width="7.70" height="17.20" fill="#000"/><rect x="564.30" y="2356.40" width="10.30" height="17.20" fill="#000"/><rect x="363.60" y="2356.40" width="3.00" height="17.20" fill="#000"/>
<text x="70.8" y="2403.4" font-size="19.6" font-weight="bold" text-anchor="end">SA</text>
<text x="70.6" y="2422.6" font-size="19.6" font-weight="bold" text-anchor="end" textLength="55.1" lengthAdjust="spacingAndGlyphs">peaks</text>
<rect x="139.40" y="2390.80" width="170.60" height="8.70" fill="#000"/>
<rect x="484.20" y="2390.80" width="20.60" height="8.70" fill="#000"/>
<rect x="101.23" y="2411.00" width="2.20" height="7.60" fill="#000"/><rect x="121.85" y="2411.00" width="2.20" height="7.60" fill="#000"/><rect x="139.41" y="2411.00" width="2.20" height="7.60" fill="#000"/><rect x="171.82" y="2411.00" width="3.82" height="7.60" fill="#000"/><rect x="184.85" y="2411.00" width="2.20" height="7.60" fill="#000"/><rect x="219.59" y="2411.00" width="2.20" height="7.60" fill="#000"/><rect x="247.85" y="2411.00" width="2.20" height="7.60" fill="#000"/><rect x="260.83" y="2411.00" width="2.20" height="7.60" fill="#000"/><rect x="271.86" y="2411.00" width="3.82" height="7.60" fill="#000"/><rect x="287.18" y="2411.00" width="2.20" height="7.60" fill="#000"/><rect x="307.41" y="2411.00" width="2.20" height="7.60" fill="#000"/><rect x="355.91" y="2411.00" width="2.20" height="7.60" fill="#000"/><rect x="359.72" y="2411.00" width="2.20" height="7.60" fill="#000"/><rect x="385.31" y="2411.00" width="2.20" height="7.60" fill="#000"/><rect x="391.03" y="2411.00" width="2.20" height="7.60" fill="#000"/><rect x="404.73" y="2411.00" width="3.05" height="7.60" fill="#000"/><rect x="410.51" y="2411.00" width="2.20" height="7.60" fill="#000"/><rect x="446.74" y="2411.00" width="5.73" height="7.60" fill="#000"/><rect x="460.91" y="2411.00" width="2.20" height="7.60" fill="#000"/><rect x="484.15" y="2411.00" width="2.67" height="7.60" fill="#000"/><rect x="501.00" y="2411.00" width="2.20" height="7.60" fill="#000"/><rect x="518.18" y="2411.00" width="2.20" height="7.60" fill="#000"/><rect x="527.73" y="2411.00" width="2.20" height="7.60" fill="#000"/><rect x="540.33" y="2411.00" width="2.20" height="7.60" fill="#000"/>
<rect x="82.10" y="2435.00" width="506.00" height="211.60" fill="#fbfbfb"/>
<path d="M83.0 2646.0l0-4.8l.7-.4l1.4 .6l1.4-1.4l2.1 .9l1.4-.7l1.4 1.7l1.4 .3l.7-2.5l.7 2.2l1.4-2l.7 1.5l.7-1.6l1.4 .6l.7-1.3l.7-4.2l.7-13.9l1.4-81l.7 0l1.4 78l1.4 21.9l1.4 2l.7 .2l.7-1.9l1.4 2l1.4-.8l.7 .2l.7-1.2l.7-.1l1.4 1.9l.7-1.7l.7 .5l.7-.6l.7-.1l1.4 1.6l.7-3.4l1.4-30.3l1.4-63.2l1.4 63.2l1.4 30.3l.7 3l.7-1.4l2.1-.9l.7 1.4l2.1-.2l.7 2.6l1.4-1.8l.7-.1l.7-1.4l.7 .1l.7 1.2l.7-1.9l.7-5.8l.7-17.8l1.4-115.5l.7 0l1.4 111.4l.7 20.2l1.4 11.8l1.4-1.1l.7-2.2l.7 2.3l.7-1.4l.7 1.4l.7-1.8l.7-.1l.7 1.3l.7-2.1l.7-.3l1.4-29.4l.7 0l2.1 32l.7-2.3l.7 1.6l.7-2.4l1.4 3.9l.7 .3l.7-.6l.7-2.4l.7 .8l1.4-1.5l2.1-9.8l1.4-13.4l1.4-24.7l1.4-44.9l.7-6.6l.7-93.7l.7-10.3l2.1 169.8l.7 18.1l1.4 10l1.4 5.5l1.4 3l1.4-1.4l.7 1.5l.7-3.1l.7 .3l.7-4.3l.7-14.8l2.1-175.6l.7 12.2l1.4 156.1l.7 19.1l1.4 10l.7-1.5l.7 .8l.7-.2l.7-2.9l.7 3.2l.7-1.1l1.4 2.2l1.4 .1l.7-1.9l.7-.6l.7 .5l1.4-1.7l.7 1.9l.7-1.7l.7 1.5l1.4-1.3l1.4 3.4l.7-3.6l1.4 2.7l.7-.8l1.4 .6l.7-2.2l1.4 3l1.4-.8l.7 .6l1.4-1.4l1.4 .9l1.4-10.7l.7-16.4l1.4-55l.7 4.5l.7 43.1l1.4 29.9l2.1 3.9l.7-1.7l.7 2.2l1.4-1.8l2.1 2.3l.7-1l.7 .4l.7-.6l.7-2.4l.7 3.4l.7-.1l.7-2.7l.7 .2l.7 2.4l.7-.4l.7-2.1l.7 2.7l.7-2l.7 2.4l2.1-3.6l.7 3.4l.7-1l.7 1l.7-1.7l.7 .4l1.4-22.4l.7-38.4l1.4-150.3l.7 13.1l1.4 167.8l1.4 29l2.1 2.2l1.4-1.7l1.4-.1l.7 1.8l.7-1.9l.7 .2l.7 1.5l.7-3.3l.7 3.4l.7-1.4l1.4 1.6l.7-2.2l.7 .5l.7-.7l1.4-.2l.7-4l2.1-33.3l1.4-70l.7-12.3l.7-60l.7 0l1.4 132.9l1.4 40l1.4 9.1l1.4-1.8l.7 2.8l1.4-2.9l.7 2.2l2.1-2.2l1.4 2.3l1.4-13l1.4-39.4l.7 0l.7 29.6l1.4 21.2l2.1-.9l.7 1.6l.7-2.2l1.4 3.3l.7-1.4l.7-.3l.7 .4l.7-1.7l.7 1.7l.7-.1l2.1-2.8l2.1 3.6l.7-2.1l.7 0l.7-2.2l.7-11.8l1.4-45.9l.7 4l.7 36.2l1.4 20.6l.7-1l.7 2.6l2.1-2.4l.7 1.6l.7-2.1l.7 .3l.7-1.4l.7 2.7l.7-2.1l.7 1.6l.7 .3l.7-.9l.7 1.9l.7-1l.7 1.3l.7-2.2l2.8 3.5l.7-.5l.7-2.2l1.4 .7l.7-1.5l.7 1.2l.7-1.5l.7 1.8l.7-1.6l.7 2.6l.7-.6l.7 .2l.7 .1l.7 1.4l1.4-1.9l1.4 .4l.7-1.6l.7 1.6l.7-1l.7 .2l1.4 2l1.4-2.9l.7 .5l1.4-1.3l.7 2.3l2.1-21.9l.7 0l1.4 18.6l.7 2.3l.7-1.3l.7-.1l.7 3l.7-2.2l.7 1.9l1.4-1.9l.7 1.1l.7-2.5l.7 2.7l.7-2.9l.7 2l.7-.4l.7 .3l.7 1.7l.7-2.1l1.4 .5l1.4-1.4l1.4 .6l1.4 1.9l.7-1.9l.7 .6l.7-.8l.7 3.2l.7-2.8l.7 1.9l2.8-2.1l2.8 3.2l.7-3.6l1.4 0l.7 3.4l1.4-4.2l.7 1.7l.7 0l.7-1.2l.7 .1l.7 1.8l1.4 1.4l.7-.1l1.4-17.5l1.4-79.9l.7 0l1.4 77.1l1.4 19.6l1.4-3.2l.7 .7l.7 2.5l.7 .5l.7-2.6l.7-.1l1.4 2.3l.7-1l1.4-6l1.4-49.8l.7 0l2.1 54.2l2.1 1.4l.7-6.3l1.4-44.3l.7 0l1.4 42.7l.7 7.8l1.4-.1l.7 2.5l.7-2.3l.7 .5l.7-.3l.7 .8l1.4-.3l.7 1l.7-1.4l.7 .2l1.4 1.4l.7-1.8l.7 1.8l.7-1l.7 1.2l1.4-3.8l.7 1.8l2.1 0l.7 .7l.7-.7l.7 2.1l.7-2.2l.7 2l1.4-1.5l.7 1.3l.7-1l.7 1.1l.7-1.1l1.4 .3l.7-2.1l.7 1.2l2.1-9.8l1.4-15.2l1.4-30.7l1.4-62l.7-3.1l1.4-84l2.8 171.3l1.4 25.2l1.4 8.8l.7-.7l.7 1.7l.7 .3l.7-.9l.7-1.6l.7-7.3l1.4-53.5l.7-59.3l.7 0l1.4 92.7l1.4 26.7l.7-.1l.7 3l.7-2.6l.7 1.8l.7-2.5l.7 2l.7-1.6l.7 0l1.4 2.7l.7-.6l1.4 .3l.7 .9l1.4-2.3l.7 2.5l.7-2.5l2.1 .9l1.4-.9l.7 1.1l1.4-16l.7-22.9l1.4-151.8l.7-10.8l1.4 131.7l.7 39.3l1.4 27.2l.7 4l.7-2.5l.7 1.4l.7-.1l.7 1.8l.7-1.6l.7 .4l2.1-2.5l.7 1.4l.7-.9l1.4 1.6l1.4-14.7l1.4-36.5l.7 0l1.4 41.5l1.4 10.9l.7-.4l.7-1.8l.7 2.9l.7-.8l.7-2.8l.7-.4l1.4 1.8l1.4-1.9l.7 2.2l.7-.8l.7 .1l.7 1.1l1.4-1.7l2.1-39.9l.7 0l.7 24.3l1.4 17.4l.7-.9l.7 .9l.7-.6l.7 1.3l1.4-2.6l1.4-31.8l1.4-172l.7 0l1.4 166.4l.7 26.9l.7 10.3l.7 2.7l.7-2.3l.7 2.6l1.4-1.3l.7-2.4l1.4-13.4l.7-14.2l.7-1.3l2.1 25.6l1.4 6.3l.7-.4l.7 1.9l.7-2.7l1.4 .1l.7 1l1.4 .1l.7-1.7l.7 1.4l1.4-1.9l1.4-10l1.4-19.7l.7 0l1.4 23l.7 5.3l.7 2.9l.7 .9l.7 .5l.7-2l1.4 0l.7 1.9l.7-2.5l.7 2.6l.7 .6l.7-2.6l1.4 .8l1.4-8.4l1.4-23l.7 0l1.4 19.7l1.4 10.6l1.4 0l.7 2.6l.7-2.9l.7 .2l.7 1.8l.7 0l1.4-1.9l.7 2.3l.7-1.6l1.4 .7l.7-1.8l.7 .1l.7 1.5l1.4-.7l.7 2.2l.7-.8l.7-1.1L587.7 2646.0Z" fill="#ebebeb"/><path d="M83.0 2646.0l0-4l1.4 1.4l4.2-.7l2.8 .8l.7-.4l.7 .6l.7-.6l.7 .4l.7-.7l1.4-.1l1.4 1.3l.7-.4l1.4-5.9l.7-7.3l1.4-32.4l.7 0l1.4 30.9l.7 8l1.4 6.1l1.4 1l.7-.4l.7 .6l1.4-1.2l.7 .9l2.1-.1l2.1-.9l1.4 1l.7-1.3l1.4 .4l1.4-7.5l2.1-31.7l2.1 31.7l1.4 7.5l2.1-.6l.7 .7l2.1 .3l.7-.3l.7 .7l.7-.6l2.8 .2l.7-1l1.4-10.4l.7-13.7l1.4-66l.7 0l2.1 78.3l1.4 11.5l.7 1.7l.7 .4l.7-1.2l.7 .5l3.5-.5l.7 .6l.7-.8l.7-3.2l.7-5.6l.7 0l2.1 9.8l.7-1l3.5 1l1.4-.6l2.1-2.5l1.4-3.2l2.1-8.7l2.1-17.4l.7-12.3l1.4-92.8l.7-5.6l2.8 122l1.4 14.8l2.1 4.3l2.1 2.1l1.4-1.3l1.4-7.4l1.4-31.6l1.4-64.7l.7 5.1l1.4 75.9l.7 12.9l1.4 9.8l1.4 .5l1.4-.6l1.4 1.3l2.8 .1l.7-1l.7 .5l2.1-1l.7 1.1l.7-.5l3.5 .7l2.1-.4l2.1 .6l.7-.7l2.1 .5l1.4-.6l.7 .9l1.4-1l.7 .1l1.4-6.3l2.1-27.2l.7 1.5l1.4 24.1l1.4 7.4l2.8 .7l.7-.6l2.1 .7l1.4-.1l.7-.9l.7-.1l1.4 1l1.4-.8l2.1 .9l3.5 .3l1.4-.8l1.4 .6l1.4-.3l1.4-8.3l.7-10.9l2.1-88.1l.7 5.2l1.4 78.1l.7 13.3l1.4 10l.7 .9l.7-.7l.7 1l.7-.8l3.5 .4l1.4-1.4l1.4 1.4l.7-.6l2.8 .9l1.4-2.6l1.4-5.6l1.4-11.8l2.1-32.9l.7-23.2l.7 0l2.1 61.3l1.4 11.4l1.4 3.4l4.9-.6l1.4 1l.7-.8l1.4-6.9l1.4-15.3l.7 0l.7 11.1l1.4 9.9l.7 .4l.7-.8l2.8 1.7l1.4-.1l.7-.7l.7 .8l1.4 .2l.7 0l.7-1l.7 .4l.7-.9l2.8 1.5l.7-.7l.7-3.1l2.1-25.2l.7 1.5l1.4 22.3l1.4 5.4l.7-.4l.7 .4l1.4-.8l.7 .3l2.1-.8l.7 .7l2.8 .6l2.8-.6l2.8 1.2l2.8-1.8l2.1 .6l.7-.5l2.8 1.4l.7-.3l.7 .4l4.2-1l1.4 1l2.1 .1l1.4-1.5l2.1 .6l.7-.6l1.4-4.7l.7 0l1.4 5l2.1-.3l.7 1.2l1.4-1.2l2.1 .1l.7-.6l1.4-.1l2.1 1l2.1-.7l2.8 .7l1.4-.9l.7 .8l2.1-.3l.7 .9l3.5-.8l3.5 1l1.4-.5l1.4 .4l1.4-1l1.4 1.1l.7-1l2.1 .8l1.4-.4l1.4-8l1.4-25.6l.7 0l1.4 24.5l1.4 8.9l.7 .5l.7-1l1.4 .7l2.8 .1l2.1-1.5l1.4-12.3l.7-14.5l.7 0l1.4 19.9l1.4 8.1l.7 .2l.7-.9l.7-3.7l1.4-17.6l.7 0l2.1 20.9l.7 2l2.1-.2l.7-.9l.7 .3l.7 .6l2.8-1l1.4 .1l2.8 .3l.7 .8l1.4-1.1l.7 .5l3.5 .2l1.4-.6l1.4 .2l.7 .8l2.1-.5l.7 .6l.7-7.9l.7-2l.7 .4l1.4 3.7l1.4-3.8l2.1-14.8l2.1-33.4l1.4-75l.7-12.4l.7 12.4l2.1 95.3l1.4 22.1l1.4 7.8l.7-.3l.7 1l.7-.8l.7 1.3l.7-1l.7-3.8l2.1-63.3l.7 0l1.4 49.3l.7 12.7l.7 4.1l.7-.4l.7 2.8l.7-3.2l.7 1.7l.7-1.7l.7 8.8l.7-1l.7 .5l2.1-.5l2.1 1.2l1.4-.8l1.4 .9l.7-.9l2.1 .9l.7-.9l1.4-6.4l1.4-20.8l1.4-67.1l.7-4.1l2.1 75.9l.7 11.3l1.4 9.8l1.4 2.4l.7-.4l.7 .3l.7-.9l.7 .4l2.1-.6l2.1 .1l.7-.9l1.4-7.9l1.4-15.1l.7 0l1.4 17.6l.7 3.9l1.4 3.5l.7-1l.7 .7l1.4-1.1l2.1 1.2l1.4-1l1.4 1l1.4-.6l.7 .4l1.4-5.8l1.4-12.8l.7 0l.7 9.3l1.4 8.4l.7 1.2l1.4-.9l.7 1.3l1.4-.9l1.4-6.7l1.4-26l.7 0l1.4 24.9l.7 4.5l2.1 .3l.7 1.3l.7 .2l1.4-1.6l.7 0l1.4-5l.7-.3l2.1 6.8l.7-.7l.7 1.1l2.1-1.9l.7 1.9l1.4-1l.7 1l1.4-.8l.7-1.3l1.4 .8l.7-.3l.7-.4l1.4-3.2l.7 0l.7 2.8l2.1 1.7l.7-1.1l2.1 1.1l.7-1.4l1.4 1.7l.7-1.6l1.4 .8l.7 1.2l.7-1.8l1.4 1.2l1.4-3.6l.7 0l2.8 4l.7-1.2l1.4 1.1l.7-1l2.1 1l.7-1.2l.7 .2l.7 1.3l.7-1.2l.7 .5l.7-.6l.7 1l.7-1.6l.7 1.9l1.4-.7l.7 .3l.7-1.1l.7 1.4L587.7 2646.0Z" fill="#666"/><path d="M83.0 2646.0l0-2.9l2.1 .9l11.2-.2l1.4 .7l1.4-.5l.7-.8l.7-2.8l1.4-13.7l.7 1.2l1.4 12.6l1.4 4l.7-.6l1.4 .7l4.2-.2l2.8-.8l2.1 .7l.7-.6l2.1 .5l1.4-4.7l.7-8.3l.7-2.4l1.4 10.2l1.4 4.7l2.1-.4l6.3 1.1l1.4 0l1.4-1.2l.7 .3l1.4-6.8l1.4-24.7l.7-.7l1.4 23.6l.7 6.3l1.4 3.6l2.1-.9l3.5-.2l2.1 .5l.7-.7l.7-2.3l.7 .3l1.4 2.9l2.1-.9l2.1 1l4.2-.2l2.1-2.1l1.4-2.4l1.4-3.6l1.4-8.4l2.1-42.3l2.1 47.5l1.4 8.8l2.1 2.5l2.1 .7l2.1-1.3l.7 .1l1.4-4.4l2.1-34.2l.7 1.5l1.4 30.2l.7 4.8l.7 1.8l.7 .4l1.4 .3l1.4-.5l1.4 1l6.3-1.2l2.1 .9l3.5-.5l3.5 .3l.7-.6l4.2 .8l2.8-.5l1.4-3.8l1.4-8.2l.7 0l.7 7l1.4 4.5l1.4 .5l4.9 0l2.8-.5l2.1 .7l1.4-1l3.5 1.3l1.4 0l.7-.7l2.1 .6l2.1-.2l1.4-5l.7-7.9l1.4-29l.7 4.3l1.4 31.2l1.4 6.3l2.1-.4l.7 1l.7-.6l4.2-.4l.7-.7l4.2 1.5l2.8-.8l1.4-2.4l2.1-13.5l.7-.7l.7-10.8l.7 .7l1.4 18.7l.7 4.6l1.4 4.1l2.8-.4l.7 .6l1.4-.6l.7 .5l3.5-.2l2.1-8.4l.7 .9l1.4 6.6l1.4 .1l.7-.6l2.1 1.1l2.8-.4l1.4 .4l3.5-.9l3.5 1.1l.7-.3l.7-2.5l1.4-7.2l.7-.2l.7 7.1l1.4 3.1l2.1 .1l3.5-.9l4.2 1l2.8-.6l2.8 1.1l3.5-1.4l1.4 .5l1.4-.3l2.1 1.1l4.9-.7l4.2 .7l1.4-1l2.1 .2l.7 .5l1.4-1.8l.7 0l.7 1.3l2.8-.1l.7 .6l2.8-1l.7 .3l.7-.7l3.5 .5l3.5-.2l1.4 .5l1.4-.5l2.1 .3l1.4 .8l3.5-.6l2.8 .5l2.1-.3l1.4 .7l.7-.9l7 .1l.7-1.8l1.4-9.8l.7-.4l2.1 12.1l1.4 .1l.7-.7l2.1 .7l.7-.4l1.4 .2l2.8-.9l1.4-10l.7 1l2.1 9.6l1.4 .3l1.4-.6l1.4-7.6l.7 .6l1.4 6.7l.7 1.1l1.4 .6l2.8-.8l.7 .5l2.8-1l4.9 .9l.7-.7l3.5 0l.7 .6l3.5-.6l.7 .8l2.8 .3l1.4-8.3l.7 3.7l1.4-1.8l1.4 2.7l.7-2.7l.7-1.4l.7-.1l2.1-12.7l2.1-35.7l2.8 44.7l2.8 6.3l.7-1.2l.7 1.4l.7-.7l.7 2l1.4-5.1l.7 2.1l1.4-22.4l.7-1.2l1.4 21.6l.7 1.5l1.4 2l1.4-1.1l.7-2.5l.7-.3l.7 8.7l3.5-.8l1.4 .9l1.4-.5l2.1 .5l2.1-.3l.7 .5l.7-.6l.7 .5l1.4-3.3l.7-4.5l1.4-25.5l.7-2.9l2.1 29.9l1.4 5.5l.7 .7l1.4 .1l8.4-.8l2.1-8.5l2.8 9l1.4 .2l2.8-.6l2.1 .8l1.4-.8l4.2 .5l2.8-6.7l1.4 6.1l1.4 .9l4.2-.2l1.4-5.4l.7-6.8l.7 .6l.7 5.7l1.4 4.5l.7 .1l2.1-1.8l1.4 .2l.7 1.8l1.4-2.5l.7 .6l.7-.5l2.1 2.8l.7-.2l.7-2.7l1.4 2.8l.7-1.3l.7 1.1l.7-1.7l.7 1.1l.7-1.3l.7 .8l1.4-1l.7 1.6l.7-1.2l.7 .8l3.5-.3l.7-1.1l.7 2.4l1.4-.6l1.4-1.8l2.1 2.5l1.4-2.5l.7 2.2l1.4-1.8l2.1 2l.7-2l.7 1.2l1.4 .7l.7-2l1.4 1.8l2.1-2l.7 2.1l.7 0l1.4-2.5l.7 1.8l.7-.8l1.4 1l1.4-1.8l1.4 2.4l1.4-.2l1.4-1.2l.7 .7l.7-2L587.7 2646.0Z" fill="#333"/>
<line x1="76.4" y1="2646.8" x2="588.0" y2="2646.8" stroke="#222" stroke-width="1.8"/>
<line x1="82.1" y1="2435.0" x2="82.1" y2="2647.0" stroke="#111" stroke-width="1.5"/>
<line x1="76.4" y1="2435.0" x2="82.1" y2="2435.0" stroke="#111" stroke-width="1.5"/>
<text x="45.8" y="2440.4" font-size="22.5" font-weight="bold">30</text>
<text x="59.2" y="2654.6" font-size="22.5" font-weight="bold">0</text>
<text x="65.7" y="2546.5" font-size="23.5" font-weight="bold" text-anchor="middle" textLength="152.7" lengthAdjust="spacingAndGlyphs" transform="rotate(-90 65.7 2546.5)">ATAC (RPPM)</text>
<path d="M82.9,2661.9V2655.4H588V2661.9" fill="none" stroke="#111" stroke-width="1.5"/>
<text x="84.0" y="2680.2" font-size="22.5" font-weight="bold" textLength="70.6" lengthAdjust="spacingAndGlyphs">111.33</text>
<text x="202.4" y="2680.2" font-size="22.5" font-weight="bold" textLength="239.8" lengthAdjust="spacingAndGlyphs">Chromosome 11 (Mb)</text>
<text x="522.3" y="2680.2" font-size="22.5" font-weight="bold" textLength="70.6" lengthAdjust="spacingAndGlyphs">111.22</text>
<text x="674.8" y="2322.0" font-size="35" font-weight="bold" textLength="13.4" lengthAdjust="spacingAndGlyphs">f</text>
<line x1="0.0" y1="-100.0" x2="0.0" y2="-100.0" stroke="#000" stroke-width="0"/><line x1="726.9" y1="2356.4" x2="726.9" y2="2374.0" stroke="#000" stroke-width="1.6"/><line x1="772.0" y1="2356.4" x2="772.0" y2="2374.0" stroke="#000" stroke-width="1.6"/><line x1="778.5" y1="2356.4" x2="778.5" y2="2374.0" stroke="#000" stroke-width="1.6"/><line x1="788.0" y1="2356.4" x2="788.0" y2="2374.0" stroke="#000" stroke-width="1.6"/><line x1="821.2" y1="2356.4" x2="821.2" y2="2374.0" stroke="#000" stroke-width="1.6"/><rect x="848.30" y="2356.40" width="22.90" height="17.60" fill="#000"/>
<path d="M945.3,2374.2V2342.3H951.3" fill="none" stroke="#000" stroke-width="2"/><path d="M969.9,2342.1L949.2,2330.5L952.6,2342.1L949.2,2354.2Z" fill="#000"/>
<text x="987.3" y="2351.8" font-size="26.5" font-weight="bold" font-style="italic">UBE2J1</text>
<line x1="945.3" y1="2365.2" x2="1110.6" y2="2365.2" stroke="#000" stroke-width="2.6"/><line x1="1002.6" y1="2356.4" x2="1002.6" y2="2374.0" stroke="#000" stroke-width="1.6"/><line x1="1011.4" y1="2356.4" x2="1011.4" y2="2374.0" stroke="#000" stroke-width="1.6"/><line x1="1037.0" y1="2356.4" x2="1037.0" y2="2374.0" stroke="#000" stroke-width="1.6"/><line x1="1056.0" y1="2356.4" x2="1056.0" y2="2374.0" stroke="#000" stroke-width="1.6"/><line x1="1070.5" y1="2356.4" x2="1070.5" y2="2374.0" stroke="#000" stroke-width="1.6"/><rect x="1090.40" y="2356.40" width="21.00" height="17.60" fill="#000"/>
<rect x="723.10" y="2392.00" width="194.70" height="7.50" fill="#000"/>
<rect x="723.09" y="2411.00" width="5.73" height="7.60" fill="#000"/><rect x="799.46" y="2411.00" width="3.82" height="7.60" fill="#000"/><rect x="818.55" y="2411.00" width="5.73" height="7.60" fill="#000"/><rect x="893.81" y="2411.00" width="2.20" height="7.60" fill="#000"/><rect x="913.24" y="2411.00" width="3.82" height="7.60" fill="#000"/><rect x="935.05" y="2411.00" width="2.20" height="7.60" fill="#000"/><rect x="942.64" y="2411.00" width="4.58" height="7.60" fill="#000"/><rect x="956.77" y="2411.00" width="3.82" height="7.60" fill="#000"/><rect x="1026.69" y="2411.00" width="2.20" height="7.60" fill="#000"/><rect x="1140.05" y="2411.00" width="3.05" height="7.60" fill="#000"/>
<rect x="709.00" y="2434.00" width="504.70" height="213.70" fill="#fbfbfb"/>
<path d="M710.0 2647.0l0-6.7l.7 1.7l1.4-1.5l.7 2.7l.7-2.8l.7 .2l1.4 2.4l.7-.4l.7-2.1l.7 3.4l.7-3.6l.7 2.9l.7-.3l.7 1.6l.7-.6l1.4-7.2l1.4-31.7l1.4-105l.7 0l1.4 100.6l.7 23.4l1.4 17.3l1.4 1.6l1.4-2.5l.7 2.5l.7-.6l.7 .6l.7-1.5l.7 .9l1.4-3.3l1.4-9l.7 0l2.1 11.4l1.4 1.9l.7-3l1.4 .4l.7 1.1l.7-1.7l1.4 2.9l1.4-.3l.7-1.1l.7 1.5l.7-1.4l1.4 .4l.7-.6l.7 1.6l.7-.6l.7 .3l.7-2.8l1.4 2.7l.7-1.5l1.4 .2l.7 1l.7-1.2l1.4 1.5l1.4-1.3l2.1 .2l.7-2l2.1 2.8l.7-1.4l1.4 2.6l2.1-3.4l.7 3.3l.7-1.5l.7 1.6l.7-2.8l.7 .3l.7 2.4l.7-1.5l.7 .4l1.4-.4l.7 .9l.7-1.4l.7 1.5l.7-2.6l.7 2.2l.7-2.8l.7 .4l.7 3.9l.7-3.6l1.4 .8l.7 2.2l.7-.2l.7-2l.7 .6l.7-2.6l.7 4.1l.7-3l.7 .1l.7 2.3l.7-1.5l.7 1.3l1.4-2.1l1.4-22.7l2.1-183.8l.7 0l1.4 157.4l.7 29.4l1.4 20.4l.7 1.2l.7-1.6l.7 .9l.7-.6l2.8 2.2l1.4-3.4l.7 2.6l2.1-1.9l.7 2.2l.7 .1l1.4-2.2l.7-3.4l1.4-21.6l2.1-115.7l.7 0l1.4 95.3l1.4 35.6l1.4 11.1l.7 1.7l.7-.1l.7-2.3l.7 1l.7-2.4l.7 3.1l.7-3.1l2.1 2.8l.7-2.4l.7 1.6l1.4-.8l.7 1.7l1.4-2.1l.7 .8l.7-1l.7 1.5l.7-3.5l1.4-18.5l.7 0l1.4 19.3l.7 2.9l1.4-5.8l1.4-26.4l.7 0l1.4 25.3l.7 5.7l.7 .8l2.1-.9l.7 1.4l.7-.7l.7 1.2l.7-2.2l.7 1.9l1.4 .3l.7-2.7l.7 3.2l.7-1.6l.7 .2l.7-2.2l1.4 3.2l.7-1.6l.7 0l.7 1.6l1.4-2.1l.7 1.5l.7 .1l.7-2l.7 1.1l.7-.8l1.4 3.3l.7-.8l.7-3l.7 3.3l.7-1.4l.7 1.6l.7-.3l1.4 .7l.7-2.4l1.4 2.6l1.4-2.4l.7 1.6l1.4-3l.7 3.1l.7-3.4l.7 2.5l.7-2.4l.7-.4l.7 2.2l.7-.2l.7-1.6l.7 2.1l.7-1l.7 2.7l.7-.1l.7-1.5l1.4-13.6l1.4-28.9l.7 2.3l.7 22.5l1.4 16.8l.7 1.3l.7-2.5l1.4 4.2l.7-3l.7 1.1l.7-1.2l.7 2.8l.7-2.8l2.1 1.3l.7-1.7l.7 2l1.4-1.3l.7 1.5l.7-2.8l1.4 1.2l.7-1.6l1.4-17.4l2.1-102.7l.7 6.2l1.4 91.1l1.4-27.3l.7 0l2.1 38.3l1.4 10.6l.7 2.6l.7-.8l.7 2l.7-1.9l.7-.4l.7 2l.7-1.9l1.4 1l.7-.9l.7 2.1l1.4-2.4l.7 1.7l.7-2.8l.7-11.1l1.4-43.1l.7 3.8l1.4 48.1l.7 3.2l2.8-9.2l.7-9l2.8-121.9l.7 5.4l.7 58l.7 16.6l3.5 41.8l2.1 11.8l1.4 3.5l1.4-13.1l2.1-39l.7 1.8l1.4 34.3l2.1 18.6l.7 1.8l.7-1.2l.7 .8l.7-.5l.7 2.6l1.4-1.2l.7 .9l.7-2.7l.7 2.5l.7-1.5l1.4 1.2l.7-.5l.7-1.1l.7-4.3l1.4-16.5l.7 0l1.4 15.6l1.4 7.4l.7-2.2l.7 2.1l2.1-1.2l.7-1.3l1.4 1.7l.7-1.3l.7-.1l.7 1.5l.7-1.2l.7 .1l.7 2.8l.7-2l.7 .9l.7-.4l.7 1.7l1.4-2.4l1.4 1.4l.7-1.6l.7 1.9l1.4-5.7l1.4-12.7l.7 0l1.4 13.4l1.4 3.7l1.4-.6l.7-1l.7 2.3l1.4 .1l.7-1.5l.7 .2l.7-.8l1.4 2.1l.7-.1l.7-2.8l2.1 2.7l.7-2.4l1.4 3l.7-1.9l.7 .5l.7-.4l.7 .8l.7-2l.7 2.4l1.4-1.8l.7 .6l1.4-.1l.7 2.6l.7 .1l2.1-5.5l1.4-15.7l.7-2.9l2.8 21.2l1.4 1.3l.7-2.3l1.4 .3l1.4 1.2l2.1-2.3l.7 3.5l.7-2.1l.7 2.2l1.4-1.5l1.4 1.7l.7-.9l.7 .6l.7-1l1.4 1.1l.7-1.8l1.4 1.2l.7-2.1l.7 2.2l.7-2.1l.7 3.8l1.4-3.3l.7 .5l.7 2.6l1.4-2.1l.7 1.9l1.4-3.5l.7 2.9l.7-1.7l.7 1l1.4-2l.7 .2l.7 2.5l.7-2.5l1.4 2.8l.7-2.4l.7 1.9l.7-2l1.4 2.2l.7-1.1l.7 1.4l.7-1.4l.7 1l2.1-2.3l.7 1.6l1.4-2.9l.7 3.1l.7-3.3l1.4 .7l.7 1.5l.7-.4l.7 1.1l.7-2l.7 3.3l.7-2.9l.7 .4l.7 1.6l.7 .2l.7-2.4l1.4 2.5l1.4 .2l.7-.6l.7 1.9l1.4-3.4l1.4 1.3l.7 1.7l1.4-3.2l.7 .1l.7 2.8l1.4-2.4l.7 1.6l.7-2.3l2.1 3.4l.7-4l1.4 3.7l.7-2.6l.7 .4l1.4-.8l.7 2.5l.7-.8l.7 1.6l.7-2.1l.7 .9l1.4-1.7l2.1-16.1l.7 0l1.4 14l.7 3.3l.7 .8l.7-2.6l1.4 3.1l.7-.7l.7 .6l.7-2.3l1.4 1.7l.7 .1l.7-3.3l.7 1.7l.7-.7l.7 3l2.1-3.2l.7 3.6l.7-3.7l.7 .1l.7 1.8l.7-2.3l.7 2.6l1.4-.9l.7 .5l.7-.3l1.4-1.5l.7 .2l1.4 3.2l.7-1.5l.7-.2l.7 1.6l1.4-3.2l.7 .9l1.4-31.4l.7 0l1.4 30.4l.7 2.5l.7-.5l.7 .6l.7-2.3l1.4 2.3l.7-1.5l.7 2.3l.7-.1l.7-2.5l.7-.2l.7-1.3l1.4 3.4l.7-.7l1.4 0l.7 1.1l1.4-1.8l1.4 .7l1.4-1.1l.7 2.1l.7-2l.7 .2l.7 1.2l1.4-2.6l1.4 2.4l1.4-2.8l.7 .1l.7 1.6l.7-.4l.7 1l2.1-2.2l1.4 2.1l2.1-2.2l1.4 2.4l.7-1l.7 .5l.7-1.6l.7 .8l.7 .1l.7-1.3l.7 0l1.4 2.9l1.4-.6l.7 1.7l.7-1.7l.7-.4l.7 1l1.4-2.2l.7 1l1.4 0l.7 3l.7-1.2l.7 .8l.7-1.7l1.4 1l.7-1.4l1.4 .3l.7-1.4l2.8 2.5l.7-1.6l.7 1.3l1.4-1.7l.7 1.6l.7-2.6l.7 2.3l1.4-3l.7 2l1.4-.2l1.4 2.4l.7-2.3l.7 .6L1213.3 2647.0Z" fill="#ebebeb"/><path d="M710.0 2647.0l0-2.7l.7 .6l1.4-1.2l2.8 1.2l2.1-.8l.7 .7l.7-.5l2.1 1l1.4-3.4l1.4-10.2l2.1-54.7l.7 0l2.1 53.5l.7 6.9l1.4 6.4l.7-.3l2.1 1.2l.7-.5l.7 .8l.7-1.2l.7-.2l.7 1l.7-.4l1.4-2.2l.7 0l2.1 2.4l.7-.8l.7 .7l2.8-1.2l.7 .9l2.8 0l.7 .5l3.5-.7l1.4 .8l1.4-1.1l2.8 1.1l.7-.9l.7 1.1l1.4-.2l.7-1.1l.7 .5l1.4-.6l.7 1.1l1.4-1l4.9 .9l1.4-.5l.7 .7l3.5 .2l.7 .7l1.4-.9l.7 .4l.7-1.1l2.1-.3l2.1 0l.7 1.1l1.4-.6l2.1 .8l1.4-.5l.7-1.1l2.8 1.3l1.4-1.2l1.4-7.9l1.4-25.4l2.1-136.1l.7 0l2.1 139.1l1.4 23.4l1.4 7.1l1.4 .3l.7-.5l.7 .7l.7-.4l.7 .5l1.4-.7l.7 .5l.7-.3l2.1 .7l1.4-1.3l.7-2.2l2.1-17.8l2.1-55.6l.7 0l2.1 57.1l1.4 13.4l1.4 5.4l1.4 1.4l1.4-1l.7 .7l.7-.6l1.4 .6l1.4-1.3l2.1 1.2l2.1-.7l1.4 .4l1.4-.8l1.4-5.3l.7 0l1.4 5.4l1.4 0l2.1-12.9l.7 0l1.4 9.8l1.4 3.7l.7-.8l1.4 .8l.7-.7l.7 .9l2.1-.6l1.4 .8l.7-.8l.7 1.2l.7-.9l1.4-.3l1.4 1.5l.7-1.1l.7 .7l.7-.8l5.6 .3l.7 .8l1.4-.8l2.8 1l2.1-.3l1.4 .1l.7-.8l2.1 .6l2.1-1.5l.7 1.2l.7-.9l2.1 .4l.7-.4l2.8 1.3l1.4-4l2.1-16.1l.7 .8l1.4 14.2l1.4 4.8l1.4-.5l.7 1l1.4-.4l.7 .5l4.9-1.6l.7 1l1.4-.8l1.4 .5l.7-1.1l1.4-7.4l.7-8.1l2.1-50.7l.7 2.7l1.4 44.7l.7-2.1l.7-7.3l.7 0l2.1 18.5l2.1 8.5l1.4 2.4l2.8-.8l1.4 .9l2.8-.3l.7-1.2l1.4-11.6l1.4-23.8l.7 1.9l.7 18.5l1.4 12.7l2.8-6.1l.7-6.2l2.8-55.1l.7 2.1l1.4 34.6l3.5 19.7l3.5 9.7l1.4-7l2.1-17.1l.7 .7l1.4 14.9l2.1 10.1l1.4 2.8l3.5 .1l.7 .6l1.4-1l1.4 .8l.7-.6l.7 .8l1.4-2.8l1.4-5.7l.7 0l1.4 5.4l1.4 2.9l1.4-.3l3.5 .9l.7-.9l1.4 .6l1.4-.5l2.1 1.5l.7-.7l1.4 .2l.7-.9l2.1 1.2l2.1-.8l2.1-4.6l.7 0l1.4 3.6l.7 .4l1.4-.4l1.4 .7l2.1-.1l.7 .6l.7-1l.7 .5l.7-.5l1.4 .6l1.4-.5l1.4 .6l.7-.5l1.4 .4l.7-.7l2.8 .6l.7 .7l2.1-.4l.7-.6l2.1 .8l1.4-.8l2.1-7.1l.7-.9l.7 .9l2.1 7.1l4.2-.4l.7 .7l.7-1l.7 .5l.7-.5l2.8 1.3l2.1-.7l2.1 1l1.4-.8l1.4 1.3l.7-1.7l2.1 .3l1.4 .9l.7-.6l1.4 .7l2.8-.7l2.1 .8l3.5-1.3l1.4 .9l.7-.5l1.4 .7l2.8-1.3l1.4 .7l2.1-1l.7 .6l2.1-.7l.7 .2l.7-.8l4.9 1.7l1.4-.8l4.2 1.7l2.1-.2l.7-1l1.4 .8l2.1-.1l.7-.7l1.4 .8l2.8-.5l1.4 .9l1.4-1.3l1.4 1.3l2.1-1l3.5 1.1l2.1-.8l2.1-4.5l.7 0l1.4 3.8l.7 .6l4.2 .5l.7-.9l2.8-.4l2.8 1.8l1.4-1l.7 .6l.7-.9l2.1-.5l1.4 .8l2.1-.8l2.1 .5l.7 .7l1.4-.9l.7 .6l2.8-.1l1.4-6.4l.7 0l.7 3.7l1.4 3.1l2.8-.6l.7 .8l2.1-.6l.7-.8l3.5 .3l1.4 .8l2.1-.6l.7 .7l4.2-1.2l.7 0l.7 1l.7-.8l2.8-.1l.7-.5l1.4 .8l2.1-.6l1.4 .5l.7-.7l.7 .5l1.4-.3l4.2 .7l1.4-.7l1.4 0l2.8 1.1l1.4-.1l.7-1l2.1 1.2l.7-.6l3.5 1.7l.7-1.1l1.4-.6l.7 .8l.7-.5l.7 .5l1.4-.9l.7 .9l2.1-1.1l1.4 .5l2.1-.6l.7 .9l.7-.9l1.4 .7l2.8-.1l.7 .4L1213.3 2647.0Z" fill="#666"/><path d="M710.0 2647.0l0-2.2l.7 .5l1.4-.6l.7 .6l2.1 0l2.1-.6l4.2 1.3l.7-.6l1.4-3.4l.7-4.2l1.4-20.2l.7 .1l1.4 19.5l.7 4.4l1.4 3.1l1.4-.3l2.1 .8l1.4 .1l1.4-.6l2.1 .6l.7-.4l2.8 .3l2.8-1.2l7 1.2l2.8-.7l.7 .7l2.8-.7l3.5 .9l1.4-.8l2.8 .3l1.4-.4l4.9 .7l.7-.5l2.1 1l.7-.6l2.8 .9l2.1-.5l1.4-1.2l4.9 1l.7-.4l2.1 .4l2.1-.9l2.8 .6l2.1 .2l.7-1.6l1.4-9.2l2.1-58.1l.7 7l1.4 42.4l1.4 15.7l1.4 3.7l2.1-.9l6.3 .2l3.5 .7l2.1-6l2.1-20.6l.7-1.8l2.1 22.5l1.4 4.9l1.4 1.2l4.9-.6l.7 .5l1.4-1l2.1 .7l4.9-.2l1.4-1.5l.7 0l.7 1.4l2.8-.2l1.4-4.1l.7-.1l1.4 4l1.4 .6l.7-.5l3.5 .1l2.8 .7l.7-.4l.7 .5l2.1-.4l1.4 .7l2.1-.9l.7 .6l2.8-.4l.7 .6l3.5-.3l2.1 .8l.7-.4l2.1 .5l2.1-.9l2.1 .2l2.1-.9l.7 .6l2.8-.6l2.1 .6l.7 .9l2.1-1.1l2.1-6.3l.7-.1l.7 3.8l1.4 3.4l1.4-.7l1.4 .8l11.9-1.2l1.4-3.8l2.1-23.1l.7 2l1.4 20l1.4-5l.7-.5l2.1 7.9l1.4 2.5l1.4 .5l3.5-.7l2.1 .8l2.8-.3l.7-.5l.7-2.5l1.4-10.1l.7 1.8l1.4 10.1l.7 1.3l2.1-1.6l1.4-2.1l2.8-24.4l.7 1.8l.7 9.9l.7 3.2l3.5 9.2l3.5 3.4l1.4-2.6l2.1-7.8l.7 1.2l1.4 6.3l2.1 3.5l1.4-.6l.7 .5l4.9-.4l3.5 .7l2.1-2.7l.7 0l1.4 2.3l2.8 .1l2.1 1l.7-.7l2.1-.4l4.2 1.2l.7-.5l2.8-.2l2.1 .6l2.1-.4l1.4-1.3l2.1 1l2.8-.5l.7 .5l2.8 .1l.7-.5l4.9 .5l1.4-.7l2.8 .1l3.5 1l.7-.4l5.6 0l2.1-2.8l2.1 2.9l6.3-1l5.6 .9l1.4-.6l1.4 .9l1.4-.4l1.4 .6l1.4-1.1l2.8 1l2.1 .1l2.8-.6l2.8 .4l2.1-.7l2.1 .6l4.2-.8l1.4 .1l.7 .7l1.4-.9l3.5-.3l1.4-.6l5.6 1.5l1.4-.6l2.8 1.5l2.8-.3l.7-.6l1.4 .4l3.5-.6l.7 .6l1.4 .1l1.4-.5l.7 .7l2.1-1l1.4 1l2.1-1.1l3.5 1l2.1-.4l2.1-1.2l.7 0l.7 1l2.1 .3l2.8-.3l.7 .4l.7-.6l2.1-.4l3.5 1.4l2.1-.2l.7-.9l1.4-.4l.7 .3l1.4 .6l2.1-1l2.8 1.1l2.8-.6l1.4 .4l1.4-.2l.7-1.8l.7 0l.7 1.7l3.5-.2l1.4 .7l4.2-1l6.3 1.1l2.8-.8l2.1 .1l.7 .5l6.3-1.2l2.8 .6l3.5-.2l1.4 .6l2.1-.7l6.3 .7l1.4-.7l2.1 .7l2.8 .1l.7 .8l2.8-.9l2.1 .3l4.2-.9l1.4 .5l8.4 0L1213.3 2647.0Z" fill="#333"/>
<line x1="702.1" y1="2647.8" x2="1213.7" y2="2647.8" stroke="#222" stroke-width="1.8"/>
<line x1="709.0" y1="2434.0" x2="709.0" y2="2648.0" stroke="#111" stroke-width="1.5"/>
<line x1="702.1" y1="2434.0" x2="709.0" y2="2434.0" stroke="#111" stroke-width="1.5"/>
<text x="672.3" y="2440.4" font-size="22.5" font-weight="bold">30</text>
<text x="686.0" y="2655.0" font-size="22.5" font-weight="bold">0</text>
<path d="M709,2661.9V2655.4H1213.7" fill="none" stroke="#111" stroke-width="1.5"/>
<text x="709.0" y="2680.2" font-size="22.5" font-weight="bold" textLength="44.6" lengthAdjust="spacingAndGlyphs">90.1</text>
<text x="848.3" y="2680.2" font-size="22.5" font-weight="bold" textLength="226.1" lengthAdjust="spacingAndGlyphs">Chromosome 6 (Mb)</text>
<text x="1155.7" y="2680.2" font-size="22.5" font-weight="bold" textLength="58.0" lengthAdjust="spacingAndGlyphs">90.02</text>
<text x="1195.8" y="27.8" font-size="38.5" font-weight="bold">g</text>
<path d="M1400.6,62.6V32.8H1423.1V62.6 M1412.1,32.8V19.0H1445.6V62.6 M1423.0,19.0V9.8H1479.8V23.3 M1468.1,62.6V23.3H1490.5V62.6 M1513.0,62.6V20.0H1535.5V62.6 M1558.0,62.6V26.7H1580.4V62.6 M1569.2,26.7V23.7H1602.9V62.6 M1524.5,20.0V14.3H1580.3V23.7 M1451.0,9.8V8.8H1614.4V14.0 M1670.3,62.6V31.4H1692.8V62.6 M1647.8,62.6V24.8H1681.8V31.4 M1681.8,31.4V26.7H1715.3V62.6 M1625.4,62.6V18.3H1681.8V26.0 M1600.0,14.3V14.0H1670.3V18.3 M1737.7,62.6V13.5H1760.2V62.6 M1557.7,8.8V5.2H1749.2V13.5 M1592.0,5.2V4.2H1782.7V62.6 M1600.0,4.2V1.0H1805.2V62.6" fill="none" stroke="#000" stroke-width="2.3" stroke-linejoin="miter"/>
<text x="1407.0" y="146.0" font-size="17.6" font-weight="bold" textLength="65.8" lengthAdjust="spacingAndGlyphs" transform="rotate(-90 1407.0 146.0)">OCIMY5</text>
<text x="1429.5" y="146.0" font-size="17.6" font-weight="bold" textLength="49.6" lengthAdjust="spacingAndGlyphs" transform="rotate(-90 1429.5 146.0)">MM1S</text>
<text x="1452.0" y="146.0" font-size="17.6" font-weight="bold" textLength="57.2" lengthAdjust="spacingAndGlyphs" transform="rotate(-90 1452.0 146.0)">KMS20</text>
<text x="1474.5" y="146.0" font-size="17.6" font-weight="bold" textLength="56.3" lengthAdjust="spacingAndGlyphs" transform="rotate(-90 1474.5 146.0)">KMS11</text>
<text x="1496.9" y="146.0" font-size="17.6" font-weight="bold" textLength="41.0" lengthAdjust="spacingAndGlyphs" transform="rotate(-90 1496.9 146.0)">JJN3</text>
<text x="1519.4" y="146.0" font-size="17.6" font-weight="bold" textLength="62.0" lengthAdjust="spacingAndGlyphs" transform="rotate(-90 1519.4 146.0)">SKMM2</text>
<text x="1541.9" y="146.0" font-size="17.6" font-weight="bold" textLength="57.2" lengthAdjust="spacingAndGlyphs" transform="rotate(-90 1541.9 146.0)">KMS27</text>
<text x="1564.4" y="146.0" font-size="17.6" font-weight="bold" textLength="65.8" lengthAdjust="spacingAndGlyphs" transform="rotate(-90 1564.4 146.0)">OCIMY7</text>
<text x="1586.8" y="146.0" font-size="17.6" font-weight="bold" textLength="35.3" lengthAdjust="spacingAndGlyphs" transform="rotate(-90 1586.8 146.0)">EJM</text>
<text x="1609.3" y="146.0" font-size="17.6" font-weight="bold" textLength="39.1" lengthAdjust="spacingAndGlyphs" transform="rotate(-90 1609.3 146.0)">INA6</text>
<text x="1631.8" y="146.0" font-size="17.6" font-weight="bold" textLength="57.2" lengthAdjust="spacingAndGlyphs" transform="rotate(-90 1631.8 146.0)">KMS18</text>
<text x="1654.2" y="146.0" font-size="17.6" font-weight="bold" textLength="57.2" lengthAdjust="spacingAndGlyphs" transform="rotate(-90 1654.2 146.0)">KMS26</text>
<text x="1676.7" y="146.0" font-size="17.6" font-weight="bold" textLength="39.1" lengthAdjust="spacingAndGlyphs" transform="rotate(-90 1676.7 146.0)">L363</text>
<text x="1699.2" y="146.0" font-size="17.6" font-weight="bold" textLength="49.6" lengthAdjust="spacingAndGlyphs" transform="rotate(-90 1699.2 146.0)">AMO1</text>
<text x="1721.7" y="146.0" font-size="17.6" font-weight="bold" textLength="50.5" lengthAdjust="spacingAndGlyphs" transform="rotate(-90 1721.7 146.0)">KMM1</text>
<text x="1744.1" y="146.0" font-size="17.6" font-weight="bold" textLength="31.5" lengthAdjust="spacingAndGlyphs" transform="rotate(-90 1744.1 146.0)">LP1</text>
<text x="1766.6" y="146.0" font-size="17.6" font-weight="bold" textLength="81.1" lengthAdjust="spacingAndGlyphs" transform="rotate(-90 1766.6 146.0)">RPMI8226</text>
<text x="1789.1" y="146.0" font-size="17.6" font-weight="bold" textLength="57.2" lengthAdjust="spacingAndGlyphs" transform="rotate(-90 1789.1 146.0)">KMS34</text>
<text x="1811.6" y="146.0" font-size="17.6" font-weight="bold" textLength="48.6" lengthAdjust="spacingAndGlyphs" transform="rotate(-90 1811.6 146.0)">OPM2</text>
<rect x="1389.40" y="148.30" width="22.47" height="24.20" fill="#ffffff"/>
<rect x="1411.87" y="148.30" width="22.47" height="24.20" fill="#1f9c78"/>
<rect x="1434.35" y="148.30" width="22.47" height="24.20" fill="#1f9c78"/>
<rect x="1456.82" y="148.30" width="22.47" height="24.20" fill="#ffffff"/>
<rect x="1479.29" y="148.30" width="22.47" height="24.20" fill="#ffffff"/>
<rect x="1501.77" y="148.30" width="22.47" height="24.20" fill="#ffffff"/>
<rect x="1524.24" y="148.30" width="22.47" height="24.20" fill="#ffffff"/>
<rect x="1546.72" y="148.30" width="22.47" height="24.20" fill="#ffffff"/>
<rect x="1569.19" y="148.30" width="22.47" height="24.20" fill="#ffffff"/>
<rect x="1591.66" y="148.30" width="22.47" height="24.20" fill="#ffffff"/>
<rect x="1614.14" y="148.30" width="22.47" height="24.20" fill="#ffffff"/>
<rect x="1636.61" y="148.30" width="22.47" height="24.20" fill="#ffffff"/>
<rect x="1659.08" y="148.30" width="22.47" height="24.20" fill="#ffffff"/>
<rect x="1681.56" y="148.30" width="22.47" height="24.20" fill="#1f9c78"/>
<rect x="1704.03" y="148.30" width="22.47" height="24.20" fill="#1f9c78"/>
<rect x="1726.51" y="148.30" width="22.47" height="24.20" fill="#ffffff"/>
<rect x="1748.98" y="148.30" width="22.47" height="24.20" fill="#1f9c78"/>
<rect x="1771.45" y="148.30" width="22.47" height="24.20" fill="#ffffff"/>
<rect x="1793.93" y="148.30" width="22.47" height="24.20" fill="#ffffff"/>
<path d="M1389.4,148.3H1816.4V172.5H1389.4ZM1411.9,148.3V172.5M1434.3,148.3V172.5M1456.8,148.3V172.5M1479.3,148.3V172.5M1501.8,148.3V172.5M1524.2,148.3V172.5M1546.7,148.3V172.5M1569.2,148.3V172.5M1591.7,148.3V172.5M1614.1,148.3V172.5M1636.6,148.3V172.5M1659.1,148.3V172.5M1681.6,148.3V172.5M1704.0,148.3V172.5M1726.5,148.3V172.5M1749.0,148.3V172.5M1771.5,148.3V172.5M1793.9,148.3V172.5" fill="none" stroke="#2a2a2a" stroke-width="1.4"/>
<text x="1381.0" y="168.0" font-size="16.2" font-weight="bold" font-style="italic" text-anchor="end" fill="#1a9a68" textLength="86.4" lengthAdjust="spacingAndGlyphs">KRAS_mut</text>
<rect x="1389.40" y="174.77" width="22.47" height="24.20" fill="#ffffff"/>
<rect x="1411.87" y="174.77" width="22.47" height="24.20" fill="#ffffff"/>
<rect x="1434.35" y="174.77" width="22.47" height="24.20" fill="#ffffff"/>
<rect x="1456.82" y="174.77" width="22.47" height="24.20" fill="#ffffff"/>
<rect x="1479.29" y="174.77" width="22.47" height="24.20" fill="#1f9c78"/>
<rect x="1501.77" y="174.77" width="22.47" height="24.20" fill="#ffffff"/>
<rect x="1524.24" y="174.77" width="22.47" height="24.20" fill="#1f9c78"/>
<rect x="1546.72" y="174.77" width="22.47" height="24.20" fill="#1f9c78"/>
<rect x="1569.19" y="174.77" width="22.47" height="24.20" fill="#ffffff"/>
<rect x="1591.66" y="174.77" width="22.47" height="24.20" fill="#1f9c78"/>
<rect x="1614.14" y="174.77" width="22.47" height="24.20" fill="#ffffff"/>
<rect x="1636.61" y="174.77" width="22.47" height="24.20" fill="#ffffff"/>
<rect x="1659.08" y="174.77" width="22.47" height="24.20" fill="#1f9c78"/>
<rect x="1681.56" y="174.77" width="22.47" height="24.20" fill="#ffffff"/>
<rect x="1704.03" y="174.77" width="22.47" height="24.20" fill="#1f9c78"/>
<rect x="1726.51" y="174.77" width="22.47" height="24.20" fill="#ffffff"/>
<rect x="1748.98" y="174.77" width="22.47" height="24.20" fill="#ffffff"/>
<rect x="1771.45" y="174.77" width="22.47" height="24.20" fill="#ffffff"/>
<rect x="1793.93" y="174.77" width="22.47" height="24.20" fill="#ffffff"/>
<path d="M1389.4,174.8H1816.4V199.0H1389.4ZM1411.9,174.8V199.0M1434.3,174.8V199.0M1456.8,174.8V199.0M1479.3,174.8V199.0M1501.8,174.8V199.0M1524.2,174.8V199.0M1546.7,174.8V199.0M1569.2,174.8V199.0M1591.7,174.8V199.0M1614.1,174.8V199.0M1636.6,174.8V199.0M1659.1,174.8V199.0M1681.6,174.8V199.0M1704.0,174.8V199.0M1726.5,174.8V199.0M1749.0,174.8V199.0M1771.5,174.8V199.0M1793.9,174.8V199.0" fill="none" stroke="#2a2a2a" stroke-width="1.4"/>
<text x="1381.0" y="194.5" font-size="16.2" font-weight="bold" font-style="italic" text-anchor="end" fill="#1a9a68" textLength="86.4" lengthAdjust="spacingAndGlyphs">NRAS_mut</text>
<rect x="1389.40" y="201.24" width="22.47" height="24.20" fill="#ffffff"/>
<rect x="1411.87" y="201.24" width="22.47" height="24.20" fill="#ffffff"/>
<rect x="1434.35" y="201.24" width="22.47" height="24.20" fill="#ffffff"/>
<rect x="1456.82" y="201.24" width="22.47" height="24.20" fill="#ffffff"/>
<rect x="1479.29" y="201.24" width="22.47" height="24.20" fill="#ffffff"/>
<rect x="1501.77" y="201.24" width="22.47" height="24.20" fill="#d8642a"/>
<rect x="1524.24" y="201.24" width="22.47" height="24.20" fill="#d8642a"/>
<rect x="1546.72" y="201.24" width="22.47" height="24.20" fill="#d8642a"/>
<rect x="1569.19" y="201.24" width="22.47" height="24.20" fill="#ffffff"/>
<rect x="1591.66" y="201.24" width="22.47" height="24.20" fill="#d8642a"/>
<rect x="1614.14" y="201.24" width="22.47" height="24.20" fill="#ffffff"/>
<rect x="1636.61" y="201.24" width="22.47" height="24.20" fill="#ffffff"/>
<rect x="1659.08" y="201.24" width="22.47" height="24.20" fill="#ffffff"/>
<rect x="1681.56" y="201.24" width="22.47" height="24.20" fill="#ffffff"/>
<rect x="1704.03" y="201.24" width="22.47" height="24.20" fill="#ffffff"/>
<rect x="1726.51" y="201.24" width="22.47" height="24.20" fill="#ffffff"/>
<rect x="1748.98" y="201.24" width="22.47" height="24.20" fill="#ffffff"/>
<rect x="1771.45" y="201.24" width="22.47" height="24.20" fill="#ffffff"/>
<rect x="1793.93" y="201.24" width="22.47" height="24.20" fill="#ffffff"/>
<path d="M1389.4,201.2H1816.4V225.4H1389.4ZM1411.9,201.2V225.4M1434.3,201.2V225.4M1456.8,201.2V225.4M1479.3,201.2V225.4M1501.8,201.2V225.4M1524.2,201.2V225.4M1546.7,201.2V225.4M1569.2,201.2V225.4M1591.7,201.2V225.4M1614.1,201.2V225.4M1636.6,201.2V225.4M1659.1,201.2V225.4M1681.6,201.2V225.4M1704.0,201.2V225.4M1726.5,201.2V225.4M1749.0,201.2V225.4M1771.5,201.2V225.4M1793.9,201.2V225.4" fill="none" stroke="#2a2a2a" stroke-width="1.4"/>
<text x="1381.0" y="220.9" font-size="16.2" font-weight="bold" font-style="italic" text-anchor="end" fill="#6b3c8c" textLength="133.0" lengthAdjust="spacingAndGlyphs">t(11;14) [CCND1]</text>
<rect x="1389.40" y="227.71" width="22.47" height="24.20" fill="#ffffff"/>
<rect x="1411.87" y="227.71" width="22.47" height="24.20" fill="#ffffff"/>
<rect x="1434.35" y="227.71" width="22.47" height="24.20" fill="#ffffff"/>
<rect x="1456.82" y="227.71" width="22.47" height="24.20" fill="#ffffff"/>
<rect x="1479.29" y="227.71" width="22.47" height="24.20" fill="#ffffff"/>
<rect x="1501.77" y="227.71" width="22.47" height="24.20" fill="#ffffff"/>
<rect x="1524.24" y="227.71" width="22.47" height="24.20" fill="#ffffff"/>
<rect x="1546.72" y="227.71" width="22.47" height="24.20" fill="#ffffff"/>
<rect x="1569.19" y="227.71" width="22.47" height="24.20" fill="#ffffff"/>
<rect x="1591.66" y="227.71" width="22.47" height="24.20" fill="#ffffff"/>
<rect x="1614.14" y="227.71" width="22.47" height="24.20" fill="#ffffff"/>
<rect x="1636.61" y="227.71" width="22.47" height="24.20" fill="#ffffff"/>
<rect x="1659.08" y="227.71" width="22.47" height="24.20" fill="#ffffff"/>
<rect x="1681.56" y="227.71" width="22.47" height="24.20" fill="#d8642a"/>
<rect x="1704.03" y="227.71" width="22.47" height="24.20" fill="#ffffff"/>
<rect x="1726.51" y="227.71" width="22.47" height="24.20" fill="#ffffff"/>
<rect x="1748.98" y="227.71" width="22.47" height="24.20" fill="#ffffff"/>
<rect x="1771.45" y="227.71" width="22.47" height="24.20" fill="#ffffff"/>
<rect x="1793.93" y="227.71" width="22.47" height="24.20" fill="#ffffff"/>
<path d="M1389.4,227.7H1816.4V251.9H1389.4ZM1411.9,227.7V251.9M1434.3,227.7V251.9M1456.8,227.7V251.9M1479.3,227.7V251.9M1501.8,227.7V251.9M1524.2,227.7V251.9M1546.7,227.7V251.9M1569.2,227.7V251.9M1591.7,227.7V251.9M1614.1,227.7V251.9M1636.6,227.7V251.9M1659.1,227.7V251.9M1681.6,227.7V251.9M1704.0,227.7V251.9M1726.5,227.7V251.9M1749.0,227.7V251.9M1771.5,227.7V251.9M1793.9,227.7V251.9" fill="none" stroke="#2a2a2a" stroke-width="1.4"/>
<text x="1381.0" y="247.4" font-size="16.2" font-weight="bold" font-style="italic" text-anchor="end" fill="#6b3c8c" textLength="133.0" lengthAdjust="spacingAndGlyphs">t(12;14) [CCND2]</text>
<rect x="1389.40" y="254.18" width="22.47" height="24.20" fill="#ffffff"/>
<rect x="1411.87" y="254.18" width="22.47" height="24.20" fill="#ffffff"/>
<rect x="1434.35" y="254.18" width="22.47" height="24.20" fill="#ffffff"/>
<rect x="1456.82" y="254.18" width="22.47" height="24.20" fill="#ffffff"/>
<rect x="1479.29" y="254.18" width="22.47" height="24.20" fill="#ffffff"/>
<rect x="1501.77" y="254.18" width="22.47" height="24.20" fill="#ffffff"/>
<rect x="1524.24" y="254.18" width="22.47" height="24.20" fill="#ffffff"/>
<rect x="1546.72" y="254.18" width="22.47" height="24.20" fill="#ffffff"/>
<rect x="1569.19" y="254.18" width="22.47" height="24.20" fill="#ffffff"/>
<rect x="1591.66" y="254.18" width="22.47" height="24.20" fill="#ffffff"/>
<rect x="1614.14" y="254.18" width="22.47" height="24.20" fill="#ffffff"/>
<rect x="1636.61" y="254.18" width="22.47" height="24.20" fill="#ffffff"/>
<rect x="1659.08" y="254.18" width="22.47" height="24.20" fill="#ffffff"/>
<rect x="1681.56" y="254.18" width="22.47" height="24.20" fill="#ffffff"/>
<rect x="1704.03" y="254.18" width="22.47" height="24.20" fill="#d8642a"/>
<rect x="1726.51" y="254.18" width="22.47" height="24.20" fill="#ffffff"/>
<rect x="1748.98" y="254.18" width="22.47" height="24.20" fill="#ffffff"/>
<rect x="1771.45" y="254.18" width="22.47" height="24.20" fill="#ffffff"/>
<rect x="1793.93" y="254.18" width="22.47" height="24.20" fill="#ffffff"/>
<path d="M1389.4,254.2H1816.4V278.4H1389.4ZM1411.9,254.2V278.4M1434.3,254.2V278.4M1456.8,254.2V278.4M1479.3,254.2V278.4M1501.8,254.2V278.4M1524.2,254.2V278.4M1546.7,254.2V278.4M1569.2,254.2V278.4M1591.7,254.2V278.4M1614.1,254.2V278.4M1636.6,254.2V278.4M1659.1,254.2V278.4M1681.6,254.2V278.4M1704.0,254.2V278.4M1726.5,254.2V278.4M1749.0,254.2V278.4M1771.5,254.2V278.4M1793.9,254.2V278.4" fill="none" stroke="#2a2a2a" stroke-width="1.4"/>
<text x="1381.0" y="273.9" font-size="16.2" font-weight="bold" font-style="italic" text-anchor="end" fill="#6b3c8c" textLength="124.0" lengthAdjust="spacingAndGlyphs">t(6;14) [CCND3]</text>
<rect x="1389.40" y="280.65" width="22.47" height="24.20" fill="#ffffff"/>
<rect x="1411.87" y="280.65" width="22.47" height="24.20" fill="#ffffff"/>
<rect x="1434.35" y="280.65" width="22.47" height="24.20" fill="#ffffff"/>
<rect x="1456.82" y="280.65" width="22.47" height="24.20" fill="#ffffff"/>
<rect x="1479.29" y="280.65" width="22.47" height="24.20" fill="#ffffff"/>
<rect x="1501.77" y="280.65" width="22.47" height="24.20" fill="#ffffff"/>
<rect x="1524.24" y="280.65" width="22.47" height="24.20" fill="#ffffff"/>
<rect x="1546.72" y="280.65" width="22.47" height="24.20" fill="#ffffff"/>
<rect x="1569.19" y="280.65" width="22.47" height="24.20" fill="#d8642a"/>
<rect x="1591.66" y="280.65" width="22.47" height="24.20" fill="#ffffff"/>
<rect x="1614.14" y="280.65" width="22.47" height="24.20" fill="#ffffff"/>
<rect x="1636.61" y="280.65" width="22.47" height="24.20" fill="#ffffff"/>
<rect x="1659.08" y="280.65" width="22.47" height="24.20" fill="#d8642a"/>
<rect x="1681.56" y="280.65" width="22.47" height="24.20" fill="#ffffff"/>
<rect x="1704.03" y="280.65" width="22.47" height="24.20" fill="#ffffff"/>
<rect x="1726.51" y="280.65" width="22.47" height="24.20" fill="#ffffff"/>
<rect x="1748.98" y="280.65" width="22.47" height="24.20" fill="#ffffff"/>
<rect x="1771.45" y="280.65" width="22.47" height="24.20" fill="#ffffff"/>
<rect x="1793.93" y="280.65" width="22.47" height="24.20" fill="#ffffff"/>
<path d="M1389.4,280.6H1816.4V304.8H1389.4ZM1411.9,280.6V304.8M1434.3,280.6V304.8M1456.8,280.6V304.8M1479.3,280.6V304.8M1501.8,280.6V304.8M1524.2,280.6V304.8M1546.7,280.6V304.8M1569.2,280.6V304.8M1591.7,280.6V304.8M1614.1,280.6V304.8M1636.6,280.6V304.8M1659.1,280.6V304.8M1681.6,280.6V304.8M1704.0,280.6V304.8M1726.5,280.6V304.8M1749.0,280.6V304.8M1771.5,280.6V304.8M1793.9,280.6V304.8" fill="none" stroke="#2a2a2a" stroke-width="1.4"/>
<text x="1381.0" y="300.3" font-size="16.2" font-weight="bold" font-style="italic" text-anchor="end" fill="#6b3c8c" textLength="209.6" lengthAdjust="spacingAndGlyphs">t(14;20) or t(20;22) [MAFB]</text>
<rect x="1389.40" y="307.12" width="22.47" height="24.20" fill="#ffffff"/>
<rect x="1411.87" y="307.12" width="22.47" height="24.20" fill="#ffffff"/>
<rect x="1434.35" y="307.12" width="22.47" height="24.20" fill="#ffffff"/>
<rect x="1456.82" y="307.12" width="22.47" height="24.20" fill="#d8642a"/>
<rect x="1479.29" y="307.12" width="22.47" height="24.20" fill="#ffffff"/>
<rect x="1501.77" y="307.12" width="22.47" height="24.20" fill="#ffffff"/>
<rect x="1524.24" y="307.12" width="22.47" height="24.20" fill="#ffffff"/>
<rect x="1546.72" y="307.12" width="22.47" height="24.20" fill="#ffffff"/>
<rect x="1569.19" y="307.12" width="22.47" height="24.20" fill="#ffffff"/>
<rect x="1591.66" y="307.12" width="22.47" height="24.20" fill="#ffffff"/>
<rect x="1614.14" y="307.12" width="22.47" height="24.20" fill="#d8642a"/>
<rect x="1636.61" y="307.12" width="22.47" height="24.20" fill="#d8642a"/>
<rect x="1659.08" y="307.12" width="22.47" height="24.20" fill="#ffffff"/>
<rect x="1681.56" y="307.12" width="22.47" height="24.20" fill="#ffffff"/>
<rect x="1704.03" y="307.12" width="22.47" height="24.20" fill="#ffffff"/>
<rect x="1726.51" y="307.12" width="22.47" height="24.20" fill="#d8642a"/>
<rect x="1748.98" y="307.12" width="22.47" height="24.20" fill="#ffffff"/>
<rect x="1771.45" y="307.12" width="22.47" height="24.20" fill="#d8642a"/>
<rect x="1793.93" y="307.12" width="22.47" height="24.20" fill="#d8642a"/>
<path d="M1389.4,307.1H1816.4V331.3H1389.4ZM1411.9,307.1V331.3M1434.3,307.1V331.3M1456.8,307.1V331.3M1479.3,307.1V331.3M1501.8,307.1V331.3M1524.2,307.1V331.3M1546.7,307.1V331.3M1569.2,307.1V331.3M1591.7,307.1V331.3M1614.1,307.1V331.3M1636.6,307.1V331.3M1659.1,307.1V331.3M1681.6,307.1V331.3M1704.0,307.1V331.3M1726.5,307.1V331.3M1749.0,307.1V331.3M1771.5,307.1V331.3M1793.9,307.1V331.3" fill="none" stroke="#2a2a2a" stroke-width="1.4"/>
<text x="1381.0" y="326.8" font-size="16.2" font-weight="bold" font-style="italic" text-anchor="end" fill="#6b3c8c" textLength="126.3" lengthAdjust="spacingAndGlyphs">t(4:14) [MMSET]</text>
<rect x="1389.40" y="333.59" width="22.47" height="24.20" fill="#d8642a"/>
<rect x="1411.87" y="333.59" width="22.47" height="24.20" fill="#d8642a"/>
<rect x="1434.35" y="333.59" width="22.47" height="24.20" fill="#9591b9"/>
<rect x="1456.82" y="333.59" width="22.47" height="24.20" fill="#d8642a"/>
<rect x="1479.29" y="333.59" width="22.47" height="24.20" fill="#d8642a"/>
<rect x="1501.77" y="333.59" width="22.47" height="24.20" fill="#ffffff"/>
<rect x="1524.24" y="333.59" width="22.47" height="24.20" fill="#ffffff"/>
<rect x="1546.72" y="333.59" width="22.47" height="24.20" fill="#ffffff"/>
<rect x="1569.19" y="333.59" width="22.47" height="24.20" fill="#ffffff"/>
<rect x="1591.66" y="333.59" width="22.47" height="24.20" fill="#ffffff"/>
<rect x="1614.14" y="333.59" width="22.47" height="24.20" fill="#ffffff"/>
<rect x="1636.61" y="333.59" width="22.47" height="24.20" fill="#ffffff"/>
<rect x="1659.08" y="333.59" width="22.47" height="24.20" fill="#ffffff"/>
<rect x="1681.56" y="333.59" width="22.47" height="24.20" fill="#ffffff"/>
<rect x="1704.03" y="333.59" width="22.47" height="24.20" fill="#ffffff"/>
<rect x="1726.51" y="333.59" width="22.47" height="24.20" fill="#ffffff"/>
<rect x="1748.98" y="333.59" width="22.47" height="24.20" fill="#d8642a"/>
<rect x="1771.45" y="333.59" width="22.47" height="24.20" fill="#ffffff"/>
<rect x="1793.93" y="333.59" width="22.47" height="24.20" fill="#ffffff"/>
<path d="M1389.4,333.6H1816.4V357.8H1389.4ZM1411.9,333.6V357.8M1434.3,333.6V357.8M1456.8,333.6V357.8M1479.3,333.6V357.8M1501.8,333.6V357.8M1524.2,333.6V357.8M1546.7,333.6V357.8M1569.2,333.6V357.8M1591.7,333.6V357.8M1614.1,333.6V357.8M1636.6,333.6V357.8M1659.1,333.6V357.8M1681.6,333.6V357.8M1704.0,333.6V357.8M1726.5,333.6V357.8M1749.0,333.6V357.8M1771.5,333.6V357.8M1793.9,333.6V357.8" fill="none" stroke="#2a2a2a" stroke-width="1.4"/>
<text x="1381.0" y="353.3" font-size="16.2" font-weight="bold" font-style="italic" text-anchor="end" fill="#a21c3a" textLength="110.9" lengthAdjust="spacingAndGlyphs">t(14;16) (MAF)</text>
<rect x="1389.40" y="360.06" width="22.47" height="24.20" fill="#e9212a"/>
<rect x="1411.87" y="360.06" width="22.47" height="24.20" fill="#ffffff"/>
<rect x="1434.35" y="360.06" width="22.47" height="24.20" fill="#e9212a"/>
<rect x="1456.82" y="360.06" width="22.47" height="24.20" fill="#f39322"/>
<rect x="1479.29" y="360.06" width="22.47" height="24.20" fill="#f39322"/>
<rect x="1501.77" y="360.06" width="22.47" height="24.20" fill="#e9212a"/>
<rect x="1524.24" y="360.06" width="22.47" height="24.20" fill="#e9212a"/>
<rect x="1546.72" y="360.06" width="22.47" height="24.20" fill="#ffffff"/>
<rect x="1569.19" y="360.06" width="22.47" height="24.20" fill="#e9212a"/>
<rect x="1591.66" y="360.06" width="22.47" height="24.20" fill="#e9212a"/>
<rect x="1614.14" y="360.06" width="22.47" height="24.20" fill="#dce21e"/>
<rect x="1636.61" y="360.06" width="22.47" height="24.20" fill="#e9212a"/>
<rect x="1659.08" y="360.06" width="22.47" height="24.20" fill="#e9212a"/>
<rect x="1681.56" y="360.06" width="22.47" height="24.20" fill="#ffffff"/>
<rect x="1704.03" y="360.06" width="22.47" height="24.20" fill="#e9212a"/>
<rect x="1726.51" y="360.06" width="22.47" height="24.20" fill="#e9212a"/>
<rect x="1748.98" y="360.06" width="22.47" height="24.20" fill="#e9212a"/>
<rect x="1771.45" y="360.06" width="22.47" height="24.20" fill="#e9212a"/>
<rect x="1793.93" y="360.06" width="22.47" height="24.20" fill="#e9212a"/>
<path d="M1389.4,360.1H1816.4V384.3H1389.4ZM1411.9,360.1V384.3M1434.3,360.1V384.3M1456.8,360.1V384.3M1479.3,360.1V384.3M1501.8,360.1V384.3M1524.2,360.1V384.3M1546.7,360.1V384.3M1569.2,360.1V384.3M1591.7,360.1V384.3M1614.1,360.1V384.3M1636.6,360.1V384.3M1659.1,360.1V384.3M1681.6,360.1V384.3M1704.0,360.1V384.3M1726.5,360.1V384.3M1749.0,360.1V384.3M1771.5,360.1V384.3M1793.9,360.1V384.3" fill="none" stroke="#2a2a2a" stroke-width="1.4"/>
<text x="1381.0" y="379.8" font-size="16.2" font-weight="bold" font-style="italic" text-anchor="end" fill="#e8782e" textLength="82.8" lengthAdjust="spacingAndGlyphs">TP53_LOF</text>
<rect x="1389.40" y="386.53" width="22.47" height="24.20" fill="#3b55a8"/>
<rect x="1411.87" y="386.53" width="22.47" height="24.20" fill="#3b55a8"/>
<rect x="1434.35" y="386.53" width="22.47" height="24.20" fill="#f5b5d3"/>
<rect x="1456.82" y="386.53" width="22.47" height="24.20" fill="#3b55a8"/>
<rect x="1479.29" y="386.53" width="22.47" height="24.20" fill="#3b55a8"/>
<rect x="1501.77" y="386.53" width="22.47" height="24.20" fill="#f5b5d3"/>
<rect x="1524.24" y="386.53" width="22.47" height="24.20" fill="#f5b5d3"/>
<rect x="1546.72" y="386.53" width="22.47" height="24.20" fill="#f5b5d3"/>
<rect x="1569.19" y="386.53" width="22.47" height="24.20" fill="#87c5ec"/>
<rect x="1591.66" y="386.53" width="22.47" height="24.20" fill="#f5b5d3"/>
<rect x="1614.14" y="386.53" width="22.47" height="24.20" fill="#f5b5d3"/>
<rect x="1636.61" y="386.53" width="22.47" height="24.20" fill="#3b55a8"/>
<rect x="1659.08" y="386.53" width="22.47" height="24.20" fill="#87c5ec"/>
<rect x="1681.56" y="386.53" width="22.47" height="24.20" fill="#f5b5d3"/>
<rect x="1704.03" y="386.53" width="22.47" height="24.20" fill="#3b55a8"/>
<rect x="1726.51" y="386.53" width="22.47" height="24.20" fill="#3b55a8"/>
<rect x="1748.98" y="386.53" width="22.47" height="24.20" fill="#3b55a8"/>
<rect x="1771.45" y="386.53" width="22.47" height="24.20" fill="#3b55a8"/>
<rect x="1793.93" y="386.53" width="22.47" height="24.20" fill="#87c5ec"/>
<path d="M1389.4,386.5H1816.4V410.7H1389.4ZM1411.9,386.5V410.7M1434.3,386.5V410.7M1456.8,386.5V410.7M1479.3,386.5V410.7M1501.8,386.5V410.7M1524.2,386.5V410.7M1546.7,386.5V410.7M1569.2,386.5V410.7M1591.7,386.5V410.7M1614.1,386.5V410.7M1636.6,386.5V410.7M1659.1,386.5V410.7M1681.6,386.5V410.7M1704.0,386.5V410.7M1726.5,386.5V410.7M1749.0,386.5V410.7M1771.5,386.5V410.7M1793.9,386.5V410.7" fill="none" stroke="#2a2a2a" stroke-width="1.4"/>
<text x="1372.5" y="406.2" font-size="16.2" font-weight="bold" font-style="italic" text-anchor="end" fill="#2a2a72" textLength="192.6" lengthAdjust="spacingAndGlyphs">MAF MAFB dependence</text>
<rect x="1389.40" y="173.10" width="427.00" height="1.60" fill="#c8c8c8"/>
<rect x="1820.80" y="148.30" width="6.80" height="51.40" fill="#1f9c78" stroke="#333" stroke-width="0.8"/>
<rect x="1820.80" y="201.20" width="6.80" height="131.00" fill="#d8642a" stroke="#333" stroke-width="0.8"/>
<rect x="1820.80" y="334.40" width="6.80" height="24.00" fill="#a3c9e3" stroke="#333" stroke-width="0.8"/>
<rect x="1820.80" y="360.20" width="6.80" height="24.40" fill="#e9212a" stroke="#333" stroke-width="0.8"/>
<rect x="1820.80" y="386.40" width="6.80" height="23.80" fill="#3b55a8" stroke="#333" stroke-width="0.8"/>
<path fill="#2e3490" d="M1389.4 423.2h22.8v19.3h-22.8z"/>
<path fill="#9090c8" d="M1411.9 423.2h22.8v19.3h-22.8z"/>
<path fill="#4a5cb0" d="M1434.3 423.2h22.8v19.3h-22.8z"/>
<path fill="#f4f4f8" d="M1456.8 423.2h22.8v19.3h-22.8zM1704.0 480.3h22.8v19.3h-22.8zM1546.7 1886.7h22.8v19.3h-22.8zM1614.1 2057.8h22.8v19.3h-22.8z"/>
<path fill="#5a64b4" d="M1524.2 423.2h22.8v19.3h-22.8z"/>
<path fill="#3b4ea6" d="M1546.7 423.2h22.8v19.3h-22.8zM1569.2 423.2h22.8v19.3h-22.8zM1614.1 423.2h22.8v19.3h-22.8zM1726.5 423.2h22.8v19.3h-22.8zM1749.0 423.2h22.8v19.3h-22.8zM1411.9 442.3h22.8v19.3h-22.8zM1591.7 442.3h22.8v19.3h-22.8zM1636.6 442.3h22.8v19.3h-22.8zM1793.9 442.3h22.8v19.3h-22.8zM1411.9 461.3h22.8v19.3h-22.8zM1501.8 461.3h22.8v19.3h-22.8zM1749.0 461.3h22.8v19.3h-22.8zM1389.4 480.3h22.8v19.3h-22.8zM1434.3 480.3h22.8v19.3h-22.8zM1456.8 480.3h22.8v19.3h-22.8zM1636.6 480.3h22.8v19.3h-22.8zM1681.6 480.3h22.8v19.3h-22.8zM1749.0 480.3h22.8v19.3h-22.8zM1793.9 480.3h22.8v19.3h-22.8zM1434.3 499.3h22.8v19.3h-22.8zM1636.6 499.3h22.8v19.3h-22.8zM1681.6 499.3h22.8v19.3h-22.8zM1749.0 499.3h22.8v19.3h-22.8zM1524.2 518.3h22.8v19.3h-22.8zM1614.1 518.3h22.8v19.3h-22.8zM1726.5 518.3h22.8v19.3h-22.8zM1389.4 537.3h22.8v19.3h-22.8zM1636.6 537.3h22.8v19.3h-22.8zM1659.1 537.3h22.8v19.3h-22.8zM1749.0 537.3h22.8v19.3h-22.8zM1771.5 537.3h22.8v19.3h-22.8zM1479.3 556.3h22.8v19.3h-22.8zM1771.5 594.3h22.8v19.3h-22.8zM1704.0 613.3h22.8v19.3h-22.8zM1726.5 613.3h22.8v19.3h-22.8zM1659.1 632.3h22.8v19.3h-22.8zM1524.2 651.3h22.8v19.3h-22.8zM1546.7 651.3h22.8v19.3h-22.8zM1591.7 651.3h22.8v19.3h-22.8zM1636.6 651.3h22.8v19.3h-22.8zM1389.4 670.3h22.8v19.3h-22.8zM1569.2 670.3h22.8v19.3h-22.8zM1591.7 670.3h22.8v19.3h-22.8zM1726.5 670.3h22.8v19.3h-22.8zM1749.0 670.3h22.8v19.3h-22.8zM1411.9 689.3h22.8v19.3h-22.8zM1569.2 689.3h22.8v19.3h-22.8zM1636.6 689.3h22.8v19.3h-22.8zM1659.1 689.3h22.8v19.3h-22.8zM1434.3 708.3h22.8v19.3h-22.8zM1456.8 708.3h22.8v19.3h-22.8zM1501.8 708.3h22.8v19.3h-22.8zM1524.2 727.4h22.8v19.3h-22.8zM1524.2 746.4h22.8v19.3h-22.8zM1636.6 765.4h22.8v19.3h-22.8zM1726.5 765.4h22.8v19.3h-22.8zM1749.0 784.4h22.8v19.3h-22.8zM1771.5 784.4h22.8v19.3h-22.8zM1636.6 803.4h22.8v19.3h-22.8zM1591.7 822.4h22.8v19.3h-22.8zM1704.0 822.4h22.8v19.3h-22.8zM1793.9 822.4h22.8v19.3h-22.8zM1524.2 841.4h22.8v19.3h-22.8zM1411.9 860.4h22.8v19.3h-22.8zM1501.8 860.4h22.8v19.3h-22.8zM1636.6 879.4h22.8v19.3h-22.8zM1771.5 879.4h22.8v19.3h-22.8zM1411.9 898.4h22.8v19.3h-22.8zM1456.8 898.4h22.8v19.3h-22.8zM1681.6 898.4h22.8v19.3h-22.8zM1726.5 898.4h22.8v19.3h-22.8zM1749.0 898.4h22.8v19.3h-22.8zM1434.3 917.4h22.8v19.3h-22.8zM1501.8 917.4h22.8v19.3h-22.8zM1726.5 917.4h22.8v19.3h-22.8zM1456.8 936.4h22.8v19.3h-22.8zM1614.1 936.4h22.8v19.3h-22.8zM1636.6 936.4h22.8v19.3h-22.8zM1681.6 936.4h22.8v19.3h-22.8zM1771.5 936.4h22.8v19.3h-22.8zM1411.9 955.4h22.8v19.3h-22.8zM1479.3 955.4h22.8v19.3h-22.8zM1659.1 955.4h22.8v19.3h-22.8zM1749.0 955.4h22.8v19.3h-22.8zM1524.2 974.4h22.8v19.3h-22.8zM1636.6 974.4h22.8v19.3h-22.8zM1659.1 974.4h22.8v19.3h-22.8zM1591.7 993.4h22.8v19.3h-22.8zM1434.3 1012.5h22.8v19.3h-22.8zM1501.8 1012.5h22.8v19.3h-22.8zM1704.0 1012.5h22.8v19.3h-22.8zM1726.5 1012.5h22.8v19.3h-22.8zM1771.5 1012.5h22.8v19.3h-22.8zM1411.9 1031.5h22.8v19.3h-22.8zM1434.3 1031.5h22.8v19.3h-22.8zM1771.5 1031.5h22.8v19.3h-22.8zM1411.9 1050.5h22.8v19.3h-22.8zM1501.8 1050.5h22.8v19.3h-22.8zM1636.6 1050.5h22.8v19.3h-22.8zM1771.5 1050.5h22.8v19.3h-22.8zM1456.8 1088.5h22.8v19.3h-22.8zM1479.3 1088.5h22.8v19.3h-22.8zM1501.8 1088.5h22.8v19.3h-22.8zM1546.7 1088.5h22.8v19.3h-22.8zM1636.6 1088.5h22.8v19.3h-22.8zM1726.5 1088.5h22.8v19.3h-22.8zM1546.7 1107.5h22.8v19.3h-22.8zM1681.6 1107.5h22.8v19.3h-22.8zM1704.0 1107.5h22.8v19.3h-22.8zM1434.3 1126.5h22.8v19.3h-22.8zM1546.7 1126.5h22.8v19.3h-22.8zM1749.0 1145.5h22.8v19.3h-22.8zM1389.4 1164.5h22.8v19.3h-22.8zM1411.9 1164.5h22.8v19.3h-22.8zM1456.8 1164.5h22.8v19.3h-22.8zM1524.2 1183.5h22.8v19.3h-22.8zM1569.2 1183.5h22.8v19.3h-22.8zM1479.3 1202.5h22.8v19.3h-22.8zM1793.9 1202.5h22.8v19.3h-22.8zM1546.7 1221.5h22.8v19.3h-22.8zM1569.2 1221.5h22.8v19.3h-22.8zM1636.6 1221.5h22.8v19.3h-22.8zM1659.1 1221.5h22.8v19.3h-22.8zM1704.0 1221.5h22.8v19.3h-22.8zM1749.0 1221.5h22.8v19.3h-22.8zM1793.9 1221.5h22.8v19.3h-22.8zM1479.3 1240.5h22.8v19.3h-22.8zM1501.8 1240.5h22.8v19.3h-22.8zM1546.7 1240.5h22.8v19.3h-22.8zM1546.7 1259.5h22.8v19.3h-22.8zM1704.0 1259.5h22.8v19.3h-22.8zM1501.8 1278.5h22.8v19.3h-22.8zM1524.2 1278.5h22.8v19.3h-22.8zM1546.7 1278.5h22.8v19.3h-22.8zM1569.2 1278.5h22.8v19.3h-22.8zM1704.0 1278.5h22.8v19.3h-22.8zM1771.5 1278.5h22.8v19.3h-22.8zM1501.8 1297.5h22.8v19.3h-22.8zM1749.0 1297.5h22.8v19.3h-22.8zM1456.8 1316.6h22.8v19.3h-22.8zM1389.4 1335.6h22.8v19.3h-22.8zM1456.8 1335.6h22.8v19.3h-22.8zM1546.7 1335.6h22.8v19.3h-22.8zM1569.2 1335.6h22.8v19.3h-22.8zM1591.7 1335.6h22.8v19.3h-22.8zM1704.0 1335.6h22.8v19.3h-22.8zM1771.5 1335.6h22.8v19.3h-22.8zM1614.1 1354.6h22.8v19.3h-22.8zM1726.5 1354.6h22.8v19.3h-22.8zM1411.9 1373.6h22.8v19.3h-22.8zM1569.2 1373.6h22.8v19.3h-22.8zM1411.9 1411.6h22.8v19.3h-22.8zM1456.8 1411.6h22.8v19.3h-22.8zM1636.6 1411.6h22.8v19.3h-22.8zM1681.6 1411.6h22.8v19.3h-22.8zM1726.5 1411.6h22.8v19.3h-22.8zM1389.4 1430.6h22.8v19.3h-22.8zM1479.3 1430.6h22.8v19.3h-22.8zM1524.2 1430.6h22.8v19.3h-22.8zM1591.7 1430.6h22.8v19.3h-22.8zM1726.5 1430.6h22.8v19.3h-22.8zM1591.7 1449.6h22.8v19.3h-22.8zM1614.1 1449.6h22.8v19.3h-22.8zM1636.6 1449.6h22.8v19.3h-22.8zM1659.1 1449.6h22.8v19.3h-22.8zM1681.6 1449.6h22.8v19.3h-22.8zM1749.0 1449.6h22.8v19.3h-22.8zM1411.9 1468.6h22.8v19.3h-22.8zM1636.6 1468.6h22.8v19.3h-22.8zM1704.0 1468.6h22.8v19.3h-22.8zM1456.8 1487.6h22.8v19.3h-22.8zM1659.1 1487.6h22.8v19.3h-22.8zM1411.9 1506.6h22.8v19.3h-22.8zM1569.2 1506.6h22.8v19.3h-22.8zM1591.7 1506.6h22.8v19.3h-22.8zM1726.5 1506.6h22.8v19.3h-22.8zM1793.9 1506.6h22.8v19.3h-22.8zM1389.4 1525.6h22.8v19.3h-22.8zM1411.9 1525.6h22.8v19.3h-22.8zM1479.3 1525.6h22.8v19.3h-22.8zM1636.6 1525.6h22.8v19.3h-22.8zM1726.5 1525.6h22.8v19.3h-22.8zM1726.5 1544.6h22.8v19.3h-22.8zM1636.6 1563.6h22.8v19.3h-22.8zM1681.6 1563.6h22.8v19.3h-22.8zM1749.0 1563.6h22.8v19.3h-22.8zM1501.8 1582.6h22.8v19.3h-22.8zM1546.7 1582.6h22.8v19.3h-22.8zM1591.7 1582.6h22.8v19.3h-22.8zM1636.6 1582.6h22.8v19.3h-22.8zM1749.0 1582.6h22.8v19.3h-22.8zM1546.7 1601.7h22.8v19.3h-22.8zM1659.1 1601.7h22.8v19.3h-22.8zM1411.9 1620.7h22.8v19.3h-22.8zM1434.3 1620.7h22.8v19.3h-22.8zM1546.7 1620.7h22.8v19.3h-22.8zM1614.1 1620.7h22.8v19.3h-22.8zM1749.0 1620.7h22.8v19.3h-22.8zM1434.3 1639.7h22.8v19.3h-22.8zM1546.7 1639.7h22.8v19.3h-22.8zM1636.6 1639.7h22.8v19.3h-22.8zM1659.1 1639.7h22.8v19.3h-22.8zM1793.9 1639.7h22.8v19.3h-22.8zM1614.1 1658.7h22.8v19.3h-22.8zM1681.6 1658.7h22.8v19.3h-22.8zM1524.2 1677.7h22.8v19.3h-22.8zM1636.6 1677.7h22.8v19.3h-22.8zM1659.1 1677.7h22.8v19.3h-22.8zM1389.4 1696.7h22.8v19.3h-22.8zM1771.5 1696.7h22.8v19.3h-22.8zM1793.9 1696.7h22.8v19.3h-22.8zM1411.9 1715.7h22.8v19.3h-22.8zM1591.7 1753.7h22.8v19.3h-22.8zM1659.1 1753.7h22.8v19.3h-22.8zM1456.8 1772.7h22.8v19.3h-22.8zM1524.2 1772.7h22.8v19.3h-22.8zM1793.9 1772.7h22.8v19.3h-22.8zM1501.8 1791.7h22.8v19.3h-22.8zM1546.7 1791.7h22.8v19.3h-22.8zM1771.5 1810.7h22.8v19.3h-22.8zM1456.8 1829.7h22.8v19.3h-22.8zM1479.3 1829.7h22.8v19.3h-22.8zM1704.0 1829.7h22.8v19.3h-22.8zM1749.0 1829.7h22.8v19.3h-22.8zM1793.9 1829.7h22.8v19.3h-22.8zM1456.8 1848.7h22.8v19.3h-22.8zM1704.0 1848.7h22.8v19.3h-22.8zM1389.4 1867.7h22.8v19.3h-22.8zM1501.8 1867.7h22.8v19.3h-22.8zM1546.7 1867.7h22.8v19.3h-22.8zM1636.6 1867.7h22.8v19.3h-22.8zM1726.5 1867.7h22.8v19.3h-22.8zM1411.9 1886.7h22.8v19.3h-22.8zM1479.3 1886.7h22.8v19.3h-22.8zM1524.2 1886.7h22.8v19.3h-22.8zM1569.2 1886.7h22.8v19.3h-22.8zM1771.5 1905.8h22.8v19.3h-22.8zM1546.7 1924.8h22.8v19.3h-22.8zM1569.2 1924.8h22.8v19.3h-22.8zM1636.6 1924.8h22.8v19.3h-22.8zM1659.1 1924.8h22.8v19.3h-22.8zM1524.2 1943.8h22.8v19.3h-22.8zM1726.5 1943.8h22.8v19.3h-22.8zM1524.2 1962.8h22.8v19.3h-22.8zM1591.7 1962.8h22.8v19.3h-22.8zM1659.1 1962.8h22.8v19.3h-22.8zM1793.9 1962.8h22.8v19.3h-22.8zM1456.8 1981.8h22.8v19.3h-22.8zM1479.3 1981.8h22.8v19.3h-22.8zM1524.2 1981.8h22.8v19.3h-22.8zM1501.8 2038.8h22.8v19.3h-22.8zM1636.6 2038.8h22.8v19.3h-22.8zM1411.9 2057.8h22.8v19.3h-22.8zM1501.8 2057.8h22.8v19.3h-22.8zM1659.1 2057.8h22.8v19.3h-22.8zM1681.6 2057.8h22.8v19.3h-22.8zM1771.5 2057.8h22.8v19.3h-22.8zM1793.9 2057.8h22.8v19.3h-22.8zM1389.4 2095.8h22.8v19.3h-22.8zM1479.3 2114.8h22.8v19.3h-22.8zM1569.2 2114.8h22.8v19.3h-22.8zM1591.7 2114.8h22.8v19.3h-22.8zM1636.6 2114.8h22.8v19.3h-22.8zM1659.1 2114.8h22.8v19.3h-22.8zM1681.6 2114.8h22.8v19.3h-22.8zM1704.0 2114.8h22.8v19.3h-22.8zM1726.5 2114.8h22.8v19.3h-22.8zM1456.8 2133.8h22.8v19.3h-22.8zM1793.9 2133.8h22.8v19.3h-22.8zM1749.0 2152.8h22.8v19.3h-22.8zM1456.8 2171.8h22.8v19.3h-22.8zM1479.3 2171.8h22.8v19.3h-22.8zM1726.5 2171.8h22.8v19.3h-22.8zM1771.5 2171.8h22.8v19.3h-22.8zM1389.4 2190.9h22.8v19.3h-22.8zM1501.8 2190.9h22.8v19.3h-22.8zM1591.7 2190.9h22.8v19.3h-22.8zM1636.6 2190.9h22.8v19.3h-22.8zM1793.9 2190.9h22.8v19.3h-22.8zM1389.4 2209.9h22.8v19.3h-22.8zM1456.8 2228.9h22.8v19.3h-22.8zM1501.8 2228.9h22.8v19.3h-22.8zM1726.5 2228.9h22.8v19.3h-22.8zM1793.9 2228.9h22.8v19.3h-22.8zM1591.7 2266.9h22.8v19.3h-22.8zM1659.1 2266.9h22.8v19.3h-22.8zM1704.0 2266.9h22.8v19.3h-22.8zM1771.5 2266.9h22.8v19.3h-22.8zM1771.5 2285.9h22.8v19.3h-22.8zM1524.2 2304.9h22.8v19.3h-22.8zM1591.7 2304.9h22.8v19.3h-22.8zM1749.0 2304.9h22.8v19.3h-22.8zM1771.5 2304.9h22.8v19.3h-22.8zM1546.7 2342.9h22.8v19.3h-22.8zM1659.1 2342.9h22.8v19.3h-22.8zM1389.4 2361.9h22.8v19.3h-22.8zM1479.3 2361.9h22.8v19.3h-22.8zM1726.5 2361.9h22.8v19.3h-22.8zM1569.2 2380.9h22.8v19.3h-22.8zM1591.7 2380.9h22.8v19.3h-22.8zM1704.0 2380.9h22.8v19.3h-22.8zM1726.5 2380.9h22.8v19.3h-22.8zM1793.9 2399.9h22.8v19.3h-22.8zM1501.8 2418.9h22.8v19.3h-22.8zM1569.2 2418.9h22.8v19.3h-22.8zM1726.5 2418.9h22.8v19.3h-22.8zM1389.4 2437.9h22.8v19.3h-22.8zM1524.2 2437.9h22.8v19.3h-22.8zM1726.5 2437.9h22.8v19.3h-22.8zM1636.6 2456.9h22.8v19.3h-22.8zM1524.2 2475.9h22.8v19.3h-22.8zM1411.9 2514.0h22.8v19.3h-22.8zM1456.8 2514.0h22.8v19.3h-22.8zM1524.2 2514.0h22.8v19.3h-22.8zM1569.2 2514.0h22.8v19.3h-22.8zM1659.1 2514.0h22.8v19.3h-22.8zM1704.0 2514.0h22.8v19.3h-22.8zM1749.0 2514.0h22.8v19.3h-22.8zM1501.8 2533.0h22.8v19.3h-22.8zM1591.7 2533.0h22.8v19.3h-22.8zM1771.5 2533.0h22.8v19.3h-22.8zM1793.9 2533.0h22.8v19.3h-22.8zM1434.3 2552.0h22.8v19.3h-22.8zM1479.3 2571.0h22.8v19.3h-22.8zM1726.5 2571.0h22.8v19.3h-22.8zM1501.8 2590.0h22.8v19.3h-22.8zM1614.1 2590.0h22.8v19.3h-22.8zM1501.8 2609.0h22.8v19.3h-22.8zM1546.7 2609.0h22.8v19.3h-22.8zM1659.1 2609.0h22.8v19.3h-22.8zM1749.0 2609.0h22.8v19.3h-22.8z"/>
<path fill="#22205a" d="M1591.7 423.2h22.8v19.3h-22.8z"/>
<path fill="#eaeaf4" d="M1636.6 423.2h22.8v19.3h-22.8zM1411.9 1183.5h22.8v19.3h-22.8zM1411.9 1202.5h22.8v19.3h-22.8z"/>
<path fill="#8c8cc8" d="M1771.5 423.2h22.8v19.3h-22.8zM1749.0 575.3h22.8v19.3h-22.8z"/>
<path fill="#12124a" d="M1389.4 442.3h22.8v19.3h-22.8z"/>
<path fill="#151525" d="M1456.8 442.3h22.8v19.3h-22.8z"/>
<path fill="#d0d0e8" d="M1479.3 442.3h22.8v19.3h-22.8zM1479.3 499.3h22.8v19.3h-22.8zM1569.2 974.4h22.8v19.3h-22.8zM1569.2 1088.5h22.8v19.3h-22.8zM1726.5 2456.9h22.8v19.3h-22.8z"/>
<path fill="#1f1f60" d="M1524.2 442.3h22.8v19.3h-22.8z"/>
<path fill="#2f3b9a" d="M1614.1 442.3h22.8v19.3h-22.8zM1389.4 461.3h22.8v19.3h-22.8zM1411.9 480.3h22.8v19.3h-22.8zM1501.8 480.3h22.8v19.3h-22.8zM1614.1 480.3h22.8v19.3h-22.8zM1659.1 480.3h22.8v19.3h-22.8zM1456.8 499.3h22.8v19.3h-22.8zM1524.2 499.3h22.8v19.3h-22.8zM1659.1 499.3h22.8v19.3h-22.8zM1771.5 518.3h22.8v19.3h-22.8zM1793.9 518.3h22.8v19.3h-22.8zM1411.9 537.3h22.8v19.3h-22.8zM1524.2 537.3h22.8v19.3h-22.8zM1681.6 537.3h22.8v19.3h-22.8zM1704.0 556.3h22.8v19.3h-22.8zM1771.5 556.3h22.8v19.3h-22.8zM1389.4 575.3h22.8v19.3h-22.8zM1434.3 575.3h22.8v19.3h-22.8zM1749.0 613.3h22.8v19.3h-22.8zM1793.9 613.3h22.8v19.3h-22.8zM1726.5 632.3h22.8v19.3h-22.8zM1793.9 632.3h22.8v19.3h-22.8zM1389.4 651.3h22.8v19.3h-22.8zM1411.9 651.3h22.8v19.3h-22.8zM1479.3 651.3h22.8v19.3h-22.8zM1771.5 651.3h22.8v19.3h-22.8zM1501.8 670.3h22.8v19.3h-22.8zM1614.1 670.3h22.8v19.3h-22.8zM1659.1 746.4h22.8v19.3h-22.8zM1704.0 746.4h22.8v19.3h-22.8zM1501.8 765.4h22.8v19.3h-22.8zM1389.4 803.4h22.8v19.3h-22.8zM1749.0 803.4h22.8v19.3h-22.8zM1456.8 841.4h22.8v19.3h-22.8zM1546.7 841.4h22.8v19.3h-22.8zM1434.3 860.4h22.8v19.3h-22.8zM1479.3 860.4h22.8v19.3h-22.8zM1681.6 860.4h22.8v19.3h-22.8zM1479.3 898.4h22.8v19.3h-22.8zM1659.1 898.4h22.8v19.3h-22.8zM1749.0 917.4h22.8v19.3h-22.8zM1771.5 917.4h22.8v19.3h-22.8zM1793.9 917.4h22.8v19.3h-22.8zM1524.2 936.4h22.8v19.3h-22.8zM1546.7 936.4h22.8v19.3h-22.8zM1659.1 936.4h22.8v19.3h-22.8zM1749.0 936.4h22.8v19.3h-22.8zM1636.6 955.4h22.8v19.3h-22.8zM1793.9 955.4h22.8v19.3h-22.8zM1501.8 974.4h22.8v19.3h-22.8zM1411.9 993.4h22.8v19.3h-22.8zM1479.3 1012.5h22.8v19.3h-22.8zM1591.7 1012.5h22.8v19.3h-22.8zM1704.0 1031.5h22.8v19.3h-22.8zM1726.5 1031.5h22.8v19.3h-22.8zM1434.3 1050.5h22.8v19.3h-22.8zM1569.2 1050.5h22.8v19.3h-22.8zM1614.1 1050.5h22.8v19.3h-22.8zM1726.5 1050.5h22.8v19.3h-22.8zM1569.2 1069.5h22.8v19.3h-22.8zM1591.7 1069.5h22.8v19.3h-22.8zM1704.0 1069.5h22.8v19.3h-22.8zM1501.8 1107.5h22.8v19.3h-22.8zM1726.5 1107.5h22.8v19.3h-22.8zM1636.6 1126.5h22.8v19.3h-22.8zM1793.9 1126.5h22.8v19.3h-22.8zM1591.7 1145.5h22.8v19.3h-22.8zM1681.6 1145.5h22.8v19.3h-22.8zM1434.3 1164.5h22.8v19.3h-22.8zM1771.5 1164.5h22.8v19.3h-22.8zM1546.7 1183.5h22.8v19.3h-22.8zM1681.6 1183.5h22.8v19.3h-22.8zM1434.3 1202.5h22.8v19.3h-22.8zM1771.5 1202.5h22.8v19.3h-22.8zM1389.4 1221.5h22.8v19.3h-22.8zM1434.3 1221.5h22.8v19.3h-22.8zM1501.8 1221.5h22.8v19.3h-22.8zM1681.6 1240.5h22.8v19.3h-22.8zM1501.8 1259.5h22.8v19.3h-22.8zM1614.1 1259.5h22.8v19.3h-22.8zM1771.5 1259.5h22.8v19.3h-22.8zM1411.9 1278.5h22.8v19.3h-22.8zM1456.8 1297.5h22.8v19.3h-22.8zM1546.7 1297.5h22.8v19.3h-22.8zM1546.7 1316.6h22.8v19.3h-22.8zM1569.2 1316.6h22.8v19.3h-22.8zM1524.2 1354.6h22.8v19.3h-22.8zM1636.6 1373.6h22.8v19.3h-22.8zM1681.6 1373.6h22.8v19.3h-22.8zM1591.7 1411.6h22.8v19.3h-22.8zM1501.8 1430.6h22.8v19.3h-22.8zM1546.7 1430.6h22.8v19.3h-22.8zM1569.2 1468.6h22.8v19.3h-22.8zM1726.5 1468.6h22.8v19.3h-22.8zM1524.2 1506.6h22.8v19.3h-22.8zM1659.1 1525.6h22.8v19.3h-22.8zM1434.3 1563.6h22.8v19.3h-22.8zM1479.3 1563.6h22.8v19.3h-22.8zM1659.1 1563.6h22.8v19.3h-22.8zM1456.8 1620.7h22.8v19.3h-22.8zM1501.8 1620.7h22.8v19.3h-22.8zM1681.6 1620.7h22.8v19.3h-22.8zM1793.9 1620.7h22.8v19.3h-22.8zM1456.8 1639.7h22.8v19.3h-22.8zM1501.8 1658.7h22.8v19.3h-22.8zM1614.1 1753.7h22.8v19.3h-22.8zM1614.1 1791.7h22.8v19.3h-22.8zM1524.2 1810.7h22.8v19.3h-22.8zM1524.2 1829.7h22.8v19.3h-22.8zM1749.0 1848.7h22.8v19.3h-22.8zM1434.3 1867.7h22.8v19.3h-22.8zM1434.3 1886.7h22.8v19.3h-22.8zM1681.6 1886.7h22.8v19.3h-22.8zM1749.0 1905.8h22.8v19.3h-22.8zM1389.4 1924.8h22.8v19.3h-22.8zM1591.7 1924.8h22.8v19.3h-22.8zM1614.1 1924.8h22.8v19.3h-22.8zM1704.0 1943.8h22.8v19.3h-22.8zM1456.8 1962.8h22.8v19.3h-22.8zM1479.3 1962.8h22.8v19.3h-22.8zM1501.8 1962.8h22.8v19.3h-22.8zM1704.0 1962.8h22.8v19.3h-22.8zM1726.5 1962.8h22.8v19.3h-22.8zM1636.6 1981.8h22.8v19.3h-22.8zM1411.9 2000.8h22.8v19.3h-22.8zM1771.5 2038.8h22.8v19.3h-22.8zM1793.9 2038.8h22.8v19.3h-22.8zM1434.3 2057.8h22.8v19.3h-22.8zM1569.2 2057.8h22.8v19.3h-22.8zM1546.7 2095.8h22.8v19.3h-22.8zM1456.8 2114.8h22.8v19.3h-22.8zM1524.2 2114.8h22.8v19.3h-22.8zM1771.5 2114.8h22.8v19.3h-22.8zM1546.7 2133.8h22.8v19.3h-22.8zM1591.7 2133.8h22.8v19.3h-22.8zM1479.3 2152.8h22.8v19.3h-22.8zM1546.7 2152.8h22.8v19.3h-22.8zM1591.7 2152.8h22.8v19.3h-22.8zM1636.6 2152.8h22.8v19.3h-22.8zM1524.2 2171.8h22.8v19.3h-22.8zM1591.7 2171.8h22.8v19.3h-22.8zM1659.1 2171.8h22.8v19.3h-22.8zM1411.9 2190.9h22.8v19.3h-22.8zM1456.8 2190.9h22.8v19.3h-22.8zM1479.3 2190.9h22.8v19.3h-22.8zM1524.2 2190.9h22.8v19.3h-22.8zM1614.1 2190.9h22.8v19.3h-22.8zM1591.7 2209.9h22.8v19.3h-22.8zM1749.0 2247.9h22.8v19.3h-22.8zM1726.5 2266.9h22.8v19.3h-22.8zM1389.4 2285.9h22.8v19.3h-22.8zM1456.8 2285.9h22.8v19.3h-22.8zM1389.4 2304.9h22.8v19.3h-22.8zM1456.8 2304.9h22.8v19.3h-22.8zM1659.1 2304.9h22.8v19.3h-22.8zM1456.8 2361.9h22.8v19.3h-22.8zM1704.0 2361.9h22.8v19.3h-22.8zM1771.5 2361.9h22.8v19.3h-22.8zM1411.9 2380.9h22.8v19.3h-22.8zM1456.8 2380.9h22.8v19.3h-22.8zM1501.8 2380.9h22.8v19.3h-22.8zM1591.7 2399.9h22.8v19.3h-22.8zM1524.2 2418.9h22.8v19.3h-22.8zM1546.7 2437.9h22.8v19.3h-22.8zM1771.5 2456.9h22.8v19.3h-22.8zM1591.7 2514.0h22.8v19.3h-22.8zM1434.3 2533.0h22.8v19.3h-22.8zM1524.2 2533.0h22.8v19.3h-22.8zM1749.0 2533.0h22.8v19.3h-22.8zM1749.0 2552.0h22.8v19.3h-22.8zM1591.7 2571.0h22.8v19.3h-22.8zM1411.9 2590.0h22.8v19.3h-22.8zM1524.2 2590.0h22.8v19.3h-22.8zM1569.2 2590.0h22.8v19.3h-22.8zM1704.0 2609.0h22.8v19.3h-22.8z"/>
<path fill="#6068b8" d="M1704.0 442.3h22.8v19.3h-22.8zM1546.7 746.4h22.8v19.3h-22.8z"/>
<path fill="#222266" d="M1726.5 442.3h22.8v19.3h-22.8zM1479.3 1069.5h22.8v19.3h-22.8zM1501.8 1069.5h22.8v19.3h-22.8z"/>
<path fill="#070709" d="M1749.0 442.3h22.8v19.3h-22.8zM1524.2 480.3h22.8v19.3h-22.8zM1389.4 556.3h22.8v19.3h-22.8zM1411.9 556.3h22.8v19.3h-22.8zM1456.8 556.3h22.8v19.3h-22.8zM1726.5 556.3h22.8v19.3h-22.8zM1749.0 556.3h22.8v19.3h-22.8zM1411.9 594.3h22.8v19.3h-22.8zM1726.5 594.3h22.8v19.3h-22.8zM1704.0 651.3h22.8v19.3h-22.8zM1749.0 651.3h22.8v19.3h-22.8zM1389.4 689.3h22.8v19.3h-22.8zM1501.8 689.3h22.8v19.3h-22.8zM1614.1 689.3h22.8v19.3h-22.8zM1704.0 689.3h22.8v19.3h-22.8zM1749.0 689.3h22.8v19.3h-22.8zM1793.9 689.3h22.8v19.3h-22.8zM1411.9 765.4h22.8v19.3h-22.8zM1546.7 765.4h22.8v19.3h-22.8zM1704.0 765.4h22.8v19.3h-22.8zM1793.9 765.4h22.8v19.3h-22.8zM1389.4 784.4h22.8v19.3h-22.8zM1411.9 784.4h22.8v19.3h-22.8zM1434.3 784.4h22.8v19.3h-22.8zM1479.3 784.4h22.8v19.3h-22.8zM1501.8 784.4h22.8v19.3h-22.8zM1524.2 784.4h22.8v19.3h-22.8zM1546.7 784.4h22.8v19.3h-22.8zM1569.2 784.4h22.8v19.3h-22.8zM1591.7 784.4h22.8v19.3h-22.8zM1636.6 784.4h22.8v19.3h-22.8zM1659.1 784.4h22.8v19.3h-22.8zM1681.6 784.4h22.8v19.3h-22.8zM1704.0 784.4h22.8v19.3h-22.8zM1793.9 784.4h22.8v19.3h-22.8zM1793.9 841.4h22.8v19.3h-22.8zM1546.7 860.4h22.8v19.3h-22.8zM1569.2 860.4h22.8v19.3h-22.8zM1591.7 860.4h22.8v19.3h-22.8zM1569.2 879.4h22.8v19.3h-22.8zM1591.7 879.4h22.8v19.3h-22.8zM1569.2 898.4h22.8v19.3h-22.8zM1614.1 898.4h22.8v19.3h-22.8zM1704.0 898.4h22.8v19.3h-22.8zM1389.4 917.4h22.8v19.3h-22.8zM1479.3 917.4h22.8v19.3h-22.8zM1524.2 917.4h22.8v19.3h-22.8zM1546.7 917.4h22.8v19.3h-22.8zM1569.2 917.4h22.8v19.3h-22.8zM1591.7 917.4h22.8v19.3h-22.8zM1614.1 917.4h22.8v19.3h-22.8zM1681.6 917.4h22.8v19.3h-22.8zM1704.0 917.4h22.8v19.3h-22.8zM1614.1 955.4h22.8v19.3h-22.8zM1704.0 955.4h22.8v19.3h-22.8zM1501.8 993.4h22.8v19.3h-22.8zM1546.7 993.4h22.8v19.3h-22.8zM1614.1 993.4h22.8v19.3h-22.8zM1636.6 993.4h22.8v19.3h-22.8zM1681.6 993.4h22.8v19.3h-22.8zM1749.0 993.4h22.8v19.3h-22.8zM1524.2 1012.5h22.8v19.3h-22.8zM1569.2 1012.5h22.8v19.3h-22.8zM1659.1 1012.5h22.8v19.3h-22.8zM1681.6 1012.5h22.8v19.3h-22.8zM1749.0 1012.5h22.8v19.3h-22.8zM1479.3 1031.5h22.8v19.3h-22.8zM1501.8 1031.5h22.8v19.3h-22.8zM1546.7 1031.5h22.8v19.3h-22.8zM1659.1 1031.5h22.8v19.3h-22.8zM1681.6 1031.5h22.8v19.3h-22.8zM1389.4 1069.5h22.8v19.3h-22.8zM1524.2 1088.5h22.8v19.3h-22.8zM1591.7 1088.5h22.8v19.3h-22.8zM1614.1 1088.5h22.8v19.3h-22.8zM1771.5 1088.5h22.8v19.3h-22.8zM1793.9 1088.5h22.8v19.3h-22.8zM1771.5 1107.5h22.8v19.3h-22.8zM1501.8 1126.5h22.8v19.3h-22.8zM1614.1 1145.5h22.8v19.3h-22.8zM1546.7 1164.5h22.8v19.3h-22.8zM1614.1 1164.5h22.8v19.3h-22.8zM1704.0 1164.5h22.8v19.3h-22.8zM1749.0 1164.5h22.8v19.3h-22.8zM1501.8 1183.5h22.8v19.3h-22.8zM1614.1 1183.5h22.8v19.3h-22.8zM1501.8 1202.5h22.8v19.3h-22.8zM1524.2 1202.5h22.8v19.3h-22.8zM1591.7 1202.5h22.8v19.3h-22.8zM1614.1 1202.5h22.8v19.3h-22.8zM1659.1 1202.5h22.8v19.3h-22.8zM1681.6 1202.5h22.8v19.3h-22.8zM1704.0 1202.5h22.8v19.3h-22.8zM1591.7 1240.5h22.8v19.3h-22.8zM1614.1 1297.5h22.8v19.3h-22.8zM1659.1 1297.5h22.8v19.3h-22.8zM1681.6 1297.5h22.8v19.3h-22.8zM1591.7 1316.6h22.8v19.3h-22.8zM1659.1 1316.6h22.8v19.3h-22.8zM1771.5 1316.6h22.8v19.3h-22.8zM1614.1 1373.6h22.8v19.3h-22.8zM1456.8 1392.6h22.8v19.3h-22.8zM1614.1 1392.6h22.8v19.3h-22.8zM1636.6 1430.6h22.8v19.3h-22.8zM1681.6 1430.6h22.8v19.3h-22.8zM1749.0 1430.6h22.8v19.3h-22.8zM1771.5 1430.6h22.8v19.3h-22.8zM1614.1 1468.6h22.8v19.3h-22.8zM1479.3 1487.6h22.8v19.3h-22.8zM1524.2 1487.6h22.8v19.3h-22.8zM1614.1 1487.6h22.8v19.3h-22.8zM1681.6 1487.6h22.8v19.3h-22.8zM1704.0 1487.6h22.8v19.3h-22.8zM1434.3 1506.6h22.8v19.3h-22.8zM1479.3 1506.6h22.8v19.3h-22.8zM1501.8 1506.6h22.8v19.3h-22.8zM1614.1 1506.6h22.8v19.3h-22.8zM1681.6 1506.6h22.8v19.3h-22.8zM1704.0 1506.6h22.8v19.3h-22.8zM1749.0 1506.6h22.8v19.3h-22.8zM1434.3 1525.6h22.8v19.3h-22.8zM1524.2 1525.6h22.8v19.3h-22.8zM1434.3 1544.6h22.8v19.3h-22.8zM1456.8 1544.6h22.8v19.3h-22.8zM1479.3 1544.6h22.8v19.3h-22.8zM1659.1 1544.6h22.8v19.3h-22.8zM1681.6 1544.6h22.8v19.3h-22.8zM1569.2 1563.6h22.8v19.3h-22.8zM1704.0 1563.6h22.8v19.3h-22.8zM1659.1 1582.6h22.8v19.3h-22.8zM1501.8 1639.7h22.8v19.3h-22.8zM1771.5 1639.7h22.8v19.3h-22.8zM1434.3 1677.7h22.8v19.3h-22.8zM1614.1 1677.7h22.8v19.3h-22.8zM1749.0 1677.7h22.8v19.3h-22.8zM1501.8 1696.7h22.8v19.3h-22.8zM1501.8 1715.7h22.8v19.3h-22.8zM1434.3 1734.7h22.8v19.3h-22.8zM1501.8 1734.7h22.8v19.3h-22.8zM1434.3 1753.7h22.8v19.3h-22.8zM1434.3 1810.7h22.8v19.3h-22.8zM1501.8 1810.7h22.8v19.3h-22.8zM1546.7 1810.7h22.8v19.3h-22.8zM1591.7 1810.7h22.8v19.3h-22.8zM1614.1 1810.7h22.8v19.3h-22.8zM1681.6 1810.7h22.8v19.3h-22.8zM1411.9 1829.7h22.8v19.3h-22.8zM1434.3 1829.7h22.8v19.3h-22.8zM1501.8 1829.7h22.8v19.3h-22.8zM1546.7 1829.7h22.8v19.3h-22.8zM1569.2 1829.7h22.8v19.3h-22.8zM1591.7 1829.7h22.8v19.3h-22.8zM1614.1 1829.7h22.8v19.3h-22.8zM1681.6 1829.7h22.8v19.3h-22.8zM1389.4 1848.7h22.8v19.3h-22.8zM1411.9 1848.7h22.8v19.3h-22.8zM1434.3 1848.7h22.8v19.3h-22.8zM1501.8 1848.7h22.8v19.3h-22.8zM1614.1 1848.7h22.8v19.3h-22.8zM1681.6 1848.7h22.8v19.3h-22.8zM1434.3 1905.8h22.8v19.3h-22.8zM1479.3 1905.8h22.8v19.3h-22.8zM1501.8 1905.8h22.8v19.3h-22.8zM1614.1 1905.8h22.8v19.3h-22.8zM1704.0 1905.8h22.8v19.3h-22.8zM1389.4 1943.8h22.8v19.3h-22.8zM1411.9 1943.8h22.8v19.3h-22.8zM1434.3 1943.8h22.8v19.3h-22.8zM1546.7 1943.8h22.8v19.3h-22.8zM1614.1 1943.8h22.8v19.3h-22.8zM1659.1 1943.8h22.8v19.3h-22.8zM1681.6 1943.8h22.8v19.3h-22.8zM1771.5 1943.8h22.8v19.3h-22.8zM1389.4 1962.8h22.8v19.3h-22.8zM1411.9 1962.8h22.8v19.3h-22.8zM1569.2 1962.8h22.8v19.3h-22.8zM1411.9 1981.8h22.8v19.3h-22.8zM1434.3 1981.8h22.8v19.3h-22.8zM1501.8 1981.8h22.8v19.3h-22.8zM1591.7 1981.8h22.8v19.3h-22.8zM1704.0 1981.8h22.8v19.3h-22.8zM1749.0 1981.8h22.8v19.3h-22.8zM1771.5 1981.8h22.8v19.3h-22.8zM1793.9 1981.8h22.8v19.3h-22.8zM1434.3 2000.8h22.8v19.3h-22.8zM1389.4 2019.8h22.8v19.3h-22.8zM1411.9 2019.8h22.8v19.3h-22.8zM1434.3 2019.8h22.8v19.3h-22.8zM1456.8 2019.8h22.8v19.3h-22.8zM1479.3 2019.8h22.8v19.3h-22.8zM1501.8 2019.8h22.8v19.3h-22.8zM1524.2 2019.8h22.8v19.3h-22.8zM1546.7 2019.8h22.8v19.3h-22.8zM1569.2 2019.8h22.8v19.3h-22.8zM1591.7 2019.8h22.8v19.3h-22.8zM1614.1 2019.8h22.8v19.3h-22.8zM1636.6 2019.8h22.8v19.3h-22.8zM1659.1 2019.8h22.8v19.3h-22.8zM1681.6 2019.8h22.8v19.3h-22.8zM1704.0 2019.8h22.8v19.3h-22.8zM1749.0 2019.8h22.8v19.3h-22.8zM1771.5 2019.8h22.8v19.3h-22.8zM1793.9 2019.8h22.8v19.3h-22.8zM1389.4 2038.8h22.8v19.3h-22.8zM1411.9 2038.8h22.8v19.3h-22.8zM1434.3 2038.8h22.8v19.3h-22.8zM1569.2 2038.8h22.8v19.3h-22.8zM1614.1 2038.8h22.8v19.3h-22.8zM1659.1 2038.8h22.8v19.3h-22.8zM1389.4 2076.8h22.8v19.3h-22.8zM1411.9 2076.8h22.8v19.3h-22.8zM1434.3 2076.8h22.8v19.3h-22.8zM1479.3 2076.8h22.8v19.3h-22.8zM1614.1 2076.8h22.8v19.3h-22.8zM1659.1 2076.8h22.8v19.3h-22.8zM1681.6 2076.8h22.8v19.3h-22.8zM1726.5 2076.8h22.8v19.3h-22.8zM1749.0 2076.8h22.8v19.3h-22.8zM1771.5 2076.8h22.8v19.3h-22.8zM1793.9 2076.8h22.8v19.3h-22.8zM1681.6 2095.8h22.8v19.3h-22.8zM1389.4 2133.8h22.8v19.3h-22.8zM1434.3 2133.8h22.8v19.3h-22.8zM1389.4 2152.8h22.8v19.3h-22.8zM1411.9 2152.8h22.8v19.3h-22.8zM1434.3 2152.8h22.8v19.3h-22.8zM1501.8 2152.8h22.8v19.3h-22.8zM1614.1 2152.8h22.8v19.3h-22.8zM1659.1 2152.8h22.8v19.3h-22.8zM1681.6 2152.8h22.8v19.3h-22.8zM1704.0 2152.8h22.8v19.3h-22.8zM1411.9 2171.8h22.8v19.3h-22.8zM1614.1 2171.8h22.8v19.3h-22.8zM1681.6 2171.8h22.8v19.3h-22.8zM1704.0 2171.8h22.8v19.3h-22.8zM1434.3 2190.9h22.8v19.3h-22.8zM1704.0 2190.9h22.8v19.3h-22.8zM1434.3 2209.9h22.8v19.3h-22.8zM1614.1 2209.9h22.8v19.3h-22.8zM1704.0 2209.9h22.8v19.3h-22.8zM1793.9 2209.9h22.8v19.3h-22.8zM1411.9 2228.9h22.8v19.3h-22.8zM1411.9 2266.9h22.8v19.3h-22.8zM1614.1 2266.9h22.8v19.3h-22.8zM1793.9 2266.9h22.8v19.3h-22.8zM1411.9 2285.9h22.8v19.3h-22.8zM1434.3 2285.9h22.8v19.3h-22.8zM1501.8 2285.9h22.8v19.3h-22.8zM1546.7 2285.9h22.8v19.3h-22.8zM1569.2 2285.9h22.8v19.3h-22.8zM1614.1 2285.9h22.8v19.3h-22.8zM1681.6 2285.9h22.8v19.3h-22.8zM1546.7 2304.9h22.8v19.3h-22.8zM1614.1 2304.9h22.8v19.3h-22.8zM1681.6 2304.9h22.8v19.3h-22.8zM1793.9 2304.9h22.8v19.3h-22.8zM1434.3 2361.9h22.8v19.3h-22.8zM1524.2 2361.9h22.8v19.3h-22.8zM1546.7 2361.9h22.8v19.3h-22.8zM1569.2 2361.9h22.8v19.3h-22.8zM1591.7 2361.9h22.8v19.3h-22.8zM1614.1 2361.9h22.8v19.3h-22.8zM1659.1 2361.9h22.8v19.3h-22.8zM1681.6 2361.9h22.8v19.3h-22.8zM1793.9 2361.9h22.8v19.3h-22.8zM1479.3 2380.9h22.8v19.3h-22.8zM1681.6 2380.9h22.8v19.3h-22.8zM1434.3 2399.9h22.8v19.3h-22.8zM1681.6 2399.9h22.8v19.3h-22.8zM1704.0 2399.9h22.8v19.3h-22.8zM1771.5 2399.9h22.8v19.3h-22.8zM1389.4 2418.9h22.8v19.3h-22.8zM1434.3 2418.9h22.8v19.3h-22.8zM1614.1 2418.9h22.8v19.3h-22.8zM1636.6 2418.9h22.8v19.3h-22.8zM1681.6 2418.9h22.8v19.3h-22.8zM1704.0 2418.9h22.8v19.3h-22.8zM1749.0 2418.9h22.8v19.3h-22.8zM1793.9 2418.9h22.8v19.3h-22.8zM1636.6 2437.9h22.8v19.3h-22.8zM1704.0 2437.9h22.8v19.3h-22.8zM1793.9 2437.9h22.8v19.3h-22.8zM1434.3 2456.9h22.8v19.3h-22.8zM1681.6 2475.9h22.8v19.3h-22.8zM1434.3 2495.0h22.8v19.3h-22.8zM1456.8 2495.0h22.8v19.3h-22.8zM1479.3 2495.0h22.8v19.3h-22.8zM1524.2 2495.0h22.8v19.3h-22.8zM1546.7 2495.0h22.8v19.3h-22.8zM1591.7 2495.0h22.8v19.3h-22.8zM1614.1 2495.0h22.8v19.3h-22.8zM1681.6 2495.0h22.8v19.3h-22.8zM1704.0 2495.0h22.8v19.3h-22.8zM1726.5 2495.0h22.8v19.3h-22.8zM1749.0 2495.0h22.8v19.3h-22.8zM1793.9 2495.0h22.8v19.3h-22.8zM1591.7 2552.0h22.8v19.3h-22.8zM1434.3 2590.0h22.8v19.3h-22.8zM1591.7 2590.0h22.8v19.3h-22.8zM1771.5 2590.0h22.8v19.3h-22.8zM1434.3 2609.0h22.8v19.3h-22.8zM1771.5 2609.0h22.8v19.3h-22.8z"/>
<path fill="#d4d4ec" d="M1569.2 461.3h22.8v19.3h-22.8zM1389.4 708.3h22.8v19.3h-22.8zM1771.5 993.4h22.8v19.3h-22.8zM1614.1 1012.5h22.8v19.3h-22.8z"/>
<path fill="#161650" d="M1726.5 480.3h22.8v19.3h-22.8zM1614.1 765.4h22.8v19.3h-22.8zM1793.9 1031.5h22.8v19.3h-22.8zM1614.1 1221.5h22.8v19.3h-22.8zM1524.2 1240.5h22.8v19.3h-22.8zM1614.1 1335.6h22.8v19.3h-22.8z"/>
<path fill="#9c9cd0" d="M1771.5 480.3h22.8v19.3h-22.8zM1434.3 670.3h22.8v19.3h-22.8zM1456.8 727.4h22.8v19.3h-22.8zM1636.6 1107.5h22.8v19.3h-22.8zM1501.8 1449.6h22.8v19.3h-22.8zM1546.7 1449.6h22.8v19.3h-22.8zM1546.7 1772.7h22.8v19.3h-22.8zM1793.9 1886.7h22.8v19.3h-22.8zM1456.8 1905.8h22.8v19.3h-22.8zM1456.8 1924.8h22.8v19.3h-22.8zM1749.0 2171.8h22.8v19.3h-22.8zM1411.9 2399.9h22.8v19.3h-22.8z"/>
<path fill="#141440" d="M1411.9 499.3h22.8v19.3h-22.8zM1636.6 556.3h22.8v19.3h-22.8zM1389.4 765.4h22.8v19.3h-22.8zM1636.6 860.4h22.8v19.3h-22.8zM1389.4 1031.5h22.8v19.3h-22.8zM1793.9 1411.6h22.8v19.3h-22.8zM1546.7 2380.9h22.8v19.3h-22.8z"/>
<path fill="#5460b0" d="M1591.7 499.3h22.8v19.3h-22.8zM1614.1 499.3h22.8v19.3h-22.8z"/>
<path fill="#2c3088" d="M1771.5 499.3h22.8v19.3h-22.8zM1434.3 1278.5h22.8v19.3h-22.8zM1793.9 1430.6h22.8v19.3h-22.8zM1659.1 1468.6h22.8v19.3h-22.8zM1456.8 1582.6h22.8v19.3h-22.8zM1569.2 1810.7h22.8v19.3h-22.8zM1569.2 2437.9h22.8v19.3h-22.8zM1771.5 2514.0h22.8v19.3h-22.8z"/>
<path fill="#201c60" d="M1793.9 499.3h22.8v19.3h-22.8z"/>
<path fill="#2a2a70" d="M1411.9 518.3h22.8v19.3h-22.8zM1749.0 518.3h22.8v19.3h-22.8zM1681.6 974.4h22.8v19.3h-22.8zM1681.6 1050.5h22.8v19.3h-22.8zM1524.2 1069.5h22.8v19.3h-22.8zM1793.9 1164.5h22.8v19.3h-22.8zM1591.7 1183.5h22.8v19.3h-22.8zM1771.5 1221.5h22.8v19.3h-22.8zM1659.1 1335.6h22.8v19.3h-22.8zM1771.5 1449.6h22.8v19.3h-22.8zM1681.6 2437.9h22.8v19.3h-22.8z"/>
<path fill="#5a60b0" d="M1434.3 518.3h22.8v19.3h-22.8zM1749.0 632.3h22.8v19.3h-22.8zM1501.8 803.4h22.8v19.3h-22.8zM1411.9 841.4h22.8v19.3h-22.8zM1389.4 1183.5h22.8v19.3h-22.8zM1681.6 1259.5h22.8v19.3h-22.8zM1749.0 1278.5h22.8v19.3h-22.8zM1434.3 1335.6h22.8v19.3h-22.8zM1411.9 1430.6h22.8v19.3h-22.8zM1569.2 1525.6h22.8v19.3h-22.8zM1434.3 1601.7h22.8v19.3h-22.8zM1636.6 1620.7h22.8v19.3h-22.8zM1479.3 1639.7h22.8v19.3h-22.8zM1591.7 1772.7h22.8v19.3h-22.8zM1681.6 1772.7h22.8v19.3h-22.8zM1771.5 1772.7h22.8v19.3h-22.8zM1591.7 1791.7h22.8v19.3h-22.8zM1659.1 1848.7h22.8v19.3h-22.8zM1389.4 2171.8h22.8v19.3h-22.8zM1704.0 2228.9h22.8v19.3h-22.8zM1726.5 2285.9h22.8v19.3h-22.8zM1569.2 2304.9h22.8v19.3h-22.8zM1793.9 2323.9h22.8v19.3h-22.8zM1434.3 2475.9h22.8v19.3h-22.8zM1479.3 2514.0h22.8v19.3h-22.8zM1546.7 2514.0h22.8v19.3h-22.8zM1726.5 2533.0h22.8v19.3h-22.8zM1726.5 2609.0h22.8v19.3h-22.8z"/>
<path fill="#7070c0" d="M1456.8 518.3h22.8v19.3h-22.8z"/>
<path fill="#9494cc" d="M1479.3 518.3h22.8v19.3h-22.8zM1389.4 613.3h22.8v19.3h-22.8z"/>
<path fill="#6a70bc" d="M1501.8 518.3h22.8v19.3h-22.8z"/>
<path fill="#b0b0dc" d="M1546.7 518.3h22.8v19.3h-22.8zM1591.7 518.3h22.8v19.3h-22.8z"/>
<path fill="#2c2c6c" d="M1636.6 518.3h22.8v19.3h-22.8z"/>
<path fill="#6a6cb8" d="M1659.1 518.3h22.8v19.3h-22.8z"/>
<path fill="#141448" d="M1681.6 518.3h22.8v19.3h-22.8zM1411.9 1012.5h22.8v19.3h-22.8zM1681.6 1069.5h22.8v19.3h-22.8zM1793.9 1392.6h22.8v19.3h-22.8zM1479.3 1468.6h22.8v19.3h-22.8zM1524.2 1468.6h22.8v19.3h-22.8zM1524.2 1639.7h22.8v19.3h-22.8zM1793.9 1848.7h22.8v19.3h-22.8zM1546.7 1962.8h22.8v19.3h-22.8zM1681.6 1962.8h22.8v19.3h-22.8zM1456.8 2038.8h22.8v19.3h-22.8zM1569.2 2190.9h22.8v19.3h-22.8zM1411.9 2209.9h22.8v19.3h-22.8zM1501.8 2304.9h22.8v19.3h-22.8zM1636.6 2361.9h22.8v19.3h-22.8zM1546.7 2590.0h22.8v19.3h-22.8z"/>
<path fill="#5058ac" d="M1456.8 537.3h22.8v19.3h-22.8zM1479.3 613.3h22.8v19.3h-22.8zM1434.3 651.3h22.8v19.3h-22.8zM1546.7 803.4h22.8v19.3h-22.8zM1771.5 841.4h22.8v19.3h-22.8zM1591.7 936.4h22.8v19.3h-22.8zM1389.4 1088.5h22.8v19.3h-22.8zM1749.0 1107.5h22.8v19.3h-22.8zM1524.2 1126.5h22.8v19.3h-22.8zM1569.2 1145.5h22.8v19.3h-22.8zM1389.4 1449.6h22.8v19.3h-22.8zM1501.8 1753.7h22.8v19.3h-22.8zM1479.3 1772.7h22.8v19.3h-22.8zM1501.8 1772.7h22.8v19.3h-22.8zM1749.0 1810.7h22.8v19.3h-22.8zM1546.7 2000.8h22.8v19.3h-22.8zM1479.3 2095.8h22.8v19.3h-22.8zM1546.7 2571.0h22.8v19.3h-22.8z"/>
<path fill="#6c70bc" d="M1726.5 537.3h22.8v19.3h-22.8zM1704.0 1620.7h22.8v19.3h-22.8zM1569.2 1639.7h22.8v19.3h-22.8zM1389.4 2266.9h22.8v19.3h-22.8zM1726.5 2514.0h22.8v19.3h-22.8zM1749.0 2571.0h22.8v19.3h-22.8z"/>
<path fill="#b8b8dc" d="M1793.9 537.3h22.8v19.3h-22.8zM1591.7 1848.7h22.8v19.3h-22.8zM1434.3 2323.9h22.8v19.3h-22.8zM1771.5 2418.9h22.8v19.3h-22.8zM1614.1 2456.9h22.8v19.3h-22.8z"/>
<path fill="#101030" d="M1411.9 575.3h22.8v19.3h-22.8z"/>
<path fill="#141420" d="M1726.5 575.3h22.8v19.3h-22.8zM1524.2 765.4h22.8v19.3h-22.8zM1501.8 841.4h22.8v19.3h-22.8zM1614.1 860.4h22.8v19.3h-22.8zM1659.1 860.4h22.8v19.3h-22.8zM1546.7 879.4h22.8v19.3h-22.8zM1569.2 993.4h22.8v19.3h-22.8zM1659.1 993.4h22.8v19.3h-22.8zM1749.0 1031.5h22.8v19.3h-22.8zM1389.4 1050.5h22.8v19.3h-22.8zM1659.1 1107.5h22.8v19.3h-22.8zM1614.1 1316.6h22.8v19.3h-22.8zM1456.8 1563.6h22.8v19.3h-22.8zM1614.1 1639.7h22.8v19.3h-22.8zM1749.0 1696.7h22.8v19.3h-22.8zM1546.7 1848.7h22.8v19.3h-22.8zM1681.6 1905.8h22.8v19.3h-22.8zM1546.7 2038.8h22.8v19.3h-22.8z"/>
<path fill="#4c5cac" d="M1793.9 575.3h22.8v19.3h-22.8z"/>
<path fill="#ececf4" d="M1456.8 594.3h22.8v19.3h-22.8z"/>
<path fill="#4858b0" d="M1636.6 594.3h22.8v19.3h-22.8z"/>
<path fill="#4c58ac" d="M1749.0 594.3h22.8v19.3h-22.8zM1411.9 746.4h22.8v19.3h-22.8zM1749.0 1069.5h22.8v19.3h-22.8zM1569.2 1259.5h22.8v19.3h-22.8zM1501.8 1316.6h22.8v19.3h-22.8zM1501.8 1411.6h22.8v19.3h-22.8zM1501.8 1525.6h22.8v19.3h-22.8zM1411.9 1867.7h22.8v19.3h-22.8zM1569.2 2323.9h22.8v19.3h-22.8zM1614.1 2380.9h22.8v19.3h-22.8zM1479.3 2437.9h22.8v19.3h-22.8zM1614.1 2437.9h22.8v19.3h-22.8zM1569.2 2571.0h22.8v19.3h-22.8z"/>
<path fill="#2a2a6a" d="M1793.9 594.3h22.8v19.3h-22.8z"/>
<path fill="#e8e8f4" d="M1659.1 613.3h22.8v19.3h-22.8zM1389.4 1658.7h22.8v19.3h-22.8zM1411.9 1753.7h22.8v19.3h-22.8zM1659.1 1772.7h22.8v19.3h-22.8zM1501.8 1924.8h22.8v19.3h-22.8zM1704.0 1924.8h22.8v19.3h-22.8zM1501.8 1943.8h22.8v19.3h-22.8zM1411.9 2247.9h22.8v19.3h-22.8zM1479.3 2285.9h22.8v19.3h-22.8z"/>
<path fill="#a4a4d8" d="M1681.6 613.3h22.8v19.3h-22.8z"/>
<path fill="#c2c2c2" d="M1389.4 632.3h22.8v19.3h-22.8zM1546.7 632.3h22.8v19.3h-22.8zM1614.1 632.3h22.8v19.3h-22.8zM1389.4 1981.8h22.8v19.3h-22.8zM1546.7 1981.8h22.8v19.3h-22.8zM1614.1 1981.8h22.8v19.3h-22.8zM1389.4 2228.9h22.8v19.3h-22.8zM1546.7 2228.9h22.8v19.3h-22.8zM1614.1 2228.9h22.8v19.3h-22.8z"/>
<path fill="#7478c0" d="M1411.9 632.3h22.8v19.3h-22.8z"/>
<path fill="#2c2c88" d="M1456.8 651.3h22.8v19.3h-22.8zM1456.8 670.3h22.8v19.3h-22.8zM1546.7 689.3h22.8v19.3h-22.8zM1793.9 993.4h22.8v19.3h-22.8zM1771.5 1183.5h22.8v19.3h-22.8zM1456.8 1278.5h22.8v19.3h-22.8zM1411.9 1316.6h22.8v19.3h-22.8zM1524.2 1601.7h22.8v19.3h-22.8zM1704.0 1601.7h22.8v19.3h-22.8zM1524.2 1620.7h22.8v19.3h-22.8zM1749.0 1639.7h22.8v19.3h-22.8zM1411.9 1677.7h22.8v19.3h-22.8zM1456.8 1696.7h22.8v19.3h-22.8zM1524.2 1696.7h22.8v19.3h-22.8zM1524.2 1734.7h22.8v19.3h-22.8zM1591.7 2038.8h22.8v19.3h-22.8zM1681.6 2209.9h22.8v19.3h-22.8z"/>
<path fill="#4858ac" d="M1569.2 651.3h22.8v19.3h-22.8zM1793.9 708.3h22.8v19.3h-22.8zM1591.7 898.4h22.8v19.3h-22.8zM1793.9 1145.5h22.8v19.3h-22.8z"/>
<path fill="#1a1a58" d="M1659.1 651.3h22.8v19.3h-22.8zM1636.6 1031.5h22.8v19.3h-22.8zM1614.1 1278.5h22.8v19.3h-22.8z"/>
<path fill="#201c50" d="M1681.6 651.3h22.8v19.3h-22.8z"/>
<path fill="#2c2c80" d="M1726.5 651.3h22.8v19.3h-22.8zM1479.3 689.3h22.8v19.3h-22.8zM1456.8 917.4h22.8v19.3h-22.8zM1793.9 936.4h22.8v19.3h-22.8zM1524.2 1050.5h22.8v19.3h-22.8zM1546.7 1050.5h22.8v19.3h-22.8zM1749.0 1126.5h22.8v19.3h-22.8zM1659.1 1278.5h22.8v19.3h-22.8zM1501.8 1563.6h22.8v19.3h-22.8zM1659.1 1829.7h22.8v19.3h-22.8z"/>
<path fill="#7c80c4" d="M1524.2 670.3h22.8v19.3h-22.8z"/>
<path fill="#5860b0" d="M1546.7 670.3h22.8v19.3h-22.8zM1546.7 727.4h22.8v19.3h-22.8zM1524.2 1164.5h22.8v19.3h-22.8z"/>
<path fill="#dcdcf0" d="M1704.0 670.3h22.8v19.3h-22.8zM1591.7 765.4h22.8v19.3h-22.8zM1389.4 1487.6h22.8v19.3h-22.8zM1771.5 1658.7h22.8v19.3h-22.8zM1546.7 1734.7h22.8v19.3h-22.8zM1771.5 1924.8h22.8v19.3h-22.8z"/>
<path fill="#141424" d="M1793.9 670.3h22.8v19.3h-22.8z"/>
<path fill="#181848" d="M1456.8 689.3h22.8v19.3h-22.8zM1434.3 765.4h22.8v19.3h-22.8zM1681.6 1164.5h22.8v19.3h-22.8z"/>
<path fill="#28287a" d="M1524.2 689.3h22.8v19.3h-22.8zM1434.3 746.4h22.8v19.3h-22.8zM1591.7 803.4h22.8v19.3h-22.8z"/>
<path fill="#eaeaf6" d="M1591.7 689.3h22.8v19.3h-22.8z"/>
<path fill="#14144a" d="M1681.6 689.3h22.8v19.3h-22.8z"/>
<path fill="#1a1a50" d="M1726.5 689.3h22.8v19.3h-22.8z"/>
<path fill="#2a2a78" d="M1524.2 708.3h22.8v19.3h-22.8zM1636.6 841.4h22.8v19.3h-22.8zM1524.2 860.4h22.8v19.3h-22.8zM1749.0 860.4h22.8v19.3h-22.8zM1771.5 860.4h22.8v19.3h-22.8zM1636.6 917.4h22.8v19.3h-22.8zM1524.2 955.4h22.8v19.3h-22.8zM1749.0 974.4h22.8v19.3h-22.8zM1524.2 993.4h22.8v19.3h-22.8zM1726.5 993.4h22.8v19.3h-22.8zM1614.1 1031.5h22.8v19.3h-22.8zM1659.1 1088.5h22.8v19.3h-22.8zM1524.2 1107.5h22.8v19.3h-22.8zM1479.3 1164.5h22.8v19.3h-22.8zM1726.5 1183.5h22.8v19.3h-22.8zM1389.4 1202.5h22.8v19.3h-22.8zM1636.6 1202.5h22.8v19.3h-22.8zM1591.7 1221.5h22.8v19.3h-22.8zM1681.6 1221.5h22.8v19.3h-22.8zM1591.7 1259.5h22.8v19.3h-22.8zM1636.6 1278.5h22.8v19.3h-22.8zM1411.9 1297.5h22.8v19.3h-22.8zM1434.3 1297.5h22.8v19.3h-22.8zM1636.6 1297.5h22.8v19.3h-22.8zM1681.6 1316.6h22.8v19.3h-22.8zM1704.0 1316.6h22.8v19.3h-22.8zM1726.5 1316.6h22.8v19.3h-22.8zM1411.9 1335.6h22.8v19.3h-22.8zM1524.2 1335.6h22.8v19.3h-22.8zM1636.6 1335.6h22.8v19.3h-22.8zM1771.5 1354.6h22.8v19.3h-22.8zM1614.1 1411.6h22.8v19.3h-22.8zM1456.8 1430.6h22.8v19.3h-22.8zM1704.0 1430.6h22.8v19.3h-22.8zM1749.0 1487.6h22.8v19.3h-22.8zM1456.8 1506.6h22.8v19.3h-22.8zM1456.8 1525.6h22.8v19.3h-22.8zM1749.0 1525.6h22.8v19.3h-22.8zM1614.1 1544.6h22.8v19.3h-22.8zM1411.9 1563.6h22.8v19.3h-22.8zM1614.1 1563.6h22.8v19.3h-22.8zM1659.1 1620.7h22.8v19.3h-22.8zM1793.9 1677.7h22.8v19.3h-22.8zM1411.9 1696.7h22.8v19.3h-22.8zM1546.7 1696.7h22.8v19.3h-22.8zM1614.1 1696.7h22.8v19.3h-22.8zM1659.1 1696.7h22.8v19.3h-22.8zM1591.7 1734.7h22.8v19.3h-22.8zM1434.3 1772.7h22.8v19.3h-22.8zM1614.1 1772.7h22.8v19.3h-22.8zM1636.6 1829.7h22.8v19.3h-22.8zM1726.5 1829.7h22.8v19.3h-22.8zM1524.2 1848.7h22.8v19.3h-22.8zM1726.5 1848.7h22.8v19.3h-22.8zM1524.2 1905.8h22.8v19.3h-22.8zM1636.6 1905.8h22.8v19.3h-22.8zM1659.1 1905.8h22.8v19.3h-22.8zM1434.3 1924.8h22.8v19.3h-22.8zM1524.2 1924.8h22.8v19.3h-22.8zM1749.0 1924.8h22.8v19.3h-22.8zM1434.3 1962.8h22.8v19.3h-22.8zM1681.6 1981.8h22.8v19.3h-22.8zM1479.3 2038.8h22.8v19.3h-22.8zM1524.2 2038.8h22.8v19.3h-22.8zM1411.9 2095.8h22.8v19.3h-22.8zM1411.9 2114.8h22.8v19.3h-22.8zM1501.8 2114.8h22.8v19.3h-22.8zM1456.8 2152.8h22.8v19.3h-22.8zM1726.5 2152.8h22.8v19.3h-22.8zM1501.8 2171.8h22.8v19.3h-22.8zM1659.1 2190.9h22.8v19.3h-22.8zM1524.2 2209.9h22.8v19.3h-22.8zM1546.7 2209.9h22.8v19.3h-22.8zM1681.6 2228.9h22.8v19.3h-22.8zM1749.0 2228.9h22.8v19.3h-22.8zM1614.1 2247.9h22.8v19.3h-22.8zM1793.9 2247.9h22.8v19.3h-22.8zM1434.3 2266.9h22.8v19.3h-22.8zM1456.8 2266.9h22.8v19.3h-22.8zM1524.2 2266.9h22.8v19.3h-22.8zM1636.6 2266.9h22.8v19.3h-22.8zM1749.0 2266.9h22.8v19.3h-22.8zM1524.2 2285.9h22.8v19.3h-22.8zM1704.0 2285.9h22.8v19.3h-22.8zM1501.8 2361.9h22.8v19.3h-22.8zM1636.6 2380.9h22.8v19.3h-22.8zM1569.2 2399.9h22.8v19.3h-22.8zM1411.9 2418.9h22.8v19.3h-22.8zM1546.7 2418.9h22.8v19.3h-22.8zM1659.1 2456.9h22.8v19.3h-22.8zM1681.6 2456.9h22.8v19.3h-22.8zM1704.0 2456.9h22.8v19.3h-22.8zM1793.9 2456.9h22.8v19.3h-22.8zM1749.0 2475.9h22.8v19.3h-22.8zM1389.4 2495.0h22.8v19.3h-22.8zM1569.2 2495.0h22.8v19.3h-22.8zM1793.9 2514.0h22.8v19.3h-22.8zM1411.9 2533.0h22.8v19.3h-22.8zM1793.9 2590.0h22.8v19.3h-22.8z"/>
<path fill="#262670" d="M1546.7 708.3h22.8v19.3h-22.8zM1389.4 936.4h22.8v19.3h-22.8zM1456.8 1031.5h22.8v19.3h-22.8zM1591.7 1031.5h22.8v19.3h-22.8zM1614.1 1107.5h22.8v19.3h-22.8z"/>
<path fill="#a8a8d8" d="M1726.5 708.3h22.8v19.3h-22.8zM1793.9 1563.6h22.8v19.3h-22.8zM1546.7 1753.7h22.8v19.3h-22.8z"/>
<path fill="#d8d8ec" d="M1771.5 708.3h22.8v19.3h-22.8z"/>
<path fill="#5060b0" d="M1793.9 727.4h22.8v19.3h-22.8z"/>
<path fill="#6064b4" d="M1614.1 746.4h22.8v19.3h-22.8zM1636.6 746.4h22.8v19.3h-22.8zM1546.7 955.4h22.8v19.3h-22.8zM1771.5 955.4h22.8v19.3h-22.8zM1726.5 974.4h22.8v19.3h-22.8zM1771.5 1240.5h22.8v19.3h-22.8zM1636.6 1354.6h22.8v19.3h-22.8zM1524.2 1373.6h22.8v19.3h-22.8zM1434.3 1582.6h22.8v19.3h-22.8zM1569.2 1620.7h22.8v19.3h-22.8zM1591.7 1639.7h22.8v19.3h-22.8zM1793.9 1867.7h22.8v19.3h-22.8zM1569.2 2228.9h22.8v19.3h-22.8zM1524.2 2323.9h22.8v19.3h-22.8zM1434.3 2342.9h22.8v19.3h-22.8zM1793.9 2380.9h22.8v19.3h-22.8zM1636.6 2514.0h22.8v19.3h-22.8zM1636.6 2609.0h22.8v19.3h-22.8z"/>
<path fill="#2a2a7a" d="M1793.9 746.4h22.8v19.3h-22.8z"/>
<path fill="#161626" d="M1456.8 765.4h22.8v19.3h-22.8z"/>
<path fill="#ccccec" d="M1569.2 765.4h22.8v19.3h-22.8z"/>
<path fill="#1a1a30" d="M1659.1 765.4h22.8v19.3h-22.8zM1793.9 1012.5h22.8v19.3h-22.8zM1749.0 1202.5h22.8v19.3h-22.8zM1389.4 1316.6h22.8v19.3h-22.8zM1771.5 1392.6h22.8v19.3h-22.8zM1636.6 1506.6h22.8v19.3h-22.8zM1614.1 1525.6h22.8v19.3h-22.8zM1771.5 1677.7h22.8v19.3h-22.8zM1569.2 1696.7h22.8v19.3h-22.8zM1569.2 2266.9h22.8v19.3h-22.8zM1726.5 2475.9h22.8v19.3h-22.8zM1614.1 2514.0h22.8v19.3h-22.8zM1681.6 2514.0h22.8v19.3h-22.8z"/>
<path fill="#1c1c50" d="M1771.5 765.4h22.8v19.3h-22.8zM1771.5 1411.6h22.8v19.3h-22.8z"/>
<path fill="#282878" d="M1456.8 784.4h22.8v19.3h-22.8z"/>
<path fill="#1a1a40" d="M1726.5 784.4h22.8v19.3h-22.8zM1636.6 1183.5h22.8v19.3h-22.8z"/>
<path fill="#2e3088" d="M1793.9 803.4h22.8v19.3h-22.8z"/>
<path fill="#8888c4" d="M1411.9 822.4h22.8v19.3h-22.8zM1681.6 1715.7h22.8v19.3h-22.8zM1726.5 2304.9h22.8v19.3h-22.8z"/>
<path fill="#c8c8e4" d="M1501.8 822.4h22.8v19.3h-22.8zM1749.0 822.4h22.8v19.3h-22.8zM1726.5 936.4h22.8v19.3h-22.8zM1479.3 993.4h22.8v19.3h-22.8zM1479.3 1278.5h22.8v19.3h-22.8zM1456.8 1373.6h22.8v19.3h-22.8zM1726.5 1905.8h22.8v19.3h-22.8z"/>
<path fill="#d8d8ee" d="M1389.4 841.4h22.8v19.3h-22.8zM1546.7 1563.6h22.8v19.3h-22.8zM1434.3 2247.9h22.8v19.3h-22.8zM1389.4 2342.9h22.8v19.3h-22.8zM1636.6 2342.9h22.8v19.3h-22.8z"/>
<path fill="#22226a" d="M1434.3 841.4h22.8v19.3h-22.8zM1569.2 936.4h22.8v19.3h-22.8zM1591.7 955.4h22.8v19.3h-22.8zM1681.6 955.4h22.8v19.3h-22.8zM1726.5 1126.5h22.8v19.3h-22.8zM1614.1 1240.5h22.8v19.3h-22.8zM1591.7 1278.5h22.8v19.3h-22.8zM1681.6 1278.5h22.8v19.3h-22.8zM1726.5 1278.5h22.8v19.3h-22.8zM1524.2 1316.6h22.8v19.3h-22.8zM1636.6 1316.6h22.8v19.3h-22.8zM1681.6 1468.6h22.8v19.3h-22.8zM1411.9 1544.6h22.8v19.3h-22.8zM1704.0 1544.6h22.8v19.3h-22.8zM1681.6 1639.7h22.8v19.3h-22.8zM1726.5 1639.7h22.8v19.3h-22.8zM1479.3 1696.7h22.8v19.3h-22.8zM1681.6 1696.7h22.8v19.3h-22.8zM1479.3 1715.7h22.8v19.3h-22.8zM1389.4 1829.7h22.8v19.3h-22.8zM1569.2 1848.7h22.8v19.3h-22.8zM1636.6 1848.7h22.8v19.3h-22.8zM1389.4 1905.8h22.8v19.3h-22.8zM1771.5 1962.8h22.8v19.3h-22.8zM1726.5 1981.8h22.8v19.3h-22.8zM1569.2 2000.8h22.8v19.3h-22.8zM1793.9 2152.8h22.8v19.3h-22.8zM1681.6 2190.9h22.8v19.3h-22.8zM1546.7 2266.9h22.8v19.3h-22.8zM1411.9 2304.9h22.8v19.3h-22.8zM1726.5 2399.9h22.8v19.3h-22.8zM1479.3 2418.9h22.8v19.3h-22.8zM1659.1 2437.9h22.8v19.3h-22.8zM1636.6 2495.0h22.8v19.3h-22.8zM1659.1 2495.0h22.8v19.3h-22.8zM1546.7 2533.0h22.8v19.3h-22.8z"/>
<path fill="#262672" d="M1479.3 841.4h22.8v19.3h-22.8z"/>
<path fill="#c0c0e0" d="M1569.2 841.4h22.8v19.3h-22.8zM1434.3 1183.5h22.8v19.3h-22.8zM1771.5 1468.6h22.8v19.3h-22.8zM1726.5 1582.6h22.8v19.3h-22.8zM1614.1 2114.8h22.8v19.3h-22.8zM1749.0 2114.8h22.8v19.3h-22.8zM1771.5 2342.9h22.8v19.3h-22.8z"/>
<path fill="#a0a0d0" d="M1591.7 841.4h22.8v19.3h-22.8zM1681.6 1088.5h22.8v19.3h-22.8z"/>
<path fill="#282870" d="M1704.0 841.4h22.8v19.3h-22.8z"/>
<path fill="#b0b0d8" d="M1749.0 841.4h22.8v19.3h-22.8zM1681.6 879.4h22.8v19.3h-22.8zM1479.3 936.4h22.8v19.3h-22.8zM1456.8 955.4h22.8v19.3h-22.8zM1636.6 1696.7h22.8v19.3h-22.8zM1456.8 1715.7h22.8v19.3h-22.8zM1636.6 1810.7h22.8v19.3h-22.8zM1434.3 2571.0h22.8v19.3h-22.8z"/>
<path fill="#acacd8" d="M1389.4 860.4h22.8v19.3h-22.8z"/>
<path fill="#181850" d="M1456.8 860.4h22.8v19.3h-22.8zM1726.5 1069.5h22.8v19.3h-22.8zM1793.9 1107.5h22.8v19.3h-22.8zM1749.0 1468.6h22.8v19.3h-22.8zM1411.9 1487.6h22.8v19.3h-22.8zM1411.9 1639.7h22.8v19.3h-22.8zM1614.1 1715.7h22.8v19.3h-22.8zM1614.1 1734.7h22.8v19.3h-22.8zM1501.8 2266.9h22.8v19.3h-22.8zM1749.0 2285.9h22.8v19.3h-22.8zM1434.3 2304.9h22.8v19.3h-22.8zM1659.1 2399.9h22.8v19.3h-22.8z"/>
<path fill="#28286e" d="M1704.0 860.4h22.8v19.3h-22.8zM1771.5 1126.5h22.8v19.3h-22.8z"/>
<path fill="#f08020" d="M1546.7 898.4h22.8v19.3h-22.8zM1389.4 2380.9h22.8v19.3h-22.8z"/>
<path fill="#161628" d="M1771.5 898.4h22.8v19.3h-22.8z"/>
<path fill="#141450" d="M1411.9 917.4h22.8v19.3h-22.8zM1501.8 1164.5h22.8v19.3h-22.8zM1546.7 1202.5h22.8v19.3h-22.8zM1569.2 1202.5h22.8v19.3h-22.8zM1659.1 1430.6h22.8v19.3h-22.8zM1501.8 1677.7h22.8v19.3h-22.8zM1591.7 1677.7h22.8v19.3h-22.8zM1501.8 2209.9h22.8v19.3h-22.8zM1636.6 2228.9h22.8v19.3h-22.8zM1636.6 2590.0h22.8v19.3h-22.8z"/>
<path fill="#1c1c58" d="M1659.1 917.4h22.8v19.3h-22.8zM1456.8 1449.6h22.8v19.3h-22.8zM1749.0 1544.6h22.8v19.3h-22.8zM1704.0 1639.7h22.8v19.3h-22.8zM1726.5 1810.7h22.8v19.3h-22.8zM1411.9 1905.8h22.8v19.3h-22.8zM1411.9 1924.8h22.8v19.3h-22.8zM1749.0 1943.8h22.8v19.3h-22.8zM1749.0 1962.8h22.8v19.3h-22.8zM1456.8 2076.8h22.8v19.3h-22.8zM1434.3 2095.8h22.8v19.3h-22.8zM1434.3 2114.8h22.8v19.3h-22.8zM1591.7 2285.9h22.8v19.3h-22.8zM1636.6 2285.9h22.8v19.3h-22.8zM1659.1 2285.9h22.8v19.3h-22.8zM1636.6 2304.9h22.8v19.3h-22.8zM1591.7 2418.9h22.8v19.3h-22.8zM1591.7 2437.9h22.8v19.3h-22.8zM1749.0 2437.9h22.8v19.3h-22.8zM1771.5 2495.0h22.8v19.3h-22.8zM1434.3 2514.0h22.8v19.3h-22.8zM1659.1 2590.0h22.8v19.3h-22.8zM1749.0 2590.0h22.8v19.3h-22.8z"/>
<path fill="#e0e0f0" d="M1411.9 936.4h22.8v19.3h-22.8zM1524.2 1297.5h22.8v19.3h-22.8zM1636.6 1886.7h22.8v19.3h-22.8zM1389.4 2057.8h22.8v19.3h-22.8zM1546.7 2475.9h22.8v19.3h-22.8zM1793.9 2571.0h22.8v19.3h-22.8z"/>
<path fill="#18184a" d="M1704.0 936.4h22.8v19.3h-22.8z"/>
<path fill="#141418" d="M1389.4 955.4h22.8v19.3h-22.8zM1546.7 1012.5h22.8v19.3h-22.8zM1524.2 1031.5h22.8v19.3h-22.8zM1524.2 1582.6h22.8v19.3h-22.8zM1434.3 1696.7h22.8v19.3h-22.8zM1434.3 1715.7h22.8v19.3h-22.8zM1479.3 1848.7h22.8v19.3h-22.8zM1726.5 2190.9h22.8v19.3h-22.8zM1434.3 2228.9h22.8v19.3h-22.8zM1704.0 2590.0h22.8v19.3h-22.8z"/>
<path fill="#1e1e60" d="M1569.2 955.4h22.8v19.3h-22.8z"/>
<path fill="#7070bc" d="M1434.3 974.4h22.8v19.3h-22.8zM1636.6 1069.5h22.8v19.3h-22.8zM1726.5 1297.5h22.8v19.3h-22.8zM1569.2 1411.6h22.8v19.3h-22.8zM1591.7 2057.8h22.8v19.3h-22.8zM1771.5 2437.9h22.8v19.3h-22.8zM1546.7 2552.0h22.8v19.3h-22.8z"/>
<path fill="#fdd8a8" d="M1456.8 974.4h22.8v19.3h-22.8z"/>
<path fill="#9090cc" d="M1546.7 974.4h22.8v19.3h-22.8zM1749.0 1259.5h22.8v19.3h-22.8zM1434.3 1658.7h22.8v19.3h-22.8zM1614.1 1886.7h22.8v19.3h-22.8zM1681.6 2323.9h22.8v19.3h-22.8z"/>
<path fill="#a8a8d4" d="M1389.4 993.4h22.8v19.3h-22.8zM1411.9 1088.5h22.8v19.3h-22.8zM1591.7 1601.7h22.8v19.3h-22.8zM1569.2 1677.7h22.8v19.3h-22.8zM1636.6 2171.8h22.8v19.3h-22.8z"/>
<path fill="#101014" d="M1434.3 993.4h22.8v19.3h-22.8z"/>
<path fill="#141428" d="M1389.4 1012.5h22.8v19.3h-22.8zM1636.6 1012.5h22.8v19.3h-22.8zM1546.7 1069.5h22.8v19.3h-22.8zM1614.1 1126.5h22.8v19.3h-22.8zM1569.2 1430.6h22.8v19.3h-22.8z"/>
<path fill="#9898cc" d="M1569.2 1031.5h22.8v19.3h-22.8z"/>
<path fill="#1a1a28" d="M1479.3 1050.5h22.8v19.3h-22.8zM1591.7 1050.5h22.8v19.3h-22.8zM1614.1 1069.5h22.8v19.3h-22.8zM1569.2 1164.5h22.8v19.3h-22.8zM1636.6 1164.5h22.8v19.3h-22.8zM1726.5 1202.5h22.8v19.3h-22.8zM1726.5 1221.5h22.8v19.3h-22.8zM1524.2 1259.5h22.8v19.3h-22.8zM1591.7 1297.5h22.8v19.3h-22.8zM1771.5 1297.5h22.8v19.3h-22.8zM1479.3 1316.6h22.8v19.3h-22.8zM1614.1 1430.6h22.8v19.3h-22.8zM1456.8 1468.6h22.8v19.3h-22.8zM1659.1 1506.6h22.8v19.3h-22.8zM1524.2 1563.6h22.8v19.3h-22.8zM1591.7 1620.7h22.8v19.3h-22.8zM1591.7 1696.7h22.8v19.3h-22.8zM1771.5 1829.7h22.8v19.3h-22.8zM1546.7 1905.8h22.8v19.3h-22.8zM1569.2 1905.8h22.8v19.3h-22.8zM1793.9 1905.8h22.8v19.3h-22.8zM1636.6 1943.8h22.8v19.3h-22.8zM1569.2 1981.8h22.8v19.3h-22.8zM1659.1 1981.8h22.8v19.3h-22.8zM1726.5 2019.8h22.8v19.3h-22.8zM1681.6 2038.8h22.8v19.3h-22.8zM1636.6 2076.8h22.8v19.3h-22.8zM1389.4 2114.8h22.8v19.3h-22.8zM1411.9 2133.8h22.8v19.3h-22.8zM1569.2 2152.8h22.8v19.3h-22.8zM1434.3 2171.8h22.8v19.3h-22.8zM1546.7 2190.9h22.8v19.3h-22.8zM1569.2 2209.9h22.8v19.3h-22.8zM1793.9 2342.9h22.8v19.3h-22.8zM1659.1 2380.9h22.8v19.3h-22.8zM1389.4 2399.9h22.8v19.3h-22.8zM1434.3 2437.9h22.8v19.3h-22.8zM1546.7 2456.9h22.8v19.3h-22.8zM1456.8 2590.0h22.8v19.3h-22.8z"/>
<path fill="#1c1828" d="M1659.1 1050.5h22.8v19.3h-22.8z"/>
<path fill="#1a1a1a" d="M1749.0 1050.5h22.8v19.3h-22.8zM1726.5 1164.5h22.8v19.3h-22.8zM1524.2 2152.8h22.8v19.3h-22.8zM1681.6 2266.9h22.8v19.3h-22.8zM1793.9 2285.9h22.8v19.3h-22.8zM1704.0 2304.9h22.8v19.3h-22.8zM1659.1 2418.9h22.8v19.3h-22.8z"/>
<path fill="#2c2c7c" d="M1411.9 1069.5h22.8v19.3h-22.8z"/>
<path fill="#e4e4f2" d="M1434.3 1069.5h22.8v19.3h-22.8zM1726.5 1259.5h22.8v19.3h-22.8zM1726.5 2209.9h22.8v19.3h-22.8zM1681.6 2609.0h22.8v19.3h-22.8z"/>
<path fill="#161648" d="M1704.0 1088.5h22.8v19.3h-22.8z"/>
<path fill="#2e2e84" d="M1749.0 1088.5h22.8v19.3h-22.8z"/>
<path fill="#181828" d="M1659.1 1126.5h22.8v19.3h-22.8z"/>
<path fill="#4c5cb0" d="M1636.6 1145.5h22.8v19.3h-22.8z"/>
<path fill="#2a2a6e" d="M1591.7 1164.5h22.8v19.3h-22.8z"/>
<path fill="#1c1c5a" d="M1659.1 1164.5h22.8v19.3h-22.8z"/>
<path fill="#8888c8" d="M1704.0 1183.5h22.8v19.3h-22.8z"/>
<path fill="#b4b4dc" d="M1569.2 1240.5h22.8v19.3h-22.8zM1636.6 1601.7h22.8v19.3h-22.8zM1389.4 1639.7h22.8v19.3h-22.8zM1726.5 2038.8h22.8v19.3h-22.8z"/>
<path fill="#a0a0d4" d="M1411.9 1259.5h22.8v19.3h-22.8zM1389.4 1278.5h22.8v19.3h-22.8zM1411.9 1810.7h22.8v19.3h-22.8zM1524.2 2057.8h22.8v19.3h-22.8z"/>
<path fill="#f06020" d="M1793.9 1316.6h22.8v19.3h-22.8z"/>
<path fill="#28205e" d="M1771.5 1373.6h22.8v19.3h-22.8z"/>
<path fill="#8080c4" d="M1591.7 1392.6h22.8v19.3h-22.8zM1636.6 2399.9h22.8v19.3h-22.8z"/>
<path fill="#1a1a20" d="M1681.6 1525.6h22.8v19.3h-22.8zM1659.1 2209.9h22.8v19.3h-22.8zM1456.8 2418.9h22.8v19.3h-22.8z"/>
<path fill="#141414" d="M1524.2 1544.6h22.8v19.3h-22.8z"/>
<path fill="#6868b8" d="M1389.4 1601.7h22.8v19.3h-22.8zM1749.0 1715.7h22.8v19.3h-22.8zM1636.6 1962.8h22.8v19.3h-22.8zM1681.6 2133.8h22.8v19.3h-22.8z"/>
<path fill="#181858" d="M1681.6 1677.7h22.8v19.3h-22.8zM1524.2 1715.7h22.8v19.3h-22.8zM1614.1 1962.8h22.8v19.3h-22.8z"/>
<path fill="#f0f0f8" d="M1681.6 1791.7h22.8v19.3h-22.8zM1793.9 2171.8h22.8v19.3h-22.8zM1456.8 2247.9h22.8v19.3h-22.8zM1546.7 2323.9h22.8v19.3h-22.8zM1501.8 2514.0h22.8v19.3h-22.8z"/>
<path fill="#2c3498" d="M1771.5 1848.7h22.8v19.3h-22.8z"/>
<path fill="#e82020" d="M1793.9 1943.8h22.8v19.3h-22.8zM1749.0 2380.9h22.8v19.3h-22.8z"/>
<path fill="#ececf6" d="M1704.0 2095.8h22.8v19.3h-22.8zM1726.5 2552.0h22.8v19.3h-22.8zM1524.2 2609.0h22.8v19.3h-22.8z"/>
<path fill="#fdd090" d="M1479.3 2247.9h22.8v19.3h-22.8z"/>
<path fill="#7878c0" d="M1456.8 2571.0h22.8v19.3h-22.8z"/>
<path d="M1389.4,423.25H1816.4M1389.4,442.26H1816.4M1389.4,461.26H1816.4M1389.4,480.27H1816.4M1389.4,499.28H1816.4M1389.4,518.28H1816.4M1389.4,537.29H1816.4M1389.4,556.30H1816.4M1389.4,575.30H1816.4M1389.4,594.31H1816.4M1389.4,613.31H1816.4M1389.4,632.32H1816.4M1389.4,651.33H1816.4M1389.4,670.33H1816.4M1389.4,689.34H1816.4M1389.4,708.35H1816.4M1389.4,727.35H1816.4M1389.4,746.36H1816.4M1389.4,765.37H1816.4M1389.4,784.37H1816.4M1389.4,803.38H1816.4M1389.4,822.39H1816.4M1389.4,841.39H1816.4M1389.4,860.40H1816.4M1389.4,879.41H1816.4M1389.4,898.41H1816.4M1389.4,917.42H1816.4M1389.4,936.42H1816.4M1389.4,955.43H1816.4M1389.4,974.44H1816.4M1389.4,993.44H1816.4M1389.4,1012.45H1816.4M1389.4,1031.46H1816.4M1389.4,1050.46H1816.4M1389.4,1069.47H1816.4M1389.4,1088.48H1816.4M1389.4,1107.48H1816.4M1389.4,1126.49H1816.4M1389.4,1145.50H1816.4M1389.4,1164.50H1816.4M1389.4,1183.51H1816.4M1389.4,1202.52H1816.4M1389.4,1221.52H1816.4M1389.4,1240.53H1816.4M1389.4,1259.53H1816.4M1389.4,1278.54H1816.4M1389.4,1297.55H1816.4M1389.4,1316.55H1816.4M1389.4,1335.56H1816.4M1389.4,1354.57H1816.4M1389.4,1373.57H1816.4M1389.4,1392.58H1816.4M1389.4,1411.59H1816.4M1389.4,1430.59H1816.4M1389.4,1449.60H1816.4M1389.4,1468.61H1816.4M1389.4,1487.61H1816.4M1389.4,1506.62H1816.4M1389.4,1525.62H1816.4M1389.4,1544.63H1816.4M1389.4,1563.64H1816.4M1389.4,1582.64H1816.4M1389.4,1601.65H1816.4M1389.4,1620.66H1816.4M1389.4,1639.66H1816.4M1389.4,1658.67H1816.4M1389.4,1677.68H1816.4M1389.4,1696.68H1816.4M1389.4,1715.69H1816.4M1389.4,1734.70H1816.4M1389.4,1753.70H1816.4M1389.4,1772.71H1816.4M1389.4,1791.72H1816.4M1389.4,1810.72H1816.4M1389.4,1829.73H1816.4M1389.4,1848.73H1816.4M1389.4,1867.74H1816.4M1389.4,1886.75H1816.4M1389.4,1905.75H1816.4M1389.4,1924.76H1816.4M1389.4,1943.77H1816.4M1389.4,1962.77H1816.4M1389.4,1981.78H1816.4M1389.4,2000.79H1816.4M1389.4,2019.79H1816.4M1389.4,2038.80H1816.4M1389.4,2057.81H1816.4M1389.4,2076.81H1816.4M1389.4,2095.82H1816.4M1389.4,2114.83H1816.4M1389.4,2133.83H1816.4M1389.4,2152.84H1816.4M1389.4,2171.84H1816.4M1389.4,2190.85H1816.4M1389.4,2209.86H1816.4M1389.4,2228.86H1816.4M1389.4,2247.87H1816.4M1389.4,2266.88H1816.4M1389.4,2285.88H1816.4M1389.4,2304.89H1816.4M1389.4,2323.90H1816.4M1389.4,2342.90H1816.4M1389.4,2361.91H1816.4M1389.4,2380.92H1816.4M1389.4,2399.92H1816.4M1389.4,2418.93H1816.4M1389.4,2437.94H1816.4M1389.4,2456.94H1816.4M1389.4,2475.95H1816.4M1389.4,2494.95H1816.4M1389.4,2513.96H1816.4M1389.4,2532.97H1816.4M1389.4,2551.97H1816.4M1389.4,2570.98H1816.4M1389.4,2589.99H1816.4M1389.4,2608.99H1816.4M1389.4,2628.00H1816.4M1389.40,423.2V2628.0M1411.87,423.2V2628.0M1434.35,423.2V2628.0M1456.82,423.2V2628.0M1479.29,423.2V2628.0M1501.77,423.2V2628.0M1524.24,423.2V2628.0M1546.72,423.2V2628.0M1569.19,423.2V2628.0M1591.66,423.2V2628.0M1614.14,423.2V2628.0M1636.61,423.2V2628.0M1659.08,423.2V2628.0M1681.56,423.2V2628.0M1704.03,423.2V2628.0M1726.51,423.2V2628.0M1748.98,423.2V2628.0M1771.45,423.2V2628.0M1793.93,423.2V2628.0M1816.40,423.2V2628.0" fill="none" stroke="#1e1e1e" stroke-width="1.1"/>
<text x="1821.0" y="438.4" font-size="16.2" font-weight="bold" font-style="italic">ATF7IP</text>
<text x="1821.0" y="457.5" font-size="16.2" font-weight="bold" font-style="italic">IRF2</text>
<text x="1821.0" y="476.5" font-size="16.2" font-weight="bold" font-style="italic">SEL1L</text>
<text x="1821.0" y="495.5" font-size="16.2" font-weight="bold" font-style="italic">CPD</text>
<text x="1821.0" y="514.5" font-size="16.2" font-weight="bold" font-style="italic">ARID3B</text>
<text x="1821.0" y="533.5" font-size="16.2" font-weight="bold" font-style="italic">DDI2</text>
<text x="1821.0" y="552.5" font-size="16.2" font-weight="bold" font-style="italic">GTF2H5</text>
<text x="1821.0" y="571.5" font-size="16.2" font-weight="bold" font-style="italic">MAF</text>
<text x="1821.0" y="590.5" font-size="16.2" font-weight="bold" font-style="italic">MIER3</text>
<text x="1821.0" y="609.5" font-size="16.2" font-weight="bold" font-style="italic">ZBTB38</text>
<text x="1821.0" y="628.5" font-size="16.2" font-weight="bold" font-style="italic">GCLC</text>
<text x="1821.0" y="647.5" font-size="16.2" font-weight="bold" font-style="italic">SLC38A5</text>
<text x="1821.0" y="666.5" font-size="16.2" font-weight="bold" font-style="italic">PGM3</text>
<text x="1821.0" y="685.5" font-size="16.2" font-weight="bold" font-style="italic">DOT1L</text>
<text x="1821.0" y="704.5" font-size="16.2" font-weight="bold" font-style="italic">MED23</text>
<text x="1821.0" y="723.5" font-size="16.2" font-weight="bold" font-style="italic">CCM2</text>
<text x="1821.0" y="742.6" font-size="16.2" font-weight="bold" font-style="italic">KRIT1</text>
<text x="1821.0" y="761.6" font-size="16.2" font-weight="bold" font-style="italic">MED13L</text>
<text x="1821.0" y="780.6" font-size="16.2" font-weight="bold" font-style="italic">SMAD7</text>
<text x="1821.0" y="799.6" font-size="16.2" font-weight="bold" font-style="italic">EP300</text>
<text x="1821.0" y="818.6" font-size="16.2" font-weight="bold" font-style="italic">PCGF1</text>
<text x="1821.0" y="837.6" font-size="16.2" font-weight="bold" font-style="italic">RING1</text>
<text x="1821.0" y="856.6" font-size="16.2" font-weight="bold" font-style="italic">SMARCD1</text>
<text x="1821.0" y="875.6" font-size="16.2" font-weight="bold" font-style="italic">CARM1</text>
<text x="1821.0" y="894.6" font-size="16.2" font-weight="bold" font-style="italic">IL6ST</text>
<text x="1821.0" y="913.6" font-size="16.2" font-weight="bold" font-style="italic">FBXO11</text>
<text x="1821.0" y="932.6" font-size="16.2" font-weight="bold" font-style="italic">ATP1B3</text>
<text x="1821.0" y="951.6" font-size="16.2" font-weight="bold" font-style="italic">GART</text>
<text x="1821.0" y="970.6" font-size="16.2" font-weight="bold" font-style="italic">MTHFD1</text>
<text x="1821.0" y="989.6" font-size="16.2" font-weight="bold" font-style="italic">ALG3</text>
<text x="1821.0" y="1008.6" font-size="16.2" font-weight="bold" font-style="italic">DPM1</text>
<text x="1821.0" y="1027.7" font-size="16.2" font-weight="bold" font-style="italic">IPPK</text>
<text x="1821.0" y="1046.7" font-size="16.2" font-weight="bold" font-style="italic">NMNAT1</text>
<text x="1821.0" y="1065.7" font-size="16.2" font-weight="bold" font-style="italic">ITPK1</text>
<text x="1821.0" y="1084.7" font-size="16.2" font-weight="bold" font-style="italic">LIPT1</text>
<text x="1821.0" y="1103.7" font-size="16.2" font-weight="bold" font-style="italic">ARID2</text>
<text x="1821.0" y="1122.7" font-size="16.2" font-weight="bold" font-style="italic">ALG9</text>
<text x="1821.0" y="1141.7" font-size="16.2" font-weight="bold" font-style="italic">MPDU1</text>
<text x="1821.0" y="1160.7" font-size="16.2" font-weight="bold" font-style="italic">FLVCR1</text>
<text x="1821.0" y="1179.7" font-size="16.2" font-weight="bold" font-style="italic">PMM2</text>
<text x="1821.0" y="1198.7" font-size="16.2" font-weight="bold" font-style="italic">DNAJB11</text>
<text x="1821.0" y="1217.7" font-size="16.2" font-weight="bold" font-style="italic">UBE2G2</text>
<text x="1821.0" y="1236.7" font-size="16.2" font-weight="bold" font-style="italic">NUP37</text>
<text x="1821.0" y="1255.7" font-size="16.2" font-weight="bold" font-style="italic">DMXL1</text>
<text x="1821.0" y="1274.7" font-size="16.2" font-weight="bold" font-style="italic">UBE2J1</text>
<text x="1821.0" y="1293.7" font-size="16.2" font-weight="bold" font-style="italic">CNPY2</text>
<text x="1821.0" y="1312.7" font-size="16.2" font-weight="bold" font-style="italic">MTA2</text>
<text x="1821.0" y="1331.8" font-size="16.2" font-weight="bold" font-style="italic">ARID1A</text>
<text x="1821.0" y="1350.8" font-size="16.2" font-weight="bold" font-style="italic">RPRD2</text>
<text x="1821.0" y="1369.8" font-size="16.2" font-weight="bold" font-style="italic">CCDC134</text>
<text x="1821.0" y="1388.8" font-size="16.2" font-weight="bold" font-style="italic">SEC23B</text>
<text x="1821.0" y="1407.8" font-size="16.2" font-weight="bold" font-style="italic">FGFR3</text>
<text x="1821.0" y="1426.8" font-size="16.2" font-weight="bold" font-style="italic">MAPK14</text>
<text x="1821.0" y="1445.8" font-size="16.2" font-weight="bold" font-style="italic">PFAS</text>
<text x="1821.0" y="1464.8" font-size="16.2" font-weight="bold" font-style="italic">VAPA</text>
<text x="1821.0" y="1483.8" font-size="16.2" font-weight="bold" font-style="italic">CHUK</text>
<text x="1821.0" y="1502.8" font-size="16.2" font-weight="bold" font-style="italic">NFKB1</text>
<text x="1821.0" y="1521.8" font-size="16.2" font-weight="bold" font-style="italic">CAD</text>
<text x="1821.0" y="1540.8" font-size="16.2" font-weight="bold" font-style="italic">IKBKB</text>
<text x="1821.0" y="1559.8" font-size="16.2" font-weight="bold" font-style="italic">RELB</text>
<text x="1821.0" y="1578.8" font-size="16.2" font-weight="bold" font-style="italic">IKZF3</text>
<text x="1821.0" y="1597.8" font-size="16.2" font-weight="bold" font-style="italic">HDAC1</text>
<text x="1821.0" y="1616.9" font-size="16.2" font-weight="bold" font-style="italic">SIK3</text>
<text x="1821.0" y="1635.9" font-size="16.2" font-weight="bold" font-style="italic">SUPT7L</text>
<text x="1821.0" y="1654.9" font-size="16.2" font-weight="bold" font-style="italic">ATP2C1</text>
<text x="1821.0" y="1673.9" font-size="16.2" font-weight="bold" font-style="italic">ERN1</text>
<text x="1821.0" y="1692.9" font-size="16.2" font-weight="bold" font-style="italic">ARHGAP45</text>
<text x="1821.0" y="1711.9" font-size="16.2" font-weight="bold" font-style="italic">CAB39</text>
<text x="1821.0" y="1730.9" font-size="16.2" font-weight="bold" font-style="italic">BCL2</text>
<text x="1821.0" y="1749.9" font-size="16.2" font-weight="bold" font-style="italic">XBP1</text>
<text x="1821.0" y="1768.9" font-size="16.2" font-weight="bold" font-style="italic">MBD2</text>
<text x="1821.0" y="1787.9" font-size="16.2" font-weight="bold" font-style="italic">ROCK1</text>
<text x="1821.0" y="1806.9" font-size="16.2" font-weight="bold" font-style="italic">DNAJC3</text>
<text x="1821.0" y="1825.9" font-size="16.2" font-weight="bold" font-style="italic">HERPUD1</text>
<text x="1821.0" y="1844.9" font-size="16.2" font-weight="bold" font-style="italic">SYVN1</text>
<text x="1821.0" y="1863.9" font-size="16.2" font-weight="bold" font-style="italic">ADSS2</text>
<text x="1821.0" y="1882.9" font-size="16.2" font-weight="bold" font-style="italic">IKZF1</text>
<text x="1821.0" y="1901.9" font-size="16.2" font-weight="bold" font-style="italic">ATXN2L</text>
<text x="1821.0" y="1921.0" font-size="16.2" font-weight="bold" font-style="italic">NAMPT</text>
<text x="1821.0" y="1940.0" font-size="16.2" font-weight="bold" font-style="italic">DUSP22</text>
<text x="1821.0" y="1959.0" font-size="16.2" font-weight="bold" font-style="italic">MEF2C</text>
<text x="1821.0" y="1978.0" font-size="16.2" font-weight="bold" font-style="italic">DLST</text>
<text x="1821.0" y="1997.0" font-size="16.2" font-weight="bold" font-style="italic">PIM2</text>
<text x="1821.0" y="2016.0" font-size="16.2" font-weight="bold" font-style="italic">CPEB4</text>
<text x="1821.0" y="2035.0" font-size="16.2" font-weight="bold" font-style="italic">IRF4</text>
<text x="1821.0" y="2054.0" font-size="16.2" font-weight="bold" font-style="italic">POU2AF1</text>
<text x="1821.0" y="2073.0" font-size="16.2" font-weight="bold" font-style="italic">OAZ1</text>
<text x="1821.0" y="2092.0" font-size="16.2" font-weight="bold" font-style="italic">CCND2</text>
<text x="1821.0" y="2111.0" font-size="16.2" font-weight="bold" font-style="italic">ZNF296</text>
<text x="1821.0" y="2130.0" font-size="16.2" font-weight="bold" font-style="italic">RBM15</text>
<text x="1821.0" y="2149.0" font-size="16.2" font-weight="bold" font-style="italic">TLE3</text>
<text x="1821.0" y="2168.0" font-size="16.2" font-weight="bold" font-style="italic">FURIN</text>
<text x="1821.0" y="2187.0" font-size="16.2" font-weight="bold" font-style="italic">IGF1R</text>
<text x="1821.0" y="2206.1" font-size="16.2" font-weight="bold" font-style="italic">STK11</text>
<text x="1821.0" y="2225.1" font-size="16.2" font-weight="bold" font-style="italic">TCF3</text>
<text x="1821.0" y="2244.1" font-size="16.2" font-weight="bold" font-style="italic">KDM5C</text>
<text x="1821.0" y="2263.1" font-size="16.2" font-weight="bold" font-style="italic">ZNF592</text>
<text x="1821.0" y="2282.1" font-size="16.2" font-weight="bold" font-style="italic">SUPT20H</text>
<text x="1821.0" y="2301.1" font-size="16.2" font-weight="bold" font-style="italic">TADA1</text>
<text x="1821.0" y="2320.1" font-size="16.2" font-weight="bold" font-style="italic">TAF5L</text>
<text x="1821.0" y="2339.1" font-size="16.2" font-weight="bold" font-style="italic">AK2</text>
<text x="1821.0" y="2358.1" font-size="16.2" font-weight="bold" font-style="italic">CTBP1</text>
<text x="1821.0" y="2377.1" font-size="16.2" font-weight="bold" font-style="italic">PRDM1</text>
<text x="1821.0" y="2396.1" font-size="16.2" font-weight="bold" font-style="italic">TSC2</text>
<text x="1821.0" y="2415.1" font-size="16.2" font-weight="bold" font-style="italic">IRS1</text>
<text x="1821.0" y="2434.1" font-size="16.2" font-weight="bold" font-style="italic">CBFB</text>
<text x="1821.0" y="2453.1" font-size="16.2" font-weight="bold" font-style="italic">PPCDC</text>
<text x="1821.0" y="2472.1" font-size="16.2" font-weight="bold" font-style="italic">UBALD2</text>
<text x="1821.0" y="2491.1" font-size="16.2" font-weight="bold" font-style="italic">FEM1B</text>
<text x="1821.0" y="2510.2" font-size="16.2" font-weight="bold" font-style="italic">MARCHF5</text>
<text x="1821.0" y="2529.2" font-size="16.2" font-weight="bold" font-style="italic">VPS52</text>
<text x="1821.0" y="2548.2" font-size="16.2" font-weight="bold" font-style="italic">GLS</text>
<text x="1821.0" y="2567.2" font-size="16.2" font-weight="bold" font-style="italic">PCGF5</text>
<text x="1821.0" y="2586.2" font-size="16.2" font-weight="bold" font-style="italic">XPO4</text>
<text x="1821.0" y="2605.2" font-size="16.2" font-weight="bold" font-style="italic">MBNL1</text>
<text x="1821.0" y="2624.2" font-size="16.2" font-weight="bold" font-style="italic">ZEB1</text>
<path d="M1348.8,432.8H1379.6M1348.8,451.8H1379.6M1348.8,432.8V451.8M1329.3,442.3H1348.8M1329.3,470.8H1379.6M1329.3,442.3V470.8M1351.1,508.8H1379.6M1351.1,527.8H1379.6M1351.1,508.8V527.8M1348.8,518.3H1351.1M1348.8,546.8H1379.6M1348.8,518.3V546.8M1337.0,489.8H1379.6M1337.0,532.5H1348.8M1337.0,489.8V532.5M1360.3,584.8H1379.6M1360.3,603.8H1379.6M1360.3,584.8V603.8M1351.1,565.8H1379.6M1351.1,594.3H1360.3M1351.1,565.8V594.3M1330.9,511.2H1337.0M1330.9,580.1H1351.1M1330.9,511.2V580.1M1350.4,622.8H1379.6M1350.4,641.8H1379.6M1350.4,622.8V641.8M1330.9,632.3H1350.4M1330.9,660.8H1379.6M1330.9,632.3V660.8M1324.7,545.6H1330.9M1324.7,646.6H1330.9M1324.7,545.6V646.6M1314.8,456.5H1329.3M1314.8,596.1H1324.7M1314.8,456.5V596.1M1345.1,679.8H1379.6M1345.1,698.8H1379.6M1345.1,679.8V698.8M1363.1,717.9H1379.6M1363.1,736.9H1379.6M1363.1,717.9V736.9M1363.1,755.9H1379.6M1363.1,774.9H1379.6M1363.1,755.9V774.9M1337.6,727.4H1363.1M1337.6,765.4H1363.1M1337.6,727.4V765.4M1329.2,689.3H1345.1M1329.2,746.4H1337.6M1329.2,689.3V746.4M1343.4,831.9H1379.6M1343.4,850.9H1379.6M1343.4,831.9V850.9M1341.8,812.9H1379.6M1341.8,841.4H1343.4M1341.8,812.9V841.4M1330.4,793.9H1379.6M1330.4,827.1H1341.8M1330.4,793.9V827.1M1320.9,717.9H1329.2M1320.9,810.5H1330.4M1320.9,717.9V810.5M1307.2,526.3H1314.8M1307.2,764.2H1320.9M1307.2,526.3V764.2M1357.6,869.9H1379.6M1357.6,888.9H1379.6M1357.6,869.9V888.9M1360.1,945.9H1379.6M1360.1,964.9H1379.6M1360.1,945.9V964.9M1351.0,926.9H1379.6M1351.0,955.4H1360.1M1351.0,926.9V955.4M1330.4,907.9H1379.6M1330.4,941.2H1351.0M1330.4,907.9V941.2M1323.0,879.4H1357.6M1323.0,924.5H1330.4M1323.0,879.4V924.5M1368.0,983.9H1379.6M1368.0,1002.9H1379.6M1368.0,983.9V1002.9M1351.0,993.4H1368.0M1351.0,1022.0H1379.6M1351.0,993.4V1022.0M1341.8,1007.7H1351.0M1341.8,1041.0H1379.6M1341.8,1007.7V1041.0M1352.6,1060.0H1379.6M1352.6,1079.0H1379.6M1352.6,1060.0V1079.0M1333.1,1024.3H1341.8M1333.1,1069.5H1352.6M1333.1,1024.3V1069.5M1362.6,1117.0H1379.6M1362.6,1136.0H1379.6M1362.6,1117.0V1136.0M1342.6,1098.0H1379.6M1342.6,1126.5H1362.6M1342.6,1098.0V1126.5M1358.1,1155.0H1379.6M1358.1,1174.0H1379.6M1358.1,1155.0V1174.0M1356.8,1193.0H1379.6M1356.8,1212.0H1379.6M1356.8,1193.0V1212.0M1353.8,1202.5H1356.8M1353.8,1231.0H1379.6M1353.8,1202.5V1231.0M1348.1,1164.5H1358.1M1348.1,1216.8H1353.8M1348.1,1164.5V1216.8M1356.0,1250.0H1379.6M1356.0,1269.0H1379.6M1356.0,1250.0V1269.0M1336.7,1190.6H1348.1M1336.7,1259.5H1356.0M1336.7,1190.6V1259.5M1329.2,1112.2H1342.6M1329.2,1225.1H1336.7M1329.2,1112.2V1225.1M1323.0,1046.9H1333.1M1323.0,1168.7H1329.2M1323.0,1046.9V1168.7M1315.0,902.0H1323.0M1315.0,1107.8H1323.0M1315.0,902.0V1107.8M1361.8,1288.0H1379.6M1361.8,1307.1H1379.6M1361.8,1288.0V1307.1M1357.1,1326.1H1379.6M1357.1,1345.1H1379.6M1357.1,1326.1V1345.1M1345.1,1297.5H1361.8M1345.1,1335.6H1357.1M1345.1,1297.5V1335.6M1361.0,1364.1H1379.6M1361.0,1383.1H1379.6M1361.0,1364.1V1383.1M1342.1,1316.6H1345.1M1342.1,1373.6H1361.0M1342.1,1316.6V1373.6M1358.4,1402.1H1379.6M1358.4,1421.1H1379.6M1358.4,1402.1V1421.1M1343.9,1440.1H1379.6M1343.9,1459.1H1379.6M1343.9,1440.1V1459.1M1331.7,1411.6H1358.4M1331.7,1449.6H1343.9M1331.7,1411.6V1449.6M1325.9,1345.1H1342.1M1325.9,1430.6H1331.7M1325.9,1345.1V1430.6M1316.4,1004.9H1315.0M1316.4,1387.8H1325.9M1316.4,1004.9V1387.8M1361.8,1478.1H1379.6M1361.8,1497.1H1379.6M1361.8,1478.1V1497.1M1359.3,1535.1H1379.6M1359.3,1554.1H1379.6M1359.3,1535.1V1554.1M1351.4,1516.1H1379.6M1351.4,1544.6H1359.3M1351.4,1516.1V1544.6M1346.8,1487.6H1361.8M1346.8,1530.4H1351.4M1346.8,1487.6V1530.4M1342.6,1509.0H1346.8M1342.6,1573.1H1379.6M1342.6,1509.0V1573.1M1348.4,1592.1H1379.6M1348.4,1611.2H1379.6M1348.4,1592.1V1611.2M1334.7,1601.7H1348.4M1334.7,1630.2H1379.6M1334.7,1601.7V1630.2M1319.2,1541.1H1342.6M1319.2,1615.9H1334.7M1319.2,1541.1V1615.9M1347.6,1649.2H1379.6M1347.6,1668.2H1379.6M1347.6,1649.2V1668.2M1363.5,1725.2H1379.6M1363.5,1744.2H1379.6M1363.5,1725.2V1744.2M1352.6,1734.7H1363.5M1352.6,1763.2H1379.6M1352.6,1734.7V1763.2M1349.3,1706.2H1379.6M1349.3,1749.0H1352.6M1349.3,1706.2V1749.0M1364.8,1820.2H1379.6M1364.8,1839.2H1379.6M1364.8,1820.2V1839.2M1359.0,1801.2H1379.6M1359.0,1829.7H1364.8M1359.0,1801.2V1829.7M1343.9,1782.2H1379.6M1343.9,1815.5H1359.0M1343.9,1782.2V1815.5M1345.1,1727.6H1349.3M1345.1,1798.8H1343.9M1345.1,1727.6V1798.8M1341.8,1687.2H1379.6M1341.8,1763.2H1345.1M1341.8,1687.2V1763.2M1333.1,1658.7H1347.6M1333.1,1725.2H1341.8M1333.1,1658.7V1725.2M1353.8,1858.2H1379.6M1353.8,1877.2H1379.6M1353.8,1858.2V1877.2M1362.3,1896.3H1379.6M1362.3,1915.3H1379.6M1362.3,1896.3V1915.3M1340.1,1867.7H1353.8M1340.1,1905.8H1362.3M1340.1,1867.7V1905.8M1346.8,1934.3H1379.6M1346.8,1953.3H1379.6M1346.8,1934.3V1953.3M1345.9,1972.3H1379.6M1345.9,1991.3H1379.6M1345.9,1972.3V1991.3M1363.1,2010.3H1379.6M1363.1,2029.3H1379.6M1363.1,2010.3V2029.3M1361.0,2019.8H1363.1M1361.0,2048.3H1379.6M1361.0,2019.8V2048.3M1348.8,2034.0H1361.0M1348.8,2067.3H1379.6M1348.8,2034.0V2067.3M1340.9,1981.8H1345.9M1340.9,2050.7H1348.8M1340.9,1981.8V2050.7M1336.2,1943.8H1346.8M1336.2,2016.2H1340.9M1336.2,1943.8V2016.2M1351.8,2086.3H1379.6M1351.8,2105.3H1379.6M1351.8,2086.3V2105.3M1344.8,2124.3H1379.6M1344.8,2143.3H1379.6M1344.8,2124.3V2143.3M1338.1,2095.8H1351.8M1338.1,2133.8H1344.8M1338.1,2095.8V2133.8M1331.7,1980.0H1336.2M1331.7,2114.8H1338.1M1331.7,1980.0V2114.8M1330.1,1886.7H1340.1M1330.1,2047.4H1331.7M1330.1,1886.7V2047.4M1359.3,2162.3H1379.6M1359.3,2181.3H1379.6M1359.3,2162.3V2181.3M1356.0,2200.4H1379.6M1356.0,2219.4H1379.6M1356.0,2200.4V2219.4M1342.9,2171.8H1359.3M1342.9,2209.9H1356.0M1342.9,2171.8V2209.9M1347.6,2238.4H1379.6M1347.6,2257.4H1379.6M1347.6,2238.4V2257.4M1361.8,2276.4H1379.6M1361.8,2295.4H1379.6M1361.8,2276.4V2295.4M1351.8,2285.9H1361.8M1351.8,2314.4H1379.6M1351.8,2285.9V2314.4M1343.9,2247.9H1347.6M1343.9,2300.1H1351.8M1343.9,2247.9V2300.1M1331.7,2190.9H1342.9M1331.7,2274.0H1343.9M1331.7,2190.9V2274.0M1326.7,1967.1H1330.1M1326.7,2232.4H1331.7M1326.7,1967.1V2232.4M1323.5,1691.9H1333.1M1323.5,2099.8H1326.7M1323.5,1691.9V2099.8M1316.4,1578.5H1319.2M1316.4,1895.8H1323.5M1316.4,1578.5V1895.8M1350.0,2352.4H1379.6M1350.0,2371.4H1379.6M1350.0,2352.4V2371.4M1342.9,2333.4H1379.6M1342.9,2361.9H1350.0M1342.9,2333.4V2361.9M1324.2,2347.7H1342.9M1324.2,2390.4H1379.6M1324.2,2347.7V2390.4M1352.1,2428.4H1379.6M1352.1,2447.4H1379.6M1352.1,2428.4V2447.4M1347.1,2437.9H1352.1M1347.1,2466.4H1379.6M1347.1,2437.9V2466.4M1336.7,2409.4H1379.6M1336.7,2452.2H1347.1M1336.7,2409.4V2452.2M1356.1,2504.5H1379.6M1356.1,2523.5H1379.6M1356.1,2504.5V2523.5M1341.2,2485.5H1379.6M1341.2,2514.0H1356.1M1341.2,2485.5V2514.0M1332.8,2430.8H1336.7M1332.8,2499.7H1341.2M1332.8,2430.8V2499.7M1320.9,2369.0H1324.2M1320.9,2465.3H1332.8M1320.9,2369.0V2465.3M1313.8,1737.2H1316.4M1313.8,2417.1H1320.9M1313.8,1737.2V2417.1M1346.9,2542.5H1379.6M1346.9,2561.5H1379.6M1346.9,2542.5V2561.5M1336.3,2552.0H1346.9M1336.3,2580.5H1379.6M1336.3,2552.0V2580.5M1353.5,2599.5H1379.6M1353.5,2618.5H1379.6M1353.5,2599.5V2618.5M1326.7,2566.2H1336.3M1326.7,2609.0H1353.5M1326.7,2566.2V2609.0M1311.3,2077.2H1313.8M1311.3,2587.6H1326.7M1311.3,2077.2V2587.6M1309.2,1196.4H1316.4M1309.2,2332.4H1311.3M1309.2,1196.4V2332.4M1305.0,645.2H1307.2M1305.0,1764.4H1309.2M1305.0,645.2V1764.4" fill="none" stroke="#000" stroke-width="2.3" stroke-linecap="square"/>
<rect x="1839.20" y="9.10" width="24.20" height="23.20" fill="#ffffff" stroke="#111" stroke-width="1.3"/>
<text x="1869.4" y="27.6" font-size="16.8" font-weight="bold">Wt</text>
<rect x="1839.20" y="49.90" width="24.20" height="23.20" fill="#1f9c78" stroke="#111" stroke-width="1.3"/>
<text x="1869.4" y="67.7" font-size="16.8" font-weight="bold">Mut</text>
<rect x="1839.20" y="91.50" width="24.20" height="23.20" fill="#d8642a" stroke="#111" stroke-width="1.3"/>
<text x="1869.4" y="106.9" font-size="16.8" font-weight="bold">Transloc</text>
<rect x="1839.20" y="132.10" width="24.20" height="23.20" fill="#f39322" stroke="#111" stroke-width="1.3"/>
<text x="1869.4" y="138.8" font-size="16.8" font-weight="bold">homoz</text>
<text x="1869.4" y="155.7" font-size="16.8" font-weight="bold">del</text>
<rect x="1839.20" y="172.70" width="24.20" height="23.20" fill="#e9212a" stroke="#111" stroke-width="1.3"/>
<text x="1869.4" y="186.2" font-size="16.8" font-weight="bold">mut</text>
<rect x="1839.20" y="213.80" width="24.20" height="23.20" fill="#dce21e" stroke="#111" stroke-width="1.3"/>
<text x="1869.4" y="224.3" font-size="16.8" font-weight="bold">WT CNV</text>
<text x="1869.4" y="240.5" font-size="16.8" font-weight="bold">loss</text>
<rect x="1839.20" y="254.70" width="24.20" height="23.20" fill="#9591b9" stroke="#111" stroke-width="1.3"/>
<text x="1869.4" y="269.8" font-size="16.8" font-weight="bold">Ectopic</text>
<rect x="1839.20" y="295.70" width="24.20" height="23.20" fill="#3b55a8" stroke="#111" stroke-width="1.3"/>
<text x="1869.4" y="314.3" font-size="16.8" font-weight="bold">MAF dep</text>
<rect x="1839.20" y="336.20" width="24.20" height="23.20" fill="#87c5ec" stroke="#111" stroke-width="1.3"/>
<text x="1869.4" y="345.2" font-size="16.8" font-weight="bold">MAFB</text>
<text x="1869.4" y="360.8" font-size="16.8" font-weight="bold">dep</text>
<rect x="1839.20" y="376.60" width="24.20" height="23.20" fill="#f5b5d3" stroke="#111" stroke-width="1.3"/>
<text x="1869.4" y="382.6" font-size="16.8" font-weight="bold">indepen</text>
<text x="1869.4" y="398.8" font-size="16.8" font-weight="bold">MAF</text>
<text x="1869.4" y="415.5" font-size="16.8" font-weight="bold">MAFB</text>
<defs><linearGradient id="cbg" x1="0" x2="1" y1="0" y2="0"><stop offset="0" stop-color="#0e0e16"/><stop offset="0.12" stop-color="#1c1c34"/><stop offset="0.26" stop-color="#3a4ca6"/><stop offset="0.31" stop-color="#ffffff"/><stop offset="0.69" stop-color="#ffffff"/><stop offset="0.735" stop-color="#f39024"/><stop offset="1" stop-color="#e83a24"/></linearGradient></defs>
<rect x="1452.20" y="2666.70" width="322.60" height="24.70" fill="url(#cbg)" stroke="#000" stroke-width="1.6"/>
<text x="1458.4" y="2713.8" font-size="22" font-weight="bold" text-anchor="middle">-1.00</text>
<text x="1540.2" y="2713.8" font-size="22" font-weight="bold" text-anchor="middle">-0.50</text>
<text x="1619.0" y="2713.8" font-size="22" font-weight="bold" text-anchor="middle">0.00</text>
<text x="1699.0" y="2713.8" font-size="22" font-weight="bold" text-anchor="middle">0.50</text>
<text x="1779.7" y="2713.8" font-size="22" font-weight="bold" text-anchor="middle">1.00</text>
<line x1="1265.0" y1="2678.0" x2="1265.0" y2="2685.0" stroke="#444" stroke-width="1.5"/>
</svg></body></html>
